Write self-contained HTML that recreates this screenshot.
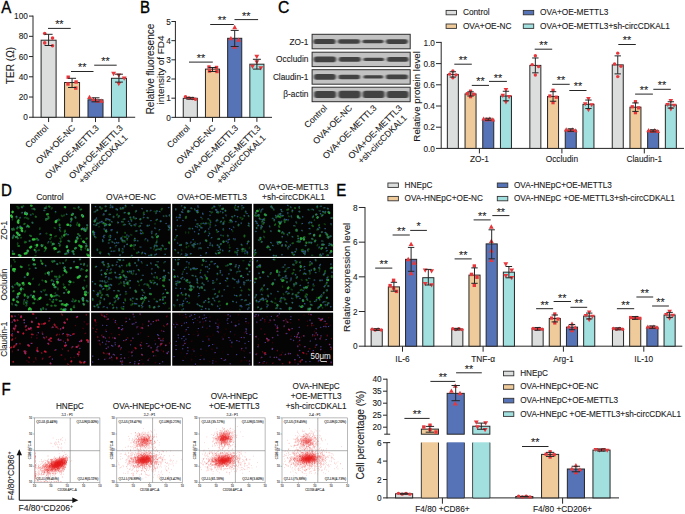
<!DOCTYPE html>
<html><head><meta charset="utf-8"><style>html,body{margin:0;padding:0;background:#fff;overflow:hidden}svg{display:block}</style></head>
<body><svg width="685" height="514" viewBox="0 0 685 514" font-family='"Liberation Sans", sans-serif'>
<style>text{stroke:#1a1a1a;stroke-width:0.1px;paint-order:stroke}</style>
<rect width="685" height="514" fill="#fff"/>
<text x="0" y="0" font-size="16.2" text-anchor="start" fill="#000" transform="translate(1.2 12.9) scale(0.93 1)" style="stroke:#000;stroke-width:0.35px">A</text>
<line x1="33" y1="15.6" x2="33" y2="117.75" stroke="#262626" stroke-width="1"/>
<line x1="29" y1="117.25" x2="33" y2="117.25" stroke="#262626" stroke-width="1"/>
<text x="0" y="0" font-size="8.9" text-anchor="end" fill="#1a1a1a" transform="translate(27.9 120.4) scale(0.93 1)">0</text>
<line x1="29" y1="97.02" x2="33" y2="97.02" stroke="#262626" stroke-width="1"/>
<text x="0" y="0" font-size="8.9" text-anchor="end" fill="#1a1a1a" transform="translate(27.9 100.17) scale(0.93 1)">20</text>
<line x1="29" y1="76.79" x2="33" y2="76.79" stroke="#262626" stroke-width="1"/>
<text x="0" y="0" font-size="8.9" text-anchor="end" fill="#1a1a1a" transform="translate(27.9 79.94) scale(0.93 1)">40</text>
<line x1="29" y1="56.56" x2="33" y2="56.56" stroke="#262626" stroke-width="1"/>
<text x="0" y="0" font-size="8.9" text-anchor="end" fill="#1a1a1a" transform="translate(27.9 59.71) scale(0.93 1)">60</text>
<line x1="29" y1="36.33" x2="33" y2="36.33" stroke="#262626" stroke-width="1"/>
<text x="0" y="0" font-size="8.9" text-anchor="end" fill="#1a1a1a" transform="translate(27.9 39.48) scale(0.93 1)">80</text>
<line x1="29" y1="16.1" x2="33" y2="16.1" stroke="#262626" stroke-width="1"/>
<text x="0" y="0" font-size="8.9" text-anchor="end" fill="#1a1a1a" transform="translate(27.9 19.25) scale(0.93 1)">100</text>
<line x1="33" y1="117.25" x2="135.2" y2="117.25" stroke="#262626" stroke-width="1"/>
<rect x="41.1" y="40.2" width="15" height="77.05" fill="#dcdddd" stroke="#262626" stroke-width="1"/>
<line x1="48.6" y1="117.25" x2="48.6" y2="122.05" stroke="#262626" stroke-width="1"/>
<rect x="64.55" y="82.5" width="15" height="34.75" fill="#efca9b" stroke="#262626" stroke-width="1"/>
<line x1="72.05" y1="117.25" x2="72.05" y2="122.05" stroke="#262626" stroke-width="1"/>
<rect x="88" y="99.8" width="15" height="17.45" fill="#5673b7" stroke="#262626" stroke-width="1"/>
<line x1="95.5" y1="117.25" x2="95.5" y2="122.05" stroke="#262626" stroke-width="1"/>
<rect x="111.45" y="78.3" width="15" height="38.95" fill="#a2e0e0" stroke="#262626" stroke-width="1"/>
<line x1="118.95" y1="117.25" x2="118.95" y2="122.05" stroke="#262626" stroke-width="1"/>
<circle cx="44.7" cy="33.5" r="1.8" fill="#e8373c"/>
<circle cx="52.5" cy="38.1" r="1.8" fill="#e8373c"/>
<circle cx="44.7" cy="42.9" r="1.8" fill="#e8373c"/>
<circle cx="52.5" cy="45.7" r="1.8" fill="#e8373c"/>
<line x1="48.6" y1="34.3" x2="48.6" y2="45.5" stroke="#262626" stroke-width="1"/>
<line x1="44.6" y1="34.3" x2="52.6" y2="34.3" stroke="#262626" stroke-width="1"/>
<line x1="44.6" y1="45.5" x2="52.6" y2="45.5" stroke="#262626" stroke-width="1"/>
<rect x="66.5" y="75.5" width="3.4" height="3.4" fill="#e8373c"/>
<rect x="74.4" y="80.3" width="3.4" height="3.4" fill="#e8373c"/>
<rect x="66.3" y="82.3" width="3.4" height="3.4" fill="#e8373c"/>
<rect x="74.1" y="86.4" width="3.4" height="3.4" fill="#e8373c"/>
<line x1="72.05" y1="78.3" x2="72.05" y2="87.5" stroke="#262626" stroke-width="1"/>
<line x1="68.05" y1="78.3" x2="76.05" y2="78.3" stroke="#262626" stroke-width="1"/>
<line x1="68.05" y1="87.5" x2="76.05" y2="87.5" stroke="#262626" stroke-width="1"/>
<path d="M89.5 94.75L91.95 99.04L87.05 99.04Z" fill="#e8373c"/>
<path d="M93.5 97.05L95.95 101.34L91.05 101.34Z" fill="#e8373c"/>
<path d="M97.5 98.55L99.95 102.84L95.05 102.84Z" fill="#e8373c"/>
<path d="M101.5 98.55L103.95 102.84L99.05 102.84Z" fill="#e8373c"/>
<line x1="95.5" y1="97.8" x2="95.5" y2="101.8" stroke="#262626" stroke-width="1"/>
<line x1="91.5" y1="97.8" x2="99.5" y2="97.8" stroke="#262626" stroke-width="1"/>
<line x1="91.5" y1="101.8" x2="99.5" y2="101.8" stroke="#262626" stroke-width="1"/>
<path d="M113.6 76.15L116.05 71.86L111.15 71.86Z" fill="#e8373c"/>
<path d="M118.8 77.75L121.25 73.46L116.35 73.46Z" fill="#e8373c"/>
<path d="M124.2 80.75L126.65 76.46L121.75 76.46Z" fill="#e8373c"/>
<path d="M118.8 86.35L121.25 82.06L116.35 82.06Z" fill="#e8373c"/>
<line x1="118.95" y1="74.2" x2="118.95" y2="82.1" stroke="#262626" stroke-width="1"/>
<line x1="114.95" y1="74.2" x2="122.95" y2="74.2" stroke="#262626" stroke-width="1"/>
<line x1="114.95" y1="82.1" x2="122.95" y2="82.1" stroke="#262626" stroke-width="1"/>
<line x1="48" y1="28.4" x2="70.7" y2="28.4" stroke="#262626" stroke-width="1"/>
<text x="59.35" y="28.15" font-size="10.8" text-anchor="middle" fill="#1a1a1a">**</text>
<line x1="71" y1="71.5" x2="93.5" y2="71.5" stroke="#262626" stroke-width="1"/>
<text x="82.25" y="71.35" font-size="10.8" text-anchor="middle" fill="#1a1a1a">**</text>
<line x1="94.2" y1="65.2" x2="116.7" y2="65.2" stroke="#262626" stroke-width="1"/>
<text x="105.45" y="65.45" font-size="10.8" text-anchor="middle" fill="#1a1a1a">**</text>
<text x="0" y="0" font-size="10.1" text-anchor="middle" fill="#1a1a1a" transform="translate(14.2 65.5) rotate(-90)">TER (Ω)</text>
<text x="0" y="0" font-size="8.75" text-anchor="end" fill="#1a1a1a" transform="translate(48.8 128.45) rotate(-45)">Control</text>
<text x="0" y="0" font-size="8.75" text-anchor="end" fill="#1a1a1a" transform="translate(75.65 128.45) rotate(-45)">OVA+OE-NC</text>
<text x="0" y="0" font-size="8.75" text-anchor="end" fill="#1a1a1a" transform="translate(99.5 128.45) rotate(-45)">OVA+OE-METTL3</text>
<text x="0" y="0" font-size="8.75" text-anchor="middle" fill="#1a1a1a" transform="translate(97.88 154.02) rotate(-45)">OVA+OE-METTL3</text>
<text x="0" y="0" font-size="8.75" text-anchor="middle" fill="#1a1a1a" transform="translate(105.23 161.37) rotate(-45)">+sh-circCDKAL1</text>
<text x="0" y="0" font-size="16.2" text-anchor="start" fill="#000" transform="translate(140 13.1) scale(0.93 1)" style="stroke:#000;stroke-width:0.35px">B</text>
<line x1="175.4" y1="21" x2="175.4" y2="117.85" stroke="#262626" stroke-width="1"/>
<line x1="171.4" y1="117.35" x2="175.4" y2="117.35" stroke="#262626" stroke-width="1"/>
<text x="0" y="0" font-size="8.9" text-anchor="end" fill="#1a1a1a" transform="translate(170.9 120.5) scale(0.93 1)">0</text>
<line x1="171.4" y1="98.18" x2="175.4" y2="98.18" stroke="#262626" stroke-width="1"/>
<text x="0" y="0" font-size="8.9" text-anchor="end" fill="#1a1a1a" transform="translate(170.9 101.33) scale(0.93 1)">1</text>
<line x1="171.4" y1="79.01" x2="175.4" y2="79.01" stroke="#262626" stroke-width="1"/>
<text x="0" y="0" font-size="8.9" text-anchor="end" fill="#1a1a1a" transform="translate(170.9 82.16) scale(0.93 1)">2</text>
<line x1="171.4" y1="59.84" x2="175.4" y2="59.84" stroke="#262626" stroke-width="1"/>
<text x="0" y="0" font-size="8.9" text-anchor="end" fill="#1a1a1a" transform="translate(170.9 62.99) scale(0.93 1)">3</text>
<line x1="171.4" y1="40.67" x2="175.4" y2="40.67" stroke="#262626" stroke-width="1"/>
<text x="0" y="0" font-size="8.9" text-anchor="end" fill="#1a1a1a" transform="translate(170.9 43.82) scale(0.93 1)">4</text>
<line x1="171.4" y1="21.5" x2="175.4" y2="21.5" stroke="#262626" stroke-width="1"/>
<text x="0" y="0" font-size="8.9" text-anchor="end" fill="#1a1a1a" transform="translate(170.9 24.65) scale(0.93 1)">5</text>
<line x1="175.4" y1="117.35" x2="272" y2="117.35" stroke="#262626" stroke-width="1"/>
<rect x="183.25" y="98.3" width="14.1" height="19.05" fill="#dcdddd" stroke="#262626" stroke-width="1"/>
<line x1="190.3" y1="117.35" x2="190.3" y2="121.85" stroke="#262626" stroke-width="1"/>
<rect x="205.45" y="69.1" width="14.1" height="48.25" fill="#efca9b" stroke="#262626" stroke-width="1"/>
<line x1="212.5" y1="117.35" x2="212.5" y2="121.85" stroke="#262626" stroke-width="1"/>
<rect x="227.65" y="38.3" width="14.1" height="79.05" fill="#5673b7" stroke="#262626" stroke-width="1"/>
<line x1="234.7" y1="117.35" x2="234.7" y2="121.85" stroke="#262626" stroke-width="1"/>
<rect x="249.85" y="64.2" width="14.1" height="53.15" fill="#a2e0e0" stroke="#262626" stroke-width="1"/>
<line x1="256.9" y1="117.35" x2="256.9" y2="121.85" stroke="#262626" stroke-width="1"/>
<circle cx="185.5" cy="96.8" r="1.8" fill="#e8373c"/>
<circle cx="189" cy="98" r="1.8" fill="#e8373c"/>
<circle cx="192.5" cy="98.5" r="1.8" fill="#e8373c"/>
<circle cx="195.5" cy="99.2" r="1.8" fill="#e8373c"/>
<line x1="190.3" y1="97.4" x2="190.3" y2="99.2" stroke="#262626" stroke-width="1"/>
<line x1="186.3" y1="97.4" x2="194.3" y2="97.4" stroke="#262626" stroke-width="1"/>
<line x1="186.3" y1="99.2" x2="194.3" y2="99.2" stroke="#262626" stroke-width="1"/>
<rect x="207.3" y="65.3" width="3.4" height="3.4" fill="#e8373c"/>
<rect x="214.8" y="65.8" width="3.4" height="3.4" fill="#e8373c"/>
<rect x="207.8" y="69.3" width="3.4" height="3.4" fill="#e8373c"/>
<rect x="215.3" y="69.8" width="3.4" height="3.4" fill="#e8373c"/>
<line x1="212.5" y1="67.5" x2="212.5" y2="71.5" stroke="#262626" stroke-width="1"/>
<line x1="208.5" y1="67.5" x2="216.5" y2="67.5" stroke="#262626" stroke-width="1"/>
<line x1="208.5" y1="71.5" x2="216.5" y2="71.5" stroke="#262626" stroke-width="1"/>
<path d="M234.7 24.85L237.15 29.14L232.25 29.14Z" fill="#e8373c"/>
<path d="M230.9 36.05L233.35 40.34L228.45 40.34Z" fill="#e8373c"/>
<path d="M238.5 37.55L240.95 41.84L236.05 41.84Z" fill="#e8373c"/>
<path d="M234.7 44.55L237.15 48.84L232.25 48.84Z" fill="#e8373c"/>
<line x1="234.7" y1="30.4" x2="234.7" y2="46.5" stroke="#262626" stroke-width="1"/>
<line x1="230.7" y1="30.4" x2="238.7" y2="30.4" stroke="#262626" stroke-width="1"/>
<line x1="230.7" y1="46.5" x2="238.7" y2="46.5" stroke="#262626" stroke-width="1"/>
<path d="M256.8 58.95L259.25 54.66L254.35 54.66Z" fill="#e8373c"/>
<path d="M256.8 64.45L259.25 60.16L254.35 60.16Z" fill="#e8373c"/>
<path d="M252.5 68.95L254.95 64.66L250.05 64.66Z" fill="#e8373c"/>
<path d="M260.8 70.45L263.25 66.16L258.35 66.16Z" fill="#e8373c"/>
<line x1="256.9" y1="59.3" x2="256.9" y2="69.1" stroke="#262626" stroke-width="1"/>
<line x1="252.9" y1="59.3" x2="260.9" y2="59.3" stroke="#262626" stroke-width="1"/>
<line x1="252.9" y1="69.1" x2="260.9" y2="69.1" stroke="#262626" stroke-width="1"/>
<line x1="189" y1="62.1" x2="212.8" y2="62.1" stroke="#262626" stroke-width="1"/>
<text x="200.9" y="62.25" font-size="10.8" text-anchor="middle" fill="#1a1a1a">**</text>
<line x1="210.2" y1="24.5" x2="233.8" y2="24.5" stroke="#262626" stroke-width="1"/>
<text x="222" y="24.45" font-size="10.8" text-anchor="middle" fill="#1a1a1a">**</text>
<line x1="234.5" y1="19.6" x2="258.1" y2="19.6" stroke="#262626" stroke-width="1"/>
<text x="246.3" y="20.15" font-size="10.8" text-anchor="middle" fill="#1a1a1a">**</text>
<text x="0" y="0" font-size="10" text-anchor="middle" fill="#1a1a1a" transform="translate(154.1 69.05) rotate(-90)">Relative fluoresence</text>
<text x="0" y="0" font-size="9.95" text-anchor="middle" fill="#1a1a1a" transform="translate(163.9 70) rotate(-90)">intensity of FD4</text>
<text x="0" y="0" font-size="8.75" text-anchor="end" fill="#1a1a1a" transform="translate(190.5 128.55) rotate(-45)">Control</text>
<text x="0" y="0" font-size="8.75" text-anchor="end" fill="#1a1a1a" transform="translate(216.1 128.55) rotate(-45)">OVA+OE-NC</text>
<text x="0" y="0" font-size="8.75" text-anchor="end" fill="#1a1a1a" transform="translate(238.7 128.55) rotate(-45)">OVA+OE-METTL3</text>
<text x="0" y="0" font-size="8.75" text-anchor="middle" fill="#1a1a1a" transform="translate(235.83 154.12) rotate(-45)">OVA+OE-METTL3</text>
<text x="0" y="0" font-size="8.75" text-anchor="middle" fill="#1a1a1a" transform="translate(243.18 161.47) rotate(-45)">+sh-circCDKAL1</text>
<text x="0" y="0" font-size="16.2" text-anchor="start" fill="#000" transform="translate(277.9 13.3) scale(0.97 1)" style="stroke:#000;stroke-width:0.35px">C</text>
<text x="308.4" y="44.55" font-size="8.3" text-anchor="end" fill="#1a1a1a">ZO-1</text>
<text x="308.4" y="62.4" font-size="8.3" text-anchor="end" fill="#1a1a1a">Occludin</text>
<text x="308.4" y="79.95" font-size="8.3" text-anchor="end" fill="#1a1a1a">Claudin-1</text>
<text x="308.4" y="97.45" font-size="8.3" text-anchor="end" fill="#1a1a1a">β-actin</text>
<defs><filter id="bb" x="-20%" y="-50%" width="140%" height="200%"><feGaussianBlur stdDeviation="1.0 0.75"/></filter></defs>
<rect x="312.1" y="34.3" width="98.1" height="14.5" fill="#c2c2c2" stroke="#2e2e2e" stroke-width="1"/>
<g filter="url(#bb)"><rect x="313.4" y="39" width="22.2" height="5.1" rx="2.55" fill="#424242"/><rect x="337.9" y="39.25" width="22.2" height="4.6" rx="2.3" fill="#424242"/><rect x="362.4" y="39.75" width="21.2" height="3.6" rx="1.8" fill="#424242"/><rect x="385.9" y="39.15" width="22" height="4.8" rx="2.4" fill="#424242"/></g>
<rect x="312.1" y="52.2" width="98.1" height="14.4" fill="#c2c2c2" stroke="#2e2e2e" stroke-width="1"/>
<g filter="url(#bb)"><rect x="313.7" y="56.6" width="22.4" height="5.6" rx="2.8" fill="#424242"/><rect x="338.7" y="57.1" width="22.1" height="4.6" rx="2.3" fill="#424242"/><rect x="363.4" y="57.7" width="20.7" height="3.4" rx="1.7" fill="#424242"/><rect x="386.8" y="57.1" width="21.8" height="4.6" rx="2.3" fill="#424242"/></g>
<rect x="312.1" y="69.7" width="98.1" height="14.5" fill="#c2c2c2" stroke="#2e2e2e" stroke-width="1"/>
<g filter="url(#bb)"><rect x="313.9" y="74.05" width="22" height="5.8" rx="2.8" fill="#424242"/><rect x="338.4" y="74.75" width="21.7" height="4.4" rx="2.2" fill="#424242"/><rect x="363.4" y="75.35" width="19.8" height="3.2" rx="1.6" fill="#424242"/><rect x="385.9" y="74.55" width="22.2" height="4.8" rx="2.4" fill="#424242"/></g>
<rect x="312.1" y="87.2" width="98.1" height="14.5" fill="#c2c2c2" stroke="#2e2e2e" stroke-width="1"/>
<g filter="url(#bb)"><rect x="314.1" y="90.95" width="22" height="7" rx="2.8" fill="#424242"/><rect x="338.4" y="90.75" width="22.2" height="7.4" rx="2.8" fill="#424242"/><rect x="362.7" y="90.85" width="21.9" height="7.2" rx="2.8" fill="#424242"/><rect x="386.6" y="90.95" width="22" height="7" rx="2.8" fill="#424242"/></g>
<text x="0" y="0" font-size="8.75" text-anchor="end" fill="#1a1a1a" transform="translate(327.7 108.6) rotate(-45)">Control</text>
<text x="0" y="0" font-size="8.75" text-anchor="end" fill="#1a1a1a" transform="translate(352.7 108.6) rotate(-45)">OVA+OE-NC</text>
<text x="0" y="0" font-size="8.75" text-anchor="end" fill="#1a1a1a" transform="translate(377.1 108.6) rotate(-45)">OVA+OE-METTL3</text>
<text x="0" y="0" font-size="8.75" text-anchor="middle" fill="#1a1a1a" transform="translate(377.13 134.07) rotate(-45)">OVA+OE-METTL3</text>
<text x="0" y="0" font-size="8.75" text-anchor="middle" fill="#1a1a1a" transform="translate(384.48 141.42) rotate(-45)">+sh-circCDKAL1</text>
<line x1="441.2" y1="41.9" x2="441.2" y2="148.9" stroke="#262626" stroke-width="1"/>
<line x1="436" y1="148.4" x2="441.2" y2="148.4" stroke="#262626" stroke-width="1"/>
<text x="0" y="0" font-size="8.9" text-anchor="end" fill="#1a1a1a" transform="translate(434.9 151.55) scale(0.93 1)">0.0</text>
<line x1="436" y1="127.2" x2="441.2" y2="127.2" stroke="#262626" stroke-width="1"/>
<text x="0" y="0" font-size="8.9" text-anchor="end" fill="#1a1a1a" transform="translate(434.9 130.35) scale(0.93 1)">0.2</text>
<line x1="436" y1="106" x2="441.2" y2="106" stroke="#262626" stroke-width="1"/>
<text x="0" y="0" font-size="8.9" text-anchor="end" fill="#1a1a1a" transform="translate(434.9 109.15) scale(0.93 1)">0.4</text>
<line x1="436" y1="84.8" x2="441.2" y2="84.8" stroke="#262626" stroke-width="1"/>
<text x="0" y="0" font-size="8.9" text-anchor="end" fill="#1a1a1a" transform="translate(434.9 87.95) scale(0.93 1)">0.6</text>
<line x1="436" y1="63.6" x2="441.2" y2="63.6" stroke="#262626" stroke-width="1"/>
<text x="0" y="0" font-size="8.9" text-anchor="end" fill="#1a1a1a" transform="translate(434.9 66.75) scale(0.93 1)">0.8</text>
<line x1="436" y1="42.4" x2="441.2" y2="42.4" stroke="#262626" stroke-width="1"/>
<text x="0" y="0" font-size="8.9" text-anchor="end" fill="#1a1a1a" transform="translate(434.9 45.55) scale(0.93 1)">1.0</text>
<line x1="441.2" y1="148.4" x2="684" y2="148.4" stroke="#262626" stroke-width="1"/>
<line x1="479.4" y1="148.4" x2="479.4" y2="153.4" stroke="#262626" stroke-width="1"/>
<rect x="447.35" y="74.41" width="11" height="73.99" fill="#dcdddd" stroke="#262626" stroke-width="1"/>
<rect x="465.05" y="93.92" width="11" height="54.48" fill="#efca9b" stroke="#262626" stroke-width="1"/>
<rect x="482.75" y="119.25" width="11" height="29.15" fill="#5673b7" stroke="#262626" stroke-width="1"/>
<rect x="500.45" y="96.04" width="11" height="52.36" fill="#a2e0e0" stroke="#262626" stroke-width="1"/>
<line x1="561.9" y1="148.4" x2="561.9" y2="153.4" stroke="#262626" stroke-width="1"/>
<rect x="529.85" y="65.4" width="11" height="83" fill="#dcdddd" stroke="#262626" stroke-width="1"/>
<rect x="547.55" y="96.46" width="11" height="51.94" fill="#efca9b" stroke="#262626" stroke-width="1"/>
<rect x="565.25" y="130.06" width="11" height="18.34" fill="#5673b7" stroke="#262626" stroke-width="1"/>
<rect x="582.95" y="104.3" width="11" height="44.1" fill="#a2e0e0" stroke="#262626" stroke-width="1"/>
<line x1="644.3" y1="148.4" x2="644.3" y2="153.4" stroke="#262626" stroke-width="1"/>
<rect x="612.25" y="64.87" width="11" height="83.53" fill="#dcdddd" stroke="#262626" stroke-width="1"/>
<rect x="629.95" y="107.17" width="11" height="41.23" fill="#efca9b" stroke="#262626" stroke-width="1"/>
<rect x="647.65" y="130.8" width="11" height="17.6" fill="#5673b7" stroke="#262626" stroke-width="1"/>
<rect x="665.35" y="104.94" width="11" height="43.46" fill="#a2e0e0" stroke="#262626" stroke-width="1"/>
<circle cx="452.85" cy="70.97" r="1.71" fill="#e8373c"/>
<circle cx="449.65" cy="74.15" r="1.71" fill="#e8373c"/>
<circle cx="456.05" cy="74.84" r="1.71" fill="#e8373c"/>
<circle cx="452.85" cy="77.86" r="1.71" fill="#e8373c"/>
<line x1="452.85" y1="71.76" x2="452.85" y2="77.06" stroke="#262626" stroke-width="1"/>
<line x1="449.65" y1="71.76" x2="456.05" y2="71.76" stroke="#262626" stroke-width="1"/>
<line x1="449.65" y1="77.06" x2="456.05" y2="77.06" stroke="#262626" stroke-width="1"/>
<rect x="468.93" y="89.55" width="3.23" height="3.23" fill="#e8373c"/>
<rect x="465.73" y="92.09" width="3.23" height="3.23" fill="#e8373c"/>
<rect x="472.13" y="92.64" width="3.23" height="3.23" fill="#e8373c"/>
<rect x="468.93" y="95.06" width="3.23" height="3.23" fill="#e8373c"/>
<line x1="470.55" y1="91.8" x2="470.55" y2="96.04" stroke="#262626" stroke-width="1"/>
<line x1="467.35" y1="91.8" x2="473.75" y2="91.8" stroke="#262626" stroke-width="1"/>
<line x1="467.35" y1="96.04" x2="473.75" y2="96.04" stroke="#262626" stroke-width="1"/>
<path d="M483.69 116.52L486.02 120.6L481.36 120.6Z" fill="#e8373c"/>
<path d="M486.73 117.32L489.06 121.4L484.4 121.4Z" fill="#e8373c"/>
<path d="M489.77 116.52L492.1 120.6L487.44 120.6Z" fill="#e8373c"/>
<path d="M492.81 117.32L495.14 121.4L490.48 121.4Z" fill="#e8373c"/>
<line x1="488.25" y1="118.19" x2="488.25" y2="120.31" stroke="#262626" stroke-width="1"/>
<line x1="485.05" y1="118.19" x2="491.45" y2="118.19" stroke="#262626" stroke-width="1"/>
<line x1="485.05" y1="120.31" x2="491.45" y2="120.31" stroke="#262626" stroke-width="1"/>
<path d="M505.95 92.16L508.28 88.09L503.62 88.09Z" fill="#e8373c"/>
<path d="M502.75 97.89L505.08 93.81L500.42 93.81Z" fill="#e8373c"/>
<path d="M509.15 99.13L511.48 95.05L506.82 95.05Z" fill="#e8373c"/>
<path d="M505.95 104.56L508.28 100.49L503.62 100.49Z" fill="#e8373c"/>
<line x1="505.95" y1="91.27" x2="505.95" y2="100.81" stroke="#262626" stroke-width="1"/>
<line x1="502.75" y1="91.27" x2="509.15" y2="91.27" stroke="#262626" stroke-width="1"/>
<line x1="502.75" y1="100.81" x2="509.15" y2="100.81" stroke="#262626" stroke-width="1"/>
<circle cx="535.35" cy="55.76" r="1.71" fill="#e8373c"/>
<circle cx="532.15" cy="64.66" r="1.71" fill="#e8373c"/>
<circle cx="538.55" cy="66.59" r="1.71" fill="#e8373c"/>
<circle cx="535.35" cy="75.05" r="1.71" fill="#e8373c"/>
<line x1="535.35" y1="57.98" x2="535.35" y2="72.82" stroke="#262626" stroke-width="1"/>
<line x1="532.15" y1="57.98" x2="538.55" y2="57.98" stroke="#262626" stroke-width="1"/>
<line x1="532.15" y1="72.82" x2="538.55" y2="72.82" stroke="#262626" stroke-width="1"/>
<rect x="551.43" y="88.64" width="3.23" height="3.23" fill="#e8373c"/>
<rect x="548.23" y="94.37" width="3.23" height="3.23" fill="#e8373c"/>
<rect x="554.63" y="95.61" width="3.23" height="3.23" fill="#e8373c"/>
<rect x="551.43" y="101.05" width="3.23" height="3.23" fill="#e8373c"/>
<line x1="553.05" y1="91.69" x2="553.05" y2="101.23" stroke="#262626" stroke-width="1"/>
<line x1="549.85" y1="91.69" x2="556.25" y2="91.69" stroke="#262626" stroke-width="1"/>
<line x1="549.85" y1="101.23" x2="556.25" y2="101.23" stroke="#262626" stroke-width="1"/>
<path d="M566.19 127.33L568.52 131.41L563.86 131.41Z" fill="#e8373c"/>
<path d="M569.23 128.13L571.56 132.21L566.9 132.21Z" fill="#e8373c"/>
<path d="M572.27 127.33L574.6 131.41L569.94 131.41Z" fill="#e8373c"/>
<path d="M575.31 128.13L577.64 132.21L572.98 132.21Z" fill="#e8373c"/>
<line x1="570.75" y1="128.79" x2="570.75" y2="131.33" stroke="#262626" stroke-width="1"/>
<line x1="567.55" y1="128.79" x2="573.95" y2="128.79" stroke="#262626" stroke-width="1"/>
<line x1="567.55" y1="131.33" x2="573.95" y2="131.33" stroke="#262626" stroke-width="1"/>
<path d="M588.45 101.12L590.78 97.05L586.12 97.05Z" fill="#e8373c"/>
<path d="M585.25 106.21L587.58 102.13L582.92 102.13Z" fill="#e8373c"/>
<path d="M591.65 107.31L593.98 103.24L589.32 103.24Z" fill="#e8373c"/>
<path d="M588.45 112.14L590.78 108.07L586.12 108.07Z" fill="#e8373c"/>
<line x1="588.45" y1="100.06" x2="588.45" y2="108.54" stroke="#262626" stroke-width="1"/>
<line x1="585.25" y1="100.06" x2="591.65" y2="100.06" stroke="#262626" stroke-width="1"/>
<line x1="585.25" y1="108.54" x2="591.65" y2="108.54" stroke="#262626" stroke-width="1"/>
<circle cx="617.75" cy="53.16" r="1.71" fill="#e8373c"/>
<circle cx="614.55" cy="63.97" r="1.71" fill="#e8373c"/>
<circle cx="620.95" cy="66.31" r="1.71" fill="#e8373c"/>
<circle cx="617.75" cy="76.59" r="1.71" fill="#e8373c"/>
<line x1="617.75" y1="55.86" x2="617.75" y2="73.88" stroke="#262626" stroke-width="1"/>
<line x1="614.55" y1="55.86" x2="620.95" y2="55.86" stroke="#262626" stroke-width="1"/>
<line x1="614.55" y1="73.88" x2="620.95" y2="73.88" stroke="#262626" stroke-width="1"/>
<rect x="633.83" y="100.04" width="3.23" height="3.23" fill="#e8373c"/>
<rect x="630.63" y="105.13" width="3.23" height="3.23" fill="#e8373c"/>
<rect x="637.03" y="106.23" width="3.23" height="3.23" fill="#e8373c"/>
<rect x="633.83" y="111.06" width="3.23" height="3.23" fill="#e8373c"/>
<line x1="635.45" y1="102.93" x2="635.45" y2="111.41" stroke="#262626" stroke-width="1"/>
<line x1="632.25" y1="102.93" x2="638.65" y2="102.93" stroke="#262626" stroke-width="1"/>
<line x1="632.25" y1="111.41" x2="638.65" y2="111.41" stroke="#262626" stroke-width="1"/>
<path d="M648.59 128.08L650.92 132.15L646.26 132.15Z" fill="#e8373c"/>
<path d="M651.63 128.88L653.96 132.95L649.3 132.95Z" fill="#e8373c"/>
<path d="M654.67 128.08L657 132.15L652.34 132.15Z" fill="#e8373c"/>
<path d="M657.71 128.88L660.04 132.95L655.38 132.95Z" fill="#e8373c"/>
<line x1="653.15" y1="129.74" x2="653.15" y2="131.86" stroke="#262626" stroke-width="1"/>
<line x1="649.95" y1="129.74" x2="656.35" y2="129.74" stroke="#262626" stroke-width="1"/>
<line x1="649.95" y1="131.86" x2="656.35" y2="131.86" stroke="#262626" stroke-width="1"/>
<path d="M670.85 103.13L673.18 99.06L668.52 99.06Z" fill="#e8373c"/>
<path d="M667.65 106.95L669.98 102.88L665.32 102.88Z" fill="#e8373c"/>
<path d="M674.05 107.78L676.38 103.7L671.72 103.7Z" fill="#e8373c"/>
<path d="M670.85 111.4L673.18 107.33L668.52 107.33Z" fill="#e8373c"/>
<line x1="670.85" y1="101.76" x2="670.85" y2="108.12" stroke="#262626" stroke-width="1"/>
<line x1="667.65" y1="101.76" x2="674.05" y2="101.76" stroke="#262626" stroke-width="1"/>
<line x1="667.65" y1="108.12" x2="674.05" y2="108.12" stroke="#262626" stroke-width="1"/>
<line x1="454.3" y1="64.2" x2="471.8" y2="64.2" stroke="#262626" stroke-width="1"/>
<text x="463.05" y="64.05" font-size="10.8" text-anchor="middle" fill="#1a1a1a">**</text>
<line x1="471.8" y1="85.4" x2="489" y2="85.4" stroke="#262626" stroke-width="1"/>
<text x="480.4" y="84.85" font-size="10.8" text-anchor="middle" fill="#1a1a1a">**</text>
<line x1="489" y1="81.4" x2="506.9" y2="81.4" stroke="#262626" stroke-width="1"/>
<text x="497.95" y="82.25" font-size="10.8" text-anchor="middle" fill="#1a1a1a">**</text>
<line x1="534.7" y1="49.2" x2="552.2" y2="49.2" stroke="#262626" stroke-width="1"/>
<text x="543.45" y="49.05" font-size="10.8" text-anchor="middle" fill="#1a1a1a">**</text>
<line x1="552.2" y1="84.3" x2="569.7" y2="84.3" stroke="#262626" stroke-width="1"/>
<text x="560.95" y="84.05" font-size="10.8" text-anchor="middle" fill="#1a1a1a">**</text>
<line x1="569.3" y1="90.5" x2="586.5" y2="90.5" stroke="#262626" stroke-width="1"/>
<text x="577.9" y="90.35" font-size="10.8" text-anchor="middle" fill="#1a1a1a">**</text>
<line x1="618.3" y1="44.5" x2="635.8" y2="44.5" stroke="#262626" stroke-width="1"/>
<text x="627.05" y="44.25" font-size="10.8" text-anchor="middle" fill="#1a1a1a">**</text>
<line x1="635.1" y1="94.1" x2="652.9" y2="94.1" stroke="#262626" stroke-width="1"/>
<text x="644" y="93.85" font-size="10.8" text-anchor="middle" fill="#1a1a1a">**</text>
<line x1="653.3" y1="89.3" x2="670.8" y2="89.3" stroke="#262626" stroke-width="1"/>
<text x="662.05" y="89.15" font-size="10.8" text-anchor="middle" fill="#1a1a1a">**</text>
<text x="479.4" y="161.8" font-size="8.3" text-anchor="middle" fill="#1a1a1a">ZO-1</text>
<text x="561.9" y="161.8" font-size="8.3" text-anchor="middle" fill="#1a1a1a">Occludin</text>
<text x="644.3" y="161.8" font-size="8.3" text-anchor="middle" fill="#1a1a1a">Claudin-1</text>
<text x="0" y="0" font-size="9.75" text-anchor="middle" fill="#1a1a1a" transform="translate(419.9 96.4) rotate(-90)">Relative protein level</text>
<rect x="446.1" y="10.4" width="10.4" height="4.4" fill="#dcdddd" stroke="#333" stroke-width="0.9"/>
<text x="462.9" y="15" font-size="8.3" text-anchor="start" fill="#1a1a1a">Control</text>
<rect x="446.1" y="24" width="10.4" height="4.4" fill="#efca9b" stroke="#333" stroke-width="0.9"/>
<text x="462.9" y="28.6" font-size="8.3" text-anchor="start" fill="#1a1a1a">OVA+OE-NC</text>
<rect x="523.3" y="10.4" width="10.4" height="4.4" fill="#5673b7" stroke="#333" stroke-width="0.9"/>
<text x="540.1" y="15" font-size="8.3" text-anchor="start" fill="#1a1a1a">OVA+OE-METTL3</text>
<rect x="523.3" y="24" width="10.4" height="4.4" fill="#a2e0e0" stroke="#333" stroke-width="0.9"/>
<text x="540.1" y="28.6" font-size="8.3" text-anchor="start" fill="#1a1a1a">OVA+OE-METTL3+sh-circCDKAL1</text>
<text x="0" y="0" font-size="16.2" text-anchor="start" fill="#000" transform="translate(1.1 196) scale(0.93 1)" style="stroke:#000;stroke-width:0.35px">D</text>
<text x="49.85" y="199.7" font-size="8.5" text-anchor="middle" fill="#1a1a1a">Control</text>
<text x="130.95" y="199.7" font-size="8.5" text-anchor="middle" fill="#1a1a1a">OVA+OE-NC</text>
<text x="212.05" y="199.7" font-size="8.5" text-anchor="middle" fill="#1a1a1a">OVA+OE-METTL3</text>
<text x="293.55" y="189.8" font-size="8.5" text-anchor="middle" fill="#1a1a1a">OVA+OE-METTL3</text>
<text x="293.55" y="199.5" font-size="8.5" text-anchor="middle" fill="#1a1a1a">+sh-circCDKAL1</text>
<text x="0" y="0" font-size="8.2" text-anchor="middle" fill="#1a1a1a" transform="translate(7.4 230.35) rotate(-90)">ZO-1</text>
<text x="0" y="0" font-size="8.2" text-anchor="middle" fill="#1a1a1a" transform="translate(7.4 284.55) rotate(-90)">Occludin</text>
<text x="0" y="0" font-size="8.2" text-anchor="middle" fill="#1a1a1a" transform="translate(7.4 339.15) rotate(-90)">Claudin-1</text>
<defs><filter id="fb" x="-5%" y="-5%" width="110%" height="110%"><feGaussianBlur stdDeviation="0.45"/></filter></defs>
<rect x="10" y="203.8" width="79.7" height="53.1" fill="#040404"/>
<g filter="url(#fb)">
<path d="M46.2 233.4l0.6 0.2M25.5 231.0l-0.7 0.9M87.1 253.9l0.3 0.3M61.7 236.2l0.5 1.1M23.4 205.8l0.2 0.4M52.0 208.0l-0.6 0.8M25.9 217.3l-1.4 0.4M45.3 247.7l-0.8 0.2M51.3 237.5l-0.5 0.4M49.8 238.6l0.4 0.6M33.5 208.6l-1.4 0.3M76.6 224.6l0.5 0.5M85.3 248.0l0.3 0.7M81.6 228.8l0.2 0.7M85.7 243.4l0.8 0.6M20.3 217.5l-0.8 0.6M19.0 208.0l-0.9 0.5M54.4 227.7l1.0 0.6M21.3 237.6l-0.6 0.2M27.7 218.7l0.9 0.1M27.5 225.0l-0.1 1.0M27.7 218.1l-1.1 0.1M70.9 221.7l-0.3 0.2M39.9 228.0l-0.2 1.2M30.5 214.6l0.4 0.1M68.4 252.7l-1.0 1.0M43.8 210.3l1.0 0.3M57.3 219.9l1.1 0.5M24.8 241.5l-0.3 0.5M58.7 219.2l0.9 0.8M12.5 218.6l-0.1 1.2M55.4 211.7l0.2 0.7M39.2 250.2l-1.1 0.1M12.6 251.1l0.0 0.9M48.5 242.0l-0.7 0.9M35.9 255.7l-0.8 0.2M38.4 239.7l-0.9 0.6M43.4 245.1l-1.2 0.6M56.2 235.9l-1.2 0.7M68.0 234.5l-1.1 0.1M17.7 243.0l-0.1 1.2M65.2 230.2l-0.7 0.5M81.2 238.5l0.1 0.4M45.4 250.2l-1.0 1.1M26.5 226.8l0.2 0.4M32.6 213.6l0.6 0.5M59.6 230.0l0.9 1.2M35.6 247.5l0.6 0.1M17.0 206.6l1.0 0.4M66.0 233.9l-0.4 0.3M35.1 245.1l0.8 0.2M46.4 206.3l-0.4 1.4M22.1 207.4l0.4 0.0M59.8 227.6l0.5 0.3M59.9 238.2l0.9 0.8M64.1 215.1l-0.2 0.5M66.4 214.1l0.5 0.3M58.7 243.3l1.0 0.6M59.6 251.1l0.5 0.8M40.3 233.8l-0.7 0.5M61.5 215.4l0.9 1.0M52.7 245.1l-0.7 0.2M36.0 251.1l-0.2 1.5M77.4 222.7l0.0 0.5M73.7 208.2l1.4 0.2M22.1 212.5l-0.6 0.4M51.1 241.7l-0.1 0.9M76.1 240.0l1.0 1.2" stroke="rgb(16,68,21)" stroke-width="1.7" stroke-linecap="round"/>
<path d="M59.9 245.2l-0.3 0.5M18.2 246.0l0.9 0.0M13.5 228.5l0.5 1.2M46.6 219.1l-0.6 0.8M35.6 216.6l0.4 0.2M87.0 225.1l0.3 0.5M25.9 242.1l-0.8 0.4M20.2 226.3l-0.6 1.4M34.1 208.7l0.6 0.7M30.0 235.5l1.1 0.6M85.3 229.5l1.3 0.0M55.6 248.9l-1.2 0.6M79.4 235.6l0.6 0.2M29.6 240.7l-0.2 0.3M16.5 216.6l0.1 0.9M45.7 208.1l-1.0 0.1M24.8 223.7l-0.6 0.3M87.0 238.3l-0.6 0.5M22.0 206.8l-0.4 0.1M65.4 253.8l-0.5 0.3M12.8 237.3l-0.1 0.9M68.2 240.7l1.2 0.6M80.8 249.2l0.4 0.5M77.9 234.0l0.6 0.2M59.5 224.4l0.1 1.2M17.4 237.4l0.5 1.0M13.5 235.5l0.7 0.3M48.4 216.7l0.2 1.5M58.7 251.7l-0.9 0.6M36.5 238.8l0.7 0.0M73.5 251.4l-0.3 0.4M66.2 253.2l-0.2 0.8M46.0 219.0l1.5 0.0M87.1 227.9l-0.4 0.3M78.7 207.1l-0.2 0.6M75.3 217.0l0.4 0.9M73.6 253.6l0.4 0.6M12.0 228.9l0.4 1.0M32.3 222.5l0.4 0.4M65.1 231.4l-0.5 0.5M81.3 209.4l-1.0 0.2M84.2 228.5l-0.4 0.5M60.8 241.4l-0.3 0.2M87.0 254.6l0.4 0.2M17.6 227.4l-0.6 1.0M48.9 206.4l0.7 0.4" stroke="rgb(25,105,32)" stroke-width="1.95" stroke-linecap="round"/>
<path d="M82.6 228.6l-0.9 0.5M50.5 234.8l0.5 0.2M64.8 207.1l0.4 0.2M70.4 225.3l0.1 0.3M16.8 236.9l-0.8 0.2M71.4 218.7l-0.0 1.1M72.8 214.0l-1.0 0.9M86.3 245.7l0.2 0.6M34.7 249.9l0.1 0.3M77.2 237.5l0.4 1.1M14.2 253.8l-1.3 0.1M64.6 234.6l-0.5 0.9M72.5 251.4l0.7 0.0M45.3 247.5l0.5 1.0M31.0 205.6l0.7 0.2M79.2 224.5l-0.0 1.3M75.9 248.0l-0.9 0.5M27.7 226.0l1.1 0.6M47.9 214.1l-0.9 0.3M41.6 245.2l0.4 0.8M79.2 245.4l1.1 0.5M53.7 243.9l-0.9 0.0M73.0 213.8l-0.8 1.0M84.3 230.0l1.2 0.8" stroke="rgb(36,151,47)" stroke-width="2.2" stroke-linecap="round"/>
<path d="M18.5 220.4l-0.2 0.5M88.3 255.5l0.6 0.1M76.1 240.9l-0.3 1.1M11.2 215.6l0.7 1.2M17.9 221.9l0.4 0.8M19.0 255.2l1.4 0.6M18.2 234.5l1.3 0.6M25.3 212.8l-0.1 1.0M81.4 246.5l-0.1 0.6M26.4 253.2l-1.5 0.4M31.1 246.8l-0.9 0.6M54.4 248.2l1.2 0.5M82.1 215.3l0.9 1.1M17.0 232.7l0.7 0.7M68.2 250.6l-0.4 0.3M88.0 249.6l-0.1 0.4M67.5 224.7l0.5 0.0M34.5 239.4l-1.5 0.1M26.9 213.6l-0.3 0.6M56.3 221.0l-0.6 1.0M21.7 230.2l0.4 0.9M12.7 211.9l-0.2 0.2M83.3 241.6l0.7 0.5M21.2 228.0l0.7 0.3M67.0 246.5l-0.1 0.5M27.7 250.6l-0.0 0.6M37.1 244.9l-0.1 0.7" stroke="rgb(46,189,58)" stroke-width="2.45" stroke-linecap="round"/>
<path d="M82.7 228.4h0.3M70.2 225.4h0.3M87.0 224.9h0.3M16.8 236.9h0.3M71.1 218.8h0.3M85.6 243.4h0.3M20.1 217.7h0.3M20.4 226.4h0.3M86.4 245.5h0.3M77.1 237.4h0.3M18.7 255.4h0.3M70.8 221.7h0.3M33.8 209.0h0.3M18.2 234.8h0.3M85.2 229.8h0.3M25.5 212.7h0.3M30.7 214.9h0.3M68.4 252.5h0.3M79.2 235.7h0.3M44.0 210.5h0.3M29.7 241.0h0.3M57.1 219.8h0.3M16.3 216.4h0.3M82.2 215.6h0.3M45.5 208.3h0.3M55.5 211.4h0.3M12.6 251.0h0.3M65.6 253.6h0.3M13.0 237.1h0.3M48.5 241.8h0.3M68.1 250.8h0.3M68.4 240.7h0.3M72.6 251.5h0.3M38.5 239.9h0.3M88.2 249.4h0.3M68.0 234.6h0.3M13.5 235.3h0.3M58.8 251.8h0.3M26.7 213.3h0.3M26.7 226.6h0.3M75.7 247.9h0.3M66.1 253.2h0.3M46.1 218.7h0.3M59.4 229.8h0.3M78.6 207.0h0.3M66.3 233.7h0.3M75.3 217.2h0.3M21.9 207.6h0.3M59.8 227.5h0.3M73.3 253.9h0.3M11.9 229.0h0.3M66.4 214.3h0.3M32.2 222.8h0.3M58.6 243.4h0.3M41.5 245.3h0.3M40.5 233.8h0.3M84.1 228.3h0.3M66.8 246.3h0.3M27.7 250.9h0.3M35.9 250.9h0.3M17.5 227.1h0.3M53.6 243.9h0.3M72.9 213.6h0.3M22.2 212.7h0.3M76.0 239.9h0.3M84.5 229.9h0.3" stroke="#4050c4" stroke-width="1.05" stroke-linecap="round" stroke-opacity="0.85"/>
</g>
<rect x="91.1" y="203.8" width="79.7" height="53.1" fill="#040404"/>
<g filter="url(#fb)">
<path d="M151.9 231.3l-0.7 1.1M110.7 207.1l-0.7 0.6M104.0 235.2l0.9 0.2M112.4 241.8l0.7 0.5M108.1 219.2l0.4 0.8M122.2 248.9l0.9 0.6M95.4 206.2l0.2 0.8M141.0 233.7l0.8 0.2M154.8 254.5l-0.3 1.4M115.3 239.0l-0.1 0.4M163.3 216.0l0.4 0.5M145.6 238.8l-0.8 1.1M166.1 249.0l-1.4 0.1M110.4 237.1l-1.2 0.3M99.2 226.7l-0.3 0.1M104.6 225.4l0.0 1.0M143.7 217.2l-0.5 0.8M99.5 222.3l-0.5 1.3M137.3 240.6l0.8 0.2M94.1 224.8l-0.3 0.0M130.6 234.7l1.2 0.4M128.5 221.5l-0.3 0.0M111.9 206.2l1.2 0.1M143.9 214.4l-0.5 0.7M128.6 236.2l-0.3 1.1M166.1 223.4l-0.2 0.1M121.8 251.1l1.2 0.3M95.2 211.9l-1.3 0.1M131.5 220.6l0.2 0.6M120.2 254.5l0.1 0.2M103.9 214.8l-0.4 0.4M110.4 205.0l-0.2 0.9M110.8 230.0l0.5 0.9M140.6 233.4l0.1 0.5M156.5 254.1l-0.4 0.2M160.8 220.9l0.5 0.3M147.6 240.3l0.1 1.2M145.4 253.9l0.3 0.5M156.0 213.1l-0.3 0.5M140.4 229.9l-0.0 0.6M135.9 223.7l-0.4 0.2M114.4 243.0l0.5 0.4M111.6 221.5l0.6 1.0M129.5 213.2l-0.6 1.0M96.4 217.9l-0.0 0.3M111.8 241.3l-0.4 0.4M117.6 221.9l0.6 0.5M151.0 247.7l-0.7 0.0M124.8 240.8l0.6 1.2M140.5 247.1l-0.7 0.0M154.2 211.3l1.1 0.5M121.4 238.9l-0.5 0.4M165.0 254.2l-0.6 0.4M102.6 239.9l0.6 0.8M123.0 252.3l-0.6 0.6M168.7 207.5l-0.2 0.1M147.4 211.0l0.0 0.7M95.6 219.5l1.3 0.3M148.8 255.4l0.5 0.2M101.6 221.7l-1.3 0.5M94.3 232.5l-0.7 0.1M129.6 223.9l-0.4 0.1M116.2 245.6l-0.9 1.1M122.6 236.3l0.3 0.2M134.5 245.6l-0.7 1.1M103.7 213.9l-0.9 1.1M111.7 229.8l0.1 0.7M101.6 221.4l0.5 0.2M93.8 233.7l-0.3 0.1M103.4 236.7l0.6 0.4M112.4 207.6l0.6 0.1M97.3 250.3l0.3 0.2M106.4 229.5l-0.1 0.9M159.3 229.6l-0.2 1.1M124.3 245.9l-0.1 1.4M150.6 220.7l0.5 0.1M132.1 205.5l0.6 0.1M149.1 225.2l-1.0 0.9M154.4 247.0l-0.0 0.4M100.1 253.2l0.5 0.8M123.4 240.8l0.7 1.0M111.7 251.1l-0.8 0.1M94.1 234.2l-0.4 1.2M155.0 223.5l0.1 0.5M141.6 223.0l-1.4 0.2M113.9 250.9l1.2 0.1M117.2 209.8l0.1 0.3M118.2 242.6l0.4 0.2M108.6 242.7l-0.3 0.4M106.0 210.4l0.5 0.0M165.9 215.4l-0.7 0.5M150.6 210.5l-0.4 0.7M168.6 226.8l0.2 0.1M166.7 216.1l0.2 0.3M144.6 253.0l0.7 0.7M119.9 255.2l0.3 0.8M103.8 237.2l-0.2 0.6M108.7 236.2l0.6 1.2M157.0 240.0l-0.2 0.7M126.8 235.1l-0.1 0.8M104.0 228.8l0.7 1.2M116.5 242.4l1.0 0.9M168.8 225.4l-1.2 0.6M159.4 211.4l0.8 0.4M168.8 229.9l-0.6 0.0M154.7 228.0l1.0 0.6M133.8 248.9l0.7 0.6M107.5 219.2l1.2 0.7M142.1 208.7l0.2 0.3M154.1 248.4l-0.4 0.6M151.9 232.8l-0.2 0.8" stroke="rgb(12,51,16)" stroke-width="1.61" stroke-linecap="round"/>
<path d="M96.5 225.0l-0.8 0.2M125.1 232.6l0.1 0.2M102.8 240.8l0.0 0.6M143.8 212.5l-0.2 1.0M147.4 225.5l0.0 0.4M109.8 219.8l0.0 0.8M119.0 215.9l-0.6 1.3M122.6 208.0l0.5 0.6M121.9 221.6l1.2 0.3M130.7 219.2l0.9 0.8M124.9 212.6l-0.5 0.3M135.1 240.5l-0.8 0.3M120.5 208.2l0.2 0.9M123.6 207.8l-0.8 0.1M119.1 250.2l0.0 0.6M136.0 218.3l-0.8 0.4M136.8 252.8l0.2 0.4M151.9 236.8l1.0 0.8M140.3 225.8l-1.2 0.8M124.4 219.0l-1.0 0.3M156.4 249.6l-0.9 0.7M110.0 239.5l-1.0 0.7M134.3 225.0l1.0 0.6M142.6 232.8l0.3 0.4M118.1 222.6l-0.3 0.1M133.6 217.0l-0.0 0.7M102.0 208.2l-0.8 0.6M97.6 210.2l-1.3 0.4M146.8 210.7l-0.1 0.3M127.2 244.1l-0.2 0.3M159.3 249.1l-1.3 0.1M122.6 241.3l0.3 0.4M156.3 233.8l-0.7 1.0M110.2 214.4l-1.0 0.0M93.4 234.7l1.0 0.4M124.7 237.0l1.3 0.2M157.1 219.4l-0.9 0.8M151.5 254.7l-0.9 0.4M100.6 252.3l-1.0 0.2M113.5 216.5l0.0 0.7M129.6 223.5l0.1 0.3M116.2 209.0l1.1 0.6M169.4 215.3l0.8 0.7M122.9 207.9l-0.8 0.7M134.9 238.3l-0.0 0.6M164.9 248.8l0.3 0.4M156.7 241.8l-0.5 1.0M105.9 206.4l-0.6 0.1M98.1 223.2l-1.3 0.3M108.5 253.6l0.9 1.1M154.9 245.2l-0.5 1.3M151.6 255.0l-0.5 0.4M120.8 238.3l0.6 0.7M134.5 239.5l0.0 0.3M103.3 222.8l-0.8 0.4M125.6 205.5l0.1 1.1M131.1 225.4l0.4 0.3M117.2 232.2l-0.1 0.5M160.4 221.3l0.2 0.3M123.9 240.8l0.7 0.1M106.0 218.9l-0.1 1.4M117.2 214.3l-0.3 0.7M121.5 237.6l0.2 0.5M160.9 248.4l0.1 1.4M140.9 230.6l0.7 0.3M136.2 210.8l-0.6 1.0M127.3 238.7l-0.2 1.0M124.7 224.5l-1.3 0.3M110.1 235.5l0.6 0.6M136.6 231.1l-0.9 0.0M94.8 236.8l1.0 0.7M138.3 252.2l0.4 0.1M110.4 247.6l-0.1 0.6M142.5 252.5l-0.7 0.9M156.4 245.4l0.6 1.0M131.8 255.4l-0.5 1.0M97.3 249.1l0.1 0.8M147.3 217.7l0.8 0.3M135.2 244.9l-1.3 0.2M130.2 217.3l0.3 0.1M162.3 245.4l0.7 0.8M100.1 206.9l0.1 0.4M119.0 248.8l0.2 0.9M156.8 211.0l-0.5 0.5M162.0 208.6l-0.5 1.0" stroke="rgb(19,80,25)" stroke-width="1.85" stroke-linecap="round"/>
<path d="M122.4 240.2l-0.1 0.3M140.5 219.0l-0.3 0.3M169.2 227.5l0.8 0.1M105.4 211.0l0.3 0.0M169.0 242.4l0.3 0.8M104.0 223.5l1.3 0.5M106.3 224.7l-0.8 0.4" stroke="rgb(28,115,35)" stroke-width="2.09" stroke-linecap="round"/>
<path d="M94.8 220.8l-0.2 0.6M129.0 213.5l-0.4 0.0M106.0 231.0l0.3 0.4M131.5 245.4l-0.8 0.4M93.2 231.7l0.2 0.7M109.9 224.7l-0.5 0.2M157.9 236.3l-0.9 0.7" stroke="rgb(35,144,44)" stroke-width="2.33" stroke-linecap="round"/>
<path d="M151.8 231.3h0.3M96.4 225.0h0.3M110.6 207.2h0.3M103.9 235.4h0.3M94.7 221.1h0.3M102.8 240.9h0.3M112.3 241.9h0.3M108.2 219.2h0.3M147.2 225.7h0.3M122.5 248.8h0.3M109.5 219.8h0.3M118.8 216.0h0.3M95.4 206.5h0.3M141.3 233.4h0.3M155.0 254.7h0.3M115.4 239.1h0.3M163.5 216.0h0.3M145.7 238.8h0.3M166.4 248.8h0.3M110.3 237.2h0.3M122.7 208.1h0.3M121.7 221.7h0.3M104.4 225.6h0.3M128.8 213.5h0.3M143.7 217.5h0.3M99.8 222.2h0.3M124.7 212.5h0.3M137.5 240.8h0.3M134.9 240.4h0.3M93.8 224.8h0.3M120.2 208.1h0.3M128.4 221.3h0.3M112.1 206.3h0.3M119.1 250.3h0.3M136.2 218.5h0.3M144.1 214.5h0.3M128.8 236.0h0.3M166.0 223.4h0.3M152.0 237.1h0.3M140.1 225.9h0.3M124.7 218.9h0.3M156.4 249.8h0.3M95.1 211.8h0.3M131.3 220.9h0.3M103.8 214.6h0.3M109.7 239.6h0.3M110.6 205.1h0.3M134.1 224.7h0.3M111.1 230.1h0.3M140.3 233.1h0.3M156.3 254.0h0.3M118.2 222.5h0.3M160.7 220.9h0.3M147.6 240.1h0.3M145.2 253.6h0.3M156.1 212.9h0.3M140.6 229.9h0.3M135.8 224.0h0.3M114.5 243.1h0.3M133.6 217.0h0.3M111.6 221.5h0.3M106.1 231.2h0.3M97.3 210.1h0.3M147.0 210.8h0.3M127.0 244.4h0.3M159.4 249.2h0.3M96.4 217.9h0.3M150.8 248.0h0.3M156.4 233.7h0.3M140.8 246.9h0.3M121.2 238.9h0.3M109.9 214.4h0.3M165.2 254.3h0.3M102.4 239.8h0.3M122.8 252.3h0.3M168.6 207.5h0.3M147.1 210.8h0.3M95.4 219.2h0.3M148.7 255.7h0.3M101.3 221.8h0.3M94.5 232.6h0.3M129.4 223.7h0.3M116.0 245.4h0.3M156.9 219.4h0.3M151.3 254.9h0.3M122.5 240.3h0.3M103.7 213.8h0.3M111.9 229.6h0.3M101.9 221.3h0.3M94.0 233.8h0.3M103.2 236.5h0.3M113.7 216.7h0.3M112.4 207.5h0.3M97.3 250.0h0.3M116.1 209.0h0.3M106.1 229.8h0.3M169.3 215.0h0.3M159.6 229.4h0.3M124.3 246.1h0.3M122.7 207.7h0.3M134.6 238.5h0.3M140.3 219.0h0.3M169.3 227.6h0.3M156.5 242.0h0.3M105.7 206.1h0.3M105.6 211.0h0.3M97.8 223.4h0.3M150.8 220.4h0.3M131.9 205.3h0.3M108.4 253.7h0.3M93.0 231.8h0.3M154.7 245.2h0.3M149.1 225.2h0.3M154.4 246.8h0.3M151.3 255.2h0.3M100.0 253.2h0.3M111.6 251.2h0.3M94.2 234.5h0.3M109.7 224.6h0.3M121.0 238.4h0.3M141.6 223.2h0.3M113.7 251.2h0.3M117.4 209.7h0.3M118.5 242.8h0.3M108.9 243.0h0.3M106.3 210.2h0.3M103.4 222.5h0.3M125.3 205.6h0.3M131.0 225.5h0.3M117.1 232.4h0.3M160.3 221.4h0.3M150.8 210.3h0.3M168.5 226.5h0.3M166.4 216.0h0.3M124.1 240.9h0.3M106.2 218.7h0.3M144.8 253.3h0.3M119.8 255.1h0.3M103.9 237.2h0.3M121.3 237.8h0.3M161.0 248.2h0.3M140.8 230.4h0.3M136.2 210.9h0.3M127.1 238.5h0.3M124.9 224.6h0.3M110.3 235.4h0.3M136.7 230.8h0.3M94.5 236.6h0.3M126.9 234.9h0.3M138.5 252.1h0.3M104.1 228.9h0.3M116.5 242.6h0.3M169.1 225.3h0.3M159.4 211.4h0.3M168.8 229.8h0.3M110.4 247.6h0.3M142.3 252.6h0.3M156.7 245.6h0.3M131.8 255.4h0.3M147.6 217.7h0.3M154.7 227.9h0.3M107.4 218.9h0.3M141.8 208.5h0.3M135.3 245.1h0.3M130.1 217.2h0.3M151.6 233.1h0.3M162.1 245.2h0.3M99.8 207.0h0.3M119.0 248.9h0.3M157.0 210.9h0.3M106.5 224.5h0.3M158.0 236.3h0.3" stroke="#4050c4" stroke-width="1.05" stroke-linecap="round" stroke-opacity="0.85"/>
</g>
<rect x="172.2" y="203.8" width="79.7" height="53.1" fill="#040404"/>
<g filter="url(#fb)">
<path d="M244.8 253.1l0.3 0.8M216.1 221.1l0.7 0.7M232.1 222.1l-1.0 0.4M229.6 228.5l0.2 0.2M182.5 209.8l0.3 0.7M211.8 237.7l-0.8 0.4M220.2 211.5l-0.1 0.9M205.1 223.6l-0.2 1.0M235.2 239.3l-0.2 0.9M182.4 212.2l0.3 0.3M222.7 250.2l0.2 1.2M179.9 217.9l-0.6 0.1M241.2 222.9l-0.2 0.8M210.0 215.2l0.1 0.4M195.9 226.5l-0.3 0.2M194.9 242.0l0.4 0.4M175.7 237.4l0.4 0.3M235.4 221.5l0.8 0.2M179.4 245.2l0.8 0.5M220.0 205.8l-0.3 0.9M208.4 235.4l0.1 0.9M198.1 206.8l0.5 0.6M217.8 211.4l-0.3 0.4M180.6 225.8l-0.6 0.7M218.1 250.5l-0.9 0.1M247.3 243.4l-0.2 1.1M233.5 238.9l0.4 0.5M185.6 231.9l0.2 1.1M205.4 231.1l-0.3 0.3M228.5 239.9l-1.3 0.2M184.6 207.4l0.0 1.4M185.8 253.6l-0.3 0.6M197.3 227.3l0.3 0.1M199.0 247.9l-0.3 1.0M235.5 205.1l-0.4 1.1M241.7 208.5l0.2 1.1M193.3 239.2l-0.3 0.9M188.7 232.0l-0.2 1.0M218.4 205.2l-0.1 0.3M249.7 247.4l-0.5 0.9M202.8 213.1l0.3 1.3M237.2 254.5l0.0 0.4M189.5 211.1l-0.0 0.6M210.0 211.5l1.1 0.6M200.7 217.2l0.9 0.6M233.4 227.2l0.7 0.4M208.7 228.7l-0.3 0.0M202.0 228.1l-0.2 0.1M226.4 241.1l-1.3 0.1M206.3 252.8l0.2 1.0M197.9 223.7l0.1 0.4M219.0 247.5l0.3 0.7M202.9 213.9l-0.3 0.1M181.5 205.8l-0.1 0.8M232.6 216.7l-0.2 1.1M229.4 245.1l-0.2 0.6M197.8 244.0l-0.9 0.1M208.3 223.0l0.6 0.7M209.9 245.2l-0.3 0.1M188.9 245.8l-0.4 0.7M182.8 220.3l0.3 0.3M207.6 247.5l0.6 0.5M226.0 215.3l0.2 0.9M195.5 219.8l0.6 0.7M205.8 252.8l0.1 1.1M178.9 217.4l-0.4 0.3M229.9 222.3l-0.9 0.1M177.3 225.9l0.3 0.5M215.6 225.3l-0.5 0.6M199.4 229.9l-0.3 0.4M202.6 218.7l-0.5 0.2M177.4 220.0l-0.7 0.3M175.7 229.4l0.3 0.9M214.0 206.2l-0.1 0.9M200.0 243.1l-0.2 1.3M229.5 239.2l-0.2 0.3M209.1 232.0l-0.3 0.0M236.7 248.5l1.2 0.2M177.4 243.1l0.2 0.2M221.0 235.3l0.7 0.4M246.7 213.3l-0.2 0.1M231.7 229.8l0.2 0.1M230.2 220.6l0.6 0.1M241.7 205.4l0.0 1.3M190.8 242.2l-0.5 1.1M228.2 242.1l-0.4 1.2M210.5 222.1l-0.3 0.4M181.5 249.9l0.3 0.7M207.8 218.9l1.2 0.4M209.9 227.1l0.0 0.5M237.5 216.6l0.0 1.2M192.3 228.3l0.6 0.7M200.4 255.3l0.5 0.1M197.5 206.0l0.7 0.5M180.4 215.6l-0.3 0.4M176.6 217.0l-0.5 0.8M181.3 254.0l-1.0 1.0M209.9 242.9l0.7 1.2M232.7 230.8l0.1 0.8M194.4 231.6l0.3 0.2M246.8 251.9l-0.2 0.3" stroke="rgb(11,45,14)" stroke-width="1.53" stroke-linecap="round"/>
<path d="M234.5 215.5l0.3 0.0M176.9 235.6l-0.1 0.5M209.8 220.3l0.8 0.8M244.3 215.6l0.1 0.4M221.2 221.2l-0.7 1.2M229.4 250.8l-0.3 0.7M234.8 207.1l-0.1 1.0M212.4 212.1l-1.0 0.6M215.6 253.2l0.8 0.8M240.3 217.6l0.4 0.1M186.4 242.7l-0.0 0.5M186.5 246.9l-0.1 0.6M201.6 223.7l-0.7 0.1M187.0 254.4l-1.1 0.7M227.7 235.3l0.2 1.1M220.4 249.4l0.0 0.7M248.4 225.6l0.9 0.4M223.5 224.0l-1.0 0.2M200.6 247.9l0.5 0.7M223.1 217.7l0.3 0.6M197.8 210.1l-0.2 0.2M235.1 251.7l0.0 0.8M196.8 224.2l1.0 0.5M232.1 216.5l0.5 0.5M205.9 222.9l0.7 0.6M248.6 223.2l0.2 1.0M244.7 249.0l0.3 1.1M235.8 209.6l-0.1 0.4M216.5 209.9l0.0 0.5M185.5 255.3l0.8 1.1M223.3 229.0l0.1 1.1M217.4 245.0l0.8 0.5M237.2 209.7l0.5 0.2M209.4 233.6l0.2 0.1M195.0 244.5l-1.3 0.4M215.7 209.7l0.1 0.2M205.3 231.4l-0.7 0.7M189.1 228.4l1.1 0.2M181.6 212.0l0.5 0.1M187.2 243.3l-0.9 0.7M236.6 252.5l0.6 0.5M243.0 251.1l-0.8 0.5M198.6 233.7l-0.0 0.5M203.3 223.2l0.4 0.1M175.9 209.0l-0.1 0.9M238.1 206.5l0.1 1.0M179.8 214.6l-0.2 1.0M193.6 246.1l0.3 1.2M247.5 252.6l-0.1 1.2M186.6 255.3l-1.2 0.1M212.8 207.6l-0.8 0.7M219.4 246.6l-0.1 0.5M191.0 208.2l0.9 0.3M217.1 219.7l0.7 0.7M174.7 239.2l-0.1 0.9M196.4 210.8l0.1 0.5M174.9 249.6l0.6 0.8M201.2 227.5l-0.6 0.2M216.4 230.0l0.4 0.6M212.3 245.2l0.2 0.9M238.0 250.3l-0.8 0.8M218.2 231.6l-0.9 0.6M243.6 207.5l-0.7 0.1M210.1 224.0l0.2 1.0M241.3 244.4l0.7 1.0M194.7 209.1l0.2 0.8M178.1 252.4l-0.0 0.7M214.2 206.7l0.6 0.0M245.6 211.3l0.1 1.3M199.2 225.8l1.2 0.5M245.4 251.0l-1.1 0.1M223.1 235.7l0.2 0.2M229.9 247.6l-0.3 0.1M192.1 244.9l0.8 1.1M242.8 218.4l-0.6 1.0M224.6 221.4l-0.4 0.2M222.8 212.4l-0.0 0.4M248.4 215.7l0.3 0.7M190.9 253.7l-0.5 0.3" stroke="rgb(17,70,21)" stroke-width="1.75" stroke-linecap="round"/>
<path d="M220.8 244.0l-0.2 0.3M223.4 222.9l0.2 0.2M238.6 224.6l-0.2 0.9M194.1 244.0l-0.4 0.6M219.1 238.8l-1.0 0.2M186.1 216.7l-0.3 1.2M184.6 207.3l0.5 0.3M244.5 235.5l-0.1 0.9M181.2 244.8l-1.0 0.1M216.9 212.3l1.3 0.2M225.4 210.6l0.0 0.5M248.5 241.3l-0.7 0.6" stroke="rgb(24,100,31)" stroke-width="1.98" stroke-linecap="round"/>
<path d="M223.1 208.7l-0.8 0.4M205.9 240.3l0.5 0.6M188.2 211.1l0.1 0.6M223.5 241.5l-0.1 0.4M197.4 212.0l0.3 0.3M230.4 220.4l0.8 0.1M242.8 248.9l-0.5 0.5M219.5 252.7l-0.9 0.3" stroke="rgb(30,126,39)" stroke-width="2.21" stroke-linecap="round"/>
<path d="M234.4 215.7h0.3M177.1 235.4h0.3M244.1 215.7h0.3M223.1 208.7h0.3M244.7 252.9h0.3M220.9 221.4h0.3M229.5 250.8h0.3M215.8 253.4h0.3M216.1 220.8h0.3M186.3 242.8h0.3M232.2 221.8h0.3M205.9 240.5h0.3M229.4 228.6h0.3M182.6 209.8h0.3M211.6 237.6h0.3M186.9 254.4h0.3M220.5 211.3h0.3M227.8 235.3h0.3M220.9 243.8h0.3M220.2 249.3h0.3M248.2 225.4h0.3M223.5 224.1h0.3M204.9 223.7h0.3M223.2 222.9h0.3M200.8 247.9h0.3M235.1 239.0h0.3M238.5 224.8h0.3M223.0 217.8h0.3M197.5 210.4h0.3M182.6 212.3h0.3M222.5 250.3h0.3M180.0 217.6h0.3M231.8 216.6h0.3M241.1 223.1h0.3M209.9 215.2h0.3M195.6 226.2h0.3M235.7 221.6h0.3M188.0 211.0h0.3M179.3 245.3h0.3M220.1 205.6h0.3M208.4 235.4h0.3M197.9 206.9h0.3M205.9 223.2h0.3M248.7 223.4h0.3M217.7 211.5h0.3M235.8 209.4h0.3M216.6 210.1h0.3M180.7 225.6h0.3M185.7 255.4h0.3M218.1 250.4h0.3M247.2 243.6h0.3M223.0 229.0h0.3M233.6 238.7h0.3M205.4 231.1h0.3M228.4 239.7h0.3M217.2 245.1h0.3M237.0 210.0h0.3M184.6 207.6h0.3M185.8 253.8h0.3M197.2 227.0h0.3M209.5 233.7h0.3M195.2 244.3h0.3M199.1 248.0h0.3M235.4 205.2h0.3M215.5 209.7h0.3M193.9 243.7h0.3M219.3 238.9h0.3M205.5 231.1h0.3M189.0 228.7h0.3M193.1 239.4h0.3M181.5 211.7h0.3M202.5 213.2h0.3M237.4 254.7h0.3M187.5 243.3h0.3M236.7 252.7h0.3M189.8 211.0h0.3M209.7 211.5h0.3M200.9 217.3h0.3M223.7 241.3h0.3M233.4 227.0h0.3M208.6 228.9h0.3M201.9 227.8h0.3M226.5 241.3h0.3M198.4 233.6h0.3M184.5 207.5h0.3M203.0 223.2h0.3M175.6 209.1h0.3M206.3 252.5h0.3M238.2 206.4h0.3M197.7 223.7h0.3M197.5 212.1h0.3M219.1 247.4h0.3M202.7 214.0h0.3M181.7 205.8h0.3M179.8 214.4h0.3M197.6 243.8h0.3M230.4 220.3h0.3M209.9 245.1h0.3M193.4 245.9h0.3M247.2 252.8h0.3M186.8 255.2h0.3M182.8 220.4h0.3M207.8 247.5h0.3M225.8 215.1h0.3M243.0 249.1h0.3M195.2 220.0h0.3M205.9 252.9h0.3M219.2 246.3h0.3M178.9 217.3h0.3M191.1 208.0h0.3M177.6 225.7h0.3M215.7 225.2h0.3M216.9 219.9h0.3M174.8 239.4h0.3M199.3 229.8h0.3M177.2 220.0h0.3M196.4 210.6h0.3M175.7 229.4h0.3M175.0 249.4h0.3M201.0 227.7h0.3M213.8 206.1h0.3M181.0 245.1h0.3M216.4 229.8h0.3M200.2 242.9h0.3M212.3 245.3h0.3M237.8 250.4h0.3M229.2 239.3h0.3M218.4 231.5h0.3M236.8 248.6h0.3M177.5 243.0h0.3M220.8 235.1h0.3M243.4 207.7h0.3M247.0 213.4h0.3M216.9 212.2h0.3M231.4 229.6h0.3M230.2 220.6h0.3M241.9 205.6h0.3M190.9 242.1h0.3M241.5 244.3h0.3M194.6 208.9h0.3M228.0 242.2h0.3M178.1 252.6h0.3M214.4 206.8h0.3M210.6 222.3h0.3M245.7 211.3h0.3M208.1 218.7h0.3M225.4 210.5h0.3M199.3 225.5h0.3M210.0 227.0h0.3M219.5 252.4h0.3M245.7 250.8h0.3M237.5 216.6h0.3M192.3 228.6h0.3M200.6 255.4h0.3M197.8 205.7h0.3M180.3 215.8h0.3M176.6 217.2h0.3M192.2 245.1h0.3M181.6 253.9h0.3M248.6 241.2h0.3M210.2 243.0h0.3M194.4 231.8h0.3M222.7 212.2h0.3M248.3 215.8h0.3M190.7 253.4h0.3M247.0 251.7h0.3" stroke="#4050c4" stroke-width="1.05" stroke-linecap="round" stroke-opacity="0.85"/>
</g>
<rect x="253.4" y="203.8" width="79.7" height="53.1" fill="#040404"/>
<g filter="url(#fb)">
<path d="M322.1 244.3l-0.2 0.9M259.3 209.2l0.3 0.7M266.1 214.6l0.5 0.6M290.2 245.0l0.2 0.3M261.7 209.6l0.1 0.3M325.7 211.4l-0.2 0.3M302.2 223.5l-0.6 0.2M308.6 223.0l0.6 0.7M314.3 241.3l0.7 0.9M263.7 236.5l0.8 1.1M261.8 219.3l0.3 0.0M305.1 252.0l-1.0 0.4M270.8 242.4l0.7 0.8M269.5 226.3l0.4 0.8M319.3 227.2l0.6 0.7M317.5 228.9l-0.6 1.1M286.2 241.7l0.7 0.7M261.1 228.0l-0.3 1.3M280.7 215.0l0.1 1.3M273.0 218.4l-0.7 0.2M307.7 250.0l0.4 1.4M319.1 247.3l-0.2 0.9M321.1 205.9l-0.8 0.6M256.7 222.1l-0.1 1.0M287.7 205.3l0.5 0.5M281.7 211.5l1.1 0.0M279.2 213.9l-1.0 0.6M320.2 210.7l-1.2 0.1M288.6 216.2l0.6 0.2M282.1 254.6l-0.4 0.1M329.2 237.2l-1.1 0.5M328.7 245.3l0.5 0.2M256.4 252.5l-0.7 0.8M277.6 244.1l0.9 0.1M320.5 213.9l1.1 0.7M281.6 221.3l-0.0 0.3M314.3 219.9l0.1 0.3M312.6 209.0l-1.3 0.4M322.8 253.6l-0.2 0.2M282.1 245.1l-0.6 0.1M317.7 244.7l-0.5 1.0M309.7 221.9l-0.1 0.4M288.5 246.2l0.8 0.8M309.3 228.5l0.7 0.3M261.6 225.7l-0.7 0.2M324.3 223.9l0.9 0.5M273.4 209.1l0.5 1.1M296.1 222.1l0.5 1.1M327.9 237.2l-0.4 0.2M287.8 213.0l-0.1 0.8M258.4 239.9l1.2 0.5M301.9 230.1l0.5 0.9M293.7 225.8l1.4 0.3M324.7 207.8l-1.1 0.1M272.5 245.3l1.0 0.4M288.0 220.0l0.1 0.8M313.3 209.9l0.3 0.3M297.5 241.2l-0.9 0.5M281.2 242.0l-0.8 0.8M282.0 236.6l0.3 0.9M290.5 206.9l0.6 0.8M296.3 248.9l0.3 1.2M275.6 215.6l0.4 0.6M302.6 216.8l0.3 0.1M262.5 208.8l0.2 0.2M329.9 252.8l0.2 0.7M262.3 223.8l-0.3 0.1M325.2 228.7l-0.4 0.0M256.8 223.3l-0.6 0.3M330.7 224.0l0.7 0.7M300.2 240.3l0.1 0.2M292.0 236.6l1.0 0.4M284.7 218.9l-0.9 1.1M308.3 209.4l0.8 0.8M263.7 230.7l0.4 0.8M270.6 230.9l0.5 0.6M256.0 231.4l-0.5 0.1M291.3 216.1l0.3 1.3M260.6 211.2l0.2 1.2M304.8 253.9l-0.1 0.7M327.0 250.6l-0.7 0.8M287.3 234.1l0.5 1.4M321.9 240.9l1.2 0.4M255.1 252.5l-0.7 0.9M288.0 248.0l0.1 1.1M311.7 255.2l1.0 0.1" stroke="rgb(14,58,18)" stroke-width="1.61" stroke-linecap="round"/>
<path d="M294.3 254.7l-0.7 0.3M282.5 232.1l-0.7 0.8M317.3 206.2l-0.0 1.2M311.5 222.4l0.0 0.4M292.6 252.7l-0.1 1.2M304.1 253.3l0.7 0.4M298.2 238.5l-0.2 0.1M299.9 241.7l-0.6 0.3M278.9 226.0l0.5 1.0M280.4 213.6l-0.1 0.6M302.1 251.4l0.7 0.4M288.4 209.3l-1.4 0.5M255.2 250.0l-0.7 0.8M264.4 218.6l-0.7 1.1M294.8 207.9l0.4 0.2M264.5 231.9l-0.2 0.1M289.4 232.6l-0.1 0.7M283.0 215.7l-1.0 0.3M299.6 218.0l0.3 0.2M274.1 219.7l0.1 0.9M299.2 207.1l0.1 0.9M268.6 247.3l0.7 0.1M322.1 215.7l-0.5 0.3M273.6 255.4l0.4 0.3M309.8 242.3l-1.3 0.2M272.2 207.5l0.2 0.6M296.7 229.7l0.5 1.2M321.3 255.6l-1.3 0.4M330.7 236.1l-1.0 0.5M257.5 215.5l1.3 0.5M311.8 238.6l1.0 0.6M295.3 251.6l0.1 0.3M319.2 225.0l-0.3 0.5M258.2 225.3l-0.4 0.2M254.8 254.1l-0.4 0.7M317.8 229.3l0.6 0.1M259.4 218.3l0.7 1.0M261.9 226.7l-1.0 0.9M299.3 211.4l0.4 0.3M283.7 233.2l0.2 0.6M312.2 225.6l0.9 0.7M331.2 218.0l0.9 0.0M325.3 232.6l0.6 0.3M322.9 211.6l0.5 0.6M310.3 233.7l-1.1 0.2M284.5 220.9l0.3 1.4M327.7 208.5l0.3 0.3M298.7 240.8l-0.5 1.1M271.4 206.1l-0.6 0.7M261.8 241.6l-0.4 0.5M328.3 237.0l-1.1 0.2M322.9 214.8l-0.7 0.5M286.1 219.8l-0.8 0.2M293.1 243.2l-0.8 0.1M320.5 254.5l-0.6 0.1M311.3 242.4l-0.0 0.9M292.4 210.3l-0.2 1.3M279.0 221.8l-0.4 0.2M262.5 221.1l-0.5 0.7M297.9 236.0l0.1 0.4M302.9 249.7l-1.4 0.4M275.4 224.3l-0.6 0.7M304.1 236.9l0.6 0.2M281.1 209.6l0.2 0.3M280.1 216.7l0.3 0.6M303.3 251.2l0.1 0.3M254.7 215.4l1.3 0.6M282.0 245.5l-0.1 0.5M277.3 242.0l0.1 0.7M276.1 255.7l0.0 0.5M277.1 216.5l-1.0 1.0M263.9 222.5l-0.6 1.3M328.0 254.9l-0.8 0.5M325.2 211.9l-0.1 1.1M270.2 249.6l0.1 0.3M255.8 212.5l0.2 1.2M326.1 247.8l-0.2 0.3M329.6 243.6l-0.3 0.2M256.6 227.7l-0.0 0.5M291.9 252.4l0.3 0.4M313.1 216.4l-0.4 1.0M308.8 249.1l-0.8 0.3M255.6 221.2l0.3 0.1M305.4 245.4l0.4 0.1M304.8 251.1l0.5 0.3M263.4 219.5l1.1 0.6M285.6 245.2l0.4 0.8M322.0 231.9l-0.4 0.3" stroke="rgb(22,90,28)" stroke-width="1.85" stroke-linecap="round"/>
<path d="M258.6 215.1l-0.0 0.3M260.3 237.7l0.1 1.4M328.3 237.1l-0.1 0.6M320.1 235.3l-0.3 0.8M296.3 229.8l0.0 1.0M268.0 246.3l-0.8 1.0M323.7 244.6l-1.4 0.1M322.2 248.0l-0.9 0.6M316.4 214.3l-0.4 0.3M331.1 244.6l1.0 0.7M306.3 242.6l0.1 0.3M315.4 240.6l-0.3 0.3M326.5 234.0l0.9 1.0M278.1 216.0l1.0 0.7" stroke="rgb(31,129,40)" stroke-width="2.09" stroke-linecap="round"/>
<path d="M328.5 212.0l0.8 0.9M297.9 216.4l0.3 0.9M280.5 222.7l-0.6 0.9M264.9 214.5l0.8 0.6M278.8 230.8l0.5 0.3M317.7 217.3l-0.3 0.3M331.2 251.2l0.1 0.4M314.2 234.9l-0.1 0.5M303.4 238.2l0.6 1.3M300.9 238.2l0.1 0.8M257.1 210.9l0.6 0.1M279.2 242.2l0.9 0.3" stroke="rgb(39,162,50)" stroke-width="2.33" stroke-linecap="round"/>
<path d="M294.1 254.5h0.3M282.6 232.0h0.3M317.1 206.2h0.3M321.9 244.1h0.3M311.4 222.5h0.3M292.4 252.4h0.3M303.8 253.2h0.3M266.0 214.8h0.3M290.2 245.0h0.3M298.5 238.5h0.3M258.8 214.8h0.3M300.1 241.8h0.3M261.4 209.8h0.3M280.6 213.8h0.3M260.6 237.4h0.3M328.1 237.0h0.3M325.4 211.7h0.3M302.3 223.4h0.3M302.1 251.5h0.3M328.4 211.8h0.3M297.9 216.7h0.3M308.7 222.8h0.3M255.3 249.9h0.3M314.4 241.2h0.3M261.9 219.4h0.3M289.1 232.4h0.3M305.2 252.2h0.3M280.3 222.7h0.3M270.6 242.4h0.3M282.8 215.5h0.3M269.5 226.1h0.3M319.3 227.5h0.3M299.3 218.0h0.3M286.1 241.5h0.3M261.2 227.9h0.3M274.4 219.8h0.3M280.6 215.3h0.3M299.2 206.8h0.3M272.7 218.2h0.3M307.5 249.9h0.3M278.8 230.8h0.3M319.1 247.1h0.3M321.0 206.2h0.3M256.6 222.0h0.3M287.5 205.2h0.3M281.6 211.3h0.3M322.3 215.5h0.3M279.4 214.1h0.3M319.9 210.9h0.3M273.5 255.6h0.3M309.6 242.6h0.3M281.9 254.7h0.3M271.9 207.2h0.3M296.8 229.9h0.3M321.4 255.7h0.3M318.0 217.2h0.3M330.9 236.1h0.3M257.3 215.6h0.3M328.9 245.5h0.3M311.9 238.8h0.3M277.5 243.8h0.3M295.0 251.6h0.3M320.3 213.6h0.3M281.5 221.2h0.3M258.5 225.6h0.3M317.9 229.1h0.3M259.4 218.2h0.3M262.1 226.8h0.3M299.0 211.2h0.3M331.3 218.1h0.3M325.2 232.4h0.3M267.9 246.4h0.3M323.0 211.5h0.3M322.9 253.9h0.3M282.3 244.8h0.3M310.4 233.5h0.3M327.8 208.5h0.3M271.3 206.3h0.3M323.9 244.5h0.3M309.9 222.0h0.3M288.6 246.5h0.3M261.9 241.7h0.3M309.2 228.4h0.3M328.3 236.9h0.3M286.3 219.6h0.3M320.3 254.3h0.3M311.6 242.6h0.3M261.3 225.7h0.3M292.4 210.5h0.3M273.7 209.1h0.3M295.9 221.9h0.3M327.8 237.2h0.3M287.7 212.8h0.3M258.6 239.9h0.3M301.7 230.4h0.3M293.9 225.5h0.3M324.7 207.8h0.3M272.5 245.4h0.3M278.8 221.7h0.3M288.0 219.8h0.3M313.0 209.6h0.3M297.8 241.3h0.3M281.2 242.0h0.3M282.2 236.4h0.3M262.2 220.9h0.3M290.6 206.9h0.3M296.2 248.9h0.3M275.6 215.3h0.3M302.4 216.8h0.3M262.7 209.0h0.3M314.1 235.1h0.3M322.1 247.7h0.3M330.1 252.6h0.3M281.1 209.6h0.3M303.7 238.5h0.3M303.3 251.2h0.3M325.1 228.6h0.3M316.5 214.4h0.3M282.1 245.2h0.3M277.4 242.2h0.3M257.1 223.5h0.3M330.9 223.8h0.3M276.0 255.7h0.3M292.3 236.8h0.3M284.4 219.2h0.3M277.3 216.7h0.3M308.0 209.7h0.3M331.2 244.3h0.3M270.8 231.0h0.3M255.8 231.4h0.3M264.0 222.3h0.3M291.2 215.9h0.3M260.9 211.0h0.3M328.2 255.2h0.3M325.1 211.9h0.3M269.9 249.6h0.3M255.6 212.7h0.3M304.8 254.0h0.3M326.4 248.1h0.3M279.3 241.9h0.3M326.9 250.4h0.3M329.5 243.8h0.3M287.3 234.2h0.3M326.2 234.0h0.3M256.5 228.0h0.3M321.8 241.0h0.3M291.8 252.3h0.3M313.3 216.1h0.3M255.4 252.4h0.3M287.7 247.8h0.3M255.5 221.2h0.3M305.5 245.4h0.3M305.1 251.1h0.3M263.4 219.5h0.3M285.6 244.9h0.3M321.9 231.9h0.3" stroke="#4050c4" stroke-width="1.05" stroke-linecap="round" stroke-opacity="0.85"/>
</g>
<rect x="10" y="258" width="79.7" height="53.1" fill="#040404"/>
<g filter="url(#fb)">
<path d="M56.9 278.9l-0.6 0.3M73.8 282.3l-0.5 0.0M65.6 308.9l0.6 0.7M74.1 261.4l-0.2 0.9M53.5 299.7l0.1 1.2M59.8 262.7l0.6 0.6M45.2 289.7l-0.7 1.2M37.3 299.7l0.5 0.5M53.4 281.2l0.1 0.6M11.2 265.3l-0.1 1.5M17.7 284.9l1.0 0.9M88.4 292.6l-0.8 0.3M30.3 309.0l0.2 0.4M21.3 289.9l-0.2 1.3M45.6 265.4l0.2 0.6M55.5 293.0l-0.4 0.2M86.7 285.6l-0.2 1.2M45.3 273.4l-0.0 0.6M87.4 265.4l-0.2 0.7M81.4 269.0l-0.6 1.1M15.9 284.1l-1.0 0.7M13.5 259.7l0.6 0.2M33.3 278.4l-0.5 0.9M31.2 295.2l-0.8 0.3M43.3 290.1l0.4 0.1M68.6 284.6l0.9 0.1M84.4 280.3l0.2 0.3M68.1 304.7l-0.3 0.1M26.9 300.6l0.6 1.1M63.1 274.8l-0.3 0.5M78.5 267.7l-0.8 0.1M26.7 305.4l-0.7 0.4M74.1 305.6l-0.7 1.3M80.6 263.9l1.0 0.2M24.3 300.1l-0.4 1.4M24.6 276.9l-0.2 0.6M72.2 301.3l0.9 0.4M42.1 280.1l0.6 0.4M29.8 268.7l-0.5 0.1M58.5 295.7l0.9 0.7M57.9 288.2l-0.0 1.4M86.4 292.0l0.6 1.0M23.6 302.7l0.4 1.5M15.2 261.7l-0.5 0.1M63.4 284.1l0.3 0.8M59.4 275.7l0.1 1.0M28.9 265.0l-0.3 0.4M66.3 259.6l-0.6 1.2M23.3 288.7l0.2 0.6M16.8 297.5l0.7 0.7M18.1 283.9l0.5 0.2M72.8 298.9l0.7 0.9M61.2 308.6l-0.7 0.7M49.6 299.3l0.6 0.3M81.5 269.2l1.5 0.3M12.0 303.3l0.2 1.3M57.7 278.7l0.4 0.4M40.9 291.5l0.7 0.3M39.4 284.3l-0.5 0.8M46.0 309.2l0.2 0.4" stroke="rgb(16,68,21)" stroke-width="1.7" stroke-linecap="round"/>
<path d="M82.5 298.1l0.8 0.9M62.6 304.1l1.3 0.8M64.3 292.9l-0.4 0.2M53.1 296.2l1.3 0.0M54.7 305.6l1.1 0.1M85.9 291.5l-0.0 0.8M57.4 283.3l-0.1 0.3M75.8 300.5l-0.9 0.9M56.1 299.6l0.6 0.1M80.2 259.3l-0.5 0.2M15.5 304.8l1.2 0.6M61.1 300.9l-1.5 0.0M35.5 267.9l0.4 0.2M73.9 307.2l0.4 0.0M25.9 302.4l0.8 1.3M52.1 271.2l-0.4 0.3M40.9 260.5l0.3 0.9M62.9 263.0l0.3 0.2M54.1 260.9l0.5 0.4M55.0 276.6l1.5 0.2M34.1 303.2l-0.9 0.1M48.7 274.0l0.2 0.9M24.2 284.5l-0.7 0.4M56.8 295.2l-1.4 0.4M52.1 261.2l0.6 0.8M47.6 304.6l-0.6 0.1M46.6 294.8l-0.9 0.0M66.5 289.5l-0.2 0.3M40.8 309.1l0.4 1.0M86.7 300.6l1.2 0.9M78.8 300.9l0.3 0.9M59.7 276.8l-0.5 0.4M28.4 296.9l-0.7 1.0M51.9 280.1l-0.5 0.4M12.4 286.5l0.5 0.9M43.2 308.0l0.1 0.9M84.2 263.8l-0.3 1.2M57.0 264.0l0.5 0.2M27.2 296.4l0.9 0.4M61.4 309.1l1.1 0.9M52.3 301.6l0.7 0.5M13.6 290.9l-0.5 0.4M51.2 305.7l0.5 0.1" stroke="rgb(25,105,32)" stroke-width="1.95" stroke-linecap="round"/>
<path d="M64.7 267.4l-0.4 0.6M18.0 296.4l-0.5 0.1M66.0 271.6l0.5 0.7M17.2 283.2l0.3 0.6M20.8 266.7l0.9 0.3M86.9 270.2l-0.5 0.5M86.0 292.1l-1.1 0.1M34.5 298.5l0.3 0.7M42.1 263.5l0.3 0.3M24.7 294.7l0.1 0.9M70.9 267.8l-0.3 0.2M33.6 264.4l1.4 0.1M83.2 287.7l0.5 1.1M64.9 287.4l-0.6 0.2M17.1 301.5l1.1 0.7M45.6 281.1l0.5 0.7M54.6 287.2l1.0 0.0M30.9 309.1l0.1 0.5M13.2 270.3l1.2 0.8M62.4 304.2l-0.6 0.2M83.5 303.9l0.4 0.6M70.9 309.1l0.4 0.7M34.3 291.6l-0.3 0.0M82.9 299.8l0.4 0.9M19.7 284.7l-0.2 0.6M86.6 276.3l-0.5 0.6M64.7 304.9l1.3 0.6" stroke="rgb(36,151,47)" stroke-width="2.2" stroke-linecap="round"/>
<path d="M33.1 259.3l0.9 0.7M23.2 283.1l-0.5 0.1M66.8 304.3l-0.9 0.9M51.0 295.1l0.7 1.3M69.6 281.5l0.8 0.4M78.7 277.4l-0.9 0.1M48.7 272.6l-0.7 0.3M21.3 288.5l-0.4 0.8M33.6 296.1l-0.7 0.9M29.8 308.4l-0.8 0.9M29.1 283.2l0.9 0.7M79.9 276.0l-1.0 0.7M85.0 294.4l0.8 0.5M13.3 269.2l1.5 0.1M65.0 270.2l-0.3 0.5M83.0 298.3l-0.2 0.6M27.7 273.5l-0.2 1.2M19.4 293.3l-1.4 0.7M68.9 291.7l-0.5 0.8M13.5 299.5l-0.0 0.5M76.4 267.2l1.4 0.1M65.0 309.7l-1.3 0.1M53.1 284.3l0.9 0.6M57.2 281.8l0.6 0.4M40.5 297.9l-1.1 0.9" stroke="rgb(46,189,58)" stroke-width="2.45" stroke-linecap="round"/>
<path d="M57.1 279.1h0.3M82.4 298.2h0.3M64.5 267.4h0.3M65.5 308.7h0.3M73.8 261.4h0.3M32.9 259.1h0.3M64.1 292.6h0.3M53.4 299.5h0.3M17.8 296.2h0.3M86.1 291.7h0.3M53.5 281.2h0.3M17.7 284.7h0.3M69.6 281.5h0.3M48.8 272.4h0.3M21.2 288.2h0.3M33.9 296.2h0.3M80.0 259.4h0.3M80.0 275.8h0.3M45.5 265.6h0.3M15.6 304.8h0.3M61.3 300.7h0.3M70.9 267.7h0.3M35.5 268.2h0.3M26.1 302.5h0.3M63.1 263.2h0.3M33.6 264.2h0.3M65.1 270.0h0.3M54.1 261.0h0.3M81.3 268.8h0.3M48.7 274.1h0.3M30.9 295.0h0.3M57.0 295.1h0.3M83.3 287.8h0.3M82.9 298.1h0.3M68.1 304.6h0.3M46.7 294.9h0.3M54.4 287.2h0.3M78.4 267.6h0.3M40.7 308.9h0.3M86.7 300.6h0.3M80.7 264.2h0.3M24.1 299.8h0.3M24.9 277.1h0.3M71.9 301.1h0.3M65.0 309.6h0.3M28.3 297.0h0.3M12.1 286.3h0.3M84.3 264.1h0.3M57.3 263.8h0.3M83.3 303.8h0.3M16.6 297.6h0.3M53.1 284.1h0.3M82.8 299.6h0.3M41.2 291.7h0.3M45.9 308.9h0.3" stroke="#4050c4" stroke-width="1.05" stroke-linecap="round" stroke-opacity="0.85"/>
</g>
<rect x="91.1" y="258" width="79.7" height="53.1" fill="#040404"/>
<g filter="url(#fb)">
<path d="M155.2 272.5l-0.2 0.3M107.3 281.1l0.5 0.7M114.2 297.6l1.0 1.0M123.6 302.8l0.4 0.7M147.4 265.1l-0.9 0.1M144.0 292.4l0.6 0.6M158.1 261.7l-1.3 0.0M148.9 301.2l0.2 0.3M142.9 275.3l-0.6 0.1M138.8 306.3l0.7 0.2M130.0 265.5l-0.5 0.5M144.8 283.8l-1.1 0.8M111.0 269.3l-0.7 1.1M150.2 288.1l-0.1 0.3M151.8 269.0l-0.3 0.5M99.5 304.1l-1.1 0.8M116.7 277.4l0.1 1.1M99.9 291.0l0.9 0.1M133.5 273.2l-0.7 1.2M142.5 295.1l0.5 0.1M163.2 293.6l-0.7 0.7M106.9 288.9l0.2 1.4M119.2 274.3l1.3 0.3M92.3 281.7l0.5 0.2M108.9 278.1l-0.2 0.3M138.7 260.5l-0.5 0.4M120.5 294.4l-0.8 0.6M107.2 266.8l0.8 0.9M126.7 293.8l-1.2 0.3M128.1 284.6l0.8 0.2M110.8 278.9l0.8 0.2M120.7 282.1l0.6 0.7M101.5 270.2l-1.1 0.5M118.4 259.3l-0.3 0.2M115.8 276.9l0.0 0.8M164.8 261.8l-0.9 1.0M125.8 277.6l1.3 0.0M169.1 308.2l0.1 0.3M131.6 272.8l-0.3 0.8M100.7 280.8l-1.2 0.2M120.2 277.2l0.1 1.2M100.9 285.9l-0.8 0.3M150.7 263.1l0.6 0.9M119.8 283.6l-1.0 0.5M105.7 282.4l-0.2 0.4M102.0 286.3l-0.6 0.7M138.5 259.3l-0.5 0.6M154.0 299.0l0.6 0.1M141.0 297.9l-0.1 0.4M125.6 291.6l0.4 0.6M130.8 305.0l0.5 0.3M104.6 281.0l0.2 1.3M116.2 264.8l-0.2 0.3M116.5 307.5l0.4 1.2M152.6 280.5l1.1 0.0M110.5 284.4l-0.4 0.4M114.0 290.7l0.6 0.0M151.6 273.4l0.5 0.9M136.6 303.9l0.4 0.1M155.1 282.6l-0.2 0.2M136.8 265.3l-0.2 0.7M121.8 265.1l0.4 0.6M141.5 262.0l0.6 1.1M123.6 260.1l-0.9 0.2M142.5 306.6l-0.7 1.1M125.4 279.6l0.8 0.3M132.5 297.9l1.2 0.1M109.5 273.3l-0.4 0.1M124.7 283.0l0.2 1.0M139.2 285.1l-0.0 0.3M165.5 289.4l0.2 0.6M107.2 269.7l-0.4 1.3M116.7 262.0l0.9 0.2M130.0 287.6l0.1 0.7M132.0 300.8l0.7 0.5M163.4 303.4l1.0 0.4M127.5 271.7l0.8 1.0M141.3 305.4l0.4 0.4M168.2 272.7l0.9 0.6M100.4 300.8l-1.1 0.6M119.1 277.9l-0.1 1.0M107.1 307.5l0.4 0.8M134.4 303.4l1.2 0.5M101.5 274.4l0.2 0.8M108.5 278.9l0.8 0.3M153.8 277.1l1.2 0.8M156.9 301.5l0.7 0.2M123.5 306.7l0.5 0.1M164.0 270.6l-0.0 0.3M134.9 303.4l-0.4 0.9M115.7 300.8l-0.5 0.4M121.5 307.1l-0.3 0.6M160.1 278.4l-0.8 1.2M93.3 290.6l0.9 0.6M136.1 274.2l-0.4 0.3M133.2 270.6l0.9 0.1M148.8 286.3l-0.0 1.0M103.6 306.8l-0.5 0.4" stroke="rgb(13,55,17)" stroke-width="1.61" stroke-linecap="round"/>
<path d="M111.4 272.4l-0.9 0.6M103.1 261.8l0.4 0.4M149.5 306.0l0.2 1.3M130.0 280.7l-0.8 0.3M126.8 265.1l-0.1 0.8M105.7 276.9l-0.2 0.2M113.5 307.5l-0.5 0.7M100.3 302.6l-0.3 1.3M97.9 293.1l0.8 0.3M97.3 305.5l-0.5 0.1M160.0 299.7l-0.2 0.5M163.7 276.6l-0.8 0.7M102.3 281.1l0.4 0.2M100.7 297.3l0.4 0.7M154.8 282.6l-1.1 0.8M142.4 303.4l-0.1 0.4M125.1 299.2l0.2 1.4M136.4 299.0l0.8 0.2M157.8 266.7l0.7 0.8M169.4 279.9l0.2 0.2M102.3 262.4l0.7 0.5M162.8 297.3l0.3 1.2M142.0 289.8l0.8 0.6M98.4 307.3l-0.3 0.1M157.2 284.0l0.0 0.5M97.2 304.5l0.2 0.5M156.8 301.2l-0.4 0.4M139.2 305.7l-0.5 0.0M138.5 269.7l0.6 0.8M162.6 299.8l0.4 0.2M100.2 292.1l0.5 0.9M103.6 288.7l-0.8 0.5M123.9 285.3l0.6 0.7M98.1 294.7l-0.7 0.0M95.1 283.8l0.3 0.1M92.6 298.8l0.2 1.4M165.2 297.0l-1.1 0.2M119.4 266.3l0.5 0.5M137.8 281.3l0.6 0.5M109.8 288.0l-0.2 0.2M118.3 297.7l-0.0 0.5M118.4 298.3l-0.4 1.1M158.9 306.1l-0.5 0.5M150.4 280.8l-0.3 0.1M115.0 272.5l0.3 0.3M132.7 303.7l-0.5 0.7M122.2 272.1l-0.1 0.3M118.0 290.6l1.1 0.4M109.4 288.0l-0.6 1.2M130.5 299.1l0.2 0.9M144.1 298.8l0.3 1.3M107.8 295.5l0.5 0.7M96.1 266.5l-0.6 0.4M163.9 270.2l0.1 0.4M151.6 282.3l-0.9 0.1M104.3 299.0l0.0 0.5M129.4 271.2l0.2 0.7M112.3 265.2l0.6 0.4M147.9 284.6l0.5 0.9M122.1 308.7l1.4 0.3M111.5 285.1l-0.2 0.1M156.9 277.0l0.2 1.1M155.6 265.0l1.3 0.2M114.8 302.2l-0.3 0.0M97.1 294.9l0.7 1.2M122.7 270.5l0.7 0.9M165.4 302.8l-0.2 0.2M108.7 265.9l0.0 0.6M135.2 262.9l-0.3 0.2M165.4 275.8l-0.1 0.2M102.1 294.7l-0.3 0.8M126.2 276.8l-1.4 0.3M141.6 279.8l-0.9 0.6M103.8 264.4l0.4 0.9M108.1 263.6l0.3 1.1M107.4 294.7l-1.0 0.1M94.1 306.2l0.8 0.4M124.0 281.7l-0.1 1.3M131.0 271.3l0.4 0.6M143.4 301.7l-0.6 0.8M108.7 285.2l0.0 1.0M112.5 304.7l0.3 0.2M147.1 284.2l0.2 0.9M110.0 303.2l-0.5 0.6" stroke="rgb(20,85,26)" stroke-width="1.85" stroke-linecap="round"/>
<path d="M135.4 290.7l0.7 1.2M100.5 285.2l-0.5 0.1M154.5 307.2l-0.6 0.3M149.8 293.9l1.2 0.2M129.4 263.6l-0.1 1.4M119.8 259.9l0.1 0.3M164.2 277.5l0.4 1.0M163.1 285.5l0.8 0.7M123.6 275.3l0.8 0.7M163.1 280.4l1.1 0.0" stroke="rgb(29,122,38)" stroke-width="2.09" stroke-linecap="round"/>
<path d="M105.2 273.5l0.6 0.4M167.6 292.9l-0.4 0.0M105.4 285.8l1.4 0.3M142.1 298.3l-0.8 0.5M127.5 282.7l-0.1 0.8M117.0 295.6l-0.5 1.1M145.1 297.4l0.6 0.3M120.5 277.2l-0.0 0.4" stroke="rgb(37,153,47)" stroke-width="2.33" stroke-linecap="round"/>
<path d="M155.2 272.8h0.3M114.1 297.9h0.3M123.4 302.5h0.3M147.3 265.2h0.3M103.2 261.8h0.3M143.8 292.2h0.3M105.2 273.8h0.3M158.0 261.7h0.3M148.6 301.2h0.3M143.0 275.3h0.3M149.4 305.7h0.3M135.6 291.0h0.3M167.6 292.9h0.3M129.9 265.7h0.3M130.2 280.6h0.3M144.9 283.9h0.3M110.8 269.1h0.3M150.0 288.4h0.3M151.9 268.8h0.3M106.0 276.6h0.3M113.4 307.8h0.3M100.6 285.2h0.3M100.2 302.7h0.3M116.6 277.2h0.3M99.7 290.7h0.3M97.8 293.2h0.3M142.6 295.4h0.3M160.2 299.6h0.3M163.5 276.7h0.3M102.2 281.0h0.3M163.4 293.3h0.3M101.0 297.4h0.3M154.6 282.5h0.3M142.3 303.3h0.3M136.5 298.9h0.3M157.5 266.8h0.3M119.4 274.5h0.3M92.3 281.4h0.3M169.2 279.8h0.3M108.7 277.8h0.3M138.4 260.3h0.3M120.2 294.7h0.3M102.1 262.1h0.3M142.1 289.8h0.3M98.6 307.1h0.3M154.3 307.1h0.3M157.0 284.3h0.3M101.5 270.1h0.3M118.3 259.6h0.3M97.3 304.6h0.3M157.0 301.5h0.3M115.5 277.0h0.3M165.1 261.8h0.3M125.6 277.7h0.3M149.5 294.0h0.3M139.2 305.9h0.3M138.3 269.6h0.3M131.3 273.0h0.3M162.7 299.6h0.3M103.4 288.6h0.3M100.7 280.9h0.3M101.1 286.0h0.3M97.9 294.6h0.3M94.9 283.9h0.3M92.6 298.9h0.3M165.3 296.9h0.3M127.5 282.7h0.3M150.7 263.1h0.3M105.9 282.6h0.3M119.4 266.1h0.3M137.7 281.3h0.3M101.7 286.6h0.3M109.6 288.0h0.3M138.4 259.3h0.3M118.5 297.8h0.3M118.6 298.5h0.3M159.1 306.4h0.3M115.1 272.6h0.3M141.3 298.0h0.3M125.8 291.6h0.3M120.1 259.8h0.3M104.5 281.0h0.3M116.4 264.7h0.3M116.6 307.3h0.3M110.6 284.5h0.3M118.3 290.7h0.3M113.8 290.6h0.3M151.5 273.2h0.3M109.1 287.7h0.3M136.3 303.8h0.3M154.9 282.7h0.3M130.6 299.0h0.3M136.6 265.3h0.3M121.6 265.4h0.3M143.8 298.8h0.3M141.2 261.8h0.3M123.5 260.0h0.3M145.3 297.3h0.3M96.4 266.5h0.3M164.0 270.5h0.3M142.6 306.8h0.3M151.3 282.6h0.3M125.7 279.6h0.3M104.3 298.9h0.3M132.7 298.2h0.3M129.4 271.3h0.3M112.4 265.3h0.3M109.5 273.1h0.3M111.2 285.3h0.3M124.8 283.2h0.3M165.3 289.4h0.3M164.5 277.4h0.3M107.1 269.5h0.3M155.6 264.8h0.3M97.0 294.6h0.3M109.0 266.2h0.3M135.0 262.9h0.3M165.3 275.6h0.3M117.0 262.0h0.3M130.2 287.8h0.3M163.2 303.4h0.3M126.1 277.0h0.3M141.4 279.8h0.3M127.3 271.6h0.3M103.9 264.4h0.3M141.5 305.4h0.3M168.4 272.7h0.3M108.0 263.4h0.3M118.8 277.8h0.3M107.6 294.4h0.3M107.0 307.3h0.3M94.3 306.4h0.3M123.7 281.8h0.3M131.1 271.3h0.3M134.3 303.2h0.3M101.4 274.4h0.3M108.8 284.9h0.3M108.7 279.0h0.3M123.5 275.2h0.3M154.1 276.9h0.3M157.2 301.6h0.3M123.2 306.6h0.3M164.0 270.9h0.3M135.2 303.6h0.3M110.2 303.3h0.3M115.5 300.9h0.3M160.3 278.5h0.3M93.4 290.5h0.3M136.1 273.9h0.3M133.5 270.9h0.3M103.9 306.6h0.3" stroke="#4050c4" stroke-width="1.05" stroke-linecap="round" stroke-opacity="0.85"/>
</g>
<rect x="172.2" y="258" width="79.7" height="53.1" fill="#040404"/>
<g filter="url(#fb)">
<path d="M236.6 281.8l0.4 0.1M177.7 276.0l0.4 1.2M239.7 309.2l0.4 0.8M176.6 284.6l0.0 0.8M201.5 309.4l-0.4 0.2M217.6 306.3l0.5 0.2M205.7 276.8l0.2 0.5M214.3 263.7l0.4 0.3M187.1 301.6l-0.2 0.6M222.0 274.7l-0.2 0.4M183.4 300.8l0.2 0.4M183.5 308.7l-0.5 0.3M198.8 293.4l0.2 0.3M214.8 282.2l-0.1 0.5M209.2 268.5l-0.4 0.6M220.4 272.5l-0.3 0.8M224.3 289.8l-0.5 0.1M184.4 279.2l-0.4 0.2M183.2 271.3l-0.2 1.0M182.0 274.2l0.6 0.0M225.6 265.7l0.1 0.4M208.0 280.9l-0.3 0.3M187.0 273.2l0.1 0.4M198.8 295.8l-0.6 0.8M237.9 282.7l-0.7 0.5M179.9 304.7l-0.4 1.2M188.7 263.0l0.3 1.3M212.8 280.9l0.4 0.6M238.5 280.4l-0.3 0.1M216.6 279.1l0.2 1.0M219.6 308.3l-0.1 0.3M174.4 305.7l0.4 1.1M177.7 280.9l0.1 0.6M214.2 300.5l0.8 0.8M182.5 303.5l1.1 0.2M243.9 284.4l0.5 0.6M231.3 270.0l-1.0 0.6M222.1 295.8l-0.3 0.3M225.6 280.8l1.1 0.5M248.8 307.7l-0.1 0.6M247.6 308.9l0.2 0.6M241.9 299.5l-1.0 0.5M238.3 267.9l0.2 1.1M186.8 261.6l-0.5 0.3M200.9 276.9l0.7 0.5M175.6 288.1l1.1 0.2M188.4 267.0l0.3 0.6M240.3 305.6l-0.5 0.2M250.4 260.0l1.2 0.5M244.1 282.8l1.3 0.0M249.6 261.5l-0.1 0.3M209.6 264.5l-0.4 0.4M248.5 304.7l0.6 1.1M182.4 277.1l0.6 0.2M209.8 302.0l-0.8 0.2M180.4 288.3l-0.1 0.3M243.9 260.7l-1.0 0.0M215.3 263.5l-0.3 0.2M235.8 264.8l0.5 0.2M181.5 292.9l-0.2 0.2M186.4 267.4l-1.2 0.3M234.5 279.5l0.3 0.6M200.3 272.4l-0.3 0.8M226.8 278.1l0.6 0.4M173.8 304.7l1.3 0.5M238.4 281.3l1.0 0.7M200.2 277.2l-0.0 0.8M207.2 266.4l0.5 1.1M184.4 269.1l0.1 0.4M205.6 266.6l0.1 0.3M184.7 288.7l0.3 0.4M227.9 286.2l-0.8 0.1M175.9 281.6l-0.2 0.2M240.8 305.4l0.6 1.0M236.9 271.7l-0.5 1.2M190.5 269.1l0.4 1.2M205.2 300.6l0.7 0.4M236.5 301.9l-0.0 0.8M242.2 299.6l-1.3 0.4M185.6 298.3l-0.4 1.3M181.7 309.7l0.4 0.5M243.3 277.6l-0.6 0.0M220.3 305.2l-0.3 0.0M175.1 259.6l0.6 0.8M246.4 280.5l-0.2 0.1M193.9 268.5l0.2 0.2M207.4 271.5l0.7 0.5M205.8 308.6l0.3 0.3M206.0 261.4l-0.2 0.3M214.2 289.3l-1.2 0.1M247.2 304.5l-1.2 0.4M217.1 296.9l-1.2 0.3M234.0 287.6l0.2 0.2M234.4 295.1l0.2 0.1M240.3 287.1l0.3 0.7M229.0 274.0l-0.4 0.5M248.7 294.8l0.7 0.2M250.5 280.5l-0.5 0.8M248.4 264.3l0.7 0.1M241.5 306.6l-0.3 0.3M202.1 277.6l0.5 1.0M181.4 293.4l-0.5 0.3" stroke="rgb(11,48,15)" stroke-width="1.53" stroke-linecap="round"/>
<path d="M202.1 283.3l0.5 0.1M240.6 294.9l-0.8 0.7M204.7 275.1l0.6 0.3M217.7 295.7l0.2 0.8M220.2 270.6l0.1 0.3M194.9 268.6l0.3 0.8M249.5 271.5l-0.2 0.1M215.2 293.9l-0.6 0.4M232.7 278.4l0.9 0.7M212.8 283.0l0.5 0.0M202.2 306.3l0.1 0.6M195.7 276.1l-0.2 0.2M239.1 265.6l-0.0 0.4M193.6 268.1l0.5 0.0M232.8 301.4l0.4 0.1M188.7 295.2l0.5 1.3M188.0 282.2l-0.5 0.0M236.3 295.6l0.5 0.5M211.6 304.2l0.9 0.6M193.6 286.7l0.1 0.9M199.6 288.0l0.1 0.5M241.3 290.4l0.4 0.2M177.4 282.2l0.3 0.7M182.2 294.7l0.7 0.1M192.8 268.3l0.8 0.7M248.3 280.2l-0.7 0.1M192.3 275.5l0.9 0.2M235.5 266.2l-0.2 0.7M219.3 291.2l-0.2 1.2M200.9 287.1l0.5 0.4M190.8 269.1l-0.2 0.2M177.4 299.6l-0.2 0.4M182.0 305.0l0.7 0.9M196.8 268.7l-0.5 0.5M208.7 302.0l-0.3 0.3M176.1 283.5l-0.3 0.8M246.0 300.2l-1.2 0.3M202.3 264.7l-0.0 0.5M248.6 289.3l1.1 0.7M204.3 290.1l0.5 0.2M197.4 280.4l-0.1 0.3M219.6 301.4l-1.0 0.2M204.3 302.1l-0.7 0.3M178.0 264.6l-0.1 0.2M227.9 265.1l-1.0 0.6M190.7 286.9l0.0 1.0M181.1 278.3l0.4 0.4M217.2 273.3l0.3 1.1M189.4 302.9l-0.4 0.1M211.9 261.6l-1.0 0.2M197.2 304.2l1.0 0.5M203.7 284.5l0.2 0.2M209.0 309.1l0.1 0.3M220.1 283.4l-0.4 0.1M249.6 303.3l0.2 0.2M227.4 278.2l0.0 0.8M199.7 305.6l0.8 0.7M201.0 270.2l-0.4 0.1M243.8 282.2l0.3 0.3M197.6 286.5l0.2 0.7M230.3 269.4l0.4 0.8M178.8 259.3l-0.9 0.3M173.7 269.7l0.8 0.3M189.8 282.2l-0.1 0.8M247.5 274.2l0.5 0.5M197.1 282.4l0.5 0.8M239.7 271.3l-0.7 0.0M197.0 278.7l0.1 0.3M213.0 298.4l0.5 0.2" stroke="rgb(18,75,23)" stroke-width="1.75" stroke-linecap="round"/>
<path d="M185.9 294.0l-0.2 0.9M201.7 286.9l0.4 1.1M247.1 268.6l-0.6 0.0M179.8 281.9l-0.7 0.4M208.5 298.6l0.3 0.3M178.1 263.1l0.0 1.0M217.4 266.3l0.4 0.9M178.0 295.4l-0.2 0.2" stroke="rgb(26,108,33)" stroke-width="1.98" stroke-linecap="round"/>
<path d="M203.1 259.9l0.4 0.9M241.3 276.0l-0.3 0.2M227.1 303.6l-0.3 0.5M231.1 264.0l-0.9 0.1M191.6 289.4l-1.1 0.1M174.7 276.4l-0.1 0.6M249.0 264.9l0.4 0.4M190.4 285.9l1.3 0.4M187.2 280.1l-0.8 0.5M189.7 289.6l1.2 0.6M206.8 278.0l-0.1 0.9" stroke="rgb(33,135,42)" stroke-width="2.21" stroke-linecap="round"/>
<path d="M202.3 283.0h0.3M185.9 294.3h0.3M236.7 281.8h0.3M177.4 276.2h0.3M203.1 259.9h0.3M240.8 295.1h0.3M176.4 284.9h0.3M201.6 309.4h0.3M217.4 306.1h0.3M205.7 276.5h0.3M214.1 264.0h0.3M187.2 301.6h0.3M217.8 296.0h0.3M220.4 270.7h0.3M194.7 268.3h0.3M222.2 275.0h0.3M183.4 301.1h0.3M183.4 309.0h0.3M198.5 293.4h0.3M249.6 271.6h0.3M241.5 275.8h0.3M215.4 293.7h0.3M232.7 278.7h0.3M212.7 283.0h0.3M209.4 268.6h0.3M220.3 272.2h0.3M202.1 306.3h0.3M195.6 276.3h0.3M224.2 289.8h0.3M239.2 265.7h0.3M193.7 268.0h0.3M184.6 279.0h0.3M232.8 301.5h0.3M188.8 295.2h0.3M236.4 295.5h0.3M211.6 304.1h0.3M182.2 274.0h0.3M208.1 281.0h0.3M186.7 273.2h0.3M193.5 287.0h0.3M199.5 287.8h0.3M199.0 295.6h0.3M238.1 282.8h0.3M179.8 304.6h0.3M189.0 262.8h0.3M231.2 264.2h0.3M212.9 280.6h0.3M238.4 280.1h0.3M216.9 278.9h0.3M219.5 308.6h0.3M177.8 280.9h0.3M201.7 287.1h0.3M193.0 268.3h0.3M214.4 300.3h0.3M248.5 279.9h0.3M192.1 275.5h0.3M182.7 303.6h0.3M235.7 266.3h0.3M243.9 284.1h0.3M231.3 270.1h0.3M222.1 295.9h0.3M190.6 269.3h0.3M225.3 280.5h0.3M248.8 307.8h0.3M247.7 309.1h0.3M241.7 299.4h0.3M177.2 299.9h0.3M238.4 267.6h0.3M182.1 304.7h0.3M186.8 261.8h0.3M200.9 276.6h0.3M197.1 268.5h0.3M208.7 301.7h0.3M176.2 283.4h0.3M245.8 300.1h0.3M175.7 288.3h0.3M240.1 305.9h0.3M174.8 276.5h0.3M243.8 282.8h0.3M249.8 261.7h0.3M209.5 264.7h0.3M248.5 304.4h0.3M182.1 277.4h0.3M204.6 289.9h0.3M180.4 288.6h0.3M197.2 280.1h0.3M215.3 263.4h0.3M247.0 268.8h0.3M236.0 264.8h0.3M181.4 292.6h0.3M204.2 301.9h0.3M178.0 264.3h0.3M179.7 282.0h0.3M186.2 267.3h0.3M208.3 298.9h0.3M234.7 279.6h0.3M200.3 272.3h0.3M226.7 278.3h0.3M227.9 265.0h0.3M190.6 287.0h0.3M173.7 305.0h0.3M238.2 281.4h0.3M180.9 278.6h0.3M207.0 266.7h0.3M178.1 263.1h0.3M184.4 269.4h0.3M205.5 266.7h0.3M184.8 288.7h0.3M217.4 273.5h0.3M227.7 286.0h0.3M217.6 266.2h0.3M211.8 261.3h0.3M197.3 304.0h0.3M203.8 284.8h0.3M175.9 281.3h0.3M241.0 305.6h0.3M208.7 309.0h0.3M237.1 271.8h0.3M220.1 283.5h0.3M190.8 269.0h0.3M249.9 303.2h0.3M205.4 300.5h0.3M227.5 278.5h0.3M236.3 302.2h0.3M199.4 305.6h0.3M241.9 299.6h0.3M190.5 285.7h0.3M185.8 298.2h0.3M243.2 277.5h0.3M243.9 282.0h0.3M175.3 259.6h0.3M197.6 286.8h0.3M179.0 259.4h0.3M173.6 269.4h0.3M246.2 280.2h0.3M193.8 268.5h0.3M207.4 271.8h0.3M189.8 282.5h0.3M205.5 308.6h0.3M206.0 261.2h0.3M214.3 289.0h0.3M247.6 274.5h0.3M187.0 280.2h0.3M247.0 304.6h0.3M216.9 297.1h0.3M197.2 282.2h0.3M189.9 289.6h0.3M240.0 271.2h0.3M234.6 295.2h0.3M240.3 287.2h0.3M197.1 278.9h0.3M228.8 273.7h0.3M248.5 294.9h0.3M250.6 280.5h0.3M212.8 298.2h0.3M248.4 264.1h0.3M241.8 306.8h0.3M201.8 277.6h0.3M181.2 293.3h0.3" stroke="#4050c4" stroke-width="1.05" stroke-linecap="round" stroke-opacity="0.85"/>
</g>
<rect x="253.4" y="258" width="79.7" height="53.1" fill="#040404"/>
<g filter="url(#fb)">
<path d="M299.6 262.1l0.6 1.1M330.6 306.7l0.1 0.3M255.2 297.0l-0.3 1.0M296.7 283.2l-0.7 0.7M330.3 268.7l0.4 0.1M309.9 261.7l0.0 1.4M285.5 276.9l-0.9 0.4M321.3 295.1l0.9 0.7M327.0 277.8l-0.1 0.2M262.1 298.0l1.1 0.1M314.3 285.6l-1.1 0.3M259.4 265.2l0.3 0.3M277.7 291.3l0.7 0.4M265.9 299.1l-0.7 0.1M330.8 264.1l-0.1 0.4M331.4 276.4l0.7 0.3M275.3 298.3l0.2 0.6M285.0 264.9l-0.3 0.4M285.9 275.4l0.5 0.5M282.6 277.4l-0.4 0.6M295.2 260.7l1.3 0.6M278.8 275.0l-0.1 0.7M259.4 301.4l0.1 0.2M311.1 269.9l-0.1 0.3M300.3 270.3l-0.8 0.7M325.2 304.8l0.6 1.0M268.0 296.1l0.5 0.7M323.1 302.4l-0.2 0.4M319.6 299.5l0.1 0.9M291.1 307.9l-1.1 1.0M283.9 297.9l0.6 0.9M267.6 304.9l0.8 0.2M313.1 284.3l0.1 0.7M308.0 282.6l-0.0 0.6M324.1 301.6l0.9 0.5M280.8 300.9l0.4 1.2M288.7 267.7l-1.3 0.3M316.8 297.6l0.5 0.5M270.8 293.4l0.4 0.5M286.0 269.1l0.4 0.4M280.0 308.6l1.4 0.3M286.1 291.9l-0.3 0.4M310.4 273.6l-0.7 0.4M267.1 306.7l-0.2 1.0M325.2 285.2l-0.3 0.2M308.4 285.7l-0.6 0.5M315.3 272.6l0.8 0.1M304.7 269.1l-0.4 0.5M319.4 271.0l-0.2 0.3M257.5 260.8l-0.7 0.8M331.7 272.1l0.5 0.0M308.7 278.2l1.2 0.3M262.9 289.5l-0.3 1.1M274.5 279.5l0.4 0.1M299.6 305.9l-0.3 0.1M267.7 276.2l0.8 0.5M282.6 286.2l-0.0 0.9M300.6 261.5l-0.5 1.1M295.3 274.3l0.4 0.9M291.7 298.2l1.2 0.5M314.3 279.9l-0.3 0.1M299.9 298.2l0.2 0.3M322.0 280.4l-0.0 0.4M259.0 272.9l-0.2 0.7M304.7 303.9l0.3 0.1M301.3 279.6l0.8 0.5M314.5 301.3l0.6 0.2M283.3 293.8l0.4 0.8M286.6 278.3l-1.3 0.1M294.4 285.1l-0.5 1.3M261.4 294.5l1.0 0.3M286.5 291.4l-0.2 0.2M306.6 296.8l-1.1 0.2M325.9 301.5l-0.5 0.1M291.2 289.3l0.9 0.5M327.6 276.4l0.8 0.5M266.4 304.0l0.2 0.4M279.8 301.3l1.1 0.8M319.7 265.5l0.3 0.2M258.0 301.5l0.2 0.5M291.0 278.2l-0.1 1.1M283.3 267.1l-1.0 0.2M322.4 307.5l0.3 0.5M320.0 264.8l0.1 0.6M320.4 264.3l-0.1 0.8M304.7 266.5l-1.1 0.5M279.4 271.9l-0.5 1.3M300.4 285.3l-0.6 0.2M298.4 296.3l-1.2 0.6M294.6 284.2l-1.0 0.9M274.6 303.1l1.4 0.2M303.2 290.4l-0.2 0.4M291.0 280.1l-0.9 0.9M260.8 289.4l-0.4 1.3" stroke="rgb(13,55,17)" stroke-width="1.61" stroke-linecap="round"/>
<path d="M292.8 293.6l-0.5 0.8M261.6 308.5l-1.2 0.7M319.6 306.8l-0.8 0.5M264.1 285.2l-0.3 0.5M292.2 302.6l0.3 0.2M319.1 267.7l0.5 1.1M297.1 276.9l-0.6 1.1M296.3 295.6l0.4 0.5M268.1 295.4l-0.4 0.2M288.8 293.3l-1.2 0.4M303.8 287.5l0.6 1.1M279.6 275.4l-0.9 0.2M258.0 307.1l-0.3 0.3M260.2 277.5l-0.3 0.0M318.5 307.2l-0.5 1.1M267.7 289.0l-0.4 0.4M287.0 281.8l-0.2 0.5M306.8 299.2l0.8 0.9M326.8 289.9l-0.4 0.3M304.4 273.3l-0.8 0.6M305.4 296.0l0.1 0.7M323.9 292.4l-0.4 0.9M271.3 301.4l1.2 0.6M276.8 308.0l-0.9 0.4M325.3 270.8l-0.3 1.2M316.5 299.8l-0.3 1.0M305.7 273.7l0.1 0.4M262.9 298.7l-1.4 0.3M296.8 262.0l-0.7 0.9M293.0 264.5l1.1 0.3M254.9 282.2l-0.5 0.4M310.0 301.5l0.2 0.3M331.8 275.8l0.0 1.4M298.7 292.5l-0.7 0.4M261.0 299.7l-0.9 0.2M258.3 265.9l0.6 0.4M285.4 271.1l-0.8 0.5M323.5 274.7l0.4 0.3M312.8 289.3l-0.5 0.8M293.7 269.7l0.4 0.3M310.7 304.6l1.2 0.5M293.3 272.9l-1.0 0.8M263.4 299.9l-0.2 0.3M273.5 259.4l1.1 0.3M270.9 273.0l-0.5 1.1M310.2 264.7l-0.6 0.5M326.9 282.5l-0.5 1.3M293.8 284.2l1.0 0.1M296.7 296.6l-0.1 0.9M280.9 298.2l-0.4 0.7M306.2 294.2l1.0 0.5M328.6 303.0l-0.8 0.1M301.7 289.7l-1.2 0.5M308.2 308.5l-0.2 1.3M311.6 263.2l0.3 0.6M327.3 304.5l0.0 0.8M324.4 273.4l0.3 0.2M327.0 290.3l-0.2 0.5M256.2 294.8l-0.1 0.7M281.6 297.7l0.2 0.7M262.1 288.3l-0.3 0.1M324.3 286.7l0.3 0.1M281.0 279.1l0.9 0.4M295.8 282.6l0.4 1.3M306.3 279.8l0.6 0.4M285.4 299.4l-0.8 0.2M315.5 259.7l0.4 0.9M296.7 294.7l-1.2 0.2M256.3 300.4l0.3 1.2M328.6 285.9l-0.7 0.1M309.3 270.6l0.6 1.2M320.0 280.3l0.1 0.3M320.7 295.9l0.6 0.9M286.0 303.2l0.7 0.6M257.1 267.0l0.7 0.2" stroke="rgb(20,85,26)" stroke-width="1.85" stroke-linecap="round"/>
<path d="M267.2 301.1l-0.2 0.3M326.9 297.5l-0.1 0.5M314.4 268.6l0.2 1.1M255.4 278.7l0.8 0.0M289.7 307.7l-0.2 1.4M260.1 265.3l-0.1 1.3" stroke="rgb(29,122,38)" stroke-width="2.09" stroke-linecap="round"/>
<path d="M302.4 306.3l-1.2 0.5M277.4 305.1l-0.0 0.4M320.8 305.1l0.2 0.3M327.3 279.8l0.8 0.2M273.1 283.3l-0.7 0.9M319.3 297.6l-0.4 0.3M263.0 272.3l0.3 0.1M300.7 266.2l-0.0 0.6M310.1 308.6l-0.8 0.8M302.9 300.3l0.3 0.5M277.1 270.7l-0.0 1.3M283.4 280.4l-1.1 0.4M288.5 287.6l-0.6 0.8M305.7 287.4l1.1 0.1M331.3 267.8l0.3 0.0" stroke="rgb(37,153,47)" stroke-width="2.33" stroke-linecap="round"/>
<path d="M299.5 262.2h0.3M292.6 293.9h0.3M302.4 306.5h0.3M330.7 306.6h0.3M261.3 308.7h0.3M319.6 306.6h0.3M255.1 296.9h0.3M277.2 305.0h0.3M264.2 285.1h0.3M296.5 282.9h0.3M330.3 268.5h0.3M292.3 302.6h0.3M310.2 261.4h0.3M318.9 267.8h0.3M285.6 276.8h0.3M321.5 294.8h0.3M327.2 277.6h0.3M262.1 298.3h0.3M297.1 276.9h0.3M296.1 295.8h0.3M259.2 265.1h0.3M277.7 291.4h0.3M288.8 293.2h0.3M265.8 298.9h0.3M303.9 287.6h0.3M330.9 263.9h0.3M284.8 264.7h0.3M285.8 275.7h0.3M282.9 277.6h0.3M295.0 260.8h0.3M258.3 307.2h0.3M327.3 279.5h0.3M278.8 274.8h0.3M260.4 277.4h0.3M318.8 307.3h0.3M273.0 283.2h0.3M267.4 288.7h0.3M286.9 282.0h0.3M307.0 299.0h0.3M259.4 301.2h0.3M327.0 297.4h0.3M311.3 270.1h0.3M300.3 270.3h0.3M304.3 273.3h0.3M325.2 304.7h0.3M323.6 292.4h0.3M268.2 296.2h0.3M271.2 301.2h0.3M276.9 307.9h0.3M322.9 302.2h0.3M319.5 299.3h0.3M316.5 299.7h0.3M291.4 308.1h0.3M283.8 298.0h0.3M314.3 268.6h0.3M267.6 305.0h0.3M305.4 273.7h0.3M313.2 284.0h0.3M308.2 282.8h0.3M323.9 301.5h0.3M263.0 298.6h0.3M280.5 300.8h0.3M288.9 267.5h0.3M292.8 264.8h0.3M262.8 272.4h0.3M254.7 282.4h0.3M298.7 292.7h0.3M271.0 293.7h0.3M280.2 308.6h0.3M285.9 291.9h0.3M266.9 306.4h0.3M325.0 285.4h0.3M300.5 266.5h0.3M315.6 272.5h0.3M310.2 308.7h0.3M260.9 299.6h0.3M258.6 265.6h0.3M303.2 300.1h0.3M304.5 269.3h0.3M289.6 307.9h0.3M285.5 271.3h0.3M323.7 274.5h0.3M257.3 260.6h0.3M312.5 289.3h0.3M310.8 304.3h0.3M331.9 272.2h0.3M308.6 278.3h0.3M263.7 299.8h0.3M273.4 259.5h0.3M271.0 272.8h0.3M274.7 279.7h0.3M299.3 305.9h0.3M267.8 276.3h0.3M326.7 282.2h0.3M293.8 284.1h0.3M295.5 274.6h0.3M296.9 296.4h0.3M291.5 298.3h0.3M314.6 279.9h0.3M299.9 298.4h0.3M321.9 280.1h0.3M259.1 273.2h0.3M304.4 303.6h0.3M314.4 301.4h0.3M328.7 303.0h0.3M308.2 308.7h0.3M286.9 278.1h0.3M294.1 284.9h0.3M261.6 294.2h0.3M286.7 291.4h0.3M311.9 263.1h0.3M327.5 304.6h0.3M324.5 273.3h0.3M306.4 297.0h0.3M260.2 265.5h0.3M327.1 290.1h0.3M256.4 294.8h0.3M279.6 301.3h0.3M319.5 265.7h0.3M258.3 301.7h0.3M291.0 278.1h0.3M283.6 267.1h0.3M320.1 264.4h0.3M281.5 297.4h0.3M304.4 266.5h0.3M324.1 286.5h0.3M279.7 272.1h0.3M306.0 287.5h0.3M300.2 285.3h0.3M298.6 296.2h0.3M281.0 279.3h0.3M315.3 259.9h0.3M256.4 300.6h0.3M328.5 285.9h0.3M302.9 290.3h0.3M309.3 270.7h0.3M319.9 280.3h0.3M320.4 296.2h0.3M286.2 303.5h0.3M290.9 279.8h0.3M256.9 267.0h0.3M261.1 289.6h0.3" stroke="#4050c4" stroke-width="1.05" stroke-linecap="round" stroke-opacity="0.85"/>
</g>
<rect x="10" y="312.6" width="79.7" height="53.1" fill="#040404"/>
<g filter="url(#fb)">
<path d="M79.8 348.5l-0.4 0.1M52.1 359.0l0.1 0.3M24.3 322.8l-0.1 0.7M75.6 325.5l-0.4 0.2M35.9 357.7l-0.6 0.1M70.6 357.6l0.2 0.2M87.8 323.7l0.2 0.0M43.5 337.1l0.0 1.0M12.1 322.0l-1.2 0.4M59.5 334.3l-0.2 0.5M37.2 337.9l-0.5 0.3M36.9 335.0l-0.1 0.3M12.4 351.0l-0.0 0.9M35.9 318.0l0.8 0.0M31.8 330.0l-0.1 0.2M15.9 337.7l-0.6 0.8M84.2 321.7l0.3 0.3M78.7 355.3l-0.5 1.1M14.9 315.9l0.7 0.7M57.5 328.6l0.9 0.1M79.4 341.2l0.6 1.0M34.0 361.6l-0.4 0.4M12.3 333.9l0.4 0.9M42.1 331.9l0.4 0.4M65.1 359.0l0.1 0.7M62.3 348.7l0.3 0.7M65.2 342.6l0.3 1.0M31.6 337.0l-0.1 0.6M86.6 323.8l0.5 1.0M26.9 360.6l0.0 0.2M63.4 341.0l-0.1 0.5M68.7 334.5l-0.1 0.2M38.3 332.8l0.1 0.3M28.3 362.0l0.7 0.2M18.4 314.7l0.2 0.1M50.7 363.3l0.3 0.7M15.4 325.0l-0.2 0.8M85.8 333.2l-1.0 0.5M74.2 357.3l0.0 0.3M49.8 340.5l0.5 0.4M49.3 318.1l0.9 0.8M14.7 330.3l-0.2 0.6M12.3 330.7l0.1 0.6M59.3 340.3l0.8 0.1M82.9 328.3l0.3 0.3M78.3 344.9l0.8 0.5M35.9 358.8l0.1 1.0" stroke="rgb(69,8,18)" stroke-width="1.36" stroke-linecap="round"/>
<path d="M37.6 351.4l0.7 0.1M78.2 345.4l0.2 0.8M86.3 314.6l0.1 0.4M51.5 341.2l-1.2 0.1M41.6 352.8l0.2 0.4M44.5 338.1l0.1 0.5M46.3 336.8l0.1 0.6M61.8 314.0l0.5 1.1M61.0 355.0l0.7 0.1M31.1 343.2l1.0 0.1M72.9 346.6l-0.3 0.3M18.2 349.8l-0.3 0.2M57.2 334.4l-0.7 1.0M14.3 328.8l0.3 0.2M68.0 335.7l-0.7 0.4M72.3 347.0l-0.7 0.7M55.5 350.0l-0.6 0.2M37.5 347.6l-0.3 0.7M64.9 346.0l0.2 0.6M42.8 358.2l-0.4 0.8M50.2 356.6l-1.0 0.5M68.2 350.6l0.0 0.3M42.3 333.7l0.3 0.4M20.0 343.6l0.1 0.3M67.7 364.0l0.7 0.7M52.5 326.6l0.7 0.5M52.4 327.3l-0.5 0.3M37.4 351.4l0.1 0.2M63.1 333.6l-0.6 0.7M60.7 339.9l-0.2 0.2M42.2 324.0l-0.3 0.1M49.5 320.6l-0.6 0.4M60.5 328.9l-0.1 0.7M70.5 335.4l-0.5 0.2" stroke="rgb(108,13,28)" stroke-width="1.56" stroke-linecap="round"/>
<path d="M58.5 339.1l-0.3 0.6M80.0 361.3l0.2 1.2M26.2 325.9l-0.6 0.8M50.3 363.4l0.3 0.1M31.7 334.3l1.1 0.2M80.8 362.6l0.6 0.1M24.1 351.1l1.0 0.1M26.1 329.9l0.5 0.1M12.5 339.2l-0.5 0.8M32.8 313.9l0.8 0.2M11.5 347.4l-1.0 0.2M67.8 339.3l0.2 1.2M88.1 340.7l-0.1 1.2M16.4 343.8l-0.3 0.8M15.7 325.7l-0.2 1.1M13.8 346.3l-0.0 0.9M67.2 319.2l0.1 0.5M54.4 324.3l0.5 1.1M48.6 339.7l0.9 0.1M25.1 351.3l0.8 0.5M79.0 351.8l0.0 0.6M74.0 333.8l-1.1 0.5M67.0 334.4l0.4 0.1M29.0 357.3l0.2 0.4M88.4 341.8l-0.4 0.2M24.2 320.0l-0.4 0.1M56.1 327.0l0.7 0.2M11.4 334.9l0.7 0.9M13.2 361.6l0.1 0.3M48.1 343.4l0.5 0.6M14.7 345.8l-0.3 0.6M77.4 316.6l-0.8 0.6M17.4 320.1l0.3 0.3" stroke="rgb(154,18,40)" stroke-width="1.76" stroke-linecap="round"/>
<path d="M66.0 345.3l-1.1 0.4M21.2 316.2l-0.2 1.0M87.0 340.1l0.5 0.3M25.0 352.8l0.5 0.7M11.8 316.1l0.2 0.5M14.2 320.0l0.7 0.8M44.7 351.4l1.0 0.4M84.6 361.8l-0.6 0.8M30.8 328.1l-0.2 0.4M81.4 340.5l-0.2 0.6M31.8 321.6l0.2 0.4M28.6 328.6l0.9 0.3M45.0 323.3l-1.1 0.5M28.1 345.1l0.9 0.7M77.7 354.1l0.8 0.3M77.0 347.0l-0.6 0.0M63.3 327.6l-0.2 0.3M71.4 361.2l-0.1 0.3M38.7 323.7l0.5 0.8M64.4 322.5l0.6 0.3M37.6 326.9l1.0 0.1M51.0 338.2l-0.7 0.2M17.8 331.8l0.5 0.3M37.2 350.2l0.2 0.8M23.4 333.4l-0.2 0.2M13.7 328.6l0.9 0.1" stroke="rgb(193,23,50)" stroke-width="1.96" stroke-linecap="round"/>
<path d="M58.4 339.2h0.3M66.1 345.2h0.3M26.0 325.7h0.3M79.8 348.3h0.3M20.9 316.2h0.3M52.3 359.1h0.3M24.2 322.6h0.3M25.0 353.0h0.3M24.4 351.2h0.3M14.2 319.9h0.3M43.7 337.2h0.3M16.5 343.6h0.3M84.4 361.5h0.3M30.8 328.0h0.3M12.3 321.9h0.3M15.7 325.7h0.3M36.1 318.0h0.3M31.2 343.5h0.3M81.1 340.7h0.3M48.9 339.7h0.3M31.7 321.7h0.3M14.8 316.1h0.3M79.3 341.5h0.3M28.5 328.9h0.3M18.2 350.0h0.3M12.3 333.7h0.3M72.2 346.8h0.3M27.9 344.9h0.3M65.4 342.6h0.3M88.4 342.0h0.3M55.8 349.7h0.3M77.6 354.3h0.3M24.2 320.1h0.3M76.9 346.8h0.3M63.3 327.9h0.3M42.6 334.0h0.3M68.7 334.5h0.3M38.1 332.6h0.3M50.4 363.0h0.3M64.1 322.2h0.3M52.7 327.3h0.3M37.5 351.5h0.3M17.6 331.9h0.3M63.3 333.4h0.3M48.0 343.5h0.3M49.5 318.3h0.3M13.7 328.3h0.3M60.8 340.0h0.3M59.0 340.4h0.3M77.3 316.6h0.3M60.6 328.8h0.3M70.7 335.4h0.3" stroke="#4050c4" stroke-width="1.05" stroke-linecap="round" stroke-opacity="0.85"/>
</g>
<rect x="91.1" y="312.6" width="79.7" height="53.1" fill="#040404"/>
<g filter="url(#fb)">
<path d="M123.6 340.5l0.4 0.9M113.3 354.2l-0.7 0.7M108.1 346.7l0.0 0.5M155.3 355.5l0.8 0.5M146.8 343.5l-0.7 0.3M115.1 342.6l-0.5 0.3M142.0 359.7l-0.3 0.0M103.1 314.1l-0.9 0.2M141.1 345.0l0.8 0.2M129.1 351.4l-0.4 0.8M122.1 325.6l0.3 0.2M116.8 323.7l0.1 0.7M142.5 323.9l0.4 1.0M109.6 355.2l0.1 0.5M111.9 359.7l0.3 0.4M113.9 318.9l-0.8 0.5M130.5 344.8l0.3 0.1M159.4 363.4l0.2 0.5M98.4 359.3l0.6 0.3M157.0 347.8l0.1 1.0M92.9 356.1l0.0 0.2M168.1 351.9l1.0 0.2M149.7 358.4l-0.8 0.2M162.9 340.6l-0.3 0.4M128.7 357.3l-0.1 0.2M155.8 362.7l-0.7 0.2M120.8 354.6l-0.8 0.1M167.1 352.8l-1.0 0.1M106.6 325.3l0.1 0.3M154.9 340.3l-0.2 0.2M104.7 359.3l0.6 0.2M139.5 360.5l-0.8 0.4M96.7 322.4l-0.9 0.5M102.7 325.4l-0.3 0.1M129.7 319.3l0.2 0.4M153.2 355.8l-0.1 0.6M105.9 353.8l0.3 0.7M155.2 343.8l0.7 0.0M133.8 317.0l-0.3 0.2M163.3 331.2l0.8 0.3M162.6 361.5l-0.3 0.5M158.0 346.5l-0.9 0.3M137.0 326.8l0.7 0.4M102.2 342.1l0.1 0.8M132.9 350.2l0.7 0.4M92.5 362.2l-0.9 0.2M131.7 323.9l0.4 0.2M134.2 363.8l0.8 0.1M96.4 325.1l-0.6 0.3M115.4 344.7l0.3 0.0M148.2 346.1l-0.6 0.4M133.6 323.7l0.1 0.4M106.5 341.1l0.4 0.6M105.1 337.9l-0.5 0.0M137.8 326.4l0.9 0.1M105.9 343.9l0.4 0.1M143.5 363.7l-1.0 0.2M150.6 323.9l0.7 0.2M132.0 324.0l0.3 0.5M141.4 348.4l-0.2 0.2M121.1 347.6l0.1 0.2M140.8 332.6l-0.2 0.4M106.3 331.7l0.2 0.0M134.8 319.3l-0.2 0.5M106.0 357.8l-0.1 0.6M138.2 333.8l0.7 0.2M110.4 358.1l0.0 0.4M161.2 349.9l0.2 0.2M109.6 358.1l-0.7 0.5M115.1 322.5l0.1 0.7M121.8 364.0l0.3 0.4M158.2 335.0l-0.6 0.8M114.8 337.8l1.0 0.3M101.3 335.2l0.5 0.7M132.1 356.0l-0.2 0.4M112.7 346.0l-0.9 0.6M137.0 327.6l-0.4 0.8M111.9 333.6l-0.9 0.3M135.0 361.6l0.2 0.1M159.7 346.2l0.3 0.1M103.4 337.0l0.7 0.1M157.3 334.5l0.1 0.3" stroke="rgb(52,6,13)" stroke-width="1.22" stroke-linecap="round"/>
<path d="M92.9 328.1l0.4 0.2M126.5 318.1l-0.8 0.0M167.1 316.0l-0.6 0.8M97.1 329.3l-0.4 0.0M98.2 337.1l-0.7 0.3M102.0 335.1l-0.2 0.3M115.3 320.8l-0.3 0.7M121.1 358.1l-0.2 0.3M169.5 343.0l0.6 0.2M131.3 340.7l-0.5 0.1M114.4 354.7l-0.4 0.0M120.7 348.7l-0.2 0.8M97.5 336.5l0.3 0.3M122.3 361.1l0.5 0.9M106.0 329.9l-0.3 0.2M111.8 345.2l-0.3 0.1M156.4 349.9l-0.6 0.5M124.3 357.9l0.4 0.1M102.7 315.5l-1.1 0.0M121.5 329.5l0.7 0.5M161.6 330.5l0.3 0.6M148.2 360.1l-0.3 0.2M120.5 361.1l0.6 0.9M140.5 345.8l0.4 0.3M126.3 321.5l-0.8 0.6M107.2 353.2l-0.2 0.1M95.4 331.7l0.9 0.3M112.9 337.4l0.0 0.6M109.3 337.1l0.1 1.0M106.3 348.2l0.5 0.5M143.2 328.2l-0.8 0.3M148.5 336.4l-0.3 0.0M141.3 342.5l0.2 0.1M149.2 345.4l0.5 0.5M163.5 325.6l0.7 0.8M157.6 349.4l-0.1 1.0M135.8 322.4l-0.2 0.3M163.2 338.5l-0.3 1.0M153.3 321.6l-0.4 0.3M157.9 350.7l-1.0 0.1M129.9 362.7l-0.5 0.3M111.5 357.0l0.5 0.8M151.0 347.5l0.0 0.6M101.1 314.0l0.3 0.0M161.7 343.2l0.8 0.4M122.7 328.8l0.3 0.4M118.8 334.6l0.8 0.1M99.1 340.5l-1.0 0.2M104.5 316.1l-0.9 0.2M133.0 338.1l0.4 0.2M158.0 319.9l0.9 0.6M160.6 340.5l0.5 0.5M148.2 325.4l0.1 0.9M126.2 339.6l-0.5 1.0M140.0 314.0l0.3 0.7M106.5 316.9l-0.2 0.1M107.1 314.2l-0.4 0.4M108.7 341.6l0.1 0.5M99.9 343.8l0.2 1.1M167.4 353.6l-0.1 0.2M163.2 351.1l0.4 0.6M133.1 314.3l0.4 0.5M167.0 353.0l0.1 0.7M127.3 337.9l0.5 0.1M122.1 362.4l-0.4 0.5" stroke="rgb(82,10,21)" stroke-width="1.4" stroke-linecap="round"/>
<path d="M108.1 319.0l-0.9 0.4M158.6 338.2l1.0 0.5M148.6 321.2l0.2 0.6M142.1 327.6l-0.9 0.3M103.5 352.6l0.5 0.8M140.2 345.1l0.8 0.4M105.0 316.8l-0.1 0.3M167.3 323.9l-0.6 0.8M141.7 354.4l0.7 0.7M103.0 336.9l0.6 0.4M131.8 352.2l-0.4 0.5" stroke="rgb(117,14,30)" stroke-width="1.58" stroke-linecap="round"/>
<path d="M161.2 343.9l-0.6 0.8M119.2 345.7l-0.6 0.8M135.2 347.9l0.7 0.6M152.9 351.6l0.1 0.3M165.9 345.2l-0.2 0.1M156.3 320.3l0.1 0.3M95.1 319.9l0.1 1.0M116.7 357.7l0.1 0.9M109.1 353.5l0.1 0.8M114.8 338.2l0.3 0.2M118.8 327.8l-0.1 0.4M138.7 363.7l-0.2 0.2" stroke="rgb(147,17,38)" stroke-width="1.76" stroke-linecap="round"/>
<path d="M123.6 340.5h0.3M108.2 318.9h0.3M160.9 343.7h0.3M113.2 354.3h0.3M108.1 346.9h0.3M146.7 343.4h0.3M115.0 342.7h0.3M158.5 338.5h0.3M115.4 320.5h0.3M121.1 358.3h0.3M122.0 325.4h0.3M114.4 354.9h0.3M119.4 346.0h0.3M122.0 361.0h0.3M130.4 344.7h0.3M148.8 321.1h0.3M159.6 363.5h0.3M98.3 359.2h0.3M111.5 345.4h0.3M156.6 350.1h0.3M156.9 347.7h0.3M124.5 357.9h0.3M142.2 327.9h0.3M92.6 356.1h0.3M168.2 351.7h0.3M165.6 345.4h0.3M162.9 340.8h0.3M120.9 354.4h0.3M167.2 352.9h0.3M106.6 325.4h0.3M104.4 359.3h0.3M121.3 329.6h0.3M139.4 360.4h0.3M148.1 360.0h0.3M120.3 361.3h0.3M126.2 321.4h0.3M102.4 325.2h0.3M129.5 319.1h0.3M153.5 355.7h0.3M140.3 344.8h0.3M155.3 343.9h0.3M134.0 316.7h0.3M163.6 331.3h0.3M162.5 361.8h0.3M157.8 346.2h0.3M136.8 326.9h0.3M102.4 342.2h0.3M106.1 348.4h0.3M92.5 361.9h0.3M167.5 323.7h0.3M134.5 363.8h0.3M115.1 344.7h0.3M148.2 346.1h0.3M133.8 323.8h0.3M135.9 322.2h0.3M106.6 341.0h0.3M105.4 337.9h0.3M105.7 344.1h0.3M153.3 321.4h0.3M157.9 351.0h0.3M150.8 323.9h0.3M130.1 362.5h0.3M111.2 357.1h0.3M151.0 347.7h0.3M141.9 354.6h0.3M132.2 324.1h0.3M109.3 353.6h0.3M141.4 348.2h0.3M122.4 328.7h0.3M121.1 347.8h0.3M106.1 331.4h0.3M99.4 340.8h0.3M104.4 316.1h0.3M132.7 338.1h0.3M138.0 334.1h0.3M158.2 320.0h0.3M160.8 340.3h0.3M109.6 357.9h0.3M148.3 325.5h0.3M115.2 322.3h0.3M122.0 364.3h0.3M126.2 339.4h0.3M158.4 335.2h0.3M114.9 338.2h0.3M118.8 327.7h0.3M140.0 313.9h0.3M114.5 338.1h0.3M138.6 363.4h0.3M108.9 341.5h0.3M132.0 355.7h0.3M103.3 336.7h0.3M112.7 346.1h0.3M167.3 353.5h0.3M131.9 352.1h0.3M134.7 361.7h0.3M133.0 314.0h0.3M167.0 352.9h0.3M103.6 336.8h0.3M157.4 334.6h0.3" stroke="#4050c4" stroke-width="1.05" stroke-linecap="round" stroke-opacity="0.85"/>
</g>
<rect x="172.2" y="312.6" width="79.7" height="53.1" fill="#040404"/>
<g filter="url(#fb)">
<path d="M215.4 322.9l-0.1 0.5M193.2 322.9l0.5 0.8M181.6 325.5l0.2 0.2M192.8 319.7l0.0 0.2M231.9 342.9l-0.3 0.5M212.7 334.7l0.4 0.6M185.4 314.0l0.0 0.3M220.5 331.9l0.9 0.1M185.9 329.9l-0.5 0.0M182.2 344.6l0.5 0.3M215.6 361.1l0.4 0.5M208.5 338.9l-0.9 0.5M193.2 334.2l1.0 0.2M218.1 331.6l0.9 0.5M239.9 348.1l0.5 0.1M181.7 323.5l-0.7 0.2M216.6 348.2l-0.1 0.8M192.2 354.2l-0.5 0.2M183.0 345.4l-0.8 0.4M174.2 356.3l0.6 0.7M212.7 361.1l0.3 0.4M187.9 351.0l-0.1 0.7M225.0 333.9l-0.9 0.4M249.8 334.2l-0.5 0.6M183.4 336.6l-0.6 0.6M235.5 322.1l-0.2 0.4M243.8 337.9l0.0 0.6M204.9 321.6l-0.5 0.0M230.2 363.6l0.5 0.8M188.1 333.3l-0.7 0.1M175.8 345.2l-0.2 0.2M183.9 317.3l-0.1 0.2M199.7 322.1l-0.6 0.7M245.1 343.5l0.0 0.8M226.8 320.2l0.1 0.4M212.5 363.0l0.3 0.8M209.8 326.2l-0.3 0.2M184.1 340.9l0.2 0.3M194.8 314.7l0.0 0.3M205.8 320.5l0.5 0.0M198.9 322.9l-0.5 0.3M195.2 318.2l-0.3 0.0M222.9 359.6l0.8 0.7M198.1 328.3l-0.3 0.1M204.4 318.0l0.4 0.6M232.0 342.0l-0.1 0.7M184.4 314.5l-0.8 0.4M214.7 344.1l-0.1 0.6M183.9 336.2l0.7 0.3M250.1 340.8l-0.4 0.2M182.6 348.9l0.8 0.2M229.8 340.6l0.9 0.2M222.7 351.7l0.1 0.4M219.6 323.0l0.5 0.8M240.4 361.4l-0.6 0.7M203.0 341.5l0.1 0.4M202.4 319.0l0.3 0.3M247.1 315.8l-0.1 0.4M217.4 331.5l-0.4 0.1M249.2 364.1l-0.4 0.3M249.8 363.6l0.6 0.5M186.5 322.7l0.8 0.7M239.3 341.6l-0.4 0.8M225.1 335.6l-0.6 0.6M181.5 338.6l0.0 0.4M218.2 326.7l-0.0 0.5M203.8 359.3l0.2 0.8M184.1 323.1l-0.7 0.6M175.5 326.7l-0.6 0.1M178.1 344.6l-0.8 0.6M209.3 345.3l0.3 0.8M198.0 317.5l0.6 0.2M241.3 360.1l0.1 0.5M186.7 342.3l-0.9 0.1M239.7 337.9l-0.4 0.1M246.3 323.6l0.2 0.3M234.7 322.1l0.3 0.7M245.2 360.1l-0.6 0.0M193.9 351.2l-0.5 0.6M176.0 341.3l0.3 0.2M216.5 328.1l-0.2 0.3M238.7 324.1l-0.1 0.3M213.1 358.9l1.1 0.1M227.7 323.2l0.3 0.8M178.6 337.8l-0.6 0.6M211.0 336.1l-1.0 0.2M204.2 314.8l0.1 0.3M196.0 356.4l-0.7 0.1M182.9 315.5l-0.8 0.1M225.9 315.2l-0.2 0.3M181.4 352.4l-0.1 0.4M201.1 363.1l-0.9 0.1M224.4 360.2l0.3 0.1M248.6 341.7l-0.1 0.2M212.7 344.7l-0.3 0.0M195.3 364.0l-0.1 1.0M184.8 356.5l0.2 1.0M186.0 339.0l-0.1 0.3M217.1 326.3l-0.8 0.3M203.7 324.8l-0.3 0.7M208.3 345.7l0.3 0.1M176.5 324.5l0.2 0.3M236.6 354.8l-0.9 0.3M206.6 350.6l-0.3 0.2M206.3 336.2l0.1 0.2M243.4 336.6l-0.5 0.9" stroke="rgb(29,3,7)" stroke-width="1.19" stroke-linecap="round"/>
<path d="M201.2 355.4l-0.6 0.1M218.3 324.0l-0.6 0.3M241.6 348.3l0.5 0.0M217.7 328.1l-0.6 0.1M208.0 336.1l-0.3 0.7M245.8 347.9l0.2 0.2M246.7 333.1l0.1 0.6M202.4 327.1l-0.6 0.4M210.1 321.2l0.0 0.3M200.1 359.4l0.4 0.1M178.3 335.0l-0.1 0.3M206.1 317.7l0.5 0.3M211.8 348.9l0.5 0.5M216.1 361.6l-0.4 0.2M246.2 329.8l0.5 0.0M175.9 322.8l0.6 0.3M244.2 357.3l0.7 0.2M199.0 317.0l0.9 0.0M198.7 334.0l-0.3 0.7M249.3 360.8l-0.4 1.0M197.6 331.4l-0.1 0.3M177.6 324.3l0.4 0.4M228.0 354.2l0.6 0.4M234.6 325.6l-0.3 0.2M218.5 325.1l0.5 0.2M248.5 322.6l-0.0 0.6M231.4 322.0l-0.3 0.1M221.2 358.5l0.9 0.1M238.7 314.8l-0.5 0.1M187.1 353.5l-0.6 0.7M200.9 349.2l0.2 0.4M241.9 360.7l-0.1 0.3M203.3 321.7l-0.2 1.0M245.6 318.8l-0.1 0.1M238.9 320.4l-0.1 0.4M244.2 332.8l0.6 0.3M191.2 314.9l0.6 0.4M217.6 319.4l0.2 0.7M182.8 360.3l-0.3 0.0M209.6 361.4l0.3 0.2M228.8 337.5l0.5 0.8M225.4 359.6l0.6 0.5M218.2 332.2l0.0 0.5M222.9 338.9l-0.5 0.6M228.2 314.8l-0.8 0.5M226.2 328.9l-0.4 0.0M249.8 352.7l-0.4 0.2M188.4 334.3l0.2 0.2M246.2 328.8l0.0 0.4M191.9 341.0l-0.4 0.3M188.1 327.2l0.3 0.2M186.0 330.8l-0.5 0.5M179.7 314.2l-0.2 0.4M173.5 324.6l-0.5 0.4M207.3 328.0l-0.6 0.3M245.8 331.9l-0.6 0.4M235.3 326.2l0.2 0.2M236.8 340.4l0.6 0.7M215.0 352.3l-0.6 0.7M187.8 347.7l0.5 0.5M230.0 315.9l0.1 0.4M234.6 334.7l0.3 0.2M189.6 316.2l0.4 0.4M176.0 349.2l0.0 0.6M209.9 320.9l-0.1 0.6M235.5 325.2l-0.1 0.8M245.5 321.5l0.5 0.8M231.1 346.0l0.7 0.7M197.5 320.4l0.2 0.2M228.0 318.5l0.6 0.3M241.3 337.5l-0.1 0.4M209.3 340.4l-0.7 0.1M230.2 331.4l-0.5 0.5M241.4 349.5l-0.1 0.7M246.8 360.4l-0.0 0.3M193.2 349.3l-0.8 0.4M210.1 317.1l-0.2 0.2M222.0 337.0l0.1 0.2M197.7 335.4l-0.2 0.6M243.8 350.5l0.4 1.0M235.8 325.6l0.4 0.7M191.8 359.3l-0.2 0.7" stroke="rgb(46,5,12)" stroke-width="1.36" stroke-linecap="round"/>
<path d="M186.1 316.8l0.2 0.8" stroke="rgb(66,8,17)" stroke-width="1.54" stroke-linecap="round"/>
<path d="M184.7 343.3l0.1 0.2" stroke="rgb(82,10,21)" stroke-width="1.72" stroke-linecap="round"/>
<path d="M215.7 323.1h0.3M193.4 322.6h0.3M181.6 325.6h0.3M192.6 319.5h0.3M231.7 342.8h0.3M241.6 348.6h0.3M185.6 314.2h0.3M217.8 328.1h0.3M186.1 329.6h0.3M208.8 338.9h0.3M245.8 348.0h0.3M246.6 333.4h0.3M216.8 348.0h0.3M202.5 327.1h0.3M209.8 321.3h0.3M200.0 359.4h0.3M178.0 335.1h0.3M206.0 317.5h0.3M183.1 345.3h0.3M173.9 356.6h0.3M246.1 329.8h0.3M212.7 360.8h0.3M244.4 357.2h0.3M187.8 350.8h0.3M199.3 316.9h0.3M250.0 334.4h0.3M183.3 336.6h0.3M249.5 361.0h0.3M244.0 337.6h0.3M230.0 363.8h0.3M227.8 354.4h0.3M175.9 345.5h0.3M199.9 322.0h0.3M231.4 322.0h0.3M244.9 343.2h0.3M221.2 358.5h0.3M186.9 353.5h0.3M227.1 320.0h0.3M200.8 349.0h0.3M212.6 363.0h0.3M209.6 326.1h0.3M184.1 340.7h0.3M245.8 318.6h0.3M194.5 314.5h0.3M191.1 315.1h0.3M205.5 320.7h0.3M195.0 318.3h0.3M183.0 360.5h0.3M198.3 328.5h0.3M228.7 337.4h0.3M184.8 343.4h0.3M204.3 318.2h0.3M231.8 342.1h0.3M225.4 359.8h0.3M218.3 332.0h0.3M223.1 338.9h0.3M228.0 314.6h0.3M249.9 352.8h0.3M188.7 334.5h0.3M245.9 328.8h0.3M183.9 336.3h0.3M182.5 348.7h0.3M230.0 340.3h0.3M187.9 327.5h0.3M202.8 341.3h0.3M173.6 324.3h0.3M202.5 318.8h0.3M217.2 331.3h0.3M249.3 364.0h0.3M186.3 322.6h0.3M239.0 341.3h0.3M245.9 331.7h0.3M181.7 338.6h0.3M218.2 326.9h0.3M203.9 359.1h0.3M235.4 326.0h0.3M184.3 323.0h0.3M236.7 340.6h0.3M175.2 326.9h0.3M215.0 352.6h0.3M209.2 345.4h0.3M187.6 347.6h0.3M230.2 316.0h0.3M193.9 350.9h0.3M189.8 316.3h0.3M176.0 349.5h0.3M176.1 341.3h0.3M238.8 324.1h0.3M235.4 325.2h0.3M227.7 323.3h0.3M245.8 321.5h0.3M178.3 337.7h0.3M204.1 315.0h0.3M227.8 318.5h0.3M241.2 337.5h0.3M224.1 360.2h0.3M230.4 331.7h0.3M248.4 341.4h0.3M212.5 344.5h0.3M195.3 364.1h0.3M185.8 339.1h0.3M217.1 326.4h0.3M208.4 345.9h0.3M176.8 324.4h0.3M236.5 354.6h0.3M197.9 335.3h0.3M236.0 325.4h0.3" stroke="#4050c4" stroke-width="1.05" stroke-linecap="round" stroke-opacity="0.85"/>
</g>
<rect x="253.4" y="312.6" width="79.7" height="53.1" fill="#040404"/>
<g filter="url(#fb)">
<path d="M272.5 342.5l0.2 0.4M318.7 360.2l-0.6 0.5M301.4 336.8l-0.2 0.4M279.0 359.3l0.5 0.7M316.5 344.9l0.2 0.2M266.7 362.3l-0.3 1.0M304.2 315.1l-0.4 0.0M267.0 316.7l0.2 0.1M298.0 364.0l0.2 0.6M288.7 352.3l-0.3 0.0M265.2 321.6l-0.8 0.5M260.6 320.0l-0.9 0.5M256.0 314.3l0.4 0.8M291.0 353.8l-0.5 0.0M273.4 348.4l-0.8 0.0M327.1 359.7l0.2 0.5M328.6 317.4l0.1 0.6M297.6 355.3l-0.3 0.5M299.1 326.9l0.5 0.2M257.7 316.3l0.5 0.2M310.0 361.6l-0.0 0.2M276.9 326.0l-0.7 0.8M325.7 326.7l0.6 0.4M290.6 322.8l0.3 0.0M256.2 354.4l0.1 0.2M299.1 361.7l0.5 0.0M325.0 325.0l0.3 0.8M315.9 345.0l-0.3 0.5M316.9 333.6l0.0 0.6M279.3 313.8l0.4 0.2M256.6 322.2l0.4 0.9M290.9 339.0l-0.9 0.1M326.4 358.4l0.1 1.0M290.5 316.5l0.3 0.0M278.7 317.3l0.3 0.4M265.5 354.4l-0.9 0.7M314.2 331.0l0.3 0.9M255.8 354.4l0.5 0.8M320.8 335.6l0.1 0.6M328.6 326.4l-0.1 0.3M280.0 354.8l-0.3 0.9M320.3 327.4l-0.2 0.4M264.0 361.7l0.1 0.2M329.9 325.0l0.8 0.1M316.4 345.0l-0.2 0.2M316.1 328.8l0.5 0.7M286.3 322.6l-0.5 0.6M258.6 338.8l-0.2 0.5M309.7 320.3l0.4 0.4M317.7 356.1l-0.4 0.1M291.1 336.0l0.1 0.4M275.4 324.8l-0.2 0.8M308.4 351.4l-0.8 0.1M265.0 342.6l0.0 0.3M262.2 318.4l-0.3 0.9M313.3 350.3l-0.9 0.5M271.2 316.2l0.3 0.0M298.5 341.5l-0.7 0.6M325.8 339.7l-0.2 0.4M324.9 352.1l-0.4 0.3M299.4 337.5l-0.8 0.2M258.5 315.1l0.3 0.9M299.9 338.9l0.3 0.2M320.9 346.7l0.3 0.0M257.6 346.5l1.0 0.3M307.3 320.9l0.1 0.6M272.1 349.6l0.3 0.0M313.4 325.1l0.4 0.5M269.2 322.2l-0.4 0.4M270.3 357.2l-0.2 0.0M305.9 361.6l0.2 0.3M299.7 340.5l-0.4 0.6M277.6 335.0l0.8 0.5M309.9 341.2l-0.0 0.2M290.3 353.5l0.1 0.3M290.4 319.3l-0.7 0.3M299.6 357.4l-0.2 0.3M282.3 352.2l0.2 0.1M295.1 362.1l-0.1 0.8M293.6 340.5l-0.3 0.6M294.5 336.1l0.1 0.3" stroke="rgb(54,6,14)" stroke-width="1.22" stroke-linecap="round"/>
<path d="M305.0 346.6l-0.7 0.3M259.3 362.6l-0.3 0.3M320.9 349.1l-0.4 1.0M256.4 336.1l-0.2 0.9M307.7 325.6l-0.0 0.2M272.3 337.5l0.6 0.1M320.5 319.3l-0.6 0.6M330.7 347.2l0.8 0.4M309.2 348.6l0.9 0.3M281.3 354.5l-0.2 0.5M272.2 348.3l0.4 0.2M315.6 339.0l-0.2 0.1M280.1 359.9l-0.6 0.4M312.0 323.0l-0.4 0.4M262.6 351.7l-0.1 0.2M254.7 316.2l-0.1 0.3M326.0 323.7l1.1 0.1M299.4 350.3l-0.2 0.5M287.5 322.2l0.7 0.0M331.1 338.5l0.5 0.2M324.9 321.1l-0.8 0.3M264.9 353.7l-0.3 0.8M323.8 326.5l-0.1 0.2M297.6 334.4l-0.4 0.8M256.7 353.5l0.0 0.2M256.0 336.6l-0.5 0.1M262.9 363.0l0.2 0.2M286.2 320.9l0.2 0.4M277.3 350.4l0.1 0.5M270.1 320.2l0.7 0.5M297.7 354.4l-0.2 0.1M265.2 334.1l-0.6 0.1M273.9 319.8l0.6 0.4M292.2 328.6l-0.2 0.3M316.6 358.4l0.5 0.5M258.1 344.8l0.4 0.3M316.0 333.1l-0.2 0.1M277.7 315.7l-0.9 0.6M319.8 338.8l0.6 0.5M317.4 334.8l0.1 0.7M330.9 362.1l0.2 1.1M285.4 354.5l-0.4 0.3M313.4 352.1l-0.7 0.2M320.9 337.2l-0.2 0.4M273.1 363.0l-0.4 0.3M298.6 319.8l0.6 0.1M277.4 331.0l-0.7 0.6M276.3 357.2l0.5 0.4M311.8 354.3l-0.1 0.2M315.2 347.1l0.3 0.2M283.9 320.6l-0.9 0.0M308.7 314.0l0.0 0.3M314.8 334.9l0.1 0.9M331.6 348.7l-0.7 0.9M326.4 361.6l0.2 0.7M311.0 314.5l0.2 0.7M297.7 346.1l0.1 0.8M319.1 318.3l-0.8 0.0M274.1 357.5l0.2 0.0M312.5 335.0l0.2 1.1M284.2 325.9l-0.2 0.8M306.9 353.9l-0.7 0.1M264.9 319.4l-0.2 0.7M288.3 353.9l0.5 0.1M327.2 335.1l0.0 1.0M282.3 363.6l0.5 0.1M318.2 361.2l-0.1 0.6M285.8 319.1l-0.0 0.5M299.5 344.5l0.6 0.5M261.1 328.9l-0.0 0.2M311.8 325.0l0.0 0.8M286.6 333.3l-0.9 0.3M261.5 357.2l-0.5 0.7" stroke="rgb(85,10,22)" stroke-width="1.4" stroke-linecap="round"/>
<path d="M300.4 361.1l-0.0 0.8M297.0 336.8l-0.5 0.7M298.6 333.1l-0.2 0.1M301.9 359.9l-0.3 0.1M295.0 359.7l-0.1 0.3M329.5 344.3l0.1 0.4M303.8 335.7l-0.3 0.0" stroke="rgb(121,14,31)" stroke-width="1.58" stroke-linecap="round"/>
<path d="M321.5 319.8l-0.9 0.6M289.7 362.2l-0.0 0.6M303.0 352.6l0.7 0.5M268.6 340.1l-0.6 0.7M288.7 329.3l0.8 0.7M266.8 338.5l0.4 0.5M322.5 318.9l-0.7 0.4M265.4 353.0l-1.0 0.2M277.6 328.0l-0.3 0.2" stroke="rgb(151,18,39)" stroke-width="1.76" stroke-linecap="round"/>
<path d="M304.8 346.6h0.3M259.4 362.4h0.3M318.7 360.3h0.3M320.6 349.4h0.3M272.5 337.7h0.3M320.7 319.2h0.3M330.6 347.1h0.3M278.7 359.1h0.3M272.2 348.4h0.3M316.3 345.0h0.3M315.5 339.0h0.3M279.9 359.8h0.3M311.9 323.3h0.3M297.9 364.0h0.3M255.0 316.1h0.3M260.7 320.1h0.3M255.9 314.4h0.3M299.6 350.4h0.3M287.4 322.0h0.3M325.2 321.2h0.3M323.7 326.5h0.3M297.9 355.6h0.3M297.6 334.3h0.3M299.1 327.2h0.3M255.8 336.6h0.3M309.8 361.5h0.3M277.2 325.9h0.3M325.8 326.6h0.3M269.9 320.0h0.3M255.9 354.2h0.3M316.1 345.1h0.3M321.4 319.6h0.3M279.2 313.7h0.3M274.2 320.0h0.3M296.8 336.8h0.3M292.0 328.4h0.3M316.7 358.5h0.3M256.7 321.9h0.3M298.3 332.8h0.3M290.8 339.3h0.3M326.6 358.3h0.3M290.8 316.7h0.3M265.7 354.3h0.3M316.1 332.8h0.3M302.2 359.7h0.3M277.6 315.8h0.3M320.9 335.8h0.3M328.4 326.4h0.3M268.8 339.8h0.3M319.9 338.8h0.3M317.5 334.7h0.3M320.6 327.3h0.3M331.1 362.1h0.3M285.4 354.3h0.3M264.0 361.5h0.3M288.7 329.5h0.3M316.7 344.8h0.3M266.8 338.6h0.3M315.9 328.6h0.3M277.7 331.3h0.3M309.9 320.1h0.3M318.0 356.4h0.3M275.1 324.8h0.3M276.4 357.3h0.3M283.7 320.7h0.3M308.2 351.2h0.3M265.2 342.5h0.3M262.4 318.2h0.3M322.3 319.1h0.3M294.7 359.5h0.3M313.3 350.5h0.3M271.3 316.4h0.3M310.8 314.4h0.3M297.7 346.1h0.3M326.1 339.5h0.3M299.3 337.3h0.3M258.3 315.0h0.3M319.0 318.6h0.3M274.2 357.3h0.3M312.6 334.8h0.3M320.7 346.8h0.3M257.8 346.7h0.3M284.1 325.9h0.3M277.4 327.7h0.3M272.1 349.5h0.3M270.0 356.9h0.3M329.6 344.5h0.3M305.7 361.8h0.3M288.3 353.7h0.3M299.5 340.2h0.3M277.6 335.1h0.3M310.2 340.9h0.3M318.5 361.0h0.3M290.1 353.6h0.3M290.6 319.4h0.3M299.4 357.3h0.3M303.8 335.9h0.3M293.4 340.3h0.3M286.7 333.6h0.3M261.7 357.2h0.3M294.5 336.4h0.3" stroke="#4050c4" stroke-width="1.05" stroke-linecap="round" stroke-opacity="0.85"/>
</g>
<text x="0" y="0" font-size="8.7" fill="#eee" style="stroke:none" transform="translate(310.6 359.2) scale(0.92 1)">50μm</text>
<line x1="320.6" y1="361.5" x2="326.8" y2="361.5" stroke="#ddd" stroke-width="0.9"/>
<text x="0" y="0" font-size="16.2" text-anchor="start" fill="#000" transform="translate(336.3 196) scale(0.93 1)" style="stroke:#000;stroke-width:0.35px">E</text>
<rect x="387.9" y="183" width="10.5" height="4.4" fill="#dcdddd" stroke="#333" stroke-width="0.9"/>
<text x="404.6" y="187.8" font-size="8.2" text-anchor="start" fill="#1a1a1a">HNEpC</text>
<rect x="387.9" y="196.4" width="10.5" height="4.4" fill="#efca9b" stroke="#333" stroke-width="0.9"/>
<text x="404.6" y="201.2" font-size="8.2" text-anchor="start" fill="#1a1a1a">OVA-HNEpC+OE-NC</text>
<rect x="497.3" y="183" width="10.5" height="4.4" fill="#5673b7" stroke="#333" stroke-width="0.9"/>
<text x="514" y="187.8" font-size="8.2" text-anchor="start" fill="#1a1a1a">OVA-HNEpC+OE-METTL3</text>
<rect x="497.3" y="196.4" width="10.5" height="4.4" fill="#a2e0e0" stroke="#333" stroke-width="0.9"/>
<text x="514" y="201.2" font-size="8.2" text-anchor="start" fill="#1a1a1a">OVA-HNEpC +OE-METTL3+sh-circCDKAL1</text>
<line x1="365" y1="207" x2="365" y2="346.7" stroke="#262626" stroke-width="1"/>
<line x1="358.8" y1="346.2" x2="365" y2="346.2" stroke="#262626" stroke-width="1"/>
<text x="0" y="0" font-size="8.9" text-anchor="end" fill="#1a1a1a" transform="translate(357.6 349.35) scale(0.93 1)">0</text>
<line x1="358.8" y1="311.52" x2="365" y2="311.52" stroke="#262626" stroke-width="1"/>
<text x="0" y="0" font-size="8.9" text-anchor="end" fill="#1a1a1a" transform="translate(357.6 314.67) scale(0.93 1)">2</text>
<line x1="358.8" y1="276.84" x2="365" y2="276.84" stroke="#262626" stroke-width="1"/>
<text x="0" y="0" font-size="8.9" text-anchor="end" fill="#1a1a1a" transform="translate(357.6 279.99) scale(0.93 1)">4</text>
<line x1="358.8" y1="242.16" x2="365" y2="242.16" stroke="#262626" stroke-width="1"/>
<text x="0" y="0" font-size="8.9" text-anchor="end" fill="#1a1a1a" transform="translate(357.6 245.31) scale(0.93 1)">6</text>
<line x1="358.8" y1="207.48" x2="365" y2="207.48" stroke="#262626" stroke-width="1"/>
<text x="0" y="0" font-size="8.9" text-anchor="end" fill="#1a1a1a" transform="translate(357.6 210.63) scale(0.93 1)">8</text>
<line x1="365" y1="346.2" x2="682.3" y2="346.2" stroke="#262626" stroke-width="1"/>
<line x1="402.5" y1="346.2" x2="402.5" y2="351.7" stroke="#262626" stroke-width="1"/>
<rect x="371.15" y="329.55" width="11.1" height="16.65" fill="#dcdddd" stroke="#262626" stroke-width="1"/>
<rect x="388.35" y="286.9" width="11.1" height="59.3" fill="#efca9b" stroke="#262626" stroke-width="1"/>
<rect x="405.55" y="259.33" width="11.1" height="86.87" fill="#5673b7" stroke="#262626" stroke-width="1"/>
<rect x="422.75" y="277.71" width="11.1" height="68.49" fill="#a2e0e0" stroke="#262626" stroke-width="1"/>
<line x1="483.1" y1="346.2" x2="483.1" y2="351.7" stroke="#262626" stroke-width="1"/>
<rect x="451.75" y="329.21" width="11.1" height="16.99" fill="#dcdddd" stroke="#262626" stroke-width="1"/>
<rect x="468.95" y="275.11" width="11.1" height="71.09" fill="#efca9b" stroke="#262626" stroke-width="1"/>
<rect x="486.15" y="243.89" width="11.1" height="102.31" fill="#5673b7" stroke="#262626" stroke-width="1"/>
<rect x="503.35" y="272.16" width="11.1" height="74.04" fill="#a2e0e0" stroke="#262626" stroke-width="1"/>
<line x1="563.4" y1="346.2" x2="563.4" y2="351.7" stroke="#262626" stroke-width="1"/>
<rect x="532.05" y="328.86" width="11.1" height="17.34" fill="#dcdddd" stroke="#262626" stroke-width="1"/>
<rect x="549.25" y="318.46" width="11.1" height="27.74" fill="#efca9b" stroke="#262626" stroke-width="1"/>
<rect x="566.45" y="327.13" width="11.1" height="19.07" fill="#5673b7" stroke="#262626" stroke-width="1"/>
<rect x="583.65" y="316.03" width="11.1" height="30.17" fill="#a2e0e0" stroke="#262626" stroke-width="1"/>
<line x1="643.8" y1="346.2" x2="643.8" y2="351.7" stroke="#262626" stroke-width="1"/>
<rect x="612.45" y="328.86" width="11.1" height="17.34" fill="#dcdddd" stroke="#262626" stroke-width="1"/>
<rect x="629.65" y="317.94" width="11.1" height="28.26" fill="#efca9b" stroke="#262626" stroke-width="1"/>
<rect x="646.85" y="327.13" width="11.1" height="19.07" fill="#5673b7" stroke="#262626" stroke-width="1"/>
<rect x="664.05" y="314.99" width="11.1" height="31.21" fill="#a2e0e0" stroke="#262626" stroke-width="1"/>
<circle cx="372.14" cy="329.15" r="1.71" fill="#e8373c"/>
<circle cx="375.18" cy="329.95" r="1.71" fill="#e8373c"/>
<circle cx="378.22" cy="329.15" r="1.71" fill="#e8373c"/>
<circle cx="381.26" cy="329.95" r="1.71" fill="#e8373c"/>
<line x1="376.7" y1="328.69" x2="376.7" y2="330.42" stroke="#262626" stroke-width="1"/>
<line x1="373.5" y1="328.69" x2="379.9" y2="328.69" stroke="#262626" stroke-width="1"/>
<line x1="373.5" y1="330.42" x2="379.9" y2="330.42" stroke="#262626" stroke-width="1"/>
<rect x="391.9" y="278.6" width="3.4" height="3.4" fill="#e8373c"/>
<rect x="388.4" y="283.9" width="3.4" height="3.4" fill="#e8373c"/>
<rect x="391.9" y="286.3" width="3.4" height="3.4" fill="#e8373c"/>
<rect x="394.8" y="289.7" width="3.4" height="3.4" fill="#e8373c"/>
<line x1="393.9" y1="282.3" x2="393.9" y2="291.2" stroke="#262626" stroke-width="1"/>
<line x1="390.7" y1="282.3" x2="397.1" y2="282.3" stroke="#262626" stroke-width="1"/>
<line x1="390.7" y1="291.2" x2="397.1" y2="291.2" stroke="#262626" stroke-width="1"/>
<path d="M411.1 241.65L413.55 245.94L408.65 245.94Z" fill="#e8373c"/>
<path d="M408.2 256.85L410.65 261.14L405.75 261.14Z" fill="#e8373c"/>
<path d="M414.1 260.35L416.55 264.64L411.65 264.64Z" fill="#e8373c"/>
<path d="M411.1 270.85L413.55 275.14L408.65 275.14Z" fill="#e8373c"/>
<line x1="411.1" y1="247.4" x2="411.1" y2="271.3" stroke="#262626" stroke-width="1"/>
<line x1="407.9" y1="247.4" x2="414.3" y2="247.4" stroke="#262626" stroke-width="1"/>
<line x1="407.9" y1="271.3" x2="414.3" y2="271.3" stroke="#262626" stroke-width="1"/>
<path d="M425.2 272.85L427.65 268.56L422.75 268.56Z" fill="#e8373c"/>
<path d="M431.6 273.45L434.05 269.16L429.15 269.16Z" fill="#e8373c"/>
<path d="M425.2 286.25L427.65 281.96L422.75 281.96Z" fill="#e8373c"/>
<path d="M431.6 287.45L434.05 283.16L429.15 283.16Z" fill="#e8373c"/>
<line x1="428.3" y1="269.4" x2="428.3" y2="285" stroke="#262626" stroke-width="1"/>
<line x1="425.1" y1="269.4" x2="431.5" y2="269.4" stroke="#262626" stroke-width="1"/>
<line x1="425.1" y1="285" x2="431.5" y2="285" stroke="#262626" stroke-width="1"/>
<circle cx="452.74" cy="328.81" r="1.71" fill="#e8373c"/>
<circle cx="455.78" cy="329.61" r="1.71" fill="#e8373c"/>
<circle cx="458.82" cy="328.81" r="1.71" fill="#e8373c"/>
<circle cx="461.86" cy="329.61" r="1.71" fill="#e8373c"/>
<line x1="457.3" y1="328.34" x2="457.3" y2="330.07" stroke="#262626" stroke-width="1"/>
<line x1="454.1" y1="328.34" x2="460.5" y2="328.34" stroke="#262626" stroke-width="1"/>
<line x1="454.1" y1="330.07" x2="460.5" y2="330.07" stroke="#262626" stroke-width="1"/>
<rect x="472.6" y="264.3" width="3.4" height="3.4" fill="#e8373c"/>
<rect x="469.8" y="272.7" width="3.4" height="3.4" fill="#e8373c"/>
<rect x="475.3" y="275.5" width="3.4" height="3.4" fill="#e8373c"/>
<rect x="472.6" y="283.6" width="3.4" height="3.4" fill="#e8373c"/>
<line x1="474.5" y1="267.9" x2="474.5" y2="283.3" stroke="#262626" stroke-width="1"/>
<line x1="471.3" y1="267.9" x2="477.7" y2="267.9" stroke="#262626" stroke-width="1"/>
<line x1="471.3" y1="283.3" x2="477.7" y2="283.3" stroke="#262626" stroke-width="1"/>
<path d="M491.3 224.35L493.75 228.64L488.85 228.64Z" fill="#e8373c"/>
<path d="M491.3 238.65L493.75 242.94L488.85 242.94Z" fill="#e8373c"/>
<path d="M491.3 248.15L493.75 252.44L488.85 252.44Z" fill="#e8373c"/>
<path d="M491.3 257.75L493.75 262.04L488.85 262.04Z" fill="#e8373c"/>
<line x1="491.7" y1="229.8" x2="491.7" y2="258.8" stroke="#262626" stroke-width="1"/>
<line x1="488.5" y1="229.8" x2="494.9" y2="229.8" stroke="#262626" stroke-width="1"/>
<line x1="488.5" y1="258.8" x2="494.9" y2="258.8" stroke="#262626" stroke-width="1"/>
<path d="M505.8 266.65L508.25 262.36L503.35 262.36Z" fill="#e8373c"/>
<path d="M511.7 272.85L514.15 268.56L509.25 268.56Z" fill="#e8373c"/>
<path d="M505.8 278.25L508.25 273.96L503.35 273.96Z" fill="#e8373c"/>
<path d="M511.7 280.25L514.15 275.96L509.25 275.96Z" fill="#e8373c"/>
<line x1="508.9" y1="266.5" x2="508.9" y2="277.8" stroke="#262626" stroke-width="1"/>
<line x1="505.7" y1="266.5" x2="512.1" y2="266.5" stroke="#262626" stroke-width="1"/>
<line x1="505.7" y1="277.8" x2="512.1" y2="277.8" stroke="#262626" stroke-width="1"/>
<circle cx="533.04" cy="328.46" r="1.71" fill="#e8373c"/>
<circle cx="536.08" cy="329.26" r="1.71" fill="#e8373c"/>
<circle cx="539.12" cy="328.46" r="1.71" fill="#e8373c"/>
<circle cx="542.16" cy="329.26" r="1.71" fill="#e8373c"/>
<line x1="537.6" y1="327.47" x2="537.6" y2="330.25" stroke="#262626" stroke-width="1"/>
<line x1="534.4" y1="327.47" x2="540.8" y2="327.47" stroke="#262626" stroke-width="1"/>
<line x1="534.4" y1="330.25" x2="540.8" y2="330.25" stroke="#262626" stroke-width="1"/>
<rect x="553.18" y="312.33" width="3.23" height="3.23" fill="#e8373c"/>
<rect x="549.98" y="316.49" width="3.23" height="3.23" fill="#e8373c"/>
<rect x="556.38" y="317.4" width="3.23" height="3.23" fill="#e8373c"/>
<rect x="553.18" y="321.35" width="3.23" height="3.23" fill="#e8373c"/>
<line x1="554.8" y1="314.99" x2="554.8" y2="321.92" stroke="#262626" stroke-width="1"/>
<line x1="551.6" y1="314.99" x2="558" y2="314.99" stroke="#262626" stroke-width="1"/>
<line x1="551.6" y1="321.92" x2="558" y2="321.92" stroke="#262626" stroke-width="1"/>
<path d="M572 321.42L574.33 325.49L569.67 325.49Z" fill="#e8373c"/>
<path d="M568.8 324.54L571.13 328.61L566.47 328.61Z" fill="#e8373c"/>
<path d="M575.2 325.21L577.53 329.29L572.87 329.29Z" fill="#e8373c"/>
<path d="M572 328.18L574.33 332.25L569.67 332.25Z" fill="#e8373c"/>
<line x1="572" y1="324.52" x2="572" y2="329.73" stroke="#262626" stroke-width="1"/>
<line x1="568.8" y1="324.52" x2="575.2" y2="324.52" stroke="#262626" stroke-width="1"/>
<line x1="568.8" y1="329.73" x2="575.2" y2="329.73" stroke="#262626" stroke-width="1"/>
<path d="M589.2 314.52L591.53 310.45L586.87 310.45Z" fill="#e8373c"/>
<path d="M586 318.06L588.33 313.99L583.67 313.99Z" fill="#e8373c"/>
<path d="M592.4 318.83L594.73 314.75L590.07 314.75Z" fill="#e8373c"/>
<path d="M589.2 322.19L591.53 318.11L586.87 318.11Z" fill="#e8373c"/>
<line x1="589.2" y1="313.08" x2="589.2" y2="318.98" stroke="#262626" stroke-width="1"/>
<line x1="586" y1="313.08" x2="592.4" y2="313.08" stroke="#262626" stroke-width="1"/>
<line x1="586" y1="318.98" x2="592.4" y2="318.98" stroke="#262626" stroke-width="1"/>
<circle cx="613.44" cy="328.46" r="1.71" fill="#e8373c"/>
<circle cx="616.48" cy="329.26" r="1.71" fill="#e8373c"/>
<circle cx="619.52" cy="328.46" r="1.71" fill="#e8373c"/>
<circle cx="622.56" cy="329.26" r="1.71" fill="#e8373c"/>
<line x1="618" y1="327.82" x2="618" y2="329.9" stroke="#262626" stroke-width="1"/>
<line x1="614.8" y1="327.82" x2="621.2" y2="327.82" stroke="#262626" stroke-width="1"/>
<line x1="614.8" y1="329.9" x2="621.2" y2="329.9" stroke="#262626" stroke-width="1"/>
<rect x="629.02" y="315.92" width="3.23" height="3.23" fill="#e8373c"/>
<rect x="632.06" y="316.72" width="3.23" height="3.23" fill="#e8373c"/>
<rect x="635.1" y="315.92" width="3.23" height="3.23" fill="#e8373c"/>
<rect x="638.14" y="316.72" width="3.23" height="3.23" fill="#e8373c"/>
<line x1="635.2" y1="316.55" x2="635.2" y2="319.32" stroke="#262626" stroke-width="1"/>
<line x1="632" y1="316.55" x2="638.4" y2="316.55" stroke="#262626" stroke-width="1"/>
<line x1="632" y1="319.32" x2="638.4" y2="319.32" stroke="#262626" stroke-width="1"/>
<path d="M647.84 324.4L650.17 328.47L645.51 328.47Z" fill="#e8373c"/>
<path d="M650.88 325.2L653.21 329.27L648.55 329.27Z" fill="#e8373c"/>
<path d="M653.92 324.4L656.25 328.47L651.59 328.47Z" fill="#e8373c"/>
<path d="M656.96 325.2L659.29 329.27L654.63 329.27Z" fill="#e8373c"/>
<line x1="652.4" y1="325.91" x2="652.4" y2="328.34" stroke="#262626" stroke-width="1"/>
<line x1="649.2" y1="325.91" x2="655.6" y2="325.91" stroke="#262626" stroke-width="1"/>
<line x1="649.2" y1="328.34" x2="655.6" y2="328.34" stroke="#262626" stroke-width="1"/>
<path d="M669.6 313.93L671.93 309.86L667.27 309.86Z" fill="#e8373c"/>
<path d="M666.4 317.06L668.73 312.98L664.07 312.98Z" fill="#e8373c"/>
<path d="M672.8 317.73L675.13 313.66L670.47 313.66Z" fill="#e8373c"/>
<path d="M669.6 320.7L671.93 316.62L667.27 316.62Z" fill="#e8373c"/>
<line x1="669.6" y1="312.39" x2="669.6" y2="317.59" stroke="#262626" stroke-width="1"/>
<line x1="666.4" y1="312.39" x2="672.8" y2="312.39" stroke="#262626" stroke-width="1"/>
<line x1="666.4" y1="317.59" x2="672.8" y2="317.59" stroke="#262626" stroke-width="1"/>
<line x1="375.2" y1="268.1" x2="392.3" y2="268.1" stroke="#262626" stroke-width="1"/>
<text x="383.75" y="268.05" font-size="10.8" text-anchor="middle" fill="#1a1a1a">**</text>
<line x1="392.6" y1="235" x2="409.8" y2="235" stroke="#262626" stroke-width="1"/>
<text x="401.2" y="234.85" font-size="10.8" text-anchor="middle" fill="#1a1a1a">**</text>
<line x1="410.2" y1="230.4" x2="426.9" y2="230.4" stroke="#262626" stroke-width="1"/>
<text x="418.55" y="230.15" font-size="10.8" text-anchor="middle" fill="#1a1a1a">*</text>
<line x1="454.6" y1="258.9" x2="471.7" y2="258.9" stroke="#262626" stroke-width="1"/>
<text x="463.15" y="259.05" font-size="10.8" text-anchor="middle" fill="#1a1a1a">**</text>
<line x1="473.6" y1="219.9" x2="490.7" y2="219.9" stroke="#262626" stroke-width="1"/>
<text x="482.15" y="220.05" font-size="10.8" text-anchor="middle" fill="#1a1a1a">**</text>
<line x1="492.3" y1="215.6" x2="509.4" y2="215.6" stroke="#262626" stroke-width="1"/>
<text x="500.85" y="215.75" font-size="10.8" text-anchor="middle" fill="#1a1a1a">**</text>
<line x1="536.1" y1="308.7" x2="553.1" y2="308.7" stroke="#262626" stroke-width="1"/>
<text x="544.6" y="309.05" font-size="10.8" text-anchor="middle" fill="#1a1a1a">**</text>
<line x1="553.6" y1="301.5" x2="571" y2="301.5" stroke="#262626" stroke-width="1"/>
<text x="562.3" y="302.05" font-size="10.8" text-anchor="middle" fill="#1a1a1a">**</text>
<line x1="570.4" y1="307.3" x2="587.2" y2="307.3" stroke="#262626" stroke-width="1"/>
<text x="578.8" y="307.05" font-size="10.8" text-anchor="middle" fill="#1a1a1a">**</text>
<line x1="616.9" y1="308.7" x2="634.2" y2="308.7" stroke="#262626" stroke-width="1"/>
<text x="625.55" y="309.05" font-size="10.8" text-anchor="middle" fill="#1a1a1a">**</text>
<line x1="636.4" y1="297" x2="653.2" y2="297" stroke="#262626" stroke-width="1"/>
<text x="644.8" y="297.35" font-size="10.8" text-anchor="middle" fill="#1a1a1a">**</text>
<line x1="652.1" y1="306" x2="668.9" y2="306" stroke="#262626" stroke-width="1"/>
<text x="660.5" y="306.05" font-size="10.8" text-anchor="middle" fill="#1a1a1a">**</text>
<text x="402.5" y="361.5" font-size="8.3" text-anchor="middle" fill="#1a1a1a">IL-6</text>
<text x="483.1" y="361.5" font-size="8.3" text-anchor="middle" fill="#1a1a1a">TNF-α</text>
<text x="563.4" y="361.5" font-size="8.3" text-anchor="middle" fill="#1a1a1a">Arg-1</text>
<text x="643.8" y="361.5" font-size="8.3" text-anchor="middle" fill="#1a1a1a">IL-10</text>
<text x="0" y="0" font-size="9.9" text-anchor="middle" fill="#1a1a1a" transform="translate(349.6 277.3) rotate(-90)">Relative expression level</text>
<text x="0" y="0" font-size="16.2" text-anchor="start" fill="#000" transform="translate(1.4 395) scale(0.93 1)" style="stroke:#000;stroke-width:0.35px">F</text>
<text x="69.8" y="408.9" font-size="8.2" text-anchor="middle" fill="#1a1a1a">HNEpC</text>
<text x="152" y="408.9" font-size="8.2" text-anchor="middle" fill="#1a1a1a">OVA-HNEpC+OE-NC</text>
<text x="234.3" y="398.7" font-size="8.2" text-anchor="middle" fill="#1a1a1a">OVA-HNEpC</text>
<text x="234.3" y="408.7" font-size="8.2" text-anchor="middle" fill="#1a1a1a">+OE-METTL3</text>
<text x="316.2" y="388.8" font-size="8.2" text-anchor="middle" fill="#1a1a1a">OVA-HNEpC</text>
<text x="316.2" y="398.7" font-size="8.2" text-anchor="middle" fill="#1a1a1a">+OE-METTL3</text>
<text x="316.2" y="408.7" font-size="8.2" text-anchor="middle" fill="#1a1a1a">+sh-circCDKAL1</text>
<defs><filter id="fcb" x="-50%" y="-50%" width="200%" height="200%"><feGaussianBlur stdDeviation="1.4"/></filter></defs>
<clipPath id="fc100"><rect x="34.4" y="417.9" width="65.5" height="64.5"/></clipPath>
<g clip-path="url(#fc100)">
<ellipse cx="58.8" cy="463.4" rx="6.6" ry="2.6" transform="rotate(-22 58.8 463.4)" fill="#e61e1e" opacity="0.95" filter="url(#fcb)"/>
<path d="M46.0 460.9h.4M61.2 465.0h.4M65.8 463.3h.4M56.6 463.1h.4M64.5 462.9h.4M61.1 461.9h.4M58.9 461.2h.4M53.2 467.8h.4M58.4 466.5h.4M59.3 461.7h.4M58.2 470.4h.4M62.2 465.9h.4M54.8 464.0h.4M62.3 460.2h.4M62.1 461.9h.4M57.4 462.7h.4M54.9 463.3h.4M63.7 460.3h.4M56.9 466.8h.4M51.9 465.4h.4M66.0 457.6h.4M58.1 466.8h.4M55.3 469.3h.4M59.2 462.5h.4M64.1 462.8h.4M63.5 464.5h.4M66.6 462.1h.4M57.0 465.2h.4M59.3 464.8h.4M58.0 458.9h.4M51.2 468.8h.4M54.6 466.3h.4M61.9 459.2h.4M63.0 462.9h.4M54.1 460.2h.4M66.0 463.4h.4M49.0 467.4h.4M50.3 465.2h.4M50.9 464.8h.4M56.3 467.0h.4M56.0 468.2h.4M57.0 459.9h.4M55.5 466.1h.4M49.2 468.5h.4M53.2 466.4h.4M60.5 463.1h.4M50.6 470.1h.4M52.7 468.5h.4M54.7 463.3h.4M53.9 467.4h.4M53.1 463.6h.4M59.2 463.9h.4M61.3 462.7h.4M54.0 466.5h.4M57.7 463.1h.4M55.8 471.3h.4M53.2 464.8h.4M57.8 461.7h.4M60.4 464.7h.4M59.8 466.8h.4M50.6 470.5h.4M52.1 464.7h.4M62.1 462.9h.4M62.7 462.3h.4M65.1 463.7h.4M51.4 469.1h.4M48.4 468.2h.4M61.1 464.3h.4M56.9 465.2h.4M55.2 466.6h.4M56.6 467.9h.4M63.3 463.7h.4M50.7 465.4h.4M60.9 460.4h.4M51.0 463.0h.4M59.8 455.9h.4M62.9 463.7h.4M49.0 465.5h.4M64.2 463.3h.4M64.9 467.2h.4M61.9 465.5h.4M57.6 459.7h.4M58.6 463.5h.4M55.2 464.8h.4M51.0 464.4h.4M49.7 469.3h.4M60.4 462.5h.4M67.3 455.5h.4M56.9 465.8h.4M66.5 454.2h.4M59.5 466.1h.4M59.0 466.4h.4M58.6 464.1h.4M56.8 462.5h.4M44.9 470.1h.4M48.2 465.5h.4M53.6 469.8h.4M42.4 471.7h.4M57.9 461.7h.4M56.9 463.7h.4M59.1 472.5h.4M59.2 463.5h.4M58.3 462.8h.4M61.3 465.5h.4M53.7 464.0h.4M50.7 465.3h.4M59.8 465.5h.4M55.4 462.9h.4M50.6 463.3h.4M57.2 466.4h.4M52.2 468.5h.4M65.1 454.7h.4M61.6 460.3h.4M47.4 467.6h.4M58.1 464.9h.4M51.0 469.8h.4M50.8 467.2h.4M51.4 463.7h.4M56.4 462.3h.4M51.4 469.2h.4M62.7 459.0h.4M59.0 465.4h.4M62.6 459.6h.4M61.5 459.0h.4M49.7 466.1h.4M52.9 469.0h.4M63.6 455.7h.4M64.1 462.3h.4M51.9 467.1h.4M58.7 466.7h.4M50.2 467.4h.4M59.6 464.7h.4M61.2 458.4h.4M60.0 460.6h.4M50.0 465.4h.4M52.7 459.8h.4M64.0 464.9h.4M55.4 463.0h.4M55.6 462.2h.4M54.4 463.4h.4M63.3 463.5h.4M60.1 464.7h.4M55.2 461.3h.4M57.5 464.0h.4M61.0 462.5h.4M60.3 464.0h.4M58.3 468.3h.4M51.4 464.7h.4M54.9 466.4h.4M64.0 459.8h.4M56.5 462.6h.4M57.9 462.5h.4M55.0 463.9h.4M61.8 459.8h.4M49.2 466.6h.4M50.6 467.3h.4M60.8 467.4h.4M64.1 462.4h.4M48.2 470.6h.4M56.2 459.4h.4M61.1 465.5h.4M49.7 468.9h.4M61.1 466.6h.4M55.5 467.4h.4M58.3 465.4h.4M61.1 462.0h.4M58.8 464.8h.4M55.5 463.0h.4M49.7 463.8h.4M57.4 469.3h.4M56.9 463.4h.4M60.5 462.0h.4M52.0 465.1h.4M64.5 459.0h.4M57.4 464.7h.4M54.8 466.0h.4M55.9 466.9h.4M62.8 462.7h.4M59.0 458.2h.4M59.9 458.9h.4M54.8 461.8h.4M64.2 467.5h.4M57.4 463.8h.4M63.5 459.8h.4M54.7 464.1h.4M61.5 461.5h.4M51.6 461.2h.4M60.8 460.1h.4M55.0 462.1h.4M59.1 463.5h.4M63.6 455.4h.4M48.8 467.6h.4M59.4 461.4h.4M55.9 462.8h.4M60.3 459.8h.4M56.7 465.4h.4M60.2 460.3h.4M50.5 466.8h.4M61.4 464.4h.4M53.8 465.4h.4M60.6 462.1h.4M57.9 464.8h.4M67.1 458.3h.4M55.8 467.8h.4M60.2 461.8h.4M60.1 462.4h.4M56.5 463.9h.4M49.5 464.3h.4M54.2 463.2h.4M57.8 463.8h.4M63.8 461.6h.4M52.4 464.4h.4M51.6 464.3h.4M60.3 472.2h.4M54.9 464.4h.4M51.5 462.2h.4M58.1 461.3h.4M54.7 464.0h.4M63.6 458.4h.4M63.0 460.1h.4M45.7 468.4h.4M55.1 461.0h.4M56.8 462.2h.4M65.2 460.8h.4M55.1 465.5h.4M57.1 464.6h.4M63.5 457.9h.4M65.8 463.2h.4M62.4 462.2h.4M51.7 467.6h.4M57.5 464.1h.4M57.0 466.0h.4M60.8 462.2h.4M60.4 464.6h.4M56.4 459.2h.4M62.4 460.1h.4M54.4 468.7h.4M57.8 460.3h.4M61.1 463.9h.4M50.5 474.2h.4M55.8 464.3h.4M50.9 465.4h.4M62.0 462.2h.4M56.7 464.0h.4M56.7 465.7h.4M55.3 464.6h.4M61.9 459.0h.4M59.0 464.7h.4M60.6 463.1h.4M55.7 464.6h.4M63.5 459.5h.4M65.8 464.3h.4M45.5 465.8h.4M61.8 459.9h.4M55.4 460.7h.4M60.0 459.9h.4M61.6 463.9h.4M69.0 457.4h.4M63.3 463.8h.4M54.5 463.4h.4M54.6 467.1h.4M56.2 461.0h.4M63.1 467.1h.4M57.6 465.8h.4M54.8 468.4h.4M51.9 464.9h.4M63.2 463.4h.4M50.9 464.3h.4M60.0 464.7h.4M51.0 459.4h.4M58.9 462.9h.4M50.7 459.8h.4M48.2 468.5h.4M60.0 464.7h.4M56.0 466.3h.4M58.8 465.3h.4M64.6 462.7h.4M56.7 464.7h.4M60.9 461.8h.4M50.9 462.2h.4M62.1 463.4h.4M60.3 467.0h.4M60.8 463.3h.4M65.5 459.9h.4M56.2 463.2h.4M58.8 462.5h.4M56.8 461.2h.4M64.4 462.4h.4M63.1 460.9h.4M58.7 462.8h.4M51.3 467.1h.4M60.1 464.0h.4M57.4 468.4h.4M53.5 469.7h.4M60.5 464.7h.4M59.2 459.8h.4M57.5 463.4h.4M54.7 462.7h.4M54.5 463.2h.4M52.3 463.4h.4M59.8 460.5h.4M51.8 468.9h.4M48.9 467.6h.4M59.3 463.2h.4M46.0 464.5h.4M63.0 466.2h.4M59.9 458.7h.4M64.7 463.7h.4M55.6 460.1h.4M56.4 462.8h.4M59.2 465.3h.4M59.8 459.4h.4M49.8 473.6h.4M55.7 465.9h.4M50.8 463.3h.4M56.9 460.3h.4M60.2 462.6h.4M55.4 462.1h.4M63.7 462.9h.4M59.0 469.0h.4M56.2 464.4h.4M60.9 464.6h.4M55.5 466.8h.4M57.4 461.3h.4M62.2 457.0h.4M55.6 458.7h.4M57.1 463.0h.4M62.4 460.9h.4M65.4 463.5h.4M56.5 465.2h.4M62.4 464.8h.4M47.1 469.8h.4M61.2 466.3h.4M49.6 462.0h.4M64.9 464.7h.4M47.9 468.5h.4M57.7 461.5h.4M51.1 464.9h.4M58.5 460.7h.4M54.4 462.9h.4M59.7 464.7h.4M52.4 465.8h.4M62.6 464.4h.4M52.0 464.6h.4M49.4 465.4h.4M61.4 465.6h.4M47.7 468.8h.4M58.7 461.7h.4M57.2 463.5h.4M65.6 462.4h.4M55.9 464.5h.4M61.2 458.6h.4M57.5 463.7h.4M58.0 463.9h.4M55.5 461.8h.4M57.9 464.4h.4M57.3 459.2h.4M59.6 463.6h.4M45.5 464.4h.4M61.8 459.4h.4M57.5 465.0h.4M51.7 465.9h.4M56.7 462.6h.4M53.3 464.7h.4M58.4 463.2h.4M57.3 463.6h.4M52.5 466.1h.4M59.8 463.5h.4M54.4 467.5h.4M59.1 458.5h.4M44.8 466.9h.4M59.1 462.6h.4M57.1 469.6h.4M56.4 464.9h.4M56.4 464.3h.4M59.7 461.1h.4M64.0 461.0h.4M52.0 464.1h.4M65.5 462.9h.4M55.8 472.1h.4M51.8 466.4h.4M65.3 458.6h.4M54.5 465.1h.4M61.1 466.3h.4M64.2 461.4h.4M66.3 457.2h.4M58.9 465.6h.4M58.2 467.0h.4M54.2 459.6h.4M58.9 465.2h.4M64.6 462.4h.4M46.5 466.0h.4M57.6 466.0h.4M64.4 466.2h.4M62.8 462.6h.4M49.4 468.8h.4M64.4 461.9h.4M59.0 464.0h.4M51.3 460.8h.4M51.1 462.5h.4M55.5 466.5h.4M56.8 464.5h.4M63.9 460.5h.4M54.5 468.7h.4M51.2 466.3h.4M52.9 465.1h.4M56.1 462.9h.4M47.7 470.4h.4M63.6 456.0h.4M60.3 467.7h.4M62.9 464.2h.4M61.6 462.6h.4M59.4 463.8h.4M57.0 465.5h.4M50.5 465.5h.4M56.7 466.1h.4M57.9 463.9h.4M62.2 464.6h.4M62.7 459.0h.4M52.3 464.0h.4M57.2 461.8h.4M59.5 460.5h.4M59.1 464.6h.4M55.9 461.7h.4M65.9 460.8h.4M57.7 466.0h.4M56.6 466.6h.4M49.5 464.3h.4M62.6 461.0h.4M65.2 458.8h.4M63.6 463.2h.4M57.6 465.7h.4M63.9 465.1h.4M54.6 465.3h.4M65.9 462.6h.4M49.2 470.3h.4M56.5 464.7h.4M49.6 466.6h.4M55.1 462.7h.4M51.2 463.8h.4M58.5 465.9h.4M62.9 464.5h.4M58.2 463.2h.4M59.9 461.3h.4M58.4 467.4h.4M62.3 457.6h.4M64.7 461.6h.4M50.1 465.1h.4M63.2 459.2h.4M64.5 464.7h.4M63.3 459.0h.4M60.8 464.6h.4M51.2 466.6h.4M62.3 459.6h.4M57.9 466.5h.4M61.4 466.2h.4M47.8 473.7h.4M60.6 456.8h.4M63.3 461.7h.4M66.0 461.8h.4M55.9 459.6h.4M66.4 456.6h.4M49.6 464.0h.4M62.6 460.7h.4M52.8 463.7h.4M59.9 464.9h.4M62.8 462.9h.4M60.3 462.6h.4M62.7 462.9h.4M66.0 465.1h.4M56.5 466.7h.4M59.1 463.2h.4M57.8 463.5h.4M60.1 464.4h.4M62.8 463.2h.4M49.3 471.6h.4M57.9 460.5h.4M56.9 466.1h.4M51.5 461.4h.4M54.8 465.5h.4M62.1 461.2h.4M47.8 466.0h.4M59.4 462.4h.4M40.1 469.7h.4M66.3 458.7h.4M61.7 472.9h.4M66.3 461.3h.4M54.8 463.5h.4M60.6 464.6h.4M52.8 465.9h.4M64.5 463.4h.4M47.5 472.1h.4M42.5 465.6h.4M62.7 463.1h.4M58.9 464.2h.4M54.3 461.3h.4M59.3 466.0h.4M56.7 467.6h.4M59.4 461.1h.4M62.0 460.1h.4M64.7 463.2h.4M60.6 468.7h.4M64.4 465.3h.4M62.1 461.6h.4M60.2 461.8h.4M55.4 464.4h.4M43.3 470.4h.4M59.3 468.9h.4M54.8 458.4h.4M49.8 467.8h.4M62.3 460.6h.4M57.7 461.7h.4M51.2 467.2h.4M63.4 462.2h.4M62.9 462.0h.4M64.9 460.8h.4M51.1 464.1h.4M62.9 466.1h.4M52.2 461.6h.4M43.2 472.0h.4M55.8 465.6h.4M57.4 466.3h.4M60.5 463.4h.4M66.7 460.9h.4M55.5 463.4h.4M65.6 466.7h.4M52.9 467.9h.4M63.6 458.5h.4M51.5 466.0h.4M64.9 458.0h.4M57.9 463.8h.4M54.3 464.4h.4M52.1 464.2h.4M64.1 463.8h.4M53.5 466.2h.4M60.2 463.4h.4M55.0 463.6h.4M58.5 461.2h.4M58.4 463.2h.4M56.0 467.7h.4M54.0 468.7h.4M50.5 465.1h.4M61.1 463.0h.4M58.6 461.7h.4M58.6 461.8h.4M49.7 470.2h.4M51.5 464.8h.4M63.3 463.8h.4M55.2 463.1h.4M64.3 465.5h.4M57.5 464.2h.4M52.9 465.9h.4M51.8 462.3h.4M53.6 466.8h.4M53.1 462.0h.4M59.4 463.8h.4M60.2 464.9h.4M65.5 460.9h.4M52.9 466.0h.4M56.0 469.4h.4M55.9 467.7h.4M52.4 461.3h.4M56.7 466.4h.4M51.8 467.1h.4M55.1 460.0h.4M55.1 466.0h.4M52.5 466.5h.4M61.7 462.8h.4M48.7 470.6h.4M59.5 462.0h.4M67.0 460.2h.4M60.0 470.7h.4M56.6 460.7h.4M64.2 459.8h.4M63.6 460.3h.4M52.0 462.4h.4M47.1 471.3h.4M55.2 463.1h.4M59.8 468.1h.4M52.3 470.9h.4M54.6 466.6h.4M64.2 466.8h.4M63.3 468.1h.4M56.1 462.3h.4M60.5 465.9h.4M57.2 466.0h.4M57.3 463.0h.4M50.9 468.2h.4M51.0 466.5h.4M54.9 466.3h.4M54.9 464.5h.4M53.2 468.0h.4M62.9 465.8h.4M59.8 458.5h.4M65.8 462.8h.4M57.4 462.2h.4M54.0 463.8h.4M53.2 465.8h.4M45.6 468.2h.4M59.7 463.4h.4M50.9 465.2h.4M62.7 458.8h.4M62.3 465.0h.4M62.8 465.0h.4M63.5 458.0h.4M56.7 461.2h.4M59.1 466.1h.4M53.7 465.4h.4M53.4 463.2h.4M57.3 468.7h.4M62.5 465.3h.4M58.0 466.7h.4M61.3 465.2h.4M61.5 467.5h.4M57.4 467.1h.4M60.2 465.9h.4M63.4 463.1h.4M47.7 470.3h.4M57.1 465.6h.4M61.3 466.1h.4M64.0 462.8h.4M52.6 463.3h.4M63.8 466.3h.4M48.7 464.4h.4M55.2 464.5h.4M58.2 466.4h.4M58.5 463.9h.4M47.2 471.0h.4M54.0 467.3h.4M59.8 463.7h.4M51.6 462.3h.4M65.1 464.0h.4M51.3 462.3h.4M64.0 463.0h.4M53.1 465.0h.4M53.8 459.5h.4M63.7 460.0h.4M53.1 462.5h.4M61.5 464.5h.4M59.0 463.9h.4M59.6 467.8h.4M60.9 460.7h.4M58.1 464.5h.4M60.2 466.9h.4M52.6 467.7h.4M60.4 463.2h.4M60.8 460.4h.4M59.7 459.9h.4M52.1 467.1h.4M59.0 461.4h.4M54.4 462.7h.4M55.5 468.2h.4M55.2 467.1h.4M59.4 465.1h.4M55.1 468.7h.4M60.3 463.4h.4M47.1 464.9h.4M42.6 470.8h.4M57.6 464.1h.4M49.1 465.0h.4M54.1 462.1h.4M49.4 471.7h.4M48.1 470.2h.4M58.9 461.1h.4M54.8 462.7h.4M58.7 465.1h.4M58.3 463.8h.4M55.3 467.5h.4M66.9 460.3h.4M60.2 462.2h.4M67.2 459.8h.4M61.7 460.6h.4M58.9 465.2h.4M56.2 467.5h.4M54.0 464.4h.4M58.8 462.5h.4M63.3 460.0h.4M51.7 463.9h.4M58.7 464.8h.4M52.4 468.9h.4M57.5 459.7h.4M59.5 457.5h.4M62.3 457.3h.4M61.5 466.6h.4M55.3 466.1h.4M57.2 466.7h.4M58.0 462.3h.4M58.3 466.6h.4M60.8 464.5h.4M59.4 462.3h.4M62.0 456.3h.4M51.8 469.0h.4M59.4 461.7h.4M53.5 466.6h.4M57.2 464.9h.4M51.9 468.8h.4M59.3 465.2h.4M51.3 469.2h.4M54.4 466.8h.4M62.4 463.3h.4M64.0 462.3h.4M53.6 465.0h.4M65.1 461.5h.4M57.4 466.2h.4M55.2 464.3h.4M62.6 465.2h.4M60.8 467.2h.4M66.1 462.7h.4M51.7 467.7h.4M53.6 464.0h.4M55.5 463.8h.4M58.5 462.1h.4M57.1 467.8h.4M57.9 463.5h.4M56.3 463.4h.4M62.6 459.3h.4M55.6 465.6h.4M57.6 468.2h.4M59.8 466.0h.4M59.3 467.3h.4M58.6 460.2h.4M51.9 467.7h.4M57.9 460.9h.4M58.3 466.0h.4M54.6 468.3h.4M48.9 466.3h.4M59.9 464.5h.4M58.4 465.7h.4M58.1 464.0h.4M55.6 462.9h.4M51.4 463.6h.4M59.3 466.8h.4M56.1 465.8h.4M46.1 465.9h.4M58.8 463.1h.4M51.6 468.0h.4M62.6 461.9h.4M63.1 462.1h.4M60.6 463.0h.4M63.1 466.9h.4M56.1 465.1h.4M62.6 462.9h.4M64.2 463.2h.4M65.1 462.1h.4M48.4 462.0h.4M60.6 463.8h.4M44.6 468.5h.4M65.1 464.6h.4M56.0 467.8h.4M61.8 467.2h.4M58.5 471.1h.4M60.3 462.0h.4M62.6 463.3h.4M51.2 463.2h.4M54.3 461.9h.4M57.0 464.9h.4M61.5 458.8h.4M57.7 465.6h.4M57.9 465.1h.4M45.7 472.7h.4M60.9 460.7h.4M60.1 466.7h.4M60.9 457.7h.4M64.1 462.9h.4M66.1 462.5h.4M53.3 465.1h.4M64.0 458.6h.4M59.0 457.4h.4M54.7 463.8h.4M63.9 463.5h.4M51.0 468.8h.4M62.0 461.9h.4M56.3 460.7h.4M55.4 466.8h.4M56.2 464.8h.4M56.7 464.7h.4M57.3 467.3h.4M49.9 465.8h.4M56.9 460.0h.4M53.0 462.6h.4M65.2 467.0h.4M62.5 461.1h.4M49.9 463.7h.4M59.2 465.4h.4M59.3 463.3h.4M53.4 463.7h.4M65.5 459.1h.4M57.6 461.4h.4M59.7 459.5h.4M55.7 463.5h.4M64.7 468.2h.4M54.5 463.3h.4M58.9 459.1h.4M59.5 461.0h.4M62.7 464.9h.4M58.8 464.7h.4M50.8 472.3h.4M52.4 465.2h.4M61.0 461.4h.4M49.3 467.6h.4M62.6 463.2h.4M59.9 462.8h.4M61.3 464.2h.4M61.6 461.9h.4M58.5 464.5h.4M61.2 460.2h.4M52.4 466.9h.4M60.0 464.0h.4M59.2 463.7h.4M53.2 466.7h.4M57.2 463.6h.4M59.2 456.5h.4M50.6 466.1h.4M52.5 467.6h.4M64.1 460.6h.4M50.1 469.4h.4M66.8 460.6h.4M53.9 467.2h.4M58.5 461.7h.4M57.3 461.3h.4M56.8 461.0h.4M62.8 464.6h.4M63.5 458.7h.4M47.2 471.4h.4M57.6 461.8h.4M64.5 458.8h.4M56.4 466.0h.4M60.8 465.7h.4M57.7 462.8h.4M53.7 466.0h.4M57.1 462.3h.4M62.5 459.2h.4M58.5 465.5h.4M54.8 466.4h.4M57.2 468.4h.4M64.0 467.4h.4M55.6 464.0h.4M61.0 460.1h.4M53.7 465.5h.4M57.6 462.6h.4M64.3 460.7h.4M47.9 467.1h.4M55.1 462.1h.4M55.7 463.4h.4M51.3 466.8h.4M51.7 465.2h.4M45.6 460.6h.4M54.0 463.4h.4M48.6 465.5h.4M59.1 465.2h.4M61.5 462.5h.4M58.8 466.7h.4M57.0 466.1h.4M53.0 466.9h.4M56.4 463.3h.4M55.3 465.4h.4M56.8 465.8h.4M53.3 466.7h.4M52.1 469.7h.4M52.8 462.8h.4M47.3 463.0h.4M54.0 467.2h.4M61.8 463.3h.4M65.7 457.1h.4M64.8 460.3h.4M51.7 466.5h.4M48.1 470.6h.4M58.7 463.4h.4M55.4 464.7h.4M59.8 465.4h.4M60.2 458.1h.4M64.1 463.1h.4M52.9 463.5h.4M58.1 463.9h.4M62.5 465.8h.4M62.8 463.1h.4M54.4 470.9h.4M59.3 459.2h.4M56.1 463.3h.4M64.6 459.1h.4M58.6 462.3h.4M46.0 467.3h.4M54.1 463.8h.4M52.5 467.9h.4M64.0 458.4h.4M51.8 464.2h.4M54.5 465.9h.4M55.5 470.5h.4M55.8 465.1h.4M61.3 462.3h.4M56.2 463.0h.4M59.0 459.2h.4M64.9 458.5h.4M59.7 462.8h.4M59.8 464.2h.4M65.4 463.0h.4M59.3 466.1h.4M66.3 462.6h.4M52.8 467.9h.4M61.1 458.1h.4M52.4 466.3h.4M58.4 468.4h.4M61.3 468.4h.4M57.4 466.0h.4M55.0 462.4h.4M46.0 471.1h.4M54.4 467.5h.4M56.1 466.5h.4M52.4 468.9h.4M52.8 466.2h.4M61.3 462.2h.4M67.3 458.0h.4M60.2 465.1h.4M56.0 464.9h.4M61.4 465.7h.4M60.9 458.8h.4M54.6 465.9h.4M65.8 460.6h.4M63.7 461.8h.4M60.0 464.2h.4M65.7 460.5h.4M56.1 461.3h.4M54.9 465.7h.4M62.0 470.2h.4M56.4 461.2h.4M64.3 460.5h.4M55.7 466.2h.4M64.5 462.1h.4M54.0 465.3h.4M67.0 459.0h.4M59.4 465.5h.4M54.4 464.8h.4M70.3 461.4h.4M51.6 466.3h.4M53.4 469.3h.4M55.0 466.9h.4M59.3 461.9h.4M57.7 468.4h.4M56.0 466.1h.4M61.9 461.1h.4M59.1 464.1h.4M57.4 462.4h.4M55.7 469.9h.4M54.3 466.0h.4M59.8 465.0h.4M57.4 463.3h.4M59.8 466.0h.4M58.9 464.2h.4M47.7 464.9h.4M57.9 460.9h.4M56.9 467.7h.4M42.0 465.9h.4M61.1 459.9h.4M59.3 468.1h.4M63.5 463.1h.4M57.8 465.9h.4M54.3 464.6h.4M62.7 467.0h.4M53.7 465.0h.4M57.2 466.9h.4M65.2 458.1h.4M61.2 461.1h.4M54.5 457.8h.4M61.4 465.7h.4M64.4 460.1h.4M63.6 464.9h.4M66.6 462.2h.4M58.6 466.9h.4M60.3 467.7h.4M55.4 470.0h.4M66.6 461.1h.4M57.9 465.9h.4M50.8 461.1h.4M54.9 466.5h.4M64.4 458.7h.4M52.4 466.8h.4M55.6 466.2h.4M59.8 462.8h.4M54.1 469.3h.4M60.1 466.5h.4M56.2 467.3h.4M58.2 465.5h.4M56.8 462.0h.4M55.1 469.5h.4M61.8 467.3h.4M60.4 464.0h.4M60.0 462.5h.4M53.5 461.9h.4M58.1 464.7h.4M53.6 466.2h.4M59.5 464.9h.4M62.9 466.7h.4M44.8 466.2h.4M49.8 465.4h.4M62.7 464.6h.4M58.7 466.3h.4M56.3 466.9h.4M53.6 465.7h.4M59.6 463.2h.4M54.9 465.3h.4M61.5 458.9h.4M52.4 465.7h.4M56.8 463.3h.4M57.6 470.3h.4M60.5 464.9h.4M61.2 466.3h.4M61.5 464.8h.4M49.1 466.1h.4M58.0 463.5h.4M55.2 466.9h.4M58.0 460.1h.4M56.4 459.8h.4M59.0 463.0h.4M52.5 465.0h.4M57.3 464.9h.4M62.0 464.8h.4M58.1 465.8h.4M64.9 462.7h.4M54.3 466.1h.4M65.3 459.6h.4M60.2 470.8h.4M47.9 467.1h.4M55.0 466.8h.4M58.6 464.3h.4M62.3 463.8h.4M52.6 466.6h.4M61.7 460.2h.4M60.0 463.9h.4M52.3 462.9h.4M61.8 468.5h.4M51.9 470.3h.4M46.4 470.1h.4M63.1 464.1h.4M66.1 459.2h.4M55.1 462.6h.4M62.1 457.2h.4M61.1 456.6h.4M62.7 464.4h.4M56.9 470.4h.4M55.1 464.1h.4M57.2 469.8h.4M49.4 465.1h.4M59.9 468.0h.4M61.2 461.7h.4M65.6 460.6h.4M61.3 462.3h.4M59.2 464.6h.4M66.8 459.3h.4M53.7 462.1h.4M56.2 469.3h.4M52.6 466.0h.4M60.4 462.2h.4M58.2 466.8h.4M65.0 459.5h.4M54.6 461.0h.4M62.0 462.9h.4M56.8 465.3h.4M57.1 465.9h.4M63.7 462.4h.4M49.9 463.2h.4M54.5 466.1h.4M46.6 470.1h.4M58.2 462.2h.4M56.6 460.1h.4M60.5 462.0h.4M61.8 462.1h.4M56.2 461.4h.4M54.0 467.2h.4M54.8 465.9h.4M56.5 463.5h.4M59.6 460.6h.4M58.7 463.6h.4M57.5 462.7h.4M65.9 461.1h.4M59.1 468.7h.4M53.4 466.7h.4M51.6 460.8h.4M56.7 465.0h.4M61.2 460.0h.4M62.8 463.7h.4M57.2 467.2h.4M56.9 465.4h.4M62.6 467.1h.4M58.7 468.6h.4M58.0 459.5h.4M62.4 464.4h.4M49.0 462.2h.4M58.4 468.9h.4M60.7 462.1h.4M55.5 465.0h.4M55.4 460.5h.4M55.4 466.5h.4M53.0 468.3h.4M52.8 468.2h.4M57.9 459.7h.4M57.8 463.1h.4M63.6 458.7h.4M54.4 464.2h.4M55.5 462.0h.4M56.3 459.5h.4M58.8 462.9h.4M61.6 460.1h.4M56.8 463.5h.4M54.0 465.9h.4M65.1 461.5h.4M59.2 462.9h.4M58.3 464.9h.4M52.6 466.9h.4M65.1 461.5h.4M47.8 472.7h.4M57.2 462.6h.4M54.7 461.5h.4M61.4 461.0h.4M51.8 461.1h.4M54.9 464.6h.4M64.2 458.8h.4M61.1 463.1h.4M54.7 467.7h.4M58.1 463.5h.4M63.1 461.1h.4M63.7 461.1h.4M60.1 465.0h.4M62.8 463.0h.4M66.2 462.1h.4M60.0 461.5h.4M53.0 462.9h.4M62.6 459.1h.4M60.3 459.0h.4M67.1 460.1h.4M59.4 464.9h.4M58.8 464.8h.4M61.5 460.1h.4M56.8 463.1h.4M45.8 465.4h.4M60.7 459.0h.4M47.0 472.9h.4M56.2 464.7h.4M64.1 461.3h.4M57.7 468.0h.4M52.9 461.6h.4M58.3 463.4h.4M62.9 470.3h.4M56.2 467.4h.4M64.2 459.4h.4M64.6 458.0h.4M57.6 465.2h.4M61.3 465.3h.4M45.9 464.6h.4M62.3 464.5h.4M54.9 468.2h.4M55.5 469.4h.4M60.1 466.0h.4M58.8 469.1h.4M53.7 466.8h.4M62.0 465.2h.4M55.3 464.7h.4M65.7 460.7h.4M55.7 467.9h.4M50.8 463.0h.4M57.6 464.2h.4M65.0 462.8h.4M56.9 468.4h.4M56.9 466.7h.4M44.0 469.4h.4M60.3 463.8h.4M62.3 460.2h.4M60.5 467.1h.4M56.4 463.2h.4M57.2 469.8h.4M57.3 464.6h.4M50.0 466.7h.4M59.2 461.7h.4M51.9 470.1h.4M52.5 464.1h.4M68.7 456.9h.4M54.6 464.7h.4M55.5 464.1h.4M65.0 456.8h.4M52.2 462.9h.4M65.5 463.6h.4M65.8 464.4h.4M57.7 467.0h.4M65.1 467.0h.4M52.5 459.3h.4M63.2 459.9h.4M60.4 461.8h.4M49.0 467.7h.4M58.4 463.6h.4M52.9 461.8h.4M64.9 457.9h.4M56.0 468.0h.4M59.5 468.9h.4M58.4 464.6h.4M54.8 461.7h.4M46.8 470.1h.4M62.5 459.4h.4M60.1 465.5h.4M57.3 468.4h.4M60.9 462.0h.4M61.1 459.4h.4M49.9 461.9h.4M55.4 469.7h.4M63.7 462.3h.4M63.7 461.6h.4M62.4 458.3h.4M46.6 469.6h.4M46.0 469.3h.4M54.8 464.4h.4M59.6 463.8h.4M56.1 467.9h.4M57.6 459.0h.4M48.6 462.2h.4M55.8 462.9h.4M48.6 469.5h.4M64.5 466.5h.4M67.4 457.4h.4M62.4 462.9h.4M59.5 462.4h.4M60.9 460.1h.4M53.0 468.3h.4M61.6 463.5h.4M58.7 468.2h.4M64.3 461.5h.4M57.9 466.7h.4M54.2 464.0h.4M55.3 466.6h.4M52.3 466.3h.4M64.7 464.1h.4M54.1 462.1h.4M55.8 465.1h.4M52.3 462.4h.4M65.7 459.2h.4M54.4 467.4h.4M58.4 465.4h.4M58.6 463.8h.4M55.8 465.4h.4M58.5 467.8h.4M71.7 460.6h.4M56.5 466.5h.4M44.6 467.5h.4M52.9 464.7h.4M62.0 463.5h.4M55.0 466.2h.4M54.3 470.3h.4M65.8 458.3h.4M57.2 463.2h.4M61.3 458.6h.4M56.8 463.0h.4M56.9 460.7h.4M55.1 458.2h.4M65.5 460.5h.4M61.8 461.0h.4M60.8 461.4h.4M59.7 460.1h.4M61.9 470.0h.4M57.9 463.2h.4M59.4 471.2h.4M62.3 462.6h.4M53.3 468.4h.4M57.3 466.4h.4M66.6 462.2h.4M57.0 464.8h.4M57.7 463.0h.4M59.0 457.1h.4M66.5 461.5h.4M53.5 466.3h.4M51.9 464.3h.4M60.3 464.9h.4M54.4 464.5h.4M58.4 463.9h.4M47.2 466.2h.4M53.7 468.2h.4M60.3 464.9h.4M54.2 461.6h.4M56.2 466.4h.4M60.3 459.4h.4M59.5 464.4h.4M44.9 467.1h.4M62.4 461.8h.4M50.8 465.2h.4M66.6 462.2h.4M61.7 464.1h.4M57.6 465.8h.4M62.6 463.3h.4M53.7 468.2h.4M59.2 462.4h.4M58.8 461.1h.4M51.3 470.8h.4M51.5 464.3h.4M63.3 468.6h.4M62.8 460.4h.4M57.0 468.7h.4M56.8 465.7h.4M57.8 468.9h.4M67.2 459.9h.4M49.2 467.8h.4M58.3 463.6h.4M57.9 466.9h.4M63.4 466.9h.4M62.1 461.1h.4M59.6 463.1h.4M60.1 465.4h.4M60.8 461.4h.4M51.0 464.1h.4M56.2 461.1h.4M59.0 464.4h.4M57.0 465.5h.4M57.3 467.0h.4M63.1 459.6h.4M59.5 461.4h.4M60.5 461.5h.4M57.1 466.2h.4M53.4 464.9h.4M64.7 459.8h.4M51.6 471.6h.4M62.3 462.2h.4M61.5 465.4h.4M58.1 464.7h.4M59.4 468.1h.4M55.5 462.1h.4M66.6 458.0h.4M62.4 465.7h.4M52.5 467.0h.4M52.1 468.4h.4M57.5 465.1h.4M55.7 466.0h.4M63.2 465.4h.4M58.0 464.7h.4M63.9 463.9h.4M50.7 459.8h.4M60.2 460.7h.4M66.5 457.0h.4M54.8 466.9h.4M59.6 464.4h.4M53.6 465.1h.4M54.8 462.8h.4M62.5 462.8h.4M65.7 457.1h.4M53.8 468.8h.4M51.4 464.4h.4M60.4 459.2h.4M54.3 464.9h.4M60.1 462.6h.4M62.4 464.4h.4M64.1 463.0h.4M57.2 465.5h.4M46.4 467.4h.4M56.0 463.6h.4M52.6 464.9h.4M56.5 467.0h.4M64.4 460.5h.4M53.0 460.8h.4M57.8 467.8h.4M66.9 458.4h.4M65.7 465.3h.4M64.3 465.0h.4M51.5 465.7h.4M64.4 460.8h.4M62.3 466.7h.4M53.6 470.4h.4M54.9 466.4h.4M54.2 465.5h.4M55.0 466.3h.4M60.9 461.4h.4M55.1 462.0h.4M55.0 464.1h.4M60.9 464.2h.4M59.6 458.0h.4M57.1 468.2h.4M62.5 466.2h.4M60.9 466.0h.4M55.8 466.7h.4M62.4 462.9h.4M59.3 464.4h.4M57.3 464.4h.4M53.3 463.4h.4M58.8 463.5h.4M59.1 459.4h.4M60.9 462.9h.4M58.3 462.2h.4M50.5 463.9h.4M53.2 461.9h.4M56.7 469.0h.4M41.2 473.3h.4M50.1 473.3h.4M61.5 472.5h.4M58.8 463.5h.4M55.4 469.5h.4M41.9 468.4h.4M57.1 466.2h.4M44.0 472.4h.4M61.3 474.7h.4M43.7 466.6h.4M56.5 464.2h.4M52.4 465.3h.4M60.3 465.0h.4M49.7 471.5h.4M55.4 470.0h.4M64.3 462.5h.4M54.3 467.3h.4M35.6 464.6h.4M48.9 466.4h.4M49.3 473.7h.4M45.8 468.6h.4M55.3 476.5h.4M43.6 466.4h.4M63.6 459.3h.4M51.4 462.0h.4M58.2 467.7h.4M55.4 466.0h.4M45.3 463.2h.4M53.4 465.9h.4M40.5 480.2h.4M56.0 469.8h.4M53.7 466.8h.4M64.2 452.3h.4M62.4 465.5h.4M45.1 470.7h.4M45.9 469.5h.4M44.0 472.0h.4M50.7 467.4h.4M55.6 474.2h.4M44.3 473.9h.4M43.8 464.3h.4M48.2 458.9h.4M49.9 467.1h.4M41.2 468.8h.4M52.8 464.6h.4M55.3 464.1h.4M51.1 464.4h.4M47.7 465.4h.4M53.5 470.1h.4M50.6 467.5h.4M61.3 466.6h.4M45.7 464.5h.4M48.6 467.6h.4M63.5 459.7h.4M60.3 467.9h.4M50.5 474.0h.4M39.6 471.7h.4M48.0 473.3h.4M44.4 467.4h.4M56.7 462.2h.4M40.4 470.0h.4M52.4 470.2h.4M57.7 466.2h.4M52.0 466.6h.4M58.1 469.9h.4M50.7 463.4h.4M50.5 475.8h.4M46.9 465.2h.4M52.1 464.0h.4M54.4 467.4h.4M53.2 466.1h.4M61.1 473.6h.4M50.4 468.4h.4M49.7 472.3h.4M45.7 465.0h.4M58.6 460.0h.4M42.1 470.4h.4M64.3 461.4h.4M49.9 466.5h.4M58.0 463.7h.4M45.5 472.9h.4M49.8 465.3h.4M54.0 460.1h.4M45.7 468.9h.4M48.4 470.8h.4M38.3 466.6h.4M49.1 466.4h.4M63.7 456.2h.4M49.7 466.7h.4M47.6 466.6h.4M52.7 471.5h.4M54.3 469.2h.4M47.0 472.6h.4M54.0 471.0h.4M35.9 474.5h.4M63.0 474.2h.4M53.8 475.8h.4M46.3 478.7h.4M50.5 459.7h.4M61.6 464.7h.4M45.8 471.4h.4M53.2 460.8h.4M51.5 465.8h.4M45.9 469.8h.4M52.7 466.6h.4M42.2 466.3h.4M45.8 469.8h.4M53.1 467.1h.4M54.8 465.0h.4M56.0 466.8h.4M54.4 467.7h.4M52.0 470.5h.4M51.1 471.9h.4M47.2 456.0h.4M58.1 469.4h.4M62.4 462.3h.4M49.8 468.6h.4M52.0 469.8h.4M54.7 473.3h.4M54.4 472.0h.4M44.4 472.6h.4M56.6 461.6h.4M58.9 462.4h.4M41.6 468.2h.4M61.9 468.5h.4M55.8 466.7h.4M64.0 457.2h.4M56.7 458.8h.4M51.7 469.0h.4M40.0 466.9h.4M51.5 461.2h.4M59.4 469.5h.4M56.0 466.5h.4M48.4 475.8h.4M43.2 474.2h.4M53.4 467.2h.4M58.8 466.3h.4M63.8 469.6h.4M46.9 463.7h.4M48.0 470.1h.4M60.5 465.5h.4M48.3 459.5h.4M57.6 464.3h.4M53.6 466.5h.4M42.9 477.9h.4M48.5 462.0h.4M63.6 469.0h.4M63.5 467.7h.4M41.2 471.1h.4M50.7 471.5h.4M55.5 467.5h.4M58.7 468.7h.4M59.7 468.1h.4M51.3 470.3h.4M45.3 470.6h.4M60.8 469.1h.4M44.6 466.9h.4M51.0 470.2h.4M46.5 466.0h.4M43.1 471.1h.4M40.9 463.7h.4M58.4 458.2h.4M44.7 460.1h.4M51.3 459.2h.4M61.9 471.6h.4M54.9 468.2h.4M62.8 466.7h.4M48.0 463.2h.4M47.0 466.5h.4M44.7 469.0h.4M38.3 467.5h.4M38.4 473.2h.4M55.5 460.2h.4M61.6 466.7h.4M35.8 478.4h.4M53.1 472.1h.4M41.8 461.8h.4M56.2 457.8h.4M38.4 466.7h.4M58.0 470.8h.4M53.3 458.2h.4M45.6 462.7h.4M48.2 471.4h.4M52.4 459.7h.4M54.9 463.0h.4M51.8 464.9h.4M50.3 479.0h.4M56.5 469.9h.4M43.9 464.9h.4M56.9 466.0h.4M43.5 472.7h.4M59.1 464.0h.4M55.3 463.4h.4M53.1 464.6h.4M57.0 464.2h.4M44.6 470.4h.4M51.8 462.3h.4M57.7 461.7h.4M55.1 466.1h.4M48.3 463.5h.4M52.1 465.1h.4M49.6 466.5h.4M59.3 467.7h.4M52.7 459.6h.4M62.6 458.4h.4M56.7 463.9h.4M48.5 466.6h.4M48.4 477.4h.4M49.8 466.3h.4M55.4 458.4h.4M58.6 460.1h.4M46.1 470.6h.4M58.0 466.3h.4M52.7 461.5h.4M44.4 464.0h.4M38.5 481.7h.4M43.3 468.2h.4M58.9 471.3h.4M52.7 466.6h.4M67.3 458.3h.4M36.4 463.8h.4M55.2 471.8h.4M59.7 469.8h.4M51.8 465.4h.4M44.9 469.9h.4M48.7 462.6h.4M52.3 465.7h.4M48.2 464.0h.4M64.6 464.5h.4M35.1 471.5h.4M48.4 466.2h.4M43.2 466.2h.4M44.7 464.0h.4M43.4 474.4h.4M46.9 461.3h.4M49.2 469.0h.4M47.1 469.3h.4M51.4 469.7h.4M58.7 465.3h.4M53.8 466.8h.4M62.0 464.2h.4M56.0 469.9h.4M51.6 464.1h.4M51.1 469.6h.4M43.5 465.6h.4M43.3 465.4h.4M65.6 458.2h.4M66.2 460.0h.4M43.8 474.9h.4M56.9 468.0h.4M46.9 463.0h.4M43.8 466.5h.4M54.2 463.5h.4M53.0 479.8h.4M55.3 473.5h.4M44.5 470.6h.4M44.2 472.1h.4M59.2 471.2h.4M38.8 468.8h.4M55.1 463.3h.4M42.2 469.9h.4M41.0 473.8h.4M39.2 474.1h.4M52.3 473.1h.4M52.7 465.8h.4M51.1 469.1h.4M47.3 471.0h.4M63.4 471.6h.4M48.4 465.7h.4M51.0 464.0h.4M35.9 476.0h.4M62.0 468.2h.4M46.3 475.0h.4M52.4 470.3h.4M50.3 463.9h.4M58.2 467.1h.4M53.7 467.5h.4M64.9 467.5h.4M45.5 465.6h.4M50.8 465.7h.4M40.0 474.8h.4M46.8 471.4h.4M49.0 472.3h.4M38.0 471.8h.4M56.3 464.5h.4M40.5 467.5h.4M40.7 470.9h.4M39.1 478.2h.4M59.4 463.3h.4M45.0 466.7h.4M41.3 466.8h.4M38.1 466.6h.4M47.0 464.6h.4M48.5 465.8h.4M49.1 469.4h.4M56.7 463.2h.4M54.8 470.2h.4M48.3 472.6h.4M54.4 467.3h.4M49.9 468.4h.4M53.2 467.5h.4M51.6 468.2h.4M58.5 471.5h.4M49.8 466.8h.4M52.5 467.0h.4M55.8 473.4h.4M45.4 470.8h.4M62.7 468.6h.4M52.1 466.4h.4M51.2 460.0h.4M37.2 467.8h.4M54.9 472.4h.4M53.3 473.7h.4M48.6 474.3h.4M51.6 471.3h.4M49.5 464.7h.4M47.6 474.5h.4M52.7 469.6h.4M47.1 464.9h.4M61.5 466.1h.4M56.2 467.3h.4M44.1 471.7h.4M39.3 477.8h.4M51.2 461.0h.4M47.0 476.3h.4M59.4 460.8h.4M46.2 475.4h.4M42.0 474.8h.4M63.6 467.1h.4M59.5 465.1h.4M50.9 465.0h.4M60.9 469.5h.4M46.7 468.7h.4M45.0 476.3h.4M55.9 469.9h.4M50.8 459.9h.4M37.1 479.7h.4M59.1 467.1h.4M51.8 462.8h.4M55.0 463.0h.4M48.9 472.8h.4M48.9 472.8h.4M61.2 470.6h.4M58.3 467.5h.4M64.9 454.4h.4M51.6 465.1h.4M62.0 461.6h.4M47.3 471.2h.4M64.5 467.7h.4M55.1 466.2h.4M48.8 467.3h.4M48.3 471.0h.4M58.6 460.6h.4M39.7 470.1h.4M41.1 470.4h.4M47.9 469.7h.4M50.9 463.9h.4M44.9 465.9h.4M44.8 465.4h.4M61.7 465.5h.4M58.4 468.2h.4M45.7 466.0h.4M50.8 459.6h.4M59.6 471.4h.4M46.5 465.3h.4M40.6 464.6h.4M43.7 474.5h.4M42.6 468.4h.4M47.6 464.5h.4M54.7 468.9h.4M46.1 474.8h.4M35.6 472.8h.4M47.2 461.2h.4M48.4 470.1h.4M58.2 466.7h.4M57.1 464.1h.4M51.5 464.7h.4M52.9 471.7h.4M49.6 466.5h.4M45.0 467.0h.4M63.4 466.4h.4M43.4 467.4h.4M36.8 471.3h.4M58.1 469.0h.4M58.1 458.5h.4M62.8 460.1h.4M55.7 461.2h.4M46.8 463.4h.4M36.5 468.3h.4M40.9 468.7h.4M65.3 463.7h.4M52.8 462.9h.4M46.9 469.9h.4M50.4 469.6h.4M46.3 475.4h.4M46.1 464.5h.4M51.0 463.5h.4M53.7 461.4h.4M38.4 473.3h.4M46.3 469.9h.4M57.0 465.6h.4M57.5 468.5h.4M60.8 468.8h.4M53.9 470.1h.4M52.4 465.5h.4M49.4 470.0h.4M56.4 464.9h.4M53.4 466.3h.4M59.5 457.7h.4M47.0 466.7h.4M35.0 467.3h.4M57.7 461.6h.4M53.1 466.2h.4M54.9 467.8h.4M54.6 468.0h.4M50.2 468.2h.4M42.4 466.4h.4M54.9 465.0h.4M46.8 469.3h.4M57.7 464.7h.4M54.6 465.6h.4M36.2 467.1h.4M64.3 469.2h.4M45.3 469.8h.4M54.9 462.5h.4M38.4 475.4h.4M46.3 466.1h.4M52.2 475.3h.4M64.1 469.9h.4M59.2 466.1h.4M55.6 470.4h.4M49.3 480.1h.4M56.9 464.1h.4M41.9 472.3h.4M62.2 463.7h.4M50.1 468.9h.4M57.4 467.4h.4M62.4 462.7h.4M53.6 465.1h.4M59.3 461.0h.4M48.0 468.6h.4M50.1 459.8h.4M46.2 467.3h.4M57.4 469.8h.4M62.0 466.1h.4M57.8 467.8h.4M55.8 466.7h.4M55.0 469.8h.4M47.4 469.2h.4M38.6 468.7h.4M45.2 462.7h.4M55.3 467.3h.4M53.3 473.1h.4M58.0 460.8h.4M42.1 467.9h.4M54.8 465.4h.4M39.0 465.6h.4M51.6 463.4h.4M49.6 474.4h.4M39.1 474.3h.4M62.9 457.7h.4M57.9 466.4h.4M44.7 467.4h.4M48.6 461.5h.4M59.0 473.1h.4M57.0 457.9h.4M52.8 462.3h.4M59.1 462.5h.4M43.0 467.5h.4M44.4 471.3h.4M59.2 465.4h.4M63.3 465.6h.4M51.2 469.5h.4M45.0 466.2h.4M46.4 472.5h.4M49.1 467.3h.4M44.5 466.5h.4M46.5 467.5h.4M52.6 460.8h.4M46.7 467.4h.4M63.0 471.5h.4M44.8 463.4h.4M58.8 466.9h.4M65.4 460.1h.4M63.4 470.4h.4M35.7 474.9h.4M49.7 470.3h.4M44.1 473.0h.4M50.4 464.6h.4M47.6 469.0h.4M58.0 463.4h.4M46.5 466.1h.4M61.6 458.9h.4M54.8 466.8h.4M41.5 471.9h.4M51.6 464.1h.4M61.5 464.3h.4M42.6 471.9h.4M62.1 465.2h.4M63.3 468.9h.4M60.5 471.8h.4M58.2 470.2h.4M42.3 463.1h.4M58.9 459.1h.4M65.5 464.0h.4M60.8 471.6h.4M54.4 467.4h.4M56.9 462.2h.4M53.8 458.3h.4M51.3 465.8h.4M54.8 468.2h.4M50.2 466.0h.4M57.0 471.7h.4M46.4 468.3h.4M55.9 460.5h.4M58.5 470.6h.4M50.7 470.1h.4M57.2 459.9h.4M48.0 462.7h.4M36.2 473.5h.4M53.9 471.6h.4M43.4 464.4h.4M48.5 470.5h.4M46.7 465.2h.4M52.5 467.2h.4M56.9 465.4h.4M48.7 466.3h.4M52.3 459.8h.4M51.4 465.7h.4M57.7 468.8h.4M56.4 471.1h.4M48.4 472.1h.4M37.7 472.6h.4M43.1 464.7h.4M53.4 460.9h.4M53.2 463.2h.4M47.0 467.4h.4M48.9 466.7h.4M46.4 473.1h.4M55.1 479.4h.4M53.1 465.1h.4M44.2 465.6h.4M62.0 468.9h.4M54.1 466.1h.4M58.9 453.6h.4M51.9 468.8h.4M45.7 464.4h.4M55.5 464.2h.4M47.1 472.2h.4M50.4 466.5h.4M47.4 471.5h.4M39.6 467.7h.4M47.3 470.1h.4M55.5 470.2h.4M50.5 467.7h.4M42.5 467.6h.4M43.2 471.9h.4M50.4 465.9h.4M47.5 462.2h.4M47.4 472.0h.4M51.8 468.2h.4M50.3 473.2h.4M50.3 465.8h.4M55.2 469.7h.4M48.5 466.9h.4M60.1 462.6h.4M50.4 470.1h.4M48.2 461.0h.4M51.8 470.1h.4M48.7 469.7h.4M48.2 472.5h.4M43.2 468.6h.4M58.5 470.7h.4M51.7 469.3h.4M59.5 462.0h.4M50.4 462.1h.4M47.4 473.4h.4M51.9 473.5h.4M56.5 462.4h.4M50.4 467.0h.4M46.5 464.1h.4M57.4 461.4h.4M63.4 458.2h.4M41.8 470.7h.4M48.3 473.5h.4M62.7 470.0h.4M41.5 475.1h.4M59.7 466.1h.4M52.1 460.5h.4M48.1 468.1h.4M42.3 461.8h.4M53.7 473.8h.4M53.5 474.0h.4M62.3 477.1h.4M47.5 460.2h.4M47.2 470.6h.4M53.4 466.8h.4M43.0 479.9h.4M51.1 466.9h.4M52.5 461.9h.4M38.3 465.3h.4M61.9 476.9h.4M58.3 468.0h.4M62.5 464.7h.4M52.0 467.2h.4M57.4 468.7h.4M39.0 468.5h.4M60.8 471.7h.4M55.9 463.8h.4M53.1 471.5h.4M42.5 468.0h.4M59.1 469.2h.4M38.6 464.9h.4M59.6 457.4h.4M56.6 471.3h.4M38.2 468.1h.4M54.2 466.8h.4M43.9 471.1h.4M45.7 469.5h.4M43.1 469.6h.4M41.0 473.2h.4M64.9 465.2h.4M40.4 469.3h.4M59.6 460.7h.4M53.6 469.0h.4M52.5 471.9h.4M50.6 471.1h.4M43.4 473.5h.4M53.2 461.3h.4M53.4 468.4h.4M42.6 465.4h.4M55.7 462.2h.4M50.3 469.6h.4M56.0 466.8h.4M61.7 466.4h.4M54.2 465.2h.4M51.3 468.1h.4M62.0 468.8h.4M55.6 464.7h.4M54.6 470.9h.4M64.7 463.4h.4M56.6 463.1h.4M42.7 472.5h.4M64.5 464.5h.4M66.0 464.6h.4M60.9 461.9h.4M54.2 471.0h.4M62.5 461.1h.4M47.8 467.8h.4M55.1 463.5h.4M47.3 466.0h.4M54.4 464.8h.4M51.7 464.3h.4M45.0 466.8h.4M43.6 470.5h.4M39.6 478.4h.4M48.5 470.3h.4M61.9 462.2h.4M40.8 468.1h.4M43.4 461.1h.4M54.7 469.1h.4M52.5 467.5h.4M58.0 469.1h.4M35.4 467.5h.4M64.0 469.2h.4M49.1 467.7h.4M47.0 461.5h.4M60.7 462.3h.4M53.7 469.3h.4M37.1 474.3h.4M61.7 470.5h.4M41.1 461.1h.4M57.4 460.8h.4M60.4 466.9h.4M60.4 460.7h.4M49.7 470.6h.4M47.2 469.8h.4M55.1 471.5h.4M62.8 458.4h.4M57.6 472.7h.4M55.4 469.9h.4M54.3 474.9h.4M38.2 470.7h.4M61.7 460.0h.4M44.4 467.3h.4M51.6 467.3h.4M36.1 465.5h.4M59.9 466.6h.4M44.4 471.7h.4M52.6 463.1h.4M58.3 470.3h.4M38.2 474.5h.4M64.0 460.1h.4M55.0 458.4h.4M48.5 475.0h.4M48.3 476.4h.4M59.9 465.3h.4M49.3 463.1h.4M57.8 468.4h.4M59.9 470.7h.4M45.0 468.6h.4M42.3 467.5h.4M54.4 467.8h.4M55.6 474.0h.4M47.7 475.1h.4M58.9 464.0h.4M54.0 464.5h.4M50.2 476.2h.4M52.6 467.0h.4M48.6 467.6h.4M47.9 472.4h.4M52.0 469.4h.4M46.5 466.8h.4M51.1 462.6h.4M59.2 461.8h.4M64.2 459.0h.4M44.3 466.7h.4M60.5 459.0h.4M39.6 467.5h.4M43.2 466.1h.4M51.5 470.6h.4M47.2 469.7h.4M49.9 463.4h.4M40.8 466.8h.4M53.7 468.1h.4M53.9 470.1h.4M47.1 468.2h.4M45.5 466.4h.4M52.6 471.6h.4M52.4 473.3h.4M60.5 465.8h.4M57.9 462.9h.4M47.2 460.3h.4M49.0 464.9h.4M44.8 469.8h.4M49.6 473.4h.4M46.2 477.6h.4M61.1 470.8h.4M47.3 467.4h.4M49.0 465.6h.4M44.1 469.2h.4M47.7 469.3h.4M46.0 464.6h.4M52.2 466.6h.4M48.7 466.6h.4M49.1 469.7h.4M41.1 474.2h.4M43.7 461.8h.4M45.0 466.1h.4M47.5 466.3h.4M44.1 472.3h.4M60.7 463.9h.4M49.3 465.5h.4M58.3 463.2h.4M60.4 474.4h.4M48.3 463.4h.4M53.4 467.8h.4M48.1 456.0h.4M53.6 462.2h.4M54.5 465.8h.4M55.8 471.1h.4M49.4 465.2h.4M44.0 468.8h.4M52.1 473.6h.4M56.7 463.8h.4M56.2 464.8h.4M39.7 461.7h.4M56.2 461.7h.4M52.0 470.2h.4M65.6 461.8h.4M50.5 461.2h.4M62.2 463.3h.4M44.2 469.8h.4M54.6 456.6h.4M35.0 473.4h.4M63.4 468.6h.4M52.9 469.3h.4M37.5 469.1h.4M58.6 466.5h.4M55.8 473.4h.4M54.3 462.3h.4M46.4 468.3h.4M64.4 464.7h.4M48.6 463.3h.4M51.2 459.7h.4M54.2 462.3h.4M46.1 467.4h.4M44.4 472.8h.4M47.5 469.0h.4M52.0 465.2h.4M54.9 465.4h.4M61.4 462.1h.4M54.8 460.0h.4M56.4 470.2h.4M50.5 470.1h.4M46.1 471.1h.4M64.5 462.1h.4M52.7 462.1h.4M40.0 468.3h.4M48.0 469.3h.4M57.5 466.5h.4M47.6 473.7h.4M53.9 469.4h.4M59.4 468.2h.4M59.1 462.9h.4M50.0 470.6h.4M50.9 467.5h.4M62.6 469.4h.4M54.4 467.0h.4M62.2 467.6h.4M61.1 471.3h.4M58.2 465.8h.4M57.3 470.4h.4M39.3 473.0h.4M50.6 463.5h.4M41.1 459.5h.4M65.0 467.4h.4M47.4 464.9h.4M64.1 468.9h.4M39.8 467.5h.4M49.3 462.1h.4M41.8 474.5h.4M52.6 469.7h.4M49.1 466.4h.4M37.8 475.8h.4M62.7 465.2h.4M58.1 466.7h.4M55.6 445.1h.4M62.0 437.6h.4M64.7 442.8h.4M61.2 448.9h.4M61.9 440.5h.4M57.9 442.1h.4M50.4 443.2h.4M52.8 446.7h.4M61.0 438.9h.4M61.3 444.2h.4M58.0 446.9h.4M60.2 439.3h.4M56.0 439.6h.4M61.7 447.2h.4M58.8 442.6h.4M58.5 439.6h.4M51.1 443.4h.4M54.3 444.0h.4M55.5 442.1h.4M55.7 444.2h.4M57.2 446.9h.4M62.3 451.1h.4M56.5 443.8h.4M59.6 444.7h.4M57.5 444.6h.4M60.1 440.0h.4M55.9 442.3h.4M65.4 440.0h.4M58.4 441.4h.4M58.0 447.5h.4M52.9 438.0h.4M61.5 443.7h.4M60.6 448.0h.4M54.4 443.1h.4M58.4 449.1h.4M34.9 477.2h.4M35.4 455.9h.4M35.2 461.3h.4M35.3 465.9h.4M35.5 474.3h.4M35.2 466.6h.4M35.2 456.1h.4M34.9 462.3h.4M35.1 461.7h.4M35.2 461.0h.4M35.3 457.0h.4M35.4 464.4h.4M35.1 465.4h.4M34.9 475.2h.4M35.1 475.9h.4M35.4 467.7h.4M35.0 465.8h.4M35.2 475.3h.4M35.5 478.6h.4M34.9 472.2h.4M35.3 476.0h.4M35.5 480.2h.4M35.0 453.2h.4M35.2 478.3h.4M35.4 460.3h.4M35.0 466.3h.4M35.2 475.9h.4M35.4 473.5h.4M35.3 456.4h.4M35.2 471.8h.4M35.0 454.1h.4M35.2 462.7h.4M35.1 476.4h.4M35.2 464.8h.4M35.1 470.0h.4M35.4 473.8h.4M35.4 476.6h.4M35.1 474.8h.4M35.2 452.2h.4M35.1 464.6h.4M35.2 465.9h.4M35.1 453.7h.4M35.3 468.2h.4M35.1 470.2h.4M35.2 476.9h.4M35.3 480.3h.4M35.1 455.8h.4M35.4 458.9h.4M35.0 471.8h.4M35.3 456.0h.4M35.2 458.7h.4M35.2 469.2h.4M35.3 457.1h.4M35.2 475.5h.4M35.1 477.7h.4M34.9 453.0h.4M35.0 468.0h.4M35.3 475.9h.4M35.2 481.3h.4M35.3 460.2h.4M35.5 457.1h.4M35.3 478.3h.4M34.9 479.3h.4M35.1 457.9h.4M35.3 465.2h.4M35.0 473.6h.4M35.5 477.4h.4M35.5 457.0h.4M35.4 471.9h.4M35.2 476.2h.4M37.1 481.8h.4M44.4 481.9h.4M60.2 481.6h.4M40.5 481.7h.4M36.7 481.8h.4M51.7 481.7h.4M56.9 481.9h.4M48.8 481.6h.4M45.9 481.8h.4M53.7 481.8h.4M60.9 481.7h.4M49.8 481.7h.4M54.3 481.7h.4M44.1 481.7h.4M39.6 481.8h.4M56.2 481.6h.4M46.8 481.8h.4M41.4 481.9h.4M51.6 481.8h.4M45.5 481.6h.4M58.1 481.9h.4M40.8 481.8h.4M41.8 481.6h.4M47.4 481.9h.4M60.8 481.8h.4M47.1 481.7h.4M43.0 481.6h.4M44.3 481.8h.4M51.1 481.8h.4M47.5 481.8h.4M58.6 481.8h.4M37.8 481.6h.4M58.3 481.7h.4M54.1 481.8h.4M44.6 481.7h.4M56.2 481.7h.4M55.7 481.7h.4" stroke="#ec2424" stroke-width=".55" stroke-opacity=".75" fill="none"/>
</g>
<rect x="34.4" y="417.9" width="65.5" height="64.5" fill="none" stroke="#8a8a8a" stroke-width=".6"/>
<line x1="70.2" y1="417.9" x2="70.2" y2="482.4" stroke="#7a7a7a" stroke-width="0.6"/>
<line x1="34.4" y1="450.7" x2="99.9" y2="450.7" stroke="#7a7a7a" stroke-width="0.6"/>
<text x="36.2" y="422.9" font-size="3.3" text-anchor="start" fill="#333">Q2-UL(0.44%)</text>
<text x="98.4" y="422.9" font-size="3.3" text-anchor="end" fill="#333">Q2-UR(0.00%)</text>
<text x="36.2" y="480.2" font-size="3.3" text-anchor="start" fill="#333">Q2-LL(99.45%)</text>
<text x="98.4" y="480.2" font-size="3.3" text-anchor="end" fill="#333">Q2-LR(0.11%)</text>
<text x="67.15" y="416.3" font-size="3.3" text-anchor="middle" fill="#333">2-1 : P1</text>
<line x1="32.9" y1="482.4" x2="34.4" y2="482.4" stroke="#777" stroke-width="0.5"/>
<line x1="34.4" y1="482.4" x2="34.4" y2="483.9" stroke="#777" stroke-width="0.5"/>
<text x="34.4" y="487" font-size="2.8" text-anchor="middle" fill="#555">10</text>
<text x="32.2" y="483.4" font-size="2.8" text-anchor="end" fill="#555">10</text>
<line x1="32.9" y1="466.27" x2="34.4" y2="466.27" stroke="#777" stroke-width="0.5"/>
<line x1="50.77" y1="482.4" x2="50.77" y2="483.9" stroke="#777" stroke-width="0.5"/>
<text x="50.77" y="487" font-size="2.8" text-anchor="middle" fill="#555">10</text>
<text x="32.2" y="467.27" font-size="2.8" text-anchor="end" fill="#555">10</text>
<line x1="32.9" y1="450.15" x2="34.4" y2="450.15" stroke="#777" stroke-width="0.5"/>
<line x1="67.15" y1="482.4" x2="67.15" y2="483.9" stroke="#777" stroke-width="0.5"/>
<text x="67.15" y="487" font-size="2.8" text-anchor="middle" fill="#555">10</text>
<text x="32.2" y="451.15" font-size="2.8" text-anchor="end" fill="#555">10</text>
<line x1="32.9" y1="434.02" x2="34.4" y2="434.02" stroke="#777" stroke-width="0.5"/>
<line x1="83.53" y1="482.4" x2="83.53" y2="483.9" stroke="#777" stroke-width="0.5"/>
<text x="83.53" y="487" font-size="2.8" text-anchor="middle" fill="#555">10</text>
<text x="32.2" y="435.02" font-size="2.8" text-anchor="end" fill="#555">10</text>
<line x1="32.9" y1="417.9" x2="34.4" y2="417.9" stroke="#777" stroke-width="0.5"/>
<line x1="99.9" y1="482.4" x2="99.9" y2="483.9" stroke="#777" stroke-width="0.5"/>
<text x="99.9" y="487" font-size="2.8" text-anchor="middle" fill="#555">10</text>
<text x="32.2" y="418.9" font-size="2.8" text-anchor="end" fill="#555">10</text>
<text x="67.15" y="490.7" font-size="3" text-anchor="middle" fill="#444">CD206 APC-A</text>
<text x="0" y="0" font-size="3" text-anchor="middle" fill="#444" transform="translate(30.5 450.15) rotate(-90)">CD86 FITC-A</text>
<clipPath id="fc101"><rect x="116.8" y="417.9" width="65.5" height="64.5"/></clipPath>
<g clip-path="url(#fc101)">
<ellipse cx="145" cy="440.5" rx="4" ry="2.8" transform="rotate(0 145 440.5)" fill="#e61e1e" opacity="0.45" filter="url(#fcb)"/>
<ellipse cx="144.5" cy="459.5" rx="6.5" ry="3" transform="rotate(-5 144.5 459.5)" fill="#e61e1e" opacity="0.95" filter="url(#fcb)"/>
<path d="M156.6 434.2h.4M145.3 432.4h.4M148.8 444.0h.4M145.9 439.5h.4M146.5 438.5h.4M141.7 440.5h.4M139.1 441.2h.4M146.4 439.2h.4M133.0 442.1h.4M147.5 441.3h.4M146.1 440.0h.4M140.9 443.6h.4M146.2 450.7h.4M140.3 445.6h.4M139.1 443.8h.4M148.5 440.6h.4M144.7 442.4h.4M154.2 442.4h.4M157.2 440.5h.4M147.8 445.1h.4M145.8 445.1h.4M152.0 438.7h.4M134.4 440.7h.4M137.9 444.0h.4M144.0 447.8h.4M144.8 436.4h.4M144.7 442.7h.4M144.4 440.6h.4M147.5 439.7h.4M143.7 440.1h.4M147.9 446.6h.4M145.9 445.0h.4M141.1 442.1h.4M139.3 439.7h.4M139.3 445.5h.4M146.2 442.0h.4M142.6 439.4h.4M153.0 437.7h.4M144.9 441.8h.4M152.6 432.7h.4M138.3 441.3h.4M144.3 439.7h.4M137.3 439.8h.4M144.0 443.8h.4M148.2 437.1h.4M142.9 442.1h.4M143.1 439.5h.4M146.6 438.9h.4M154.2 437.1h.4M142.4 452.8h.4M139.7 442.1h.4M141.1 438.0h.4M143.1 434.5h.4M140.0 435.6h.4M145.7 436.6h.4M148.4 438.2h.4M138.6 441.0h.4M153.8 443.5h.4M137.4 440.1h.4M146.9 441.9h.4M145.5 440.5h.4M154.6 441.5h.4M141.9 443.3h.4M144.7 440.9h.4M146.9 440.0h.4M150.2 447.8h.4M143.4 441.5h.4M152.6 434.7h.4M137.9 439.6h.4M138.5 435.1h.4M144.0 438.3h.4M138.7 435.9h.4M137.1 446.3h.4M152.6 448.5h.4M148.6 441.2h.4M132.0 439.9h.4M148.1 437.2h.4M148.7 434.9h.4M137.2 436.4h.4M149.9 438.8h.4M136.7 446.3h.4M140.7 439.9h.4M141.4 434.1h.4M147.5 448.9h.4M144.2 433.2h.4M145.1 443.2h.4M140.5 449.3h.4M152.2 444.3h.4M147.5 443.5h.4M139.4 433.7h.4M141.2 444.7h.4M150.2 436.9h.4M146.8 440.3h.4M137.9 436.1h.4M140.6 436.4h.4M148.1 436.1h.4M134.7 450.3h.4M138.4 438.2h.4M146.2 434.9h.4M135.6 432.6h.4M153.0 446.7h.4M138.3 444.7h.4M136.0 440.1h.4M135.0 432.5h.4M143.0 436.7h.4M140.8 438.2h.4M141.0 449.8h.4M143.4 437.4h.4M139.8 444.3h.4M143.6 434.0h.4M146.6 439.0h.4M146.0 444.7h.4M137.5 439.5h.4M147.1 434.6h.4M144.9 443.8h.4M148.2 442.6h.4M148.7 441.3h.4M142.3 445.8h.4M147.2 438.4h.4M140.1 443.1h.4M145.7 436.0h.4M135.0 441.4h.4M147.0 440.7h.4M142.1 432.4h.4M134.5 440.1h.4M145.7 443.5h.4M139.7 435.2h.4M153.8 436.3h.4M144.6 441.3h.4M157.4 450.9h.4M147.9 444.2h.4M138.7 439.6h.4M144.0 434.5h.4M144.5 439.4h.4M147.9 440.3h.4M136.3 446.7h.4M141.8 439.1h.4M141.1 444.8h.4M145.5 445.2h.4M144.4 439.9h.4M145.7 443.8h.4M146.7 438.9h.4M142.6 441.3h.4M146.4 434.3h.4M141.6 441.5h.4M142.0 444.8h.4M145.7 443.0h.4M144.3 439.9h.4M139.2 445.9h.4M154.5 436.7h.4M138.4 441.0h.4M134.8 437.0h.4M149.8 442.7h.4M145.9 438.8h.4M145.7 441.6h.4M140.4 442.3h.4M136.3 442.2h.4M142.6 442.4h.4M143.8 444.0h.4M143.5 440.6h.4M144.4 443.1h.4M150.0 440.6h.4M138.3 444.3h.4M133.6 441.8h.4M142.3 445.4h.4M135.4 445.0h.4M128.9 440.1h.4M151.2 439.0h.4M143.9 437.9h.4M139.0 434.5h.4M141.3 440.5h.4M153.4 444.7h.4M149.8 442.7h.4M148.1 440.2h.4M145.5 442.4h.4M138.5 444.6h.4M143.7 445.9h.4M139.2 445.2h.4M155.4 447.6h.4M138.9 446.5h.4M135.6 435.3h.4M135.2 443.0h.4M148.3 444.4h.4M134.8 441.7h.4M145.5 434.3h.4M145.0 440.9h.4M142.0 438.8h.4M154.7 430.0h.4M140.6 441.0h.4M146.8 444.8h.4M137.7 444.9h.4M139.9 444.5h.4M147.5 441.0h.4M138.8 437.5h.4M144.2 445.9h.4M146.9 439.5h.4M143.5 438.5h.4M141.5 442.1h.4M145.0 447.8h.4M133.0 444.9h.4M142.3 442.7h.4M148.3 436.5h.4M153.8 447.1h.4M147.7 444.0h.4M145.4 447.3h.4M145.6 448.1h.4M138.8 437.0h.4M149.1 443.7h.4M148.7 443.3h.4M139.5 434.4h.4M135.8 443.8h.4M145.4 438.8h.4M148.6 432.0h.4M141.8 444.6h.4M144.7 440.0h.4M145.6 440.4h.4M149.1 443.1h.4M146.2 440.9h.4M139.1 443.6h.4M147.0 435.3h.4M142.5 444.4h.4M143.4 439.6h.4M147.3 436.2h.4M133.8 441.2h.4M148.4 443.2h.4M137.0 436.2h.4M141.0 444.2h.4M149.4 438.4h.4M151.0 447.3h.4M139.8 444.6h.4M138.5 443.2h.4M136.3 445.6h.4M138.8 439.7h.4M152.0 441.4h.4M144.3 440.1h.4M138.0 439.7h.4M143.0 442.1h.4M136.6 441.7h.4M144.0 446.4h.4M147.3 441.6h.4M136.5 443.6h.4M147.8 439.5h.4M152.5 444.7h.4M147.0 432.8h.4M139.4 434.2h.4M147.5 435.5h.4M138.5 442.0h.4M136.7 434.1h.4M153.9 434.9h.4M137.5 444.8h.4M139.8 443.8h.4M141.2 435.4h.4M144.5 443.7h.4M151.3 445.9h.4M149.1 448.8h.4M150.6 440.5h.4M147.7 441.5h.4M144.9 440.3h.4M137.6 449.0h.4M144.6 443.0h.4M139.1 438.0h.4M140.4 445.0h.4M141.6 438.8h.4M154.6 441.5h.4M147.8 435.1h.4M148.7 439.6h.4M139.7 451.6h.4M142.7 436.3h.4M142.5 442.1h.4M145.8 445.3h.4M147.6 439.3h.4M143.5 445.4h.4M144.4 442.8h.4M146.5 438.0h.4M145.0 437.5h.4M147.8 441.1h.4M128.2 436.4h.4M137.6 436.8h.4M142.8 441.9h.4M137.5 437.1h.4M137.8 441.0h.4M129.5 438.5h.4M147.8 445.3h.4M142.4 444.9h.4M139.1 443.6h.4M152.4 440.2h.4M140.7 439.3h.4M147.1 435.7h.4M146.2 449.2h.4M147.1 442.9h.4M132.9 442.2h.4M143.0 442.9h.4M141.9 445.2h.4M147.9 445.6h.4M158.9 445.1h.4M151.8 442.6h.4M149.5 436.6h.4M136.0 442.7h.4M145.0 442.8h.4M142.2 440.9h.4M136.3 442.6h.4M143.0 428.5h.4M149.8 446.7h.4M145.1 440.1h.4M149.4 447.0h.4M151.1 443.5h.4M141.9 443.0h.4M154.9 447.3h.4M138.6 439.0h.4M144.3 452.1h.4M143.3 441.4h.4M140.0 434.1h.4M135.3 439.6h.4M149.0 440.5h.4M151.7 432.1h.4M146.0 440.0h.4M143.8 439.1h.4M141.1 438.5h.4M145.5 438.4h.4M145.9 437.3h.4M142.7 442.0h.4M140.6 442.7h.4M130.3 442.8h.4M143.4 441.3h.4M150.9 440.9h.4M144.2 443.2h.4M135.8 443.3h.4M140.6 449.1h.4M136.5 449.2h.4M132.2 438.7h.4M150.5 435.4h.4M143.7 436.8h.4M146.4 443.6h.4M131.8 440.6h.4M147.1 445.2h.4M146.4 436.7h.4M148.9 434.2h.4M136.9 435.1h.4M135.8 435.6h.4M149.7 438.2h.4M148.2 448.5h.4M142.5 444.1h.4M147.5 440.8h.4M152.0 436.6h.4M144.8 439.4h.4M145.7 437.4h.4M148.0 438.6h.4M147.5 441.1h.4M143.2 443.7h.4M143.7 439.5h.4M134.3 445.3h.4M136.7 441.9h.4M156.6 437.1h.4M140.7 443.3h.4M134.4 440.5h.4M150.5 440.1h.4M152.7 439.3h.4M137.5 446.3h.4M143.6 440.7h.4M142.6 442.6h.4M141.2 437.2h.4M139.0 440.9h.4M140.1 446.9h.4M141.9 446.8h.4M146.8 443.2h.4M142.1 439.0h.4M144.1 437.6h.4M143.7 437.6h.4M142.1 439.0h.4M140.4 443.0h.4M138.6 438.9h.4M140.9 437.3h.4M142.6 436.3h.4M135.7 439.4h.4M138.0 433.5h.4M147.5 434.2h.4M138.6 437.9h.4M143.9 439.5h.4M137.3 448.7h.4M150.5 442.9h.4M150.6 440.6h.4M143.7 434.5h.4M143.8 438.8h.4M146.3 443.1h.4M143.7 446.2h.4M138.2 432.5h.4M148.9 445.6h.4M139.7 441.0h.4M146.3 444.2h.4M149.6 437.6h.4M137.3 441.8h.4M141.9 436.4h.4M143.6 441.3h.4M133.5 449.0h.4M141.9 446.6h.4M144.4 444.2h.4M136.3 439.0h.4M148.5 439.1h.4M151.6 437.2h.4M151.3 441.0h.4M154.9 443.0h.4M141.2 436.6h.4M149.2 437.8h.4M145.9 444.4h.4M137.9 446.5h.4M137.8 437.1h.4M141.4 441.1h.4M135.2 447.5h.4M144.2 445.9h.4M143.4 439.5h.4M159.0 442.6h.4M145.3 442.2h.4M149.9 436.0h.4M147.5 447.2h.4M139.7 440.0h.4M138.5 441.4h.4M139.5 435.3h.4M141.4 439.3h.4M149.0 437.1h.4M148.7 432.9h.4M141.8 443.1h.4M141.7 438.4h.4M140.1 445.4h.4M142.3 440.0h.4M145.7 445.2h.4M140.7 441.7h.4M144.1 440.1h.4M140.1 440.8h.4M149.8 436.4h.4M144.3 438.8h.4M141.1 444.8h.4M151.4 442.9h.4M134.4 442.1h.4M142.8 440.8h.4M150.5 434.2h.4M149.5 437.9h.4M147.3 438.2h.4M142.4 435.8h.4M149.6 444.8h.4M147.2 439.5h.4M149.0 439.5h.4M138.8 445.0h.4M148.7 436.3h.4M139.3 444.5h.4M135.3 433.2h.4M143.1 438.7h.4M141.7 433.1h.4M151.0 444.7h.4M142.9 444.1h.4M144.7 438.2h.4M138.3 441.9h.4M136.5 438.8h.4M141.9 443.0h.4M147.1 443.5h.4M156.5 436.2h.4M138.3 443.5h.4M152.3 436.0h.4M141.8 440.0h.4M151.0 440.6h.4M136.4 445.4h.4M144.4 438.2h.4M144.2 440.4h.4M141.5 443.2h.4M142.6 444.3h.4M144.5 446.5h.4M144.1 440.2h.4M135.1 450.3h.4M136.5 439.0h.4M139.5 445.2h.4M130.4 449.9h.4M137.7 449.6h.4M147.2 439.9h.4M144.4 436.6h.4M137.7 435.9h.4M148.0 438.5h.4M142.2 433.8h.4M138.1 438.8h.4M145.4 433.3h.4M150.6 441.1h.4M142.4 445.7h.4M147.2 439.7h.4M146.0 446.5h.4M144.9 439.4h.4M137.5 444.7h.4M135.8 438.5h.4M137.9 443.0h.4M145.7 444.0h.4M143.4 442.5h.4M143.3 445.3h.4M150.3 440.5h.4M151.4 440.0h.4M133.9 443.4h.4M133.3 447.8h.4M141.4 443.0h.4M146.1 442.5h.4M146.6 441.4h.4M142.9 446.0h.4M130.9 433.7h.4M152.8 436.9h.4M140.0 441.9h.4M145.4 441.3h.4M142.6 435.2h.4M142.9 447.5h.4M149.4 440.8h.4M149.6 437.7h.4M137.4 447.8h.4M130.9 447.1h.4M139.1 435.8h.4M143.7 432.1h.4M144.3 437.3h.4M145.9 444.1h.4M149.9 443.3h.4M149.0 441.5h.4M141.8 444.7h.4M136.2 441.5h.4M140.4 446.5h.4M150.2 443.3h.4M139.2 438.1h.4M149.3 439.8h.4M147.0 440.7h.4M155.2 442.5h.4M142.8 437.3h.4M131.5 442.9h.4M154.3 441.5h.4M143.3 439.1h.4M143.5 444.8h.4M151.4 442.8h.4M141.3 439.1h.4M138.0 441.9h.4M141.8 442.2h.4M146.5 440.4h.4M140.7 437.1h.4M152.3 436.3h.4M139.8 448.9h.4M139.2 440.0h.4M136.8 444.4h.4M153.0 437.3h.4M151.0 431.7h.4M143.4 449.4h.4M138.4 438.5h.4M134.4 443.0h.4M150.3 436.3h.4M146.4 438.8h.4M146.7 440.0h.4M141.2 439.5h.4M150.0 441.7h.4M144.8 447.7h.4M137.1 440.7h.4M139.7 446.7h.4M144.4 438.2h.4M136.7 443.9h.4M145.8 438.2h.4M138.6 441.7h.4M141.0 441.2h.4M141.6 446.6h.4M142.3 444.0h.4M146.5 442.4h.4M136.4 441.1h.4M140.6 445.1h.4M136.9 445.9h.4M140.9 442.3h.4M137.9 439.8h.4M144.3 441.9h.4M144.8 435.1h.4M154.2 443.5h.4M139.6 433.7h.4M151.2 444.5h.4M140.0 438.0h.4M139.5 439.1h.4M146.4 438.7h.4M149.2 442.8h.4M148.7 438.0h.4M146.7 444.0h.4M145.0 445.2h.4M153.2 443.3h.4M140.3 437.6h.4M140.0 446.9h.4M139.8 439.4h.4M138.3 450.7h.4M139.7 439.9h.4M150.1 430.8h.4M135.8 446.6h.4M152.3 438.5h.4M134.7 438.1h.4M148.3 436.0h.4M130.6 450.1h.4M152.3 438.7h.4M139.7 440.2h.4M144.6 441.6h.4M143.4 443.0h.4M140.9 436.7h.4M151.6 440.6h.4M148.5 437.1h.4M143.2 441.0h.4M146.0 441.0h.4M150.6 453.0h.4M142.8 446.3h.4M149.9 451.7h.4M148.8 438.9h.4M141.1 445.5h.4M137.7 443.0h.4M146.3 446.8h.4M137.5 433.7h.4M144.8 435.3h.4M140.9 434.5h.4M149.3 443.6h.4M147.6 436.9h.4M154.6 440.4h.4M150.2 441.2h.4M146.1 439.5h.4M141.0 445.2h.4M138.1 441.1h.4M146.9 444.5h.4M149.9 437.2h.4M148.4 442.1h.4M143.3 443.7h.4M139.6 435.3h.4M149.6 440.5h.4M144.6 439.5h.4M133.8 439.5h.4M153.2 449.3h.4M132.7 446.5h.4M140.3 446.1h.4M142.7 448.7h.4M147.1 443.2h.4M140.3 439.3h.4M141.0 447.4h.4M142.7 437.2h.4M148.6 435.2h.4M142.0 442.7h.4M154.8 441.8h.4M144.4 438.0h.4M140.6 439.7h.4M140.8 438.5h.4M140.4 443.4h.4M146.9 440.3h.4M141.7 439.6h.4M142.6 440.8h.4M141.0 445.8h.4M152.8 439.0h.4M133.6 442.2h.4M141.5 440.0h.4M146.6 446.8h.4M145.5 442.9h.4M144.6 445.7h.4M147.6 441.6h.4M143.7 434.7h.4M142.2 439.6h.4M138.3 442.6h.4M146.1 445.6h.4M128.0 464.5h.4M147.5 457.4h.4M150.7 458.8h.4M136.8 462.3h.4M133.5 460.5h.4M163.3 456.1h.4M143.7 466.9h.4M138.7 461.8h.4M144.3 462.0h.4M149.3 455.6h.4M138.4 459.5h.4M152.0 457.6h.4M132.4 459.6h.4M142.2 457.7h.4M143.7 463.1h.4M152.7 458.1h.4M142.8 465.4h.4M142.6 461.2h.4M141.0 459.3h.4M127.4 459.8h.4M139.3 453.0h.4M158.0 461.1h.4M141.6 453.2h.4M148.3 461.0h.4M141.1 460.0h.4M144.8 459.6h.4M141.7 462.4h.4M138.1 462.7h.4M145.8 457.7h.4M138.5 464.2h.4M149.5 458.0h.4M147.7 460.1h.4M138.2 461.6h.4M138.6 463.1h.4M151.4 461.5h.4M150.5 462.1h.4M140.9 461.6h.4M141.7 455.7h.4M141.2 459.5h.4M152.4 462.0h.4M147.9 452.5h.4M146.2 457.9h.4M137.0 456.5h.4M136.8 465.0h.4M149.5 461.5h.4M153.9 457.6h.4M126.0 466.7h.4M132.8 460.6h.4M147.8 464.3h.4M141.6 459.3h.4M137.0 459.9h.4M147.4 457.7h.4M135.0 465.5h.4M149.3 461.6h.4M140.4 460.2h.4M154.0 459.8h.4M142.1 462.1h.4M149.6 460.5h.4M141.2 470.6h.4M137.1 463.1h.4M139.6 463.2h.4M143.5 459.0h.4M133.2 459.9h.4M150.3 458.8h.4M142.6 455.1h.4M128.2 462.2h.4M133.5 459.8h.4M135.6 457.6h.4M136.0 460.9h.4M144.6 461.7h.4M142.1 461.8h.4M146.0 462.6h.4M138.0 454.1h.4M149.3 458.1h.4M138.6 459.3h.4M137.8 459.4h.4M146.4 462.3h.4M136.1 453.8h.4M149.1 459.0h.4M152.9 457.7h.4M150.1 466.7h.4M137.4 457.1h.4M139.8 459.4h.4M147.3 463.6h.4M141.4 454.9h.4M152.7 465.3h.4M152.5 461.5h.4M150.5 459.0h.4M154.1 463.4h.4M137.9 460.7h.4M138.7 455.1h.4M146.8 457.5h.4M154.6 455.5h.4M137.5 462.1h.4M142.0 462.5h.4M146.3 458.5h.4M142.5 459.7h.4M129.3 463.9h.4M139.4 457.6h.4M140.7 464.8h.4M140.9 461.1h.4M136.7 460.1h.4M141.2 455.9h.4M129.4 462.0h.4M137.4 462.0h.4M139.4 458.2h.4M143.1 463.3h.4M148.2 459.7h.4M139.5 462.1h.4M146.8 462.6h.4M140.4 451.1h.4M134.1 457.3h.4M144.3 461.3h.4M145.6 455.1h.4M152.5 459.0h.4M143.4 467.3h.4M145.2 459.7h.4M150.6 460.4h.4M144.4 460.0h.4M133.1 460.9h.4M138.6 455.7h.4M147.8 458.7h.4M143.1 464.7h.4M146.4 460.3h.4M150.8 462.4h.4M145.1 461.6h.4M144.8 465.0h.4M142.4 459.9h.4M145.1 460.2h.4M142.2 456.2h.4M146.6 458.1h.4M142.5 466.8h.4M143.6 461.1h.4M130.1 461.0h.4M142.2 455.7h.4M137.8 461.9h.4M139.0 459.9h.4M141.4 457.0h.4M141.3 457.7h.4M149.6 461.2h.4M145.9 461.5h.4M141.8 456.2h.4M137.5 464.6h.4M129.4 460.5h.4M143.6 462.7h.4M155.1 455.9h.4M134.9 457.3h.4M150.3 461.7h.4M140.5 462.4h.4M138.5 460.3h.4M152.8 456.7h.4M147.7 456.1h.4M139.2 457.4h.4M145.5 454.9h.4M137.7 463.9h.4M150.1 461.8h.4M153.4 458.9h.4M138.5 463.2h.4M152.3 454.8h.4M141.4 459.6h.4M144.7 459.7h.4M149.8 464.2h.4M146.2 463.2h.4M134.5 461.6h.4M141.2 458.6h.4M140.6 461.5h.4M145.2 460.5h.4M147.8 459.3h.4M154.9 451.4h.4M151.7 462.9h.4M141.4 462.6h.4M144.2 467.1h.4M150.6 455.7h.4M141.5 454.5h.4M130.2 461.1h.4M140.5 461.2h.4M140.3 464.2h.4M144.3 461.5h.4M138.3 459.5h.4M136.6 454.9h.4M140.0 461.8h.4M136.0 462.4h.4M152.9 457.2h.4M147.5 456.0h.4M131.5 459.8h.4M142.6 463.2h.4M150.3 455.5h.4M147.8 462.4h.4M144.8 461.6h.4M143.6 466.2h.4M139.0 465.4h.4M134.9 457.5h.4M143.5 456.7h.4M145.2 461.8h.4M147.5 461.4h.4M148.4 458.9h.4M146.9 452.4h.4M132.3 457.9h.4M134.5 465.5h.4M149.4 460.0h.4M148.5 451.2h.4M137.2 453.1h.4M137.8 459.7h.4M144.1 461.9h.4M133.7 461.0h.4M138.3 457.0h.4M146.1 455.7h.4M141.0 459.6h.4M146.7 457.8h.4M134.7 458.6h.4M148.7 460.5h.4M156.5 462.2h.4M138.3 456.0h.4M148.3 465.4h.4M135.2 460.0h.4M137.2 460.9h.4M147.7 458.5h.4M142.5 455.6h.4M139.2 459.7h.4M144.6 465.5h.4M134.4 460.6h.4M142.7 458.0h.4M151.9 459.2h.4M148.4 461.7h.4M148.4 457.8h.4M145.5 463.4h.4M153.5 460.4h.4M133.3 461.5h.4M136.7 458.9h.4M148.9 458.8h.4M155.1 458.8h.4M147.8 461.1h.4M139.0 462.2h.4M142.4 462.0h.4M143.7 460.2h.4M155.8 461.7h.4M154.1 456.5h.4M151.1 457.1h.4M151.3 461.1h.4M131.1 459.5h.4M135.8 462.1h.4M143.5 462.2h.4M142.5 463.3h.4M152.9 457.9h.4M149.3 460.3h.4M146.1 461.5h.4M147.0 462.2h.4M142.7 456.6h.4M143.2 465.3h.4M139.1 453.6h.4M143.9 459.3h.4M135.5 459.1h.4M150.1 457.5h.4M141.4 458.9h.4M143.5 459.9h.4M138.9 462.7h.4M135.2 465.8h.4M141.2 451.9h.4M142.8 462.4h.4M141.3 458.0h.4M153.1 458.2h.4M142.5 464.9h.4M138.7 459.4h.4M147.8 460.8h.4M143.9 462.4h.4M156.3 459.6h.4M144.6 463.3h.4M139.4 461.6h.4M146.8 459.0h.4M147.2 463.9h.4M125.5 462.6h.4M145.9 459.0h.4M135.2 459.2h.4M143.9 456.2h.4M145.8 463.0h.4M147.6 464.1h.4M138.6 465.2h.4M155.0 458.3h.4M137.5 464.3h.4M128.5 457.0h.4M146.7 457.8h.4M137.6 458.8h.4M135.0 456.2h.4M148.6 464.2h.4M137.2 460.6h.4M146.2 464.5h.4M142.2 465.0h.4M137.3 466.9h.4M133.3 465.6h.4M127.9 462.8h.4M153.8 453.1h.4M149.9 458.1h.4M145.3 460.5h.4M145.7 464.0h.4M146.8 457.8h.4M145.0 459.3h.4M150.7 462.8h.4M142.3 455.7h.4M149.0 458.4h.4M133.0 462.3h.4M137.7 463.9h.4M141.9 460.5h.4M150.8 464.0h.4M149.1 455.8h.4M137.4 454.0h.4M140.4 462.1h.4M138.8 462.1h.4M140.5 454.1h.4M143.8 457.4h.4M144.6 457.5h.4M142.9 456.4h.4M155.4 463.2h.4M138.7 453.4h.4M155.4 461.4h.4M137.3 465.1h.4M138.4 459.8h.4M144.6 462.1h.4M161.2 454.6h.4M141.1 462.3h.4M143.9 456.5h.4M123.4 466.7h.4M144.8 462.7h.4M140.6 459.6h.4M147.0 454.8h.4M152.3 462.3h.4M138.5 458.5h.4M133.6 461.7h.4M155.4 458.0h.4M140.9 461.3h.4M144.4 458.2h.4M137.9 453.5h.4M141.8 459.9h.4M137.3 464.5h.4M144.8 461.1h.4M142.0 457.6h.4M150.7 455.9h.4M133.2 459.3h.4M146.6 461.7h.4M138.0 455.2h.4M141.3 465.4h.4M139.2 458.0h.4M156.1 457.6h.4M148.7 465.0h.4M147.6 458.2h.4M150.0 458.1h.4M141.6 455.9h.4M137.8 456.4h.4M142.6 466.2h.4M138.4 462.0h.4M141.6 462.0h.4M146.9 459.4h.4M153.9 448.7h.4M147.0 467.2h.4M150.7 453.5h.4M150.5 458.6h.4M148.0 457.1h.4M147.6 461.7h.4M131.0 458.2h.4M142.6 457.9h.4M139.4 459.8h.4M154.7 461.8h.4M141.8 458.9h.4M154.7 457.2h.4M130.2 455.1h.4M148.0 453.7h.4M148.3 454.6h.4M144.2 458.2h.4M141.9 462.0h.4M147.4 456.4h.4M154.4 462.2h.4M141.3 464.0h.4M142.0 459.2h.4M145.1 463.3h.4M140.3 458.2h.4M149.1 451.7h.4M152.8 463.6h.4M147.9 456.7h.4M145.7 464.6h.4M146.2 456.6h.4M130.3 453.5h.4M137.6 461.0h.4M131.8 454.6h.4M150.8 461.6h.4M134.8 456.2h.4M144.3 458.8h.4M154.7 463.6h.4M148.7 457.0h.4M144.2 462.5h.4M138.9 463.4h.4M138.9 457.8h.4M144.8 460.0h.4M146.2 463.2h.4M142.2 459.7h.4M136.9 463.8h.4M133.0 465.1h.4M141.2 463.3h.4M139.0 463.1h.4M151.6 463.0h.4M152.6 456.6h.4M130.3 461.3h.4M144.0 456.7h.4M159.8 457.3h.4M152.4 457.6h.4M140.9 462.5h.4M149.6 458.2h.4M144.6 462.8h.4M144.1 450.7h.4M155.2 464.3h.4M137.6 458.3h.4M150.0 452.4h.4M138.8 462.2h.4M146.8 462.2h.4M142.7 461.8h.4M144.2 466.2h.4M159.6 457.9h.4M138.5 459.9h.4M154.0 459.2h.4M138.1 456.7h.4M143.1 456.5h.4M151.8 463.1h.4M143.8 461.0h.4M144.9 457.7h.4M142.9 460.3h.4M143.5 463.2h.4M148.9 457.5h.4M147.9 459.1h.4M139.1 463.1h.4M148.5 462.8h.4M145.0 451.5h.4M148.3 455.7h.4M147.8 463.2h.4M147.0 456.1h.4M140.0 460.1h.4M138.9 465.8h.4M148.2 461.2h.4M144.9 460.5h.4M151.3 459.9h.4M149.7 459.2h.4M153.7 459.8h.4M141.8 463.9h.4M141.3 455.5h.4M143.8 459.3h.4M138.1 461.0h.4M148.3 461.0h.4M157.7 459.1h.4M148.4 457.8h.4M152.5 464.1h.4M139.9 463.0h.4M149.4 460.0h.4M145.6 461.0h.4M134.4 467.0h.4M142.6 460.6h.4M138.7 461.7h.4M152.9 455.8h.4M128.6 463.6h.4M139.5 460.2h.4M144.1 455.8h.4M138.2 468.0h.4M151.9 458.5h.4M151.1 461.9h.4M146.0 456.6h.4M140.6 465.8h.4M137.3 462.6h.4M145.4 455.5h.4M146.5 457.2h.4M145.1 454.5h.4M142.4 458.2h.4M146.9 466.9h.4M140.0 452.0h.4M145.4 452.3h.4M145.4 456.6h.4M142.2 458.6h.4M137.3 460.4h.4M139.2 455.9h.4M146.5 461.7h.4M146.7 459.3h.4M149.0 454.5h.4M142.7 461.3h.4M138.5 460.9h.4M135.3 460.2h.4M143.6 454.5h.4M158.5 458.7h.4M138.2 457.0h.4M144.7 455.2h.4M138.3 459.8h.4M151.2 457.8h.4M143.1 462.9h.4M156.0 458.1h.4M145.9 469.5h.4M142.5 468.7h.4M142.0 456.9h.4M130.2 457.2h.4M143.0 462.0h.4M148.6 458.0h.4M140.5 462.1h.4M143.8 454.8h.4M138.3 462.5h.4M143.0 461.8h.4M139.2 459.6h.4M150.0 461.1h.4M136.9 456.9h.4M142.1 458.8h.4M164.0 455.5h.4M145.7 462.3h.4M142.7 455.9h.4M138.7 455.4h.4M141.4 458.0h.4M142.7 465.6h.4M152.2 457.1h.4M151.6 458.0h.4M153.4 455.7h.4M134.5 463.5h.4M141.8 458.0h.4M131.9 457.7h.4M162.6 459.6h.4M146.1 458.3h.4M137.1 457.4h.4M139.8 460.9h.4M150.7 461.0h.4M118.1 464.7h.4M135.8 460.8h.4M138.1 463.2h.4M130.1 458.8h.4M148.5 460.7h.4M136.9 456.2h.4M140.5 454.5h.4M148.7 457.8h.4M145.0 461.2h.4M150.6 459.4h.4M156.5 456.6h.4M144.5 453.5h.4M143.5 457.5h.4M152.5 462.9h.4M127.1 464.0h.4M138.7 460.1h.4M144.0 460.4h.4M131.2 458.7h.4M146.6 461.3h.4M151.1 460.3h.4M139.8 455.1h.4M134.6 457.9h.4M142.4 465.8h.4M142.9 460.7h.4M135.1 464.1h.4M129.9 462.0h.4M135.3 457.2h.4M129.6 463.1h.4M139.4 462.1h.4M146.6 462.9h.4M150.5 462.0h.4M153.7 455.5h.4M139.3 462.1h.4M135.3 465.5h.4M142.7 454.8h.4M128.9 461.4h.4M137.6 460.4h.4M147.5 456.0h.4M134.4 459.0h.4M136.3 461.9h.4M139.5 466.5h.4M140.1 459.7h.4M160.2 458.6h.4M139.2 458.5h.4M143.9 452.8h.4M143.8 459.2h.4M140.5 457.2h.4M140.9 463.3h.4M147.7 453.9h.4M146.5 455.9h.4M141.7 461.8h.4M152.1 458.3h.4M145.4 460.5h.4M140.1 462.1h.4M147.4 457.1h.4M149.0 460.5h.4M137.1 459.6h.4M143.4 457.7h.4M142.5 459.2h.4M160.3 462.4h.4M147.7 454.9h.4M141.6 471.1h.4M146.3 464.3h.4M156.3 456.7h.4M135.4 460.0h.4M148.7 458.2h.4M150.0 459.9h.4M140.8 460.5h.4M150.7 463.5h.4M141.6 465.0h.4M146.1 463.2h.4M148.5 458.8h.4M140.8 460.6h.4M142.4 457.6h.4M149.0 457.3h.4M141.2 464.9h.4M132.8 462.7h.4M134.7 457.5h.4M153.2 462.6h.4M143.7 460.3h.4M149.1 463.8h.4M140.6 458.2h.4M129.2 459.4h.4M139.4 461.5h.4M135.5 461.9h.4M143.4 459.0h.4M149.2 453.4h.4M142.9 462.7h.4M133.0 459.1h.4M140.9 468.8h.4M144.1 455.7h.4M143.7 461.4h.4M139.9 459.6h.4M141.9 462.1h.4M149.7 457.7h.4M145.6 462.9h.4M135.6 461.4h.4M134.5 456.3h.4M146.3 456.7h.4M148.4 456.9h.4M151.5 460.6h.4M145.6 461.0h.4M146.3 461.6h.4M145.0 457.1h.4M141.2 458.7h.4M135.4 459.7h.4M148.6 458.3h.4M140.3 460.8h.4M151.1 463.3h.4M141.0 461.2h.4M136.8 465.5h.4M145.9 460.4h.4M142.1 455.4h.4M136.3 462.8h.4M131.4 459.2h.4M145.7 454.3h.4M139.9 463.4h.4M145.6 459.5h.4M144.5 453.7h.4M146.8 455.3h.4M142.5 461.3h.4M144.7 456.5h.4M138.6 462.5h.4M152.8 461.5h.4M140.5 459.5h.4M151.3 460.7h.4M144.5 459.8h.4M148.4 460.1h.4M154.5 467.1h.4M138.7 458.6h.4M149.9 461.0h.4M140.7 463.3h.4M146.6 464.5h.4M142.1 460.8h.4M145.5 462.5h.4M135.9 462.8h.4M147.5 458.8h.4M138.0 461.2h.4M146.3 460.0h.4M143.9 459.2h.4M142.1 460.2h.4M148.8 451.7h.4M151.9 464.2h.4M153.6 458.6h.4M125.7 460.2h.4M151.3 460.9h.4M144.4 457.9h.4M143.4 462.3h.4M156.1 456.6h.4M154.3 462.8h.4M154.8 462.7h.4M140.8 460.1h.4M149.8 458.7h.4M130.8 458.4h.4M137.6 457.9h.4M141.1 460.6h.4M141.7 453.3h.4M137.5 462.5h.4M154.6 462.5h.4M143.5 460.3h.4M136.7 461.3h.4M135.8 459.6h.4M144.4 453.7h.4M142.0 463.6h.4M146.8 456.7h.4M139.8 456.0h.4M147.7 462.0h.4M151.1 456.9h.4M138.5 458.6h.4M148.6 459.3h.4M145.5 459.4h.4M146.3 460.0h.4M135.9 463.0h.4M151.0 461.2h.4M151.3 456.4h.4M133.1 457.8h.4M148.1 456.3h.4M170.2 451.1h.4M143.3 458.1h.4M151.2 454.9h.4M144.6 460.1h.4M133.3 459.4h.4M151.1 462.8h.4M149.0 458.5h.4M142.8 460.1h.4M141.8 458.8h.4M130.8 455.7h.4M153.7 456.0h.4M157.1 455.3h.4M140.8 459.3h.4M146.0 458.7h.4M130.1 463.9h.4M140.5 457.8h.4M146.5 456.8h.4M139.3 461.1h.4M138.9 455.1h.4M139.6 466.6h.4M144.4 464.9h.4M157.5 461.8h.4M149.5 455.4h.4M140.6 461.6h.4M147.0 459.7h.4M154.5 453.7h.4M141.7 462.2h.4M141.4 457.8h.4M149.3 456.6h.4M143.3 459.1h.4M147.4 462.3h.4M143.8 460.8h.4M142.4 463.4h.4M162.4 451.1h.4M137.6 458.7h.4M140.9 459.5h.4M147.1 457.0h.4M148.8 457.9h.4M142.5 455.9h.4M141.8 464.2h.4M143.7 462.1h.4M141.4 462.2h.4M146.6 456.2h.4M135.1 460.3h.4M141.2 459.7h.4M145.9 455.2h.4M147.3 458.7h.4M142.8 457.2h.4M148.0 456.1h.4M127.7 458.3h.4M143.0 457.9h.4M138.5 462.0h.4M147.6 463.8h.4M146.6 460.6h.4M155.4 468.8h.4M137.4 456.0h.4M131.3 457.8h.4M152.4 460.4h.4M143.9 464.4h.4M140.4 454.4h.4M148.5 461.4h.4M130.7 458.0h.4M139.2 459.3h.4M143.4 457.9h.4M142.7 458.2h.4M143.8 456.3h.4M148.8 467.1h.4M143.7 460.1h.4M138.2 458.5h.4M137.9 450.0h.4M146.2 462.3h.4M152.1 460.1h.4M141.5 454.0h.4M154.9 457.1h.4M140.6 459.5h.4M140.8 462.1h.4M142.8 452.4h.4M158.1 457.7h.4M139.1 460.5h.4M137.1 454.3h.4M150.2 460.4h.4M147.1 459.2h.4M136.3 455.3h.4M146.1 458.4h.4M149.3 457.9h.4M143.5 459.1h.4M146.7 457.5h.4M145.0 461.7h.4M141.3 452.7h.4M138.8 458.6h.4M145.6 461.8h.4M144.2 461.3h.4M138.8 459.9h.4M146.6 457.6h.4M140.0 459.2h.4M144.6 455.4h.4M155.7 461.6h.4M137.1 461.5h.4M141.7 457.4h.4M145.4 460.7h.4M140.3 453.8h.4M147.4 455.6h.4M138.8 463.9h.4M132.8 465.2h.4M135.9 457.9h.4M139.8 458.1h.4M152.0 456.5h.4M146.3 458.2h.4M131.9 460.0h.4M135.4 461.2h.4M144.1 463.1h.4M148.6 458.4h.4M136.9 460.7h.4M145.0 455.5h.4M138.8 454.0h.4M143.8 465.1h.4M142.7 462.3h.4M153.7 456.7h.4M138.4 459.6h.4M140.0 459.3h.4M152.1 465.7h.4M140.9 457.5h.4M149.2 461.3h.4M135.5 459.1h.4M136.4 463.4h.4M146.5 466.4h.4M143.6 461.7h.4M134.1 454.7h.4M142.9 457.5h.4M152.4 460.5h.4M148.3 462.4h.4M148.9 458.2h.4M138.1 457.5h.4M145.0 454.1h.4M147.3 454.2h.4M139.1 466.7h.4M146.2 457.9h.4M135.3 458.4h.4M144.8 457.7h.4M140.8 463.0h.4M155.7 455.4h.4M140.8 464.2h.4M144.0 468.1h.4M137.6 462.1h.4M151.5 451.7h.4M134.0 457.1h.4M139.9 460.6h.4M131.9 464.9h.4M134.7 458.8h.4M147.8 460.6h.4M146.6 462.8h.4M148.4 455.6h.4M148.4 458.4h.4M145.7 459.5h.4M143.6 453.2h.4M126.5 455.4h.4M143.3 461.3h.4M138.8 465.9h.4M147.0 462.5h.4M147.2 457.8h.4M140.7 461.4h.4M138.0 460.4h.4M150.3 461.2h.4M142.9 461.4h.4M138.0 455.8h.4M148.9 453.3h.4M146.5 461.7h.4M152.1 462.2h.4M139.9 458.4h.4M145.8 458.8h.4M146.5 461.2h.4M147.7 460.6h.4M130.2 458.2h.4M135.7 461.8h.4M149.6 458.6h.4M152.4 455.8h.4M142.9 458.8h.4M143.2 460.5h.4M152.4 461.3h.4M143.2 462.7h.4M146.0 456.7h.4M136.4 460.1h.4M136.9 457.8h.4M138.4 463.3h.4M147.7 461.0h.4M146.2 459.8h.4M155.4 454.9h.4M142.6 464.5h.4M138.3 457.8h.4M145.4 457.0h.4M150.4 459.4h.4M129.5 463.3h.4M152.8 460.0h.4M138.4 457.9h.4M140.1 458.0h.4M142.2 460.7h.4M140.5 461.0h.4M139.4 459.9h.4M136.7 457.9h.4M150.6 456.7h.4M144.0 456.4h.4M145.4 463.6h.4M143.3 456.0h.4M136.0 462.3h.4M151.4 457.8h.4M143.3 454.3h.4M142.9 463.5h.4M137.0 457.4h.4M146.2 461.0h.4M146.3 458.9h.4M132.3 462.9h.4M150.6 456.0h.4M148.5 460.3h.4M151.0 463.9h.4M145.2 457.7h.4M136.8 467.1h.4M144.1 461.6h.4M146.6 451.3h.4M144.2 461.6h.4M145.9 457.9h.4M142.8 462.6h.4M142.8 464.0h.4M153.0 460.4h.4M156.7 454.8h.4M139.6 458.2h.4M137.3 464.8h.4M160.2 456.4h.4M144.4 460.5h.4M140.6 459.3h.4M131.5 453.1h.4M159.0 454.5h.4M144.4 462.5h.4M148.2 458.9h.4M150.6 462.8h.4M144.2 453.4h.4M146.4 458.9h.4M151.3 464.4h.4M141.3 464.2h.4M144.1 461.0h.4M159.6 461.3h.4M141.9 467.0h.4M136.9 459.8h.4M143.1 461.9h.4M150.8 455.8h.4M132.7 461.3h.4M147.8 456.5h.4M136.1 461.8h.4M146.2 458.7h.4M139.7 466.7h.4M133.3 457.6h.4M142.5 465.5h.4M137.3 458.4h.4M137.6 459.9h.4M145.6 462.3h.4M146.9 452.7h.4M144.7 465.4h.4M157.0 451.5h.4M142.9 462.5h.4M136.7 460.8h.4M132.1 461.9h.4M142.9 462.5h.4M150.9 459.6h.4M146.1 462.1h.4M136.4 463.0h.4M143.0 463.9h.4M137.0 462.6h.4M143.7 463.9h.4M145.3 457.6h.4M150.6 456.8h.4M140.1 456.9h.4M141.7 456.9h.4M143.1 457.0h.4M141.6 459.0h.4M135.1 452.4h.4M139.3 455.9h.4M128.7 461.2h.4M135.1 462.8h.4M138.2 457.3h.4M143.8 457.3h.4M128.3 460.3h.4M137.3 460.6h.4M136.5 460.9h.4M160.3 458.1h.4M146.8 462.8h.4M146.0 457.2h.4M149.7 459.8h.4M138.7 463.3h.4M150.1 464.6h.4M145.8 466.5h.4M144.4 460.6h.4M147.6 455.7h.4M152.1 468.9h.4M130.2 451.0h.4M143.0 462.4h.4M162.0 459.7h.4M152.2 462.6h.4M145.2 460.0h.4M139.7 461.9h.4M139.2 462.7h.4M155.9 459.5h.4M146.4 460.7h.4M137.3 459.9h.4M148.4 461.6h.4M140.5 463.0h.4M138.4 461.3h.4M139.9 454.7h.4M137.7 457.5h.4M132.8 461.7h.4M147.6 456.7h.4M144.2 467.9h.4M129.7 461.6h.4M122.8 465.5h.4M147.2 461.7h.4M152.8 459.8h.4M159.9 457.1h.4M142.2 459.9h.4M144.7 459.5h.4M135.7 459.9h.4M132.1 466.9h.4M143.8 453.9h.4M138.2 452.1h.4M144.1 455.6h.4M145.3 454.4h.4M134.1 463.1h.4M149.8 454.9h.4M147.4 459.8h.4M154.7 461.3h.4M148.9 461.4h.4M139.0 464.1h.4M139.8 460.1h.4M142.9 460.8h.4M135.8 462.7h.4M147.8 456.1h.4M144.1 458.3h.4M156.2 455.1h.4M139.7 456.8h.4M140.2 460.3h.4M154.7 463.7h.4M149.2 464.1h.4M135.1 457.7h.4M138.2 464.7h.4M146.4 452.7h.4M140.3 460.2h.4M142.5 463.3h.4M140.3 456.1h.4M159.3 462.2h.4M135.1 462.5h.4M134.9 457.9h.4M142.2 456.8h.4M146.6 463.9h.4M140.8 461.3h.4M133.1 465.5h.4M141.8 462.2h.4M137.6 466.1h.4M150.9 456.3h.4M150.2 459.3h.4M138.2 457.5h.4M141.3 462.7h.4M149.9 464.9h.4M150.6 456.9h.4M137.5 459.4h.4M152.9 460.1h.4M149.2 453.8h.4M156.9 459.7h.4M149.5 458.9h.4M132.8 464.0h.4M144.2 462.3h.4M145.0 455.9h.4M146.4 464.8h.4M148.5 462.2h.4M141.9 463.4h.4M145.7 468.5h.4M141.8 461.3h.4M130.6 463.2h.4M141.6 463.2h.4M136.1 460.5h.4M146.6 457.0h.4M157.3 459.3h.4M143.7 458.5h.4M143.0 459.4h.4M142.9 462.5h.4M142.0 460.8h.4M142.5 458.9h.4M143.0 458.9h.4M149.8 463.0h.4M142.8 459.3h.4M141.1 457.5h.4M136.6 456.2h.4M140.5 459.2h.4M145.0 460.2h.4M150.8 462.1h.4M145.0 464.5h.4M145.7 457.5h.4M144.9 463.1h.4M134.3 467.1h.4M141.6 461.4h.4M147.4 456.8h.4M147.0 458.6h.4M145.2 462.3h.4M140.9 454.6h.4M149.3 461.4h.4M140.4 460.3h.4M154.6 456.0h.4M144.1 464.5h.4M135.0 461.6h.4M165.4 462.5h.4M144.2 450.1h.4M146.2 461.9h.4M126.5 461.9h.4M129.3 469.1h.4M121.0 467.0h.4M138.5 470.4h.4M157.7 463.7h.4M136.0 470.2h.4M146.1 453.0h.4M151.6 464.0h.4M132.6 459.3h.4M150.1 452.6h.4M146.1 465.3h.4M151.8 459.4h.4M138.0 461.4h.4M148.0 454.9h.4M151.6 453.5h.4M139.5 476.3h.4M142.8 463.2h.4M152.3 457.0h.4M148.2 451.2h.4M132.7 458.8h.4M139.8 459.7h.4M142.8 453.2h.4M131.9 462.2h.4M132.8 458.6h.4M138.6 466.1h.4M129.0 460.7h.4M149.7 464.0h.4M146.5 464.9h.4M157.3 462.0h.4M152.3 462.0h.4M141.5 473.4h.4M135.7 466.9h.4M132.7 473.2h.4M129.5 455.9h.4M144.4 454.1h.4M138.6 464.4h.4M172.1 462.0h.4M153.2 456.1h.4M143.2 455.0h.4M149.5 466.5h.4M119.5 464.9h.4M150.6 452.4h.4M158.2 471.9h.4M151.2 469.7h.4M141.5 465.2h.4M140.9 457.2h.4M152.3 448.7h.4M144.1 471.4h.4M123.0 473.1h.4M161.1 458.2h.4M149.2 468.1h.4M140.4 465.5h.4M154.1 468.3h.4M146.9 464.4h.4M168.9 463.8h.4M150.2 460.9h.4M120.4 459.2h.4M128.4 452.7h.4M148.7 447.7h.4M137.8 470.9h.4M130.2 468.9h.4M152.9 470.2h.4M147.6 456.7h.4M125.5 454.3h.4M139.9 462.2h.4M148.9 465.7h.4M139.4 450.8h.4M140.2 448.8h.4M162.7 461.5h.4M137.9 458.3h.4M145.6 468.6h.4M131.9 454.4h.4M154.0 474.7h.4M141.3 470.5h.4M129.8 465.5h.4M165.5 462.2h.4M154.9 462.9h.4M139.9 460.9h.4M133.8 463.0h.4M117.3 461.0h.4M148.6 461.2h.4M138.5 459.8h.4M131.6 457.0h.4M135.5 466.3h.4M132.0 461.2h.4M147.6 460.8h.4M138.9 450.1h.4M128.5 456.1h.4M159.1 474.9h.4M141.3 461.5h.4M149.6 455.8h.4M138.2 466.4h.4M128.1 446.1h.4M143.5 454.8h.4M137.7 465.4h.4M168.5 468.9h.4M161.7 459.4h.4M173.4 465.8h.4M143.5 450.6h.4M131.8 452.6h.4M132.9 474.9h.4M130.3 450.4h.4M133.3 473.3h.4M133.8 462.0h.4M150.9 464.4h.4M161.5 454.0h.4M134.8 454.2h.4M145.6 453.7h.4M127.1 464.1h.4M130.7 458.7h.4M159.4 452.3h.4M143.9 460.0h.4M156.4 464.3h.4M124.7 454.6h.4M142.2 461.7h.4M133.3 466.1h.4M125.4 447.4h.4M135.6 462.0h.4M136.3 471.8h.4M145.6 461.9h.4M169.8 460.7h.4M171.5 460.4h.4M143.5 454.5h.4M140.3 461.1h.4M127.8 472.1h.4M146.3 462.6h.4M145.1 465.8h.4M141.1 459.1h.4M148.6 456.9h.4M140.9 465.0h.4M144.0 455.7h.4M119.9 454.0h.4M139.6 458.5h.4M135.6 447.9h.4M162.5 457.7h.4M148.7 459.3h.4M142.5 467.2h.4M145.9 474.8h.4M161.6 461.1h.4M151.2 455.1h.4M151.3 461.4h.4M140.9 463.2h.4M131.4 462.9h.4M169.3 472.6h.4M152.3 467.7h.4M146.2 467.1h.4M152.6 462.4h.4M138.8 467.0h.4M120.7 456.5h.4M146.5 462.5h.4M146.2 470.3h.4M145.4 474.1h.4M155.0 461.4h.4M136.4 467.2h.4M163.2 451.7h.4M153.0 459.4h.4M155.0 468.8h.4M162.4 481.5h.4M149.6 460.7h.4M127.8 471.2h.4M157.4 459.8h.4M136.0 460.4h.4M140.0 465.0h.4M152.0 466.6h.4M143.3 457.8h.4M146.5 464.9h.4M149.2 466.7h.4M129.6 462.0h.4M140.3 447.3h.4M142.1 459.6h.4M160.8 464.6h.4M136.4 457.8h.4M157.8 477.2h.4M152.5 462.3h.4M141.0 465.8h.4M137.6 471.7h.4M138.5 449.5h.4M134.5 467.5h.4M142.5 444.8h.4M152.3 468.3h.4M150.4 463.1h.4M141.3 457.2h.4M144.3 465.0h.4M149.7 475.1h.4M130.5 466.8h.4M145.8 477.3h.4M127.0 468.4h.4M140.3 457.4h.4M126.5 466.6h.4M136.5 473.4h.4M137.3 456.6h.4M139.7 474.7h.4M154.5 459.8h.4M138.5 467.8h.4M153.9 464.8h.4M151.6 457.6h.4M135.7 453.1h.4M144.0 463.0h.4M142.6 458.3h.4M135.9 457.4h.4M142.9 464.7h.4M120.0 467.5h.4M146.7 455.2h.4M156.3 459.0h.4M146.4 463.8h.4M144.6 471.6h.4M127.0 456.8h.4M152.2 455.8h.4M149.7 466.8h.4M156.4 463.9h.4M157.5 459.8h.4M137.1 457.1h.4M141.1 474.5h.4M158.5 462.5h.4M125.3 473.5h.4M146.5 462.5h.4M133.1 463.2h.4M134.1 478.3h.4M151.8 471.0h.4M142.0 460.2h.4M145.0 452.6h.4M156.1 463.5h.4M155.1 456.7h.4M148.3 461.2h.4M148.7 456.7h.4M153.0 467.2h.4M132.6 469.2h.4M127.2 465.8h.4M142.7 478.9h.4M150.6 466.6h.4M156.7 460.8h.4M143.9 459.0h.4M155.2 467.7h.4M147.3 461.3h.4M128.3 455.8h.4M146.7 457.5h.4M155.9 462.4h.4M136.4 460.8h.4M147.8 462.2h.4M138.6 466.8h.4M140.9 457.5h.4M140.0 465.1h.4M144.1 467.8h.4M129.5 469.6h.4M153.4 449.7h.4M154.7 454.9h.4M154.3 464.5h.4M132.9 474.1h.4M150.2 456.7h.4M153.8 469.8h.4M147.8 458.8h.4M134.4 447.4h.4M137.5 461.7h.4M158.6 464.1h.4M141.7 464.8h.4M135.2 462.8h.4M134.5 460.1h.4M136.2 460.1h.4M149.4 469.2h.4M120.9 453.7h.4M127.8 446.7h.4M126.0 459.4h.4M150.4 460.5h.4M131.5 464.3h.4M122.4 458.4h.4M140.5 467.1h.4M146.7 452.6h.4M135.9 466.1h.4M136.6 458.9h.4M156.4 468.2h.4M159.0 457.9h.4M146.5 456.2h.4M137.9 462.7h.4M150.0 456.9h.4M144.3 466.5h.4M142.5 468.9h.4M155.1 458.8h.4M127.8 473.4h.4M144.3 451.1h.4M144.2 456.3h.4M170.8 464.2h.4M137.3 445.3h.4M151.6 453.5h.4M145.1 459.0h.4M141.9 464.1h.4M145.0 468.4h.4M162.5 459.8h.4M145.7 460.1h.4M131.5 465.8h.4M133.5 453.2h.4M157.8 458.9h.4M142.7 465.9h.4M152.2 461.5h.4M132.8 477.0h.4M138.8 455.5h.4M125.5 452.9h.4M158.5 464.6h.4M128.2 453.3h.4M150.0 464.0h.4M134.3 454.8h.4M144.6 462.7h.4M145.3 466.4h.4M138.1 461.1h.4M138.3 464.1h.4M137.9 452.8h.4M153.0 469.0h.4M159.3 476.4h.4M119.7 468.0h.4M141.6 474.0h.4M136.1 461.5h.4M148.3 465.1h.4M148.6 470.5h.4M146.1 455.1h.4M157.2 459.7h.4M135.5 458.3h.4M140.7 465.5h.4M166.0 463.5h.4M132.3 455.8h.4M162.8 460.1h.4M154.5 459.9h.4M132.9 466.8h.4M140.5 467.2h.4M146.3 453.9h.4M143.6 458.7h.4M156.2 454.7h.4M142.4 467.7h.4M132.7 475.2h.4M149.7 455.7h.4M126.1 460.1h.4M143.6 453.4h.4M134.6 471.3h.4M149.8 458.4h.4M137.1 467.2h.4M133.8 466.8h.4M129.4 457.0h.4M145.6 472.8h.4M148.7 465.7h.4M133.2 468.6h.4M132.4 453.0h.4M148.4 462.6h.4M149.7 453.8h.4M130.6 478.6h.4M156.6 462.9h.4M145.8 457.4h.4M141.0 450.6h.4M148.1 475.6h.4M132.2 470.1h.4M152.8 453.6h.4M161.5 463.2h.4M128.3 458.1h.4M131.5 470.4h.4M143.9 463.5h.4M122.6 450.0h.4M139.8 465.8h.4M136.0 470.3h.4M151.4 464.2h.4M166.7 470.6h.4M161.8 451.0h.4M136.3 468.3h.4M127.4 450.3h.4M159.0 466.9h.4M141.1 455.1h.4M135.5 457.8h.4M129.3 460.9h.4M133.1 475.5h.4M144.4 466.9h.4M146.5 470.4h.4M150.0 461.0h.4M148.8 453.5h.4M156.3 455.0h.4M149.5 450.4h.4M137.0 471.3h.4M149.4 459.6h.4M153.0 469.6h.4M125.8 454.3h.4M151.8 463.6h.4M146.3 453.1h.4M137.6 464.2h.4M139.6 463.6h.4M143.2 456.5h.4M147.2 475.3h.4M150.8 465.7h.4M136.1 466.4h.4M156.1 461.5h.4M150.1 462.9h.4M143.4 470.1h.4M145.9 468.9h.4M131.4 461.1h.4M154.3 465.4h.4M156.7 466.1h.4M131.7 458.5h.4M150.5 462.3h.4M157.6 467.2h.4M131.4 461.3h.4M137.8 451.6h.4M148.5 459.8h.4M154.4 467.3h.4M118.5 462.9h.4M141.1 455.1h.4M138.4 465.0h.4M130.1 446.6h.4M150.3 467.6h.4M139.9 454.8h.4M145.8 463.0h.4M152.2 471.1h.4M138.7 461.1h.4M136.4 461.6h.4M134.6 466.7h.4M144.0 464.6h.4M131.6 455.5h.4M151.6 456.1h.4M142.6 462.2h.4M139.6 461.3h.4M131.1 473.5h.4M136.8 467.4h.4M147.1 458.4h.4M150.5 455.7h.4M136.4 462.7h.4M163.6 457.8h.4M144.0 461.6h.4M147.3 460.9h.4M131.8 462.7h.4M134.7 461.6h.4M140.7 464.0h.4M161.7 462.6h.4M139.4 462.5h.4M138.2 451.3h.4M145.4 460.6h.4M153.5 465.1h.4M142.8 456.1h.4M134.5 457.0h.4M143.3 463.5h.4M137.6 441.9h.4M142.5 468.9h.4M149.4 460.2h.4M143.7 450.7h.4M151.6 464.2h.4M148.5 461.3h.4M140.2 455.5h.4M137.9 462.0h.4M155.2 462.4h.4M160.5 466.0h.4M133.1 466.1h.4M157.2 467.0h.4M149.0 465.7h.4M160.9 476.9h.4M166.1 451.7h.4M164.6 459.6h.4M168.1 476.5h.4M168.1 465.1h.4M167.0 462.9h.4M147.8 462.4h.4M152.0 471.3h.4M160.8 472.8h.4M147.6 468.7h.4M175.8 463.1h.4M156.4 464.2h.4M153.5 461.6h.4M155.0 460.7h.4M153.1 465.7h.4M155.5 468.6h.4M153.5 471.9h.4M142.6 470.7h.4M151.6 466.8h.4M160.4 463.4h.4M181.5 459.7h.4M153.7 466.4h.4M146.1 456.0h.4M154.1 468.2h.4M176.7 461.2h.4M169.1 455.9h.4M146.7 474.5h.4M166.2 470.4h.4M164.8 465.9h.4M168.6 468.0h.4M165.3 468.0h.4M165.0 459.7h.4M155.4 470.2h.4M158.0 455.3h.4M145.4 457.2h.4M154.9 471.3h.4M158.3 474.4h.4M170.2 459.3h.4M161.9 460.6h.4M165.8 469.5h.4M166.5 466.4h.4M152.3 457.6h.4M153.0 477.3h.4M142.5 464.8h.4M163.6 479.2h.4M161.0 467.0h.4M157.2 475.8h.4M157.3 461.6h.4M153.6 461.6h.4M160.8 457.1h.4M161.1 471.2h.4M156.9 462.7h.4M158.2 464.6h.4M158.1 464.8h.4M145.5 461.8h.4M173.5 460.6h.4M166.8 471.0h.4M173.7 455.5h.4M147.3 464.2h.4M162.3 474.5h.4M161.9 458.3h.4M152.1 456.6h.4M167.0 463.1h.4M156.6 449.6h.4M151.0 457.7h.4M156.1 461.9h.4M149.0 452.6h.4M157.5 468.3h.4M154.0 466.4h.4M152.6 465.3h.4M160.4 461.8h.4M171.0 469.6h.4M170.5 461.1h.4M163.3 451.6h.4M172.8 463.9h.4M148.8 466.2h.4M159.0 453.0h.4" stroke="#ec2424" stroke-width=".55" stroke-opacity=".75" fill="none"/>
</g>
<rect x="116.8" y="417.9" width="65.5" height="64.5" fill="none" stroke="#8a8a8a" stroke-width=".6"/>
<line x1="152.6" y1="417.9" x2="152.6" y2="482.4" stroke="#7a7a7a" stroke-width="0.6"/>
<line x1="116.8" y1="450.7" x2="182.3" y2="450.7" stroke="#7a7a7a" stroke-width="0.6"/>
<text x="118.6" y="422.9" font-size="3.3" text-anchor="start" fill="#333">Q2-UL(19.47%)</text>
<text x="180.8" y="422.9" font-size="3.3" text-anchor="end" fill="#333">Q2-UR(0.21%)</text>
<text x="118.6" y="480.2" font-size="3.3" text-anchor="start" fill="#333">Q2-LL(76.89%)</text>
<text x="180.8" y="480.2" font-size="3.3" text-anchor="end" fill="#333">Q2-LR(3.42%)</text>
<text x="149.55" y="416.3" font-size="3.3" text-anchor="middle" fill="#333">2-2 : P1</text>
<line x1="115.3" y1="482.4" x2="116.8" y2="482.4" stroke="#777" stroke-width="0.5"/>
<line x1="116.8" y1="482.4" x2="116.8" y2="483.9" stroke="#777" stroke-width="0.5"/>
<text x="116.8" y="487" font-size="2.8" text-anchor="middle" fill="#555">10</text>
<text x="114.6" y="483.4" font-size="2.8" text-anchor="end" fill="#555">10</text>
<line x1="115.3" y1="466.27" x2="116.8" y2="466.27" stroke="#777" stroke-width="0.5"/>
<line x1="133.18" y1="482.4" x2="133.18" y2="483.9" stroke="#777" stroke-width="0.5"/>
<text x="133.18" y="487" font-size="2.8" text-anchor="middle" fill="#555">10</text>
<text x="114.6" y="467.27" font-size="2.8" text-anchor="end" fill="#555">10</text>
<line x1="115.3" y1="450.15" x2="116.8" y2="450.15" stroke="#777" stroke-width="0.5"/>
<line x1="149.55" y1="482.4" x2="149.55" y2="483.9" stroke="#777" stroke-width="0.5"/>
<text x="149.55" y="487" font-size="2.8" text-anchor="middle" fill="#555">10</text>
<text x="114.6" y="451.15" font-size="2.8" text-anchor="end" fill="#555">10</text>
<line x1="115.3" y1="434.02" x2="116.8" y2="434.02" stroke="#777" stroke-width="0.5"/>
<line x1="165.93" y1="482.4" x2="165.93" y2="483.9" stroke="#777" stroke-width="0.5"/>
<text x="165.93" y="487" font-size="2.8" text-anchor="middle" fill="#555">10</text>
<text x="114.6" y="435.02" font-size="2.8" text-anchor="end" fill="#555">10</text>
<line x1="115.3" y1="417.9" x2="116.8" y2="417.9" stroke="#777" stroke-width="0.5"/>
<line x1="182.3" y1="482.4" x2="182.3" y2="483.9" stroke="#777" stroke-width="0.5"/>
<text x="182.3" y="487" font-size="2.8" text-anchor="middle" fill="#555">10</text>
<text x="114.6" y="418.9" font-size="2.8" text-anchor="end" fill="#555">10</text>
<text x="149.55" y="490.7" font-size="3" text-anchor="middle" fill="#444">CD206 APC-A</text>
<text x="0" y="0" font-size="3" text-anchor="middle" fill="#444" transform="translate(112.9 450.15) rotate(-90)">CD86 FITC-A</text>
<clipPath id="fc102"><rect x="199.6" y="417.9" width="65.5" height="64.5"/></clipPath>
<g clip-path="url(#fc102)">
<ellipse cx="224.5" cy="438" rx="4" ry="3.2" transform="rotate(-15 224.5 438)" fill="#e61e1e" opacity="0.75" filter="url(#fcb)"/>
<ellipse cx="224" cy="460.2" rx="6.5" ry="2.8" transform="rotate(-8 224 460.2)" fill="#e61e1e" opacity="0.95" filter="url(#fcb)"/>
<path d="M230.5 430.3h.4M227.7 434.2h.4M230.4 441.7h.4M219.9 440.7h.4M229.6 434.2h.4M228.4 448.5h.4M221.6 439.1h.4M220.0 440.9h.4M222.6 435.5h.4M214.0 444.1h.4M227.6 433.1h.4M224.5 440.6h.4M221.3 437.5h.4M218.2 438.1h.4M221.4 439.3h.4M230.5 442.5h.4M214.2 434.7h.4M224.6 437.7h.4M221.7 438.8h.4M225.2 441.8h.4M229.7 431.5h.4M227.2 438.9h.4M220.7 440.6h.4M220.9 438.9h.4M228.8 439.0h.4M224.3 436.4h.4M214.5 451.0h.4M226.1 438.1h.4M227.8 438.4h.4M224.4 439.1h.4M222.9 439.8h.4M226.0 439.7h.4M229.9 441.0h.4M240.0 431.9h.4M223.3 446.8h.4M220.8 430.4h.4M215.5 442.7h.4M230.9 436.2h.4M225.2 435.1h.4M219.3 434.1h.4M229.2 434.9h.4M216.3 440.0h.4M226.9 433.5h.4M220.5 436.2h.4M229.5 429.0h.4M227.4 437.4h.4M228.8 436.7h.4M223.8 439.7h.4M218.1 437.0h.4M230.3 438.9h.4M229.5 432.9h.4M221.2 443.1h.4M218.2 441.2h.4M227.6 440.9h.4M224.1 439.6h.4M226.3 442.4h.4M219.3 439.8h.4M229.1 436.4h.4M217.2 437.1h.4M231.6 438.1h.4M222.0 435.4h.4M223.4 437.3h.4M223.0 438.1h.4M214.2 443.8h.4M215.9 438.9h.4M219.1 445.1h.4M221.1 438.1h.4M224.2 439.2h.4M220.9 436.1h.4M222.1 438.2h.4M228.8 444.4h.4M227.9 432.8h.4M225.6 442.3h.4M218.1 437.7h.4M221.6 444.0h.4M229.5 439.0h.4M216.3 443.5h.4M217.8 441.1h.4M222.8 433.1h.4M227.0 441.2h.4M221.3 436.7h.4M221.5 433.4h.4M224.8 437.0h.4M218.9 436.6h.4M220.0 442.8h.4M230.4 439.7h.4M227.9 437.7h.4M228.1 442.6h.4M218.9 443.7h.4M222.1 436.6h.4M225.9 440.1h.4M220.6 440.0h.4M226.5 438.5h.4M232.5 432.4h.4M220.9 440.4h.4M222.0 435.4h.4M222.3 432.2h.4M221.2 437.5h.4M224.4 437.0h.4M221.7 437.4h.4M227.0 444.2h.4M225.3 444.4h.4M231.4 441.3h.4M229.1 439.7h.4M223.4 439.7h.4M223.2 434.1h.4M230.2 446.1h.4M228.6 436.6h.4M212.1 445.2h.4M224.2 445.0h.4M220.4 438.9h.4M224.2 436.7h.4M222.3 441.0h.4M217.4 431.9h.4M214.6 437.5h.4M226.4 436.9h.4M229.4 442.3h.4M223.7 442.1h.4M224.4 436.7h.4M221.6 440.9h.4M220.3 435.5h.4M229.3 440.9h.4M223.9 431.8h.4M219.9 439.3h.4M229.2 441.6h.4M231.0 437.4h.4M226.2 438.1h.4M228.7 444.8h.4M225.7 434.3h.4M226.6 434.0h.4M221.3 433.5h.4M228.6 432.2h.4M232.5 431.8h.4M224.2 444.2h.4M221.0 432.8h.4M216.4 440.2h.4M224.7 432.4h.4M223.5 440.1h.4M223.5 433.3h.4M231.0 439.3h.4M223.6 436.9h.4M206.7 436.9h.4M225.5 432.3h.4M221.9 434.1h.4M218.7 447.7h.4M225.7 439.4h.4M231.1 436.4h.4M229.9 438.5h.4M233.8 439.9h.4M235.3 434.9h.4M228.3 439.8h.4M223.2 437.8h.4M229.8 441.7h.4M227.2 433.6h.4M215.5 440.9h.4M230.7 440.0h.4M216.6 435.8h.4M231.2 439.7h.4M228.1 435.9h.4M225.0 439.0h.4M226.6 431.5h.4M217.5 439.3h.4M216.2 438.0h.4M228.5 438.1h.4M225.1 431.2h.4M226.6 443.2h.4M219.3 432.5h.4M222.8 442.7h.4M224.1 435.0h.4M226.4 431.4h.4M216.8 437.7h.4M222.1 435.5h.4M227.0 445.4h.4M216.7 442.7h.4M216.4 442.2h.4M224.7 440.3h.4M220.4 431.1h.4M229.4 440.4h.4M226.7 434.5h.4M227.0 436.9h.4M224.4 432.9h.4M234.3 430.8h.4M225.7 434.2h.4M217.6 435.7h.4M224.5 441.5h.4M231.3 433.6h.4M227.7 434.8h.4M224.8 431.7h.4M232.2 435.1h.4M224.1 431.1h.4M228.8 433.2h.4M221.9 437.3h.4M225.6 435.4h.4M228.9 442.2h.4M219.3 436.6h.4M215.4 438.2h.4M216.3 438.7h.4M219.6 440.8h.4M227.0 432.6h.4M224.3 445.6h.4M225.4 439.8h.4M221.5 441.2h.4M223.8 440.5h.4M225.6 437.4h.4M221.7 443.2h.4M221.9 435.5h.4M221.9 434.0h.4M219.8 434.6h.4M222.4 440.0h.4M225.0 437.1h.4M212.1 446.5h.4M230.4 435.6h.4M233.6 435.5h.4M223.6 440.1h.4M218.4 436.1h.4M221.2 433.1h.4M227.3 438.7h.4M227.1 438.7h.4M218.0 450.2h.4M223.2 433.2h.4M223.8 442.2h.4M229.3 432.3h.4M218.8 437.2h.4M227.0 441.2h.4M219.0 435.9h.4M222.8 447.2h.4M223.5 441.4h.4M229.7 445.9h.4M228.7 436.4h.4M217.4 440.1h.4M219.1 448.0h.4M218.9 437.7h.4M227.5 435.3h.4M220.0 439.5h.4M230.9 436.2h.4M212.6 442.0h.4M223.3 438.1h.4M224.0 439.3h.4M222.3 438.2h.4M223.9 436.7h.4M231.5 439.3h.4M220.6 439.2h.4M224.9 445.7h.4M221.8 438.6h.4M217.9 437.7h.4M230.7 438.6h.4M228.8 436.9h.4M224.7 446.4h.4M225.8 443.5h.4M230.7 437.0h.4M222.0 448.9h.4M223.5 432.7h.4M227.8 438.5h.4M219.6 444.6h.4M222.0 440.6h.4M220.6 434.3h.4M217.5 439.0h.4M223.6 440.9h.4M222.4 431.6h.4M221.5 444.1h.4M230.7 441.4h.4M226.0 437.0h.4M227.2 438.5h.4M225.1 433.6h.4M232.1 439.4h.4M223.3 438.9h.4M223.1 438.1h.4M215.3 439.0h.4M226.4 433.5h.4M223.0 439.0h.4M225.5 442.8h.4M225.4 439.8h.4M222.3 435.6h.4M231.7 442.0h.4M222.0 440.8h.4M218.3 439.4h.4M222.7 439.0h.4M220.7 443.8h.4M221.8 435.7h.4M225.7 438.9h.4M225.4 435.8h.4M228.5 437.8h.4M234.9 432.5h.4M216.9 435.0h.4M220.8 430.5h.4M226.4 433.5h.4M223.3 442.8h.4M226.5 438.2h.4M217.8 444.2h.4M223.8 436.2h.4M235.1 435.1h.4M222.6 439.9h.4M222.0 436.8h.4M228.9 437.8h.4M228.1 434.7h.4M232.9 436.2h.4M233.6 442.7h.4M226.8 439.7h.4M232.8 429.3h.4M215.6 438.6h.4M223.4 435.8h.4M231.1 438.8h.4M226.4 442.6h.4M225.8 437.7h.4M228.6 437.0h.4M226.8 442.3h.4M224.9 436.9h.4M224.8 434.0h.4M221.1 437.8h.4M224.4 445.7h.4M230.1 432.0h.4M217.6 434.8h.4M222.7 433.9h.4M224.3 444.0h.4M227.7 438.8h.4M223.7 436.6h.4M226.7 433.4h.4M222.2 439.0h.4M227.3 442.3h.4M219.9 438.6h.4M219.3 432.3h.4M230.9 450.1h.4M229.5 438.2h.4M234.2 432.2h.4M222.9 439.9h.4M227.1 438.2h.4M222.4 435.5h.4M222.0 437.3h.4M217.3 436.7h.4M219.7 430.4h.4M220.9 438.9h.4M226.1 437.7h.4M223.2 438.4h.4M225.1 437.2h.4M215.0 436.6h.4M222.6 438.9h.4M220.4 438.1h.4M220.9 436.5h.4M227.5 440.1h.4M224.4 433.8h.4M222.5 446.0h.4M213.8 440.0h.4M223.6 437.8h.4M219.7 441.1h.4M221.6 444.6h.4M221.6 434.4h.4M224.5 442.7h.4M218.0 436.4h.4M221.2 441.6h.4M230.8 441.0h.4M221.1 437.6h.4M227.6 436.9h.4M231.3 434.8h.4M221.1 438.3h.4M228.5 436.4h.4M221.4 445.7h.4M224.3 434.0h.4M224.4 437.3h.4M225.2 444.6h.4M221.8 435.7h.4M223.1 435.5h.4M221.5 441.3h.4M219.7 436.1h.4M230.0 428.2h.4M221.7 440.0h.4M231.2 436.3h.4M220.1 433.4h.4M224.8 438.9h.4M228.6 433.6h.4M228.0 437.7h.4M216.8 433.3h.4M221.8 441.5h.4M217.6 436.3h.4M233.5 442.3h.4M224.8 442.3h.4M226.8 439.4h.4M219.7 446.6h.4M230.6 439.2h.4M217.6 434.3h.4M229.9 437.5h.4M221.8 438.6h.4M228.6 438.1h.4M232.8 444.5h.4M223.0 441.5h.4M222.8 440.6h.4M221.5 444.4h.4M230.4 440.8h.4M226.0 432.0h.4M219.9 435.9h.4M215.3 438.1h.4M217.1 445.4h.4M224.3 447.1h.4M217.9 442.3h.4M220.3 436.7h.4M227.6 435.5h.4M233.3 431.9h.4M222.5 446.2h.4M211.7 434.5h.4M221.6 431.7h.4M213.6 437.9h.4M219.7 440.1h.4M224.1 442.6h.4M223.1 436.1h.4M226.9 442.8h.4M228.7 435.2h.4M225.1 435.5h.4M217.7 442.0h.4M225.2 438.9h.4M224.8 442.7h.4M219.0 440.3h.4M232.3 445.1h.4M222.3 440.2h.4M219.8 439.1h.4M220.8 439.8h.4M224.3 445.2h.4M222.8 434.1h.4M218.7 439.0h.4M223.9 433.0h.4M224.3 433.1h.4M222.6 439.7h.4M225.0 439.5h.4M229.7 447.0h.4M225.4 436.1h.4M219.1 438.2h.4M223.2 436.8h.4M226.4 432.1h.4M226.6 430.5h.4M221.4 441.7h.4M218.1 439.4h.4M223.8 434.3h.4M221.7 442.4h.4M224.5 441.1h.4M222.6 438.5h.4M223.3 434.8h.4M223.2 439.5h.4M227.9 443.9h.4M236.3 437.7h.4M216.6 439.2h.4M216.9 440.5h.4M223.2 433.7h.4M222.7 428.1h.4M235.5 444.3h.4M213.4 441.6h.4M225.9 436.4h.4M226.4 439.9h.4M227.7 443.9h.4M216.4 438.3h.4M226.6 438.5h.4M228.1 431.0h.4M218.2 436.8h.4M232.3 435.2h.4M220.4 434.6h.4M223.8 439.8h.4M226.7 441.4h.4M225.3 437.1h.4M216.7 439.0h.4M224.0 431.3h.4M228.3 431.7h.4M230.0 437.0h.4M226.6 444.9h.4M226.9 430.3h.4M223.6 440.0h.4M228.0 439.7h.4M230.2 435.9h.4M234.8 430.9h.4M222.3 427.8h.4M227.1 443.7h.4M217.8 434.5h.4M221.9 443.8h.4M229.5 438.3h.4M230.3 438.1h.4M218.1 438.5h.4M223.4 432.4h.4M222.8 435.9h.4M228.1 446.0h.4M229.0 438.9h.4M223.7 435.3h.4M220.1 444.7h.4M225.4 442.4h.4M227.6 434.5h.4M225.0 436.9h.4M223.3 436.9h.4M222.4 440.2h.4M220.0 438.6h.4M229.3 443.8h.4M222.7 438.2h.4M224.0 439.8h.4M221.2 444.0h.4M232.0 440.8h.4M222.8 434.5h.4M222.2 443.1h.4M229.2 439.8h.4M221.0 440.5h.4M234.4 434.8h.4M232.1 437.8h.4M226.5 444.0h.4M221.7 438.6h.4M221.3 436.4h.4M223.9 436.4h.4M230.6 439.6h.4M221.4 432.9h.4M224.9 433.7h.4M219.8 435.4h.4M230.1 445.4h.4M219.4 435.0h.4M225.4 439.5h.4M221.4 442.4h.4M221.2 434.7h.4M228.5 438.2h.4M228.2 430.5h.4M223.2 433.2h.4M236.8 435.1h.4M226.3 443.3h.4M225.2 441.0h.4M229.7 433.4h.4M223.1 443.2h.4M221.1 443.1h.4M226.6 434.4h.4M222.9 443.0h.4M230.2 432.9h.4M228.8 443.8h.4M226.0 437.5h.4M226.8 436.3h.4M221.0 443.1h.4M217.6 437.8h.4M221.5 445.1h.4M222.2 440.9h.4M213.6 438.2h.4M219.0 436.7h.4M222.0 450.6h.4M217.7 440.5h.4M215.8 432.1h.4M220.8 439.9h.4M228.1 436.1h.4M228.0 438.3h.4M229.5 444.7h.4M237.2 426.5h.4M230.9 445.7h.4M229.9 438.1h.4M231.2 439.7h.4M225.5 442.6h.4M225.4 433.1h.4M222.9 440.4h.4M227.1 438.7h.4M212.0 441.2h.4M223.5 429.6h.4M225.1 438.5h.4M208.4 448.6h.4M227.6 431.3h.4M228.7 436.8h.4M217.1 441.1h.4M213.3 435.4h.4M227.7 434.9h.4M220.7 440.6h.4M216.8 443.0h.4M217.2 438.9h.4M221.4 443.1h.4M230.3 428.5h.4M224.7 441.5h.4M222.3 438.3h.4M227.4 450.0h.4M226.8 438.8h.4M216.9 431.8h.4M231.6 432.2h.4M222.7 438.3h.4M219.5 433.5h.4M222.7 441.1h.4M224.4 441.2h.4M219.8 442.1h.4M231.2 441.6h.4M216.9 438.4h.4M234.1 436.9h.4M232.9 437.0h.4M213.4 435.4h.4M230.7 439.7h.4M232.7 437.4h.4M221.3 437.8h.4M229.6 433.4h.4M223.2 438.3h.4M229.2 433.8h.4M222.8 442.6h.4M223.5 439.5h.4M225.5 439.8h.4M218.0 437.4h.4M225.7 439.6h.4M222.3 437.6h.4M220.1 434.8h.4M223.9 444.6h.4M220.2 436.0h.4M220.9 439.9h.4M218.7 438.5h.4M229.5 444.2h.4M226.6 436.0h.4M226.9 438.6h.4M225.4 439.5h.4M220.8 432.0h.4M217.0 433.5h.4M226.7 432.3h.4M228.0 439.0h.4M220.6 439.5h.4M233.5 442.1h.4M219.4 445.6h.4M229.5 436.0h.4M219.3 442.7h.4M224.2 443.4h.4M214.4 443.5h.4M227.8 445.3h.4M224.9 437.2h.4M218.8 443.2h.4M219.9 432.9h.4M221.4 438.8h.4M230.3 437.1h.4M224.1 428.7h.4M223.3 441.2h.4M228.4 434.9h.4M220.6 440.6h.4M227.9 438.1h.4M225.5 437.6h.4M222.0 440.9h.4M214.1 438.9h.4M227.0 444.4h.4M220.5 438.9h.4M227.4 441.9h.4M226.2 442.1h.4M214.7 445.9h.4M223.6 436.4h.4M224.2 442.3h.4M230.4 432.5h.4M219.7 443.2h.4M215.5 442.8h.4M216.7 442.0h.4M230.3 437.7h.4M219.9 438.8h.4M242.8 436.5h.4M219.2 441.3h.4M221.7 436.8h.4M221.3 443.1h.4M221.3 443.4h.4M227.4 432.5h.4M222.9 440.9h.4M230.3 439.8h.4M234.8 446.4h.4M225.9 438.1h.4M226.6 441.8h.4M228.5 436.0h.4M225.1 437.9h.4M234.7 441.6h.4M222.9 442.8h.4M228.0 442.2h.4M216.4 428.9h.4M225.7 435.7h.4M223.0 433.1h.4M221.9 442.6h.4M221.5 438.0h.4M224.5 428.6h.4M223.8 435.0h.4M236.4 435.8h.4M224.5 444.2h.4M216.2 433.4h.4M223.3 429.1h.4M228.4 437.3h.4M221.5 436.5h.4M224.4 434.1h.4M219.8 436.7h.4M222.0 449.3h.4M229.1 434.1h.4M220.7 439.7h.4M220.2 444.0h.4M218.4 440.1h.4M221.3 435.0h.4M235.6 436.2h.4M225.8 444.0h.4M225.5 440.5h.4M221.4 439.4h.4M222.2 436.9h.4M225.7 437.6h.4M220.4 437.5h.4M229.2 436.3h.4M227.3 439.2h.4M219.3 437.7h.4M222.2 444.2h.4M227.3 444.6h.4M228.6 439.4h.4M224.8 446.1h.4M220.8 437.0h.4M220.5 439.5h.4M221.0 435.8h.4M222.4 430.4h.4M227.4 437.8h.4M217.9 447.2h.4M222.2 442.3h.4M225.4 441.3h.4M224.4 441.0h.4M227.1 436.8h.4M229.9 441.2h.4M223.7 437.1h.4M225.4 443.5h.4M225.7 436.3h.4M214.4 433.1h.4M223.0 438.0h.4M226.5 438.4h.4M225.3 438.9h.4M223.6 437.2h.4M222.3 439.3h.4M228.8 444.1h.4M225.6 444.4h.4M222.5 437.6h.4M226.0 437.9h.4M221.4 442.1h.4M227.9 433.6h.4M228.0 438.1h.4M224.8 441.0h.4M219.8 438.2h.4M221.9 434.7h.4M225.4 438.2h.4M219.7 439.4h.4M220.8 440.1h.4M223.1 439.2h.4M223.5 435.8h.4M226.7 437.2h.4M232.7 438.7h.4M220.1 436.5h.4M231.7 433.1h.4M220.0 433.1h.4M221.4 439.5h.4M225.9 431.1h.4M220.8 439.3h.4M220.4 436.1h.4M227.2 440.0h.4M220.9 446.3h.4M224.4 429.9h.4M225.4 434.4h.4M224.8 441.8h.4M213.4 440.1h.4M232.1 433.5h.4M222.0 439.4h.4M231.3 439.6h.4M219.6 434.1h.4M217.5 434.6h.4M236.6 437.3h.4M219.5 448.3h.4M229.5 434.7h.4M222.1 435.9h.4M222.9 437.5h.4M221.7 435.5h.4M225.8 435.0h.4M220.8 438.0h.4M232.2 438.0h.4M215.2 439.2h.4M221.3 437.0h.4M227.1 438.6h.4M230.6 439.5h.4M227.1 429.7h.4M220.8 440.9h.4M221.6 439.6h.4M223.3 439.1h.4M220.9 438.5h.4M221.8 446.8h.4M233.4 434.0h.4M232.9 440.8h.4M219.0 442.8h.4M227.5 442.3h.4M224.4 434.6h.4M222.0 439.3h.4M220.0 442.5h.4M233.9 438.1h.4M230.3 442.4h.4M229.4 441.7h.4M225.7 443.2h.4M219.6 437.5h.4M228.7 436.7h.4M218.1 442.6h.4M220.3 449.4h.4M223.3 434.7h.4M222.1 439.9h.4M222.5 435.8h.4M223.4 442.9h.4M216.4 443.9h.4M215.8 436.5h.4M222.7 441.9h.4M220.3 436.5h.4M224.0 437.2h.4M223.7 442.7h.4M221.3 437.2h.4M220.5 440.5h.4M224.7 437.3h.4M228.5 434.2h.4M231.9 437.3h.4M220.8 439.0h.4M229.4 432.6h.4M223.9 443.6h.4M226.6 437.6h.4M224.3 439.8h.4M229.0 433.6h.4M223.2 448.4h.4M224.9 430.8h.4M223.3 438.9h.4M212.5 437.6h.4M217.9 439.4h.4M220.1 432.4h.4M225.7 461.1h.4M222.1 461.2h.4M224.9 455.8h.4M209.1 460.1h.4M230.3 460.9h.4M231.4 464.0h.4M214.9 457.3h.4M230.8 460.7h.4M221.4 459.8h.4M224.5 462.9h.4M233.1 456.3h.4M238.2 458.0h.4M227.0 453.0h.4M215.5 463.8h.4M216.8 463.2h.4M221.3 460.9h.4M216.0 465.4h.4M219.2 455.3h.4M208.1 464.8h.4M225.0 458.8h.4M217.3 460.2h.4M219.1 457.7h.4M228.6 460.7h.4M223.4 454.0h.4M232.1 463.1h.4M227.6 459.9h.4M209.1 460.1h.4M233.4 463.6h.4M219.4 464.9h.4M231.0 458.0h.4M223.2 465.9h.4M220.7 462.7h.4M225.9 459.9h.4M220.0 468.7h.4M213.4 461.9h.4M224.3 461.2h.4M218.5 463.1h.4M228.8 454.2h.4M216.2 460.0h.4M213.8 461.4h.4M223.6 459.6h.4M219.8 464.4h.4M226.3 462.9h.4M232.1 457.0h.4M222.0 465.2h.4M224.5 464.0h.4M232.2 456.5h.4M221.9 460.8h.4M239.4 458.7h.4M224.8 462.8h.4M219.3 463.5h.4M230.7 467.8h.4M229.0 458.5h.4M215.0 460.3h.4M212.5 465.5h.4M224.7 461.7h.4M221.5 465.3h.4M220.0 453.1h.4M226.1 463.0h.4M217.1 462.3h.4M226.2 459.7h.4M223.1 457.8h.4M216.4 460.7h.4M236.7 456.2h.4M212.6 460.5h.4M228.4 461.1h.4M223.8 463.2h.4M222.9 466.1h.4M229.3 458.2h.4M229.2 458.4h.4M201.9 462.8h.4M230.6 463.9h.4M214.2 464.4h.4M227.8 458.7h.4M227.7 464.6h.4M219.8 465.2h.4M218.2 465.5h.4M227.1 458.2h.4M225.7 460.7h.4M234.4 455.5h.4M228.8 454.8h.4M222.4 463.9h.4M224.1 463.3h.4M208.8 465.5h.4M224.1 455.4h.4M226.7 463.6h.4M225.0 460.4h.4M216.3 455.5h.4M219.7 460.0h.4M221.6 459.1h.4M210.4 462.3h.4M234.0 456.5h.4M211.0 463.6h.4M221.7 464.6h.4M226.7 455.7h.4M224.1 462.7h.4M225.9 459.8h.4M214.8 465.5h.4M225.6 461.1h.4M217.9 462.2h.4M223.3 460.9h.4M220.3 461.6h.4M220.5 464.5h.4M231.6 455.7h.4M218.0 461.0h.4M226.0 464.3h.4M227.9 457.1h.4M223.7 460.4h.4M217.8 458.9h.4M221.8 456.5h.4M215.2 462.7h.4M220.0 457.3h.4M215.4 461.0h.4M219.2 456.2h.4M226.7 468.8h.4M237.6 460.3h.4M222.2 463.9h.4M234.1 466.3h.4M212.6 464.7h.4M216.0 463.6h.4M222.0 458.2h.4M216.2 462.9h.4M234.9 466.6h.4M223.5 456.2h.4M230.2 461.6h.4M227.1 457.9h.4M225.9 459.7h.4M212.1 453.3h.4M219.7 459.9h.4M222.1 459.5h.4M217.9 463.5h.4M219.3 461.8h.4M212.4 461.0h.4M222.2 452.7h.4M222.0 462.2h.4M212.1 460.2h.4M228.2 457.4h.4M218.9 463.9h.4M219.8 465.5h.4M224.1 462.8h.4M225.6 459.2h.4M223.8 457.8h.4M215.1 459.7h.4M212.8 461.3h.4M224.3 462.1h.4M218.8 460.6h.4M223.0 460.0h.4M215.9 464.8h.4M231.6 459.1h.4M230.0 462.3h.4M230.2 459.9h.4M216.8 456.0h.4M225.6 459.9h.4M222.6 457.6h.4M228.4 461.9h.4M231.9 458.2h.4M233.7 463.0h.4M221.2 460.4h.4M219.1 462.7h.4M218.7 463.7h.4M212.3 458.3h.4M213.7 458.6h.4M226.3 460.3h.4M220.9 463.9h.4M224.7 460.7h.4M225.5 461.6h.4M229.6 459.2h.4M222.4 462.6h.4M212.7 455.0h.4M228.1 458.2h.4M229.4 460.7h.4M225.3 464.7h.4M233.7 460.8h.4M228.1 458.3h.4M214.5 459.3h.4M224.8 461.5h.4M226.6 457.5h.4M216.5 458.1h.4M234.3 461.2h.4M224.9 463.9h.4M219.0 460.9h.4M230.4 453.0h.4M222.6 460.3h.4M209.6 460.7h.4M218.6 454.9h.4M230.0 459.6h.4M243.0 460.1h.4M212.7 460.8h.4M212.1 461.6h.4M221.9 462.3h.4M234.6 457.5h.4M225.9 453.4h.4M229.6 456.5h.4M229.6 460.9h.4M233.6 461.6h.4M221.3 459.8h.4M226.3 453.8h.4M229.1 462.9h.4M226.0 463.9h.4M216.6 457.7h.4M226.0 458.1h.4M225.7 459.7h.4M220.0 458.7h.4M230.1 463.2h.4M219.0 461.1h.4M221.7 463.6h.4M226.5 458.2h.4M222.7 456.5h.4M225.4 461.6h.4M222.3 459.5h.4M225.3 459.0h.4M218.2 464.4h.4M216.0 461.0h.4M215.7 455.4h.4M224.0 461.3h.4M231.2 458.4h.4M236.3 464.7h.4M218.1 462.2h.4M220.8 460.1h.4M215.2 457.6h.4M226.2 465.7h.4M228.7 460.2h.4M215.2 459.0h.4M218.1 466.8h.4M219.9 457.4h.4M233.7 459.8h.4M222.6 457.7h.4M230.5 458.0h.4M227.9 460.9h.4M214.0 464.8h.4M215.1 463.7h.4M215.1 461.7h.4M223.1 463.0h.4M218.0 459.2h.4M228.4 463.8h.4M220.9 463.4h.4M206.3 463.4h.4M229.1 461.3h.4M229.5 455.8h.4M217.0 459.8h.4M225.5 461.0h.4M218.7 460.2h.4M214.9 459.4h.4M232.9 459.4h.4M224.2 462.4h.4M224.2 461.3h.4M226.3 455.9h.4M229.7 463.1h.4M227.8 458.9h.4M222.5 456.4h.4M227.3 461.3h.4M222.5 458.8h.4M225.6 461.9h.4M221.2 468.6h.4M223.4 463.7h.4M224.3 463.2h.4M223.0 460.6h.4M239.4 464.0h.4M226.3 455.5h.4M216.7 466.6h.4M217.9 463.7h.4M226.7 459.8h.4M217.3 458.0h.4M215.8 461.0h.4M223.1 461.1h.4M214.7 460.3h.4M224.2 456.5h.4M222.0 458.0h.4M228.5 460.3h.4M231.4 460.8h.4M227.6 453.4h.4M220.0 459.1h.4M225.3 462.5h.4M227.6 459.4h.4M219.4 457.2h.4M227.4 456.7h.4M221.1 463.8h.4M222.9 460.2h.4M216.4 465.3h.4M212.8 452.8h.4M230.6 461.4h.4M220.7 463.7h.4M226.7 459.2h.4M226.1 461.4h.4M223.4 459.3h.4M231.6 457.4h.4M215.2 463.0h.4M229.9 462.8h.4M225.4 454.6h.4M226.3 461.3h.4M226.4 456.0h.4M229.3 461.2h.4M227.4 460.3h.4M216.3 463.1h.4M233.6 458.5h.4M228.2 464.9h.4M210.1 466.5h.4M226.1 455.1h.4M210.1 464.5h.4M231.6 456.4h.4M218.4 458.5h.4M216.1 464.2h.4M220.8 461.6h.4M225.1 461.6h.4M225.1 460.7h.4M227.5 463.2h.4M230.8 462.3h.4M224.8 461.0h.4M227.2 460.1h.4M226.0 460.1h.4M215.0 466.8h.4M232.5 448.7h.4M217.3 463.1h.4M233.9 460.3h.4M226.1 460.9h.4M224.2 461.3h.4M221.7 459.4h.4M228.7 454.7h.4M223.5 468.6h.4M237.1 458.3h.4M222.7 459.2h.4M224.9 452.3h.4M228.8 459.4h.4M232.2 455.8h.4M238.2 461.7h.4M223.4 462.9h.4M233.9 456.2h.4M222.7 462.7h.4M232.2 459.8h.4M220.0 460.0h.4M226.6 460.7h.4M226.6 464.4h.4M220.1 459.6h.4M223.9 460.2h.4M224.2 463.3h.4M220.6 461.3h.4M229.0 457.1h.4M223.3 453.5h.4M226.9 460.0h.4M226.4 463.7h.4M228.6 464.2h.4M240.9 451.2h.4M214.4 462.6h.4M218.7 459.6h.4M225.8 458.0h.4M226.8 460.0h.4M237.6 459.2h.4M230.3 461.8h.4M234.0 462.6h.4M225.1 458.6h.4M228.8 457.9h.4M216.1 458.5h.4M228.2 460.3h.4M220.8 455.8h.4M221.7 467.2h.4M230.5 454.5h.4M229.5 459.7h.4M219.3 462.9h.4M234.9 457.7h.4M224.5 461.4h.4M231.8 458.0h.4M221.9 457.1h.4M216.0 456.7h.4M229.3 460.5h.4M231.0 453.9h.4M221.2 456.0h.4M234.5 459.1h.4M224.7 464.2h.4M222.2 459.2h.4M221.9 461.1h.4M228.7 466.4h.4M219.1 457.6h.4M225.8 458.1h.4M223.1 455.6h.4M214.6 459.8h.4M219.6 458.2h.4M230.6 458.1h.4M230.5 459.7h.4M216.7 460.7h.4M216.5 459.6h.4M217.9 465.3h.4M221.9 456.3h.4M227.4 459.1h.4M226.1 460.9h.4M227.7 457.8h.4M229.3 463.0h.4M222.4 461.7h.4M220.1 461.1h.4M216.9 457.5h.4M233.3 453.2h.4M221.3 459.9h.4M220.9 460.4h.4M233.4 456.8h.4M230.6 462.5h.4M222.0 461.6h.4M211.0 462.3h.4M225.9 464.3h.4M230.3 460.5h.4M215.9 462.8h.4M218.2 458.0h.4M229.4 463.1h.4M216.7 461.5h.4M222.8 457.8h.4M222.9 462.4h.4M223.7 458.6h.4M226.4 452.5h.4M218.0 459.8h.4M224.7 462.7h.4M229.3 461.9h.4M222.5 460.9h.4M234.3 463.4h.4M217.3 458.9h.4M218.5 459.1h.4M229.5 452.0h.4M223.9 460.4h.4M219.6 459.7h.4M232.9 462.1h.4M238.1 458.1h.4M218.7 464.9h.4M222.6 455.6h.4M217.7 463.5h.4M224.0 464.5h.4M233.1 455.7h.4M214.0 458.4h.4M218.0 462.0h.4M227.3 456.8h.4M226.8 463.0h.4M227.8 461.6h.4M227.9 457.5h.4M230.2 463.3h.4M217.8 461.2h.4M215.9 470.1h.4M228.5 458.6h.4M211.2 459.4h.4M226.6 458.6h.4M218.0 460.8h.4M215.4 464.1h.4M230.5 458.4h.4M229.0 456.5h.4M220.8 462.8h.4M232.3 464.9h.4M215.3 461.3h.4M225.2 459.6h.4M219.4 460.9h.4M230.9 461.3h.4M215.1 464.4h.4M225.1 461.1h.4M219.2 460.6h.4M222.1 459.3h.4M220.8 463.2h.4M222.1 462.6h.4M205.3 456.2h.4M219.1 458.2h.4M218.9 460.1h.4M232.8 456.1h.4M225.3 461.0h.4M227.4 461.2h.4M227.9 459.6h.4M231.5 461.0h.4M221.4 466.0h.4M237.5 458.4h.4M225.2 456.2h.4M223.4 457.1h.4M220.0 457.0h.4M220.6 463.7h.4M238.0 458.6h.4M228.2 465.0h.4M230.1 464.9h.4M232.5 459.2h.4M235.0 462.6h.4M219.5 457.2h.4M227.4 461.4h.4M216.7 460.3h.4M218.0 465.0h.4M232.6 464.1h.4M222.1 459.9h.4M232.8 454.1h.4M217.6 461.2h.4M215.7 460.6h.4M235.3 458.6h.4M224.5 459.1h.4M239.1 456.0h.4M232.1 457.9h.4M212.9 461.9h.4M223.2 457.3h.4M224.4 458.1h.4M232.4 457.3h.4M220.1 463.2h.4M221.3 458.3h.4M220.6 465.9h.4M229.9 460.1h.4M219.3 464.5h.4M226.4 459.0h.4M223.0 458.0h.4M220.8 462.3h.4M224.9 456.6h.4M226.0 461.3h.4M217.9 463.9h.4M230.2 456.1h.4M221.5 464.6h.4M222.5 460.0h.4M222.2 460.2h.4M222.2 460.0h.4M218.7 464.3h.4M233.8 459.5h.4M217.0 467.2h.4M212.5 461.9h.4M222.1 460.4h.4M216.2 460.9h.4M232.7 462.1h.4M229.5 463.0h.4M211.2 459.9h.4M224.1 461.1h.4M216.4 454.6h.4M210.3 464.0h.4M227.2 461.6h.4M246.0 459.1h.4M218.2 459.7h.4M232.9 455.6h.4M219.2 466.2h.4M223.2 460.5h.4M222.3 455.4h.4M208.1 459.8h.4M214.8 462.9h.4M223.9 457.8h.4M231.9 460.4h.4M211.8 458.0h.4M230.3 458.5h.4M227.9 460.9h.4M217.3 461.2h.4M220.8 461.1h.4M229.7 462.8h.4M228.5 460.9h.4M226.5 461.7h.4M231.6 459.4h.4M228.4 458.7h.4M212.4 460.4h.4M225.3 464.3h.4M217.1 456.5h.4M230.9 457.5h.4M211.5 458.1h.4M228.1 460.8h.4M230.7 466.5h.4M221.6 458.0h.4M228.4 458.3h.4M222.1 464.5h.4M218.0 455.2h.4M227.0 462.5h.4M224.0 460.3h.4M225.6 460.9h.4M213.1 458.8h.4M219.6 463.7h.4M228.3 457.4h.4M222.4 463.5h.4M220.6 461.0h.4M230.4 454.5h.4M236.0 456.9h.4M221.7 453.5h.4M215.4 460.1h.4M223.7 461.3h.4M205.5 464.1h.4M220.1 461.8h.4M222.9 460.8h.4M227.3 458.2h.4M225.1 459.2h.4M234.4 461.0h.4M211.0 461.1h.4M229.4 462.5h.4M221.7 462.1h.4M226.3 456.4h.4M223.8 462.6h.4M222.5 459.1h.4M210.8 461.0h.4M220.2 460.5h.4M219.6 464.3h.4M215.0 460.1h.4M211.3 456.7h.4M221.5 459.6h.4M231.6 457.3h.4M212.2 458.0h.4M216.6 465.3h.4M226.1 460.5h.4M230.9 460.9h.4M213.6 458.2h.4M214.6 464.2h.4M218.8 461.8h.4M231.0 459.7h.4M232.9 456.6h.4M222.8 461.5h.4M220.6 462.2h.4M216.5 455.3h.4M234.4 455.3h.4M210.0 463.6h.4M225.5 460.6h.4M228.0 460.9h.4M215.7 455.3h.4M226.2 461.0h.4M234.2 465.5h.4M228.7 459.5h.4M228.6 457.9h.4M228.3 457.7h.4M228.0 454.5h.4M215.5 459.2h.4M218.4 462.2h.4M232.3 461.1h.4M229.8 458.2h.4M229.8 453.8h.4M220.4 462.1h.4M227.6 455.2h.4M221.1 457.4h.4M226.9 457.7h.4M217.9 457.9h.4M216.0 455.2h.4M224.3 456.7h.4M219.2 463.1h.4M222.4 461.9h.4M233.7 460.2h.4M218.3 462.4h.4M221.5 456.7h.4M219.5 463.0h.4M211.5 460.7h.4M225.2 457.4h.4M216.1 462.0h.4M221.6 457.1h.4M233.3 461.5h.4M225.5 459.4h.4M230.2 460.1h.4M232.7 463.9h.4M211.8 459.9h.4M228.6 459.3h.4M213.5 462.9h.4M226.0 459.3h.4M222.6 452.5h.4M219.0 462.1h.4M217.2 458.7h.4M220.4 458.5h.4M224.4 463.0h.4M216.7 461.4h.4M224.2 460.6h.4M218.4 457.0h.4M222.3 460.5h.4M225.7 458.4h.4M239.1 460.1h.4M226.8 461.4h.4M218.9 462.5h.4M231.5 455.6h.4M224.4 465.9h.4M226.4 460.8h.4M219.6 461.1h.4M229.1 456.1h.4M231.6 465.7h.4M225.0 460.5h.4M218.1 458.5h.4M213.1 457.8h.4M222.1 453.1h.4M217.5 463.1h.4M225.3 458.0h.4M228.1 455.0h.4M225.9 466.2h.4M213.7 461.7h.4M229.0 464.1h.4M222.4 461.5h.4M225.2 456.1h.4M212.5 459.0h.4M217.0 463.2h.4M221.0 457.7h.4M217.2 464.0h.4M215.3 462.1h.4M228.7 456.9h.4M232.1 459.9h.4M229.1 458.8h.4M220.6 458.1h.4M215.4 460.8h.4M224.6 463.2h.4M221.7 461.1h.4M215.4 458.6h.4M234.2 455.3h.4M230.0 462.2h.4M221.6 466.2h.4M215.8 464.3h.4M232.4 455.5h.4M227.1 465.0h.4M232.1 462.1h.4M220.8 461.6h.4M222.5 459.9h.4M221.6 455.9h.4M226.8 455.3h.4M232.4 466.6h.4M238.6 461.0h.4M217.8 459.3h.4M213.3 465.2h.4M220.8 455.6h.4M226.1 460.8h.4M214.3 462.1h.4M224.3 462.9h.4M233.5 452.9h.4M225.3 462.2h.4M223.8 459.3h.4M222.8 455.8h.4M226.1 460.5h.4M217.2 463.0h.4M216.1 461.0h.4M218.8 458.3h.4M213.6 464.2h.4M216.1 459.8h.4M233.1 457.4h.4M229.5 461.0h.4M223.8 458.3h.4M219.7 463.2h.4M204.2 461.7h.4M223.0 457.2h.4M231.3 457.0h.4M206.8 459.0h.4M221.7 461.1h.4M227.9 457.6h.4M222.0 463.3h.4M216.3 463.9h.4M226.5 466.0h.4M224.5 462.4h.4M228.4 458.6h.4M221.4 459.2h.4M225.7 460.1h.4M227.3 464.0h.4M216.9 464.6h.4M223.3 460.7h.4M226.3 466.4h.4M216.0 463.3h.4M224.9 460.6h.4M224.7 458.1h.4M224.6 456.7h.4M219.5 459.9h.4M221.7 459.0h.4M224.6 462.5h.4M223.1 462.9h.4M224.1 463.7h.4M209.2 459.5h.4M217.1 453.2h.4M217.3 461.5h.4M214.0 468.7h.4M221.4 461.1h.4M217.4 458.0h.4M216.3 463.9h.4M224.5 461.7h.4M227.5 456.4h.4M233.1 456.6h.4M217.7 457.2h.4M228.5 458.4h.4M226.0 456.9h.4M229.0 460.7h.4M227.7 457.1h.4M218.3 462.2h.4M228.1 460.2h.4M221.9 460.4h.4M222.0 458.7h.4M211.2 465.9h.4M222.6 464.6h.4M222.7 466.1h.4M223.2 454.7h.4M234.1 460.6h.4M233.8 459.2h.4M219.3 465.6h.4M221.6 459.7h.4M219.7 461.2h.4M219.6 453.9h.4M215.5 460.1h.4M218.0 465.5h.4M221.2 462.9h.4M223.5 462.3h.4M215.8 461.3h.4M220.1 464.8h.4M220.1 459.6h.4M217.8 461.5h.4M234.8 462.2h.4M216.5 463.0h.4M225.5 457.0h.4M227.5 457.6h.4M224.4 456.4h.4M213.4 461.4h.4M216.0 462.5h.4M218.3 462.8h.4M215.9 460.2h.4M223.6 461.5h.4M225.2 453.4h.4M220.5 463.1h.4M224.1 458.9h.4M222.1 464.6h.4M240.4 462.3h.4M212.8 460.3h.4M232.5 460.5h.4M219.9 454.8h.4M213.9 460.5h.4M228.0 461.4h.4M206.7 464.1h.4M228.4 462.8h.4M214.1 461.1h.4M220.4 459.2h.4M226.3 458.8h.4M222.8 463.3h.4M226.0 459.1h.4M223.8 458.4h.4M236.9 455.7h.4M228.4 460.7h.4M218.7 458.5h.4M229.6 463.1h.4M230.4 458.6h.4M214.9 458.7h.4M207.7 466.6h.4M213.7 461.5h.4M229.5 462.8h.4M218.7 455.7h.4M236.3 459.1h.4M233.9 462.0h.4M225.7 456.4h.4M222.4 464.8h.4M218.0 460.4h.4M233.0 461.2h.4M207.9 461.4h.4M237.1 459.5h.4M227.1 454.1h.4M216.0 464.2h.4M221.6 463.9h.4M225.7 459.1h.4M227.6 457.4h.4M219.7 460.5h.4M218.3 457.7h.4M222.4 458.8h.4M219.7 457.1h.4M219.9 465.2h.4M224.1 459.0h.4M223.4 459.9h.4M219.5 466.0h.4M219.4 457.0h.4M230.0 461.1h.4M212.6 461.6h.4M237.0 461.4h.4M210.8 461.4h.4M222.7 462.1h.4M222.3 458.8h.4M212.2 457.2h.4M222.4 460.0h.4M230.3 458.2h.4M228.3 459.3h.4M220.4 459.2h.4M223.3 462.9h.4M222.1 459.4h.4M225.3 456.1h.4M229.5 459.6h.4M230.3 460.4h.4M228.9 457.8h.4M217.7 460.2h.4M227.5 462.2h.4M222.6 462.1h.4M212.8 461.8h.4M225.5 463.3h.4M232.4 456.4h.4M225.4 455.3h.4M223.6 464.0h.4M214.8 456.7h.4M210.3 459.2h.4M222.2 460.9h.4M216.7 458.5h.4M230.9 457.4h.4M219.7 461.2h.4M221.9 459.1h.4M225.3 455.6h.4M219.0 457.6h.4M200.6 462.9h.4M223.8 457.0h.4M208.7 461.9h.4M211.3 465.6h.4M227.3 460.6h.4M230.1 459.8h.4M224.2 456.4h.4M216.0 460.6h.4M225.7 464.3h.4M208.6 468.0h.4M217.4 466.1h.4M227.5 460.6h.4M230.0 462.4h.4M228.0 453.9h.4M218.2 457.2h.4M217.8 461.3h.4M217.4 464.0h.4M233.1 456.7h.4M228.2 462.5h.4M218.0 456.9h.4M222.8 459.5h.4M220.6 460.5h.4M232.5 457.5h.4M230.9 455.3h.4M220.8 461.2h.4M219.0 460.9h.4M215.5 462.1h.4M223.0 461.6h.4M235.4 457.7h.4M230.0 458.8h.4M223.6 466.0h.4M225.7 460.8h.4M218.8 456.6h.4M226.1 458.8h.4M223.6 466.6h.4M216.4 454.5h.4M216.1 464.1h.4M225.1 465.5h.4M233.8 460.6h.4M223.4 463.3h.4M210.9 461.5h.4M239.8 467.9h.4M228.2 461.2h.4M227.8 460.6h.4M222.6 462.5h.4M205.2 462.8h.4M228.9 457.5h.4M233.9 461.0h.4M220.6 464.5h.4M223.8 456.4h.4M221.8 458.5h.4M228.6 459.6h.4M229.8 457.6h.4M224.5 462.6h.4M219.8 467.4h.4M221.6 458.1h.4M223.2 460.7h.4M219.3 467.1h.4M237.7 457.9h.4M223.7 459.6h.4M224.2 464.7h.4M227.1 457.0h.4M224.0 463.6h.4M218.0 461.0h.4M230.8 455.2h.4M218.2 465.8h.4M223.4 456.5h.4M224.3 461.3h.4M212.4 455.2h.4M221.9 455.3h.4M223.7 458.1h.4M223.5 457.0h.4M232.0 457.4h.4M218.7 457.5h.4M234.6 466.0h.4M235.9 459.3h.4M216.4 463.5h.4M216.8 456.5h.4M212.0 465.0h.4M222.9 465.4h.4M239.3 458.8h.4M215.8 457.7h.4M220.6 463.4h.4M221.8 458.3h.4M222.3 462.4h.4M237.3 462.8h.4M220.5 465.6h.4M221.3 463.3h.4M217.2 466.0h.4M226.0 460.9h.4M214.4 458.7h.4M215.1 459.1h.4M223.1 461.3h.4M225.5 459.4h.4M229.9 458.3h.4M215.2 459.5h.4M225.0 464.0h.4M220.9 464.7h.4M214.7 462.1h.4M227.5 461.1h.4M215.6 464.1h.4M229.6 454.7h.4M239.0 462.6h.4M223.2 462.2h.4M223.6 462.1h.4M230.5 458.8h.4M215.5 460.9h.4M220.3 462.4h.4M223.2 459.6h.4M214.1 461.6h.4M218.6 460.5h.4M221.9 464.0h.4M231.9 461.8h.4M221.7 462.3h.4M222.9 460.4h.4M215.4 464.1h.4M222.8 463.5h.4M228.3 455.0h.4M229.1 459.3h.4M219.1 463.4h.4M225.5 462.3h.4M227.4 458.9h.4M207.5 456.8h.4M221.6 460.8h.4M221.1 458.2h.4M227.1 465.3h.4M230.6 457.5h.4M221.1 458.3h.4M233.4 462.7h.4M217.5 467.9h.4M219.3 456.1h.4M225.2 454.1h.4M226.2 462.4h.4M211.9 461.8h.4M220.6 460.2h.4M211.0 469.2h.4M218.8 465.3h.4M222.3 463.4h.4M226.9 461.8h.4M229.5 467.0h.4M207.1 466.8h.4M230.9 453.6h.4M220.4 461.6h.4M218.1 460.8h.4M217.6 459.6h.4M223.3 465.4h.4M232.4 465.6h.4M221.1 460.5h.4M229.7 456.6h.4M214.5 457.7h.4M224.9 459.8h.4M218.6 465.9h.4M211.3 468.1h.4M225.8 455.0h.4M226.6 461.9h.4M215.3 463.6h.4M224.2 459.7h.4M217.6 466.2h.4M220.0 460.2h.4M223.8 462.0h.4M225.0 462.0h.4M228.5 462.8h.4M216.2 461.4h.4M222.9 458.1h.4M223.0 463.0h.4M231.7 458.6h.4M223.1 457.7h.4M224.4 460.0h.4M231.2 461.7h.4M223.7 459.8h.4M223.2 460.1h.4M227.4 455.8h.4M213.8 456.4h.4M218.8 458.0h.4M225.6 460.0h.4M223.0 455.6h.4M218.3 459.9h.4M216.4 460.9h.4M232.4 463.3h.4M227.8 458.5h.4M221.6 460.6h.4M207.3 455.8h.4M222.7 463.3h.4M214.2 459.6h.4M212.0 458.9h.4M229.3 455.9h.4M228.6 452.3h.4M225.4 462.2h.4M226.5 453.9h.4M224.9 456.5h.4M219.0 461.0h.4M213.8 460.5h.4M223.8 462.6h.4M220.8 456.6h.4M224.8 459.7h.4M219.3 460.8h.4M223.1 460.8h.4M214.6 460.0h.4M224.7 455.1h.4M216.5 469.7h.4M229.1 458.9h.4M227.4 461.1h.4M215.9 459.4h.4M216.5 458.9h.4M226.3 462.5h.4M229.1 465.7h.4M215.6 456.0h.4M220.5 458.1h.4M221.6 459.3h.4M225.2 461.3h.4M221.9 456.7h.4M219.5 463.5h.4M214.8 462.2h.4M223.0 459.7h.4M208.9 464.6h.4M223.4 465.0h.4M218.8 458.8h.4M233.3 457.5h.4M227.9 458.7h.4M221.7 464.6h.4M221.5 459.7h.4M224.2 454.1h.4M225.6 455.5h.4M208.9 466.2h.4M219.5 460.9h.4M220.8 459.8h.4M225.3 459.9h.4M216.5 460.3h.4M227.1 454.3h.4M228.8 463.0h.4M231.1 458.3h.4M231.1 456.2h.4M222.3 462.5h.4M228.0 459.3h.4M215.5 467.1h.4M243.2 468.7h.4M219.5 455.0h.4M228.0 457.9h.4M209.8 468.5h.4M219.2 465.7h.4M228.8 468.3h.4M222.2 463.3h.4M217.7 471.3h.4M214.4 467.0h.4M213.8 461.9h.4M212.8 474.0h.4M216.0 453.0h.4M215.8 460.2h.4M203.4 465.0h.4M203.6 459.1h.4M210.1 458.0h.4M230.7 458.4h.4M206.2 463.3h.4M223.8 464.2h.4M224.8 462.9h.4M215.7 453.5h.4M211.2 462.8h.4M222.7 459.5h.4M216.6 459.8h.4M221.9 461.8h.4M213.1 461.4h.4M223.5 470.2h.4M237.0 466.6h.4M207.1 467.4h.4M226.2 464.3h.4M227.4 466.3h.4M225.0 460.5h.4M230.3 462.3h.4M217.9 459.4h.4M212.1 459.3h.4M241.0 453.3h.4M212.2 453.6h.4M229.8 459.0h.4M228.6 461.2h.4M218.7 466.2h.4M225.2 464.0h.4M223.6 462.8h.4M217.8 455.1h.4M211.6 470.7h.4M208.9 453.1h.4M222.0 461.9h.4M248.3 464.1h.4M233.5 463.6h.4M229.4 457.4h.4M220.9 463.0h.4M232.3 452.4h.4M224.7 455.0h.4M216.3 463.7h.4M218.2 457.7h.4M228.5 462.7h.4M228.3 457.4h.4M226.5 464.0h.4M215.5 459.5h.4M229.9 458.7h.4M230.1 466.2h.4M212.7 465.2h.4M225.8 463.0h.4M210.1 463.7h.4M218.7 453.6h.4M227.1 455.0h.4M220.8 449.9h.4M218.7 455.6h.4M233.4 458.5h.4M226.7 463.3h.4M207.7 462.5h.4M220.5 463.6h.4M219.2 462.3h.4M214.7 454.3h.4M212.7 460.8h.4M214.5 452.8h.4M219.0 458.4h.4M207.6 468.8h.4M218.3 451.5h.4M208.7 458.6h.4M230.8 460.7h.4M232.5 467.5h.4M213.8 459.3h.4M228.0 460.4h.4M227.6 462.5h.4M216.9 467.8h.4M202.9 458.8h.4M225.3 465.3h.4M219.7 468.1h.4M238.4 460.7h.4M226.4 461.0h.4M209.1 461.1h.4M219.0 463.2h.4M217.1 460.7h.4M228.2 455.6h.4M210.0 464.0h.4M200.5 467.3h.4M237.2 452.1h.4M219.6 462.6h.4M208.9 457.8h.4M215.1 465.2h.4M226.7 466.4h.4M238.3 462.8h.4M228.1 465.4h.4M231.3 454.8h.4M236.1 470.7h.4M233.3 455.4h.4M219.0 460.4h.4M216.1 458.7h.4M206.4 455.3h.4M207.1 468.0h.4M226.4 453.2h.4M220.6 455.3h.4M209.0 453.5h.4M221.4 463.7h.4M223.6 461.6h.4M222.3 466.3h.4M215.9 478.7h.4M246.1 459.8h.4M229.8 463.7h.4M236.3 457.4h.4M201.9 460.8h.4M227.1 468.7h.4M204.7 458.2h.4M208.8 461.0h.4M228.7 459.1h.4M225.6 461.5h.4M220.5 452.4h.4M225.9 463.8h.4M222.8 463.0h.4M222.0 457.9h.4M217.9 456.3h.4M231.0 458.9h.4M226.9 468.4h.4M225.7 450.3h.4M218.9 455.3h.4M213.5 455.9h.4M233.0 468.7h.4M239.2 459.7h.4M221.0 464.7h.4M217.6 465.5h.4M218.6 458.3h.4M212.1 459.5h.4M249.7 459.4h.4M216.6 464.6h.4M225.0 468.9h.4M221.1 458.6h.4M220.5 453.2h.4M227.6 460.5h.4M226.6 472.2h.4M220.7 452.3h.4M221.4 464.5h.4M227.5 465.1h.4M214.9 465.1h.4M232.1 460.7h.4M240.6 453.0h.4M222.9 462.1h.4M211.8 453.5h.4M212.3 464.3h.4M214.4 459.4h.4M217.1 451.5h.4M221.2 461.7h.4M220.3 462.5h.4M212.4 450.5h.4M217.8 469.1h.4M223.4 447.3h.4M222.6 460.5h.4M219.5 447.2h.4M222.5 454.5h.4M233.9 456.9h.4M210.4 469.3h.4M215.3 464.3h.4M215.9 453.4h.4M224.7 458.5h.4M249.3 471.5h.4M217.9 461.6h.4M216.3 461.8h.4M236.1 469.0h.4M236.1 461.2h.4M203.2 464.1h.4M202.7 461.2h.4M206.8 463.6h.4M218.4 464.6h.4M208.4 461.0h.4M204.9 466.9h.4M221.3 460.3h.4M236.0 455.7h.4M229.0 458.3h.4M227.5 462.0h.4M212.2 462.3h.4M230.3 462.2h.4M207.8 469.7h.4M233.1 463.4h.4M234.4 471.5h.4M225.0 455.2h.4M218.8 466.7h.4M238.7 456.3h.4M227.6 457.8h.4M229.2 461.0h.4M205.2 453.7h.4M204.7 455.6h.4M215.0 467.4h.4M229.1 460.9h.4M216.8 457.2h.4M218.3 454.1h.4M209.1 454.1h.4M238.5 465.4h.4M238.3 451.9h.4M211.7 459.5h.4M221.1 458.3h.4M219.6 466.7h.4M214.6 467.4h.4M226.0 466.4h.4M206.8 467.2h.4M223.9 460.7h.4M231.9 458.4h.4M230.7 457.7h.4M231.6 471.1h.4M220.4 454.6h.4M217.1 463.6h.4M218.1 462.8h.4M218.7 469.1h.4M220.1 453.5h.4M214.0 457.0h.4M219.4 449.9h.4M214.7 458.1h.4M249.4 464.0h.4M225.3 457.6h.4M221.2 469.1h.4M213.9 457.9h.4M220.0 457.7h.4M221.3 454.8h.4M230.7 469.0h.4M218.2 460.2h.4M221.9 457.4h.4M208.2 456.3h.4M227.6 465.9h.4M220.3 459.6h.4M206.3 458.5h.4M219.1 465.1h.4M223.7 460.8h.4M219.5 456.0h.4M253.1 456.2h.4M210.8 451.4h.4M217.3 455.1h.4M222.0 466.0h.4M223.6 466.5h.4M246.7 460.4h.4M222.1 459.7h.4M229.0 472.8h.4M227.8 464.8h.4M229.7 472.5h.4M233.4 465.4h.4M219.6 472.8h.4M236.2 459.6h.4M223.4 465.6h.4M221.0 469.8h.4M211.2 460.4h.4M226.7 457.7h.4M239.5 452.6h.4M219.7 463.3h.4M212.0 457.9h.4M202.5 464.6h.4M229.2 464.9h.4M234.2 453.5h.4M204.0 462.2h.4M218.7 467.3h.4M201.5 463.4h.4M231.2 464.2h.4M215.9 452.4h.4M239.3 457.9h.4M239.6 455.8h.4M223.5 459.8h.4M209.1 453.1h.4M242.4 461.6h.4M221.6 462.7h.4M219.4 460.5h.4M221.5 466.7h.4M211.2 469.5h.4M214.1 461.5h.4M229.7 461.8h.4M231.9 465.3h.4M233.7 452.9h.4M211.8 464.7h.4M213.9 457.9h.4M207.7 470.7h.4M237.2 469.1h.4M230.3 452.9h.4M232.0 449.5h.4M221.8 453.2h.4M206.0 470.8h.4M208.4 459.2h.4M217.7 459.2h.4M209.4 451.2h.4M222.2 462.8h.4M215.3 465.2h.4M221.7 464.1h.4M223.9 451.3h.4M213.2 462.1h.4M228.7 451.2h.4M204.4 442.7h.4M205.4 452.6h.4M219.5 456.5h.4M229.2 467.4h.4M220.6 457.2h.4M218.9 460.1h.4M231.3 458.8h.4M225.1 468.3h.4M217.2 464.0h.4M226.3 465.9h.4M230.0 454.7h.4M203.1 458.7h.4M232.4 467.1h.4M223.0 461.6h.4M215.7 460.6h.4M214.5 464.4h.4M208.5 460.8h.4M229.4 474.1h.4M217.3 465.6h.4M222.9 457.2h.4M227.2 462.6h.4M222.5 453.2h.4M222.0 458.2h.4M221.8 461.6h.4M211.7 452.5h.4M235.0 462.2h.4M237.9 461.4h.4M219.6 464.3h.4M232.6 459.3h.4M227.2 465.2h.4M221.5 456.7h.4M213.3 464.9h.4M223.7 461.3h.4M234.7 456.1h.4M219.1 458.5h.4M215.0 453.5h.4M207.5 462.8h.4M218.4 458.0h.4M233.8 452.6h.4M247.7 467.4h.4M221.5 462.8h.4M234.3 452.9h.4M224.1 469.4h.4M206.7 459.0h.4M211.0 464.2h.4M228.1 464.4h.4M215.4 457.7h.4M221.3 452.8h.4M223.7 456.2h.4M202.2 454.1h.4M219.0 456.5h.4M217.0 455.6h.4M231.4 463.4h.4M221.2 456.1h.4M210.8 459.1h.4M224.0 457.6h.4M209.9 452.7h.4M218.2 457.1h.4M224.6 452.1h.4M208.6 461.7h.4M217.1 459.3h.4M234.4 463.4h.4M228.9 458.3h.4M211.8 452.1h.4M215.5 463.0h.4M239.9 457.8h.4M215.9 459.7h.4M227.4 455.9h.4M208.7 464.2h.4M208.7 470.1h.4M206.1 463.6h.4M225.0 463.1h.4M236.6 456.4h.4M215.0 461.3h.4M228.6 446.9h.4M235.8 459.0h.4M228.0 448.1h.4M203.7 450.9h.4M220.4 469.6h.4M241.7 465.0h.4M236.8 466.7h.4M214.2 466.0h.4M227.0 455.8h.4M232.5 460.2h.4M226.8 472.2h.4M224.3 455.4h.4M223.9 452.8h.4M228.4 457.1h.4M215.6 459.6h.4M224.1 468.3h.4M219.5 456.9h.4M214.8 453.9h.4M220.2 464.2h.4M203.6 459.3h.4M226.8 465.6h.4M235.5 447.0h.4M225.8 464.6h.4M221.1 467.4h.4M227.5 453.0h.4M238.7 454.2h.4M231.5 467.8h.4M220.7 459.4h.4M220.3 466.3h.4M215.6 445.7h.4M204.5 454.2h.4M227.6 463.7h.4M213.3 459.7h.4M201.4 469.6h.4M213.2 454.8h.4M217.1 460.1h.4M226.6 460.9h.4M229.0 468.6h.4M222.8 466.6h.4M212.3 460.9h.4M212.9 471.5h.4M218.5 458.2h.4M212.3 469.4h.4M231.1 456.7h.4M220.0 453.5h.4M215.4 453.8h.4M217.8 463.2h.4M240.2 464.7h.4M222.4 448.5h.4M217.3 462.9h.4M231.9 461.5h.4M234.1 457.4h.4M214.9 455.5h.4M227.6 464.4h.4M236.7 456.8h.4M228.1 456.4h.4M220.3 466.0h.4M232.0 455.3h.4M232.3 462.6h.4M203.9 450.0h.4M221.9 459.6h.4M207.1 454.2h.4M238.4 462.4h.4M215.3 468.0h.4M244.3 461.2h.4M231.1 467.0h.4M236.0 471.7h.4M239.3 454.7h.4M243.0 461.1h.4M244.9 452.7h.4M234.1 455.4h.4M244.0 465.2h.4M235.6 466.1h.4M227.4 461.5h.4M249.4 467.9h.4M232.7 458.2h.4M236.4 453.5h.4M235.0 455.2h.4M237.3 457.5h.4M248.2 467.5h.4M244.1 466.4h.4M222.1 462.8h.4M244.8 463.7h.4M233.4 465.7h.4M241.2 463.0h.4M242.2 456.0h.4M241.0 467.3h.4M240.0 458.9h.4M234.6 458.2h.4M245.0 463.4h.4M235.6 466.8h.4M233.4 469.2h.4M240.5 465.2h.4M238.3 464.9h.4M247.0 465.7h.4M249.8 459.7h.4M239.6 452.1h.4M236.1 465.4h.4M244.4 463.9h.4M233.2 458.6h.4M230.2 461.1h.4M241.6 469.4h.4M240.2 464.0h.4M231.8 469.5h.4M246.2 459.7h.4M231.7 461.3h.4M228.1 458.4h.4M231.3 467.4h.4M240.9 454.4h.4M233.2 464.8h.4M235.3 463.7h.4M230.5 466.4h.4M244.0 456.8h.4M220.7 467.2h.4M257.0 462.5h.4M227.1 455.3h.4M242.1 459.5h.4M230.9 459.2h.4M241.9 467.5h.4M245.9 465.7h.4M244.7 462.9h.4M251.6 465.5h.4M235.1 458.6h.4M246.9 469.0h.4M238.4 462.9h.4M230.7 462.5h.4M251.8 468.0h.4M228.1 462.8h.4M238.5 467.0h.4M242.5 473.2h.4M246.1 458.6h.4M245.0 457.0h.4M222.4 462.8h.4M239.9 470.3h.4M242.6 469.8h.4M232.7 453.4h.4M233.9 468.4h.4M256.6 466.8h.4M244.8 469.3h.4M230.3 460.9h.4M245.5 459.6h.4M248.8 462.9h.4M236.4 465.4h.4M244.4 469.4h.4" stroke="#ec2424" stroke-width=".55" stroke-opacity=".75" fill="none"/>
</g>
<rect x="199.6" y="417.9" width="65.5" height="64.5" fill="none" stroke="#8a8a8a" stroke-width=".6"/>
<line x1="235.4" y1="417.9" x2="235.4" y2="482.4" stroke="#7a7a7a" stroke-width="0.6"/>
<line x1="199.6" y1="450.7" x2="265.1" y2="450.7" stroke="#7a7a7a" stroke-width="0.6"/>
<text x="201.4" y="422.9" font-size="3.3" text-anchor="start" fill="#333">Q2-UL(35.12%)</text>
<text x="263.6" y="422.9" font-size="3.3" text-anchor="end" fill="#333">Q2-UR(0.15%)</text>
<text x="201.4" y="480.2" font-size="3.3" text-anchor="start" fill="#333">Q2-LL(61.18%)</text>
<text x="263.6" y="480.2" font-size="3.3" text-anchor="end" fill="#333">Q2-LR(3.60%)</text>
<text x="232.35" y="416.3" font-size="3.3" text-anchor="middle" fill="#333">2-3 : P1</text>
<line x1="198.1" y1="482.4" x2="199.6" y2="482.4" stroke="#777" stroke-width="0.5"/>
<line x1="199.6" y1="482.4" x2="199.6" y2="483.9" stroke="#777" stroke-width="0.5"/>
<text x="199.6" y="487" font-size="2.8" text-anchor="middle" fill="#555">10</text>
<text x="197.4" y="483.4" font-size="2.8" text-anchor="end" fill="#555">10</text>
<line x1="198.1" y1="466.27" x2="199.6" y2="466.27" stroke="#777" stroke-width="0.5"/>
<line x1="215.97" y1="482.4" x2="215.97" y2="483.9" stroke="#777" stroke-width="0.5"/>
<text x="215.97" y="487" font-size="2.8" text-anchor="middle" fill="#555">10</text>
<text x="197.4" y="467.27" font-size="2.8" text-anchor="end" fill="#555">10</text>
<line x1="198.1" y1="450.15" x2="199.6" y2="450.15" stroke="#777" stroke-width="0.5"/>
<line x1="232.35" y1="482.4" x2="232.35" y2="483.9" stroke="#777" stroke-width="0.5"/>
<text x="232.35" y="487" font-size="2.8" text-anchor="middle" fill="#555">10</text>
<text x="197.4" y="451.15" font-size="2.8" text-anchor="end" fill="#555">10</text>
<line x1="198.1" y1="434.02" x2="199.6" y2="434.02" stroke="#777" stroke-width="0.5"/>
<line x1="248.72" y1="482.4" x2="248.72" y2="483.9" stroke="#777" stroke-width="0.5"/>
<text x="248.72" y="487" font-size="2.8" text-anchor="middle" fill="#555">10</text>
<text x="197.4" y="435.02" font-size="2.8" text-anchor="end" fill="#555">10</text>
<line x1="198.1" y1="417.9" x2="199.6" y2="417.9" stroke="#777" stroke-width="0.5"/>
<line x1="265.1" y1="482.4" x2="265.1" y2="483.9" stroke="#777" stroke-width="0.5"/>
<text x="265.1" y="487" font-size="2.8" text-anchor="middle" fill="#555">10</text>
<text x="197.4" y="418.9" font-size="2.8" text-anchor="end" fill="#555">10</text>
<text x="232.35" y="490.7" font-size="3" text-anchor="middle" fill="#444">CD206 APC-A</text>
<text x="0" y="0" font-size="3" text-anchor="middle" fill="#444" transform="translate(195.7 450.15) rotate(-90)">CD86 FITC-A</text>
<clipPath id="fc103"><rect x="282" y="417.9" width="65.5" height="64.5"/></clipPath>
<g clip-path="url(#fc103)">
<ellipse cx="307" cy="441" rx="4.2" ry="3.2" transform="rotate(0 307 441)" fill="#e61e1e" opacity="0.35" filter="url(#fcb)"/>
<ellipse cx="308" cy="458.5" rx="6.8" ry="3" transform="rotate(-5 308 458.5)" fill="#e61e1e" opacity="0.95" filter="url(#fcb)"/>
<path d="M298.1 436.8h.4M304.4 438.6h.4M307.7 434.9h.4M304.3 442.1h.4M298.5 433.3h.4M319.6 435.3h.4M309.9 445.9h.4M310.2 447.5h.4M300.8 443.1h.4M302.6 441.0h.4M310.4 443.5h.4M305.8 441.7h.4M311.7 437.0h.4M316.3 442.0h.4M299.1 441.1h.4M299.3 448.2h.4M312.1 436.4h.4M307.6 448.7h.4M310.5 440.4h.4M316.3 450.8h.4M313.2 435.2h.4M295.6 440.3h.4M310.7 444.0h.4M315.1 437.4h.4M306.4 447.5h.4M301.3 440.0h.4M301.5 445.6h.4M308.0 442.4h.4M301.9 436.3h.4M306.2 444.9h.4M300.1 446.3h.4M307.7 437.7h.4M301.2 444.1h.4M295.5 442.8h.4M311.9 444.2h.4M301.3 437.7h.4M303.0 436.8h.4M306.2 438.2h.4M304.1 436.6h.4M306.6 436.0h.4M309.6 435.9h.4M317.7 446.3h.4M313.7 445.7h.4M309.4 447.4h.4M302.6 447.4h.4M307.6 443.9h.4M306.8 434.3h.4M316.5 439.0h.4M305.4 448.4h.4M294.5 445.6h.4M303.4 444.6h.4M304.1 445.6h.4M294.7 450.7h.4M303.9 440.5h.4M304.9 442.2h.4M308.0 440.7h.4M303.6 440.5h.4M309.5 442.0h.4M300.0 439.8h.4M306.3 434.1h.4M309.9 440.1h.4M304.9 443.0h.4M301.0 442.3h.4M302.7 444.0h.4M313.6 446.3h.4M315.2 437.8h.4M308.9 436.8h.4M316.9 441.8h.4M306.8 442.8h.4M311.4 439.9h.4M305.4 438.4h.4M312.4 439.2h.4M308.3 434.7h.4M303.3 436.7h.4M305.9 441.2h.4M316.8 435.9h.4M310.2 439.1h.4M297.9 440.7h.4M303.5 444.4h.4M306.2 448.1h.4M304.5 448.0h.4M309.7 443.0h.4M300.5 438.9h.4M306.6 443.0h.4M307.4 443.3h.4M311.0 431.0h.4M297.4 432.5h.4M306.0 442.0h.4M295.2 435.6h.4M311.0 443.9h.4M309.4 445.0h.4M307.1 442.8h.4M310.0 441.8h.4M296.0 441.1h.4M309.0 441.5h.4M302.2 438.1h.4M316.1 439.6h.4M308.8 445.7h.4M317.8 443.8h.4M317.8 445.3h.4M303.2 439.1h.4M302.4 439.6h.4M302.0 437.3h.4M309.5 441.4h.4M314.6 432.1h.4M303.6 448.0h.4M304.4 435.9h.4M295.3 439.0h.4M315.3 443.8h.4M309.1 444.6h.4M325.2 439.9h.4M303.4 443.2h.4M305.7 441.6h.4M303.1 445.0h.4M308.6 442.5h.4M306.2 442.2h.4M311.2 433.3h.4M306.4 442.6h.4M305.9 449.4h.4M301.6 446.1h.4M303.7 434.4h.4M302.7 446.9h.4M306.5 452.6h.4M303.2 440.9h.4M310.0 435.2h.4M313.9 441.3h.4M301.6 442.3h.4M310.5 443.2h.4M308.7 439.2h.4M300.8 443.8h.4M299.6 441.8h.4M318.0 441.7h.4M313.9 437.1h.4M295.8 441.7h.4M302.0 440.1h.4M309.2 439.3h.4M305.3 437.1h.4M300.4 448.1h.4M309.1 439.7h.4M305.3 448.7h.4M317.6 438.0h.4M314.9 429.8h.4M297.2 437.5h.4M305.6 440.5h.4M302.9 442.0h.4M294.3 444.8h.4M301.9 441.4h.4M307.6 439.4h.4M298.0 439.8h.4M308.3 435.2h.4M305.9 437.7h.4M306.9 446.4h.4M317.1 444.6h.4M301.6 448.1h.4M302.0 442.8h.4M311.4 450.5h.4M303.9 435.0h.4M310.2 444.7h.4M301.8 444.2h.4M309.5 445.6h.4M316.9 443.3h.4M300.8 444.0h.4M302.3 444.7h.4M311.1 439.9h.4M306.9 434.8h.4M301.6 441.6h.4M303.0 445.3h.4M303.2 440.2h.4M308.5 441.3h.4M306.8 441.3h.4M299.2 454.6h.4M301.8 441.1h.4M299.9 443.5h.4M302.8 439.6h.4M299.2 435.2h.4M313.6 441.8h.4M312.2 444.6h.4M320.4 435.9h.4M310.9 440.3h.4M314.6 437.3h.4M296.1 445.3h.4M306.6 442.9h.4M298.6 445.1h.4M322.6 440.8h.4M313.5 443.1h.4M314.2 448.2h.4M297.6 440.5h.4M295.6 439.5h.4M305.2 440.1h.4M306.5 441.1h.4M288.6 449.6h.4M303.7 441.6h.4M302.1 449.2h.4M296.6 438.5h.4M310.9 439.6h.4M302.2 430.2h.4M299.7 441.2h.4M308.9 449.7h.4M305.1 435.3h.4M305.4 442.6h.4M304.7 443.2h.4M310.3 444.1h.4M296.3 449.0h.4M314.8 446.7h.4M304.8 436.3h.4M303.3 442.8h.4M311.0 443.6h.4M303.2 441.1h.4M311.4 440.6h.4M305.9 440.2h.4M313.7 444.0h.4M297.2 441.7h.4M299.3 447.5h.4M304.1 439.2h.4M302.9 439.0h.4M309.8 445.2h.4M308.2 443.0h.4M311.4 440.6h.4M304.5 440.4h.4M299.0 440.1h.4M307.9 439.5h.4M315.6 440.1h.4M301.4 440.4h.4M314.0 447.2h.4M308.7 442.4h.4M304.9 440.2h.4M317.8 439.0h.4M309.6 428.7h.4M304.2 431.2h.4M318.6 441.1h.4M293.6 439.1h.4M304.0 445.3h.4M307.1 439.0h.4M302.8 438.4h.4M297.3 445.2h.4M308.2 444.3h.4M301.0 441.2h.4M315.4 449.4h.4M297.9 442.7h.4M306.1 446.5h.4M302.1 446.3h.4M314.0 444.9h.4M308.7 444.8h.4M310.6 440.5h.4M299.9 445.8h.4M307.7 440.2h.4M300.0 443.7h.4M303.5 440.5h.4M314.9 441.6h.4M291.5 446.5h.4M314.1 438.3h.4M315.5 445.0h.4M296.2 442.8h.4M308.7 441.6h.4M302.4 431.6h.4M297.1 431.1h.4M309.4 442.7h.4M312.2 436.3h.4M307.9 440.9h.4M302.9 440.1h.4M312.1 447.8h.4M312.4 439.0h.4M304.0 438.9h.4M306.4 445.1h.4M307.6 441.8h.4M312.3 446.1h.4M298.6 450.6h.4M298.3 440.4h.4M299.2 450.8h.4M307.7 443.4h.4M297.1 436.1h.4M310.5 440.7h.4M312.4 451.6h.4M303.1 442.0h.4M308.2 444.8h.4M310.0 437.3h.4M305.3 437.6h.4M308.8 440.9h.4M293.5 445.7h.4M310.8 442.7h.4M287.2 440.3h.4M302.7 436.4h.4M311.6 437.7h.4M296.7 438.2h.4M306.3 446.4h.4M295.6 441.6h.4M309.8 441.3h.4M306.4 440.7h.4M312.0 436.9h.4M309.0 440.5h.4M306.5 439.2h.4M307.7 442.2h.4M294.9 445.5h.4M317.0 440.2h.4M303.7 444.7h.4M309.6 438.7h.4M297.9 439.7h.4M306.2 446.5h.4M301.6 439.0h.4M308.9 433.4h.4M300.8 443.3h.4M306.8 440.4h.4M302.1 440.3h.4M301.3 438.9h.4M304.7 436.0h.4M304.8 447.5h.4M310.0 438.3h.4M311.7 443.7h.4M307.9 444.8h.4M298.5 441.6h.4M307.4 442.5h.4M307.0 437.0h.4M309.0 447.4h.4M312.0 442.9h.4M309.3 441.4h.4M305.2 443.9h.4M315.4 438.4h.4M301.9 452.5h.4M301.5 441.8h.4M312.9 432.9h.4M300.3 436.2h.4M297.6 444.8h.4M312.1 449.4h.4M308.7 433.7h.4M302.8 444.9h.4M308.0 440.5h.4M307.7 443.6h.4M311.3 449.1h.4M303.6 431.5h.4M308.6 439.6h.4M310.5 449.9h.4M305.2 438.2h.4M312.7 444.1h.4M303.4 442.4h.4M304.9 441.9h.4M312.5 431.8h.4M308.2 446.4h.4M305.7 434.2h.4M304.6 443.1h.4M307.0 442.1h.4M311.8 441.2h.4M300.5 439.3h.4M304.9 433.2h.4M307.2 449.1h.4M302.2 440.9h.4M304.6 441.0h.4M309.7 450.8h.4M311.2 438.2h.4M298.7 444.3h.4M299.9 441.9h.4M298.6 442.7h.4M304.0 438.5h.4M297.3 444.9h.4M306.6 443.5h.4M304.5 445.2h.4M302.9 436.3h.4M321.6 439.2h.4M315.3 442.9h.4M310.1 444.1h.4M309.8 447.7h.4M309.0 447.8h.4M313.2 435.7h.4M310.4 435.0h.4M303.7 446.1h.4M311.9 439.7h.4M294.3 445.4h.4M310.6 442.1h.4M316.0 444.7h.4M316.3 445.1h.4M310.6 439.5h.4M300.6 450.2h.4M304.7 449.2h.4M310.7 433.1h.4M312.5 442.7h.4M306.3 438.2h.4M315.1 446.3h.4M313.3 440.6h.4M307.2 435.0h.4M308.0 446.4h.4M309.1 436.6h.4M297.4 441.2h.4M312.5 443.4h.4M306.6 438.5h.4M311.3 442.8h.4M317.7 435.7h.4M303.5 437.2h.4M307.6 435.1h.4M308.3 440.8h.4M317.4 437.7h.4M296.2 439.8h.4M310.2 437.8h.4M313.2 443.2h.4M305.8 442.3h.4M305.8 442.7h.4M307.6 446.5h.4M306.7 443.5h.4M305.6 433.7h.4M310.5 453.4h.4M305.6 441.9h.4M304.0 440.2h.4M303.6 434.9h.4M313.3 433.8h.4M297.0 438.8h.4M307.1 436.4h.4M310.6 442.5h.4M307.0 451.5h.4M305.1 440.7h.4M321.4 440.1h.4M310.3 444.1h.4M315.0 443.7h.4M305.6 438.6h.4M314.1 441.4h.4M310.1 439.8h.4M315.5 437.8h.4M301.2 442.1h.4M316.5 430.9h.4M309.9 445.5h.4M305.9 443.5h.4M299.9 450.6h.4M312.0 444.5h.4M316.7 442.8h.4M306.8 436.4h.4M317.5 445.1h.4M302.7 445.2h.4M304.9 444.5h.4M306.4 438.3h.4M312.8 442.9h.4M312.9 441.3h.4M305.5 437.6h.4M314.1 446.6h.4M300.1 439.2h.4M300.1 438.7h.4M314.4 440.7h.4M312.3 443.6h.4M314.8 437.7h.4M305.1 443.7h.4M296.7 447.5h.4M317.2 442.0h.4M311.2 442.4h.4M300.4 448.0h.4M305.1 441.6h.4M300.0 440.1h.4M305.4 448.7h.4M316.4 443.3h.4M319.6 437.3h.4M306.6 436.4h.4M309.2 444.8h.4M304.6 440.9h.4M313.6 444.9h.4M297.8 441.0h.4M294.2 439.3h.4M301.2 444.3h.4M313.3 434.3h.4M302.8 442.6h.4M321.2 438.2h.4M319.7 430.9h.4M306.7 441.9h.4M303.4 450.2h.4M298.5 444.0h.4M309.6 440.4h.4M306.2 434.1h.4M313.8 449.3h.4M310.7 431.1h.4M310.8 445.3h.4M313.3 447.3h.4M309.2 449.9h.4M310.2 440.8h.4M296.9 437.3h.4M312.2 444.3h.4M313.3 439.2h.4M308.3 442.3h.4M301.3 449.7h.4M309.2 433.1h.4M310.8 442.9h.4M313.2 446.0h.4M303.4 443.9h.4M314.0 435.7h.4M300.9 440.4h.4M306.8 440.3h.4M306.7 446.2h.4M294.2 442.3h.4M310.0 448.7h.4M297.7 439.1h.4M317.8 441.4h.4M308.6 436.2h.4M300.5 443.9h.4M309.7 445.1h.4M301.0 436.5h.4M310.7 448.4h.4M305.7 438.2h.4M309.5 437.4h.4M313.3 437.9h.4M317.6 441.2h.4M304.6 442.3h.4M306.8 440.4h.4M300.3 444.9h.4M308.3 446.9h.4M312.3 442.2h.4M314.2 438.9h.4M295.6 445.4h.4M314.9 435.3h.4M299.5 446.6h.4M306.2 441.2h.4M306.7 440.7h.4M297.3 450.7h.4M295.2 442.3h.4M305.1 439.3h.4M308.4 439.7h.4M307.9 441.9h.4M297.9 439.1h.4M304.3 445.9h.4M310.5 441.3h.4M307.7 441.3h.4M304.1 446.2h.4M314.6 437.0h.4M306.0 434.1h.4M301.1 446.7h.4M303.4 436.4h.4M303.6 445.2h.4M310.9 444.2h.4M311.5 445.1h.4M316.3 438.8h.4M313.0 439.1h.4M297.5 439.0h.4M308.2 441.9h.4M307.0 441.6h.4M305.8 447.8h.4M303.6 443.0h.4M303.0 439.4h.4M297.8 444.0h.4M302.9 436.9h.4M308.5 446.2h.4M311.2 438.7h.4M303.8 435.8h.4M301.5 440.8h.4M301.3 438.7h.4M302.1 445.3h.4M308.4 442.9h.4M307.9 438.7h.4M309.0 447.8h.4M320.8 438.7h.4M296.8 445.5h.4M306.1 439.7h.4M304.6 449.5h.4M315.1 439.7h.4M308.7 438.7h.4M305.6 439.8h.4M308.4 442.7h.4M312.7 434.0h.4M306.8 444.4h.4M324.0 455.5h.4M302.4 452.7h.4M315.5 454.4h.4M307.4 458.2h.4M313.9 454.8h.4M312.9 459.1h.4M306.8 461.9h.4M310.4 456.5h.4M302.4 461.8h.4M311.0 458.2h.4M314.3 460.2h.4M303.1 460.3h.4M306.3 462.3h.4M303.0 458.5h.4M307.0 458.5h.4M299.6 459.3h.4M319.9 456.2h.4M329.3 455.2h.4M300.4 461.7h.4M293.5 459.8h.4M308.4 460.1h.4M295.4 461.3h.4M320.8 457.9h.4M309.5 454.9h.4M312.8 455.1h.4M304.8 460.2h.4M312.9 460.4h.4M311.9 460.5h.4M309.1 465.2h.4M299.5 460.6h.4M322.6 459.6h.4M312.4 456.9h.4M313.7 459.4h.4M316.5 457.7h.4M311.9 456.2h.4M314.5 457.1h.4M297.9 460.1h.4M307.5 454.5h.4M313.9 457.0h.4M291.8 468.8h.4M302.2 462.5h.4M305.1 451.4h.4M322.1 456.2h.4M296.9 456.9h.4M297.2 461.3h.4M314.8 456.3h.4M305.4 460.4h.4M316.0 464.5h.4M320.9 458.8h.4M309.1 456.0h.4M305.7 454.4h.4M308.2 458.1h.4M299.1 454.3h.4M308.3 461.6h.4M313.7 453.5h.4M312.3 464.5h.4M311.4 457.3h.4M316.1 456.2h.4M300.4 456.3h.4M316.6 453.4h.4M306.4 454.8h.4M310.7 460.4h.4M302.3 452.5h.4M308.9 462.1h.4M308.3 460.6h.4M314.8 457.3h.4M308.7 460.1h.4M302.8 461.1h.4M311.1 458.0h.4M307.0 456.8h.4M307.7 455.2h.4M306.9 458.8h.4M305.7 455.9h.4M306.7 460.4h.4M307.3 454.5h.4M305.8 459.4h.4M309.6 457.0h.4M310.0 459.3h.4M311.6 461.9h.4M304.0 457.4h.4M305.3 453.0h.4M321.4 452.6h.4M315.2 459.0h.4M312.0 456.1h.4M303.9 459.2h.4M298.0 461.0h.4M303.5 461.7h.4M299.9 464.0h.4M304.6 456.1h.4M300.3 464.4h.4M307.6 457.7h.4M315.1 456.4h.4M312.7 461.5h.4M308.7 465.7h.4M312.9 458.9h.4M303.2 455.4h.4M311.1 458.9h.4M314.6 459.2h.4M293.8 452.8h.4M312.0 457.5h.4M306.3 463.1h.4M320.3 463.8h.4M314.2 457.8h.4M299.2 461.9h.4M322.6 458.1h.4M307.3 460.2h.4M306.6 457.8h.4M302.5 456.5h.4M309.3 458.3h.4M302.9 456.7h.4M317.2 456.3h.4M298.5 462.2h.4M297.8 464.2h.4M297.2 459.2h.4M304.9 463.0h.4M312.4 462.7h.4M312.3 461.7h.4M293.2 463.6h.4M315.4 462.9h.4M318.6 453.8h.4M314.4 459.9h.4M305.9 458.1h.4M302.1 458.1h.4M314.9 452.3h.4M299.9 454.1h.4M317.3 461.8h.4M294.5 456.0h.4M308.0 458.5h.4M283.4 464.0h.4M301.3 456.9h.4M313.1 460.1h.4M317.7 457.8h.4M295.4 467.8h.4M305.1 453.6h.4M305.9 462.8h.4M311.8 464.0h.4M314.6 454.6h.4M301.7 459.2h.4M305.9 459.0h.4M317.7 457.6h.4M295.1 466.1h.4M309.5 453.5h.4M305.0 460.3h.4M308.2 456.4h.4M290.1 458.1h.4M300.9 462.8h.4M311.4 460.7h.4M298.5 464.3h.4M297.5 458.5h.4M312.0 459.9h.4M310.6 464.6h.4M310.4 453.1h.4M310.0 459.7h.4M316.7 459.3h.4M301.3 455.3h.4M300.9 458.2h.4M313.7 455.2h.4M319.1 460.2h.4M322.4 460.5h.4M311.8 457.7h.4M308.5 462.6h.4M302.7 456.6h.4M325.5 460.6h.4M310.9 457.9h.4M304.6 458.7h.4M307.1 457.8h.4M308.7 463.3h.4M306.2 457.9h.4M303.1 457.1h.4M302.7 457.3h.4M299.2 456.5h.4M294.9 459.4h.4M301.8 457.9h.4M311.9 456.6h.4M295.7 458.4h.4M310.4 456.4h.4M305.9 456.9h.4M316.7 457.1h.4M320.3 462.6h.4M315.2 458.6h.4M307.1 457.1h.4M299.9 458.1h.4M317.1 453.0h.4M309.5 458.5h.4M323.6 459.6h.4M299.5 458.6h.4M307.0 452.1h.4M316.0 457.8h.4M302.6 459.3h.4M306.3 460.1h.4M304.3 456.2h.4M301.1 459.2h.4M305.7 459.2h.4M311.6 461.3h.4M309.8 460.1h.4M314.6 461.6h.4M319.8 458.6h.4M305.6 455.8h.4M306.7 461.7h.4M308.5 453.4h.4M313.9 460.5h.4M299.1 456.4h.4M308.3 460.8h.4M306.1 462.4h.4M309.9 459.6h.4M304.7 454.1h.4M314.5 460.1h.4M309.1 458.7h.4M296.5 458.2h.4M306.1 452.5h.4M315.2 457.3h.4M308.4 458.4h.4M314.0 462.4h.4M295.2 455.0h.4M313.2 459.2h.4M308.7 458.2h.4M314.2 455.9h.4M306.3 458.1h.4M312.0 459.1h.4M303.4 466.7h.4M297.6 457.0h.4M303.3 459.0h.4M317.2 461.3h.4M314.8 455.8h.4M305.9 460.5h.4M294.1 457.9h.4M301.2 456.5h.4M305.6 458.6h.4M296.5 453.2h.4M318.5 462.6h.4M306.8 459.0h.4M311.7 449.9h.4M310.1 459.2h.4M301.5 458.9h.4M304.6 461.1h.4M317.2 459.4h.4M308.2 459.0h.4M304.7 465.5h.4M298.6 453.4h.4M310.2 460.0h.4M306.0 457.6h.4M310.5 455.9h.4M317.3 454.1h.4M309.8 458.1h.4M307.8 455.0h.4M301.8 466.6h.4M317.7 458.3h.4M299.1 461.9h.4M307.7 459.9h.4M312.3 460.2h.4M314.3 456.2h.4M316.6 459.2h.4M318.2 455.0h.4M304.9 460.9h.4M302.8 455.7h.4M307.4 458.5h.4M304.3 464.3h.4M302.7 463.0h.4M324.0 451.9h.4M300.3 462.2h.4M314.4 459.1h.4M301.0 460.6h.4M306.0 462.8h.4M317.6 457.7h.4M300.0 457.7h.4M303.5 458.1h.4M306.4 455.0h.4M307.6 450.1h.4M307.6 455.8h.4M305.9 458.7h.4M312.9 457.7h.4M317.1 456.3h.4M314.9 456.6h.4M329.8 453.1h.4M314.6 459.6h.4M303.3 465.8h.4M293.9 458.2h.4M305.5 459.3h.4M296.3 456.2h.4M298.3 460.7h.4M319.7 456.1h.4M313.6 462.6h.4M317.7 463.0h.4M309.9 461.1h.4M307.2 457.8h.4M295.0 458.2h.4M304.8 460.5h.4M311.7 455.8h.4M300.0 460.6h.4M306.6 458.6h.4M305.2 459.2h.4M311.9 452.3h.4M312.6 450.4h.4M320.1 456.9h.4M295.2 457.9h.4M308.6 456.4h.4M306.7 464.7h.4M313.6 454.7h.4M304.0 454.9h.4M311.4 453.6h.4M291.4 464.6h.4M299.6 456.5h.4M307.4 463.7h.4M303.9 459.0h.4M330.8 455.9h.4M317.1 457.0h.4M309.7 467.4h.4M322.5 454.5h.4M310.7 453.0h.4M321.9 457.4h.4M312.2 456.1h.4M306.7 461.8h.4M296.2 455.9h.4M308.4 455.7h.4M314.5 458.0h.4M303.0 457.9h.4M302.6 454.4h.4M308.7 451.1h.4M308.5 457.4h.4M303.6 454.0h.4M314.0 462.2h.4M321.7 460.8h.4M318.3 453.4h.4M313.7 454.2h.4M316.4 460.7h.4M314.5 463.4h.4M314.4 455.7h.4M311.2 456.8h.4M305.7 460.6h.4M295.0 459.6h.4M306.2 461.4h.4M303.9 461.9h.4M306.3 454.3h.4M310.9 457.8h.4M300.7 457.0h.4M317.8 457.5h.4M314.9 459.3h.4M309.3 457.8h.4M322.2 455.4h.4M307.2 455.0h.4M294.2 460.5h.4M309.7 455.8h.4M314.0 453.0h.4M323.1 455.9h.4M310.5 462.6h.4M311.9 461.5h.4M306.6 460.9h.4M306.7 463.5h.4M303.1 463.6h.4M323.1 457.6h.4M308.3 460.1h.4M311.0 454.9h.4M308.8 462.6h.4M303.4 464.3h.4M308.1 463.0h.4M306.9 455.8h.4M292.5 456.8h.4M314.6 464.0h.4M302.0 459.0h.4M296.6 462.8h.4M306.4 463.9h.4M322.5 453.0h.4M312.2 453.1h.4M321.0 467.0h.4M309.8 457.5h.4M314.5 458.5h.4M310.5 457.6h.4M306.4 460.5h.4M313.5 455.3h.4M314.3 460.2h.4M302.1 459.3h.4M302.3 456.9h.4M293.6 459.8h.4M297.3 458.2h.4M309.9 462.4h.4M314.2 456.6h.4M303.7 458.5h.4M304.0 456.7h.4M305.8 463.3h.4M313.4 461.4h.4M315.0 457.1h.4M299.0 462.4h.4M302.8 461.3h.4M308.3 461.7h.4M289.4 460.1h.4M303.2 459.4h.4M309.9 456.6h.4M315.1 462.6h.4M310.8 457.6h.4M306.3 457.9h.4M297.1 456.8h.4M301.1 460.5h.4M316.8 457.4h.4M306.4 451.8h.4M296.1 461.3h.4M314.6 462.3h.4M310.4 458.4h.4M319.7 455.7h.4M314.3 458.4h.4M312.6 459.6h.4M317.5 453.4h.4M302.9 460.6h.4M290.1 460.0h.4M293.0 457.1h.4M296.0 457.5h.4M298.4 455.3h.4M294.5 457.8h.4M291.5 459.1h.4M307.1 461.8h.4M311.1 457.8h.4M313.1 456.8h.4M311.8 456.3h.4M301.7 457.9h.4M295.6 465.2h.4M308.2 467.9h.4M296.0 459.4h.4M303.3 453.4h.4M310.4 454.4h.4M312.4 460.1h.4M306.9 459.7h.4M299.6 457.1h.4M326.5 462.5h.4M307.0 457.5h.4M317.7 455.5h.4M301.6 457.8h.4M304.0 464.0h.4M304.6 462.3h.4M308.0 457.3h.4M325.5 456.6h.4M307.3 452.8h.4M305.8 461.5h.4M314.0 463.5h.4M304.9 460.1h.4M303.0 463.2h.4M307.5 460.9h.4M306.5 460.9h.4M305.0 458.4h.4M299.6 460.0h.4M293.7 457.2h.4M297.8 463.8h.4M310.3 460.1h.4M309.3 461.6h.4M303.7 458.3h.4M301.8 463.0h.4M323.9 462.3h.4M311.0 454.6h.4M297.5 465.4h.4M305.0 458.5h.4M312.4 457.0h.4M304.2 456.7h.4M316.6 458.8h.4M310.1 460.0h.4M311.3 463.4h.4M307.5 453.3h.4M304.7 460.2h.4M313.2 451.5h.4M307.4 459.5h.4M306.1 455.2h.4M306.8 460.6h.4M305.7 459.0h.4M322.6 451.6h.4M308.0 461.1h.4M308.7 457.8h.4M315.3 453.4h.4M300.5 461.2h.4M317.4 456.7h.4M305.5 453.8h.4M299.5 456.7h.4M303.1 452.3h.4M295.4 457.5h.4M311.5 458.1h.4M314.3 459.3h.4M314.5 459.6h.4M308.9 459.0h.4M308.9 464.3h.4M305.8 462.4h.4M309.8 457.1h.4M306.4 469.9h.4M302.4 457.1h.4M310.5 458.4h.4M294.8 459.7h.4M309.2 458.6h.4M299.3 458.9h.4M293.4 464.4h.4M303.9 458.4h.4M299.8 465.2h.4M328.2 452.7h.4M296.8 460.0h.4M304.5 454.8h.4M309.5 458.8h.4M304.0 459.6h.4M314.9 453.5h.4M304.3 459.4h.4M309.8 462.9h.4M300.3 456.3h.4M298.6 460.9h.4M308.7 460.5h.4M313.6 454.9h.4M311.8 460.5h.4M292.6 460.8h.4M302.7 460.2h.4M308.6 461.9h.4M310.4 462.1h.4M305.6 456.5h.4M309.2 452.6h.4M305.3 458.3h.4M295.4 456.3h.4M307.6 453.1h.4M308.0 458.8h.4M321.8 457.4h.4M290.9 460.8h.4M305.8 459.5h.4M312.7 459.4h.4M306.1 458.1h.4M314.8 458.8h.4M312.0 456.7h.4M306.9 456.6h.4M312.5 455.9h.4M300.5 452.1h.4M301.5 456.8h.4M305.8 461.0h.4M306.1 458.8h.4M308.6 453.6h.4M298.8 461.8h.4M316.8 458.3h.4M304.4 460.0h.4M316.0 463.0h.4M310.7 455.2h.4M301.7 453.6h.4M316.2 453.9h.4M297.9 455.8h.4M313.1 460.3h.4M304.9 451.6h.4M307.3 458.4h.4M302.7 453.8h.4M295.8 465.5h.4M310.6 457.7h.4M305.4 454.7h.4M313.8 461.1h.4M301.8 462.5h.4M311.9 458.2h.4M312.0 450.8h.4M306.2 457.2h.4M312.3 460.8h.4M303.4 455.7h.4M295.7 462.7h.4M306.6 458.4h.4M309.6 455.5h.4M310.8 459.1h.4M316.2 455.9h.4M307.8 461.4h.4M318.4 459.1h.4M311.0 457.2h.4M311.7 458.3h.4M301.0 460.2h.4M295.7 460.3h.4M305.4 460.5h.4M297.2 456.6h.4M303.4 458.9h.4M303.3 459.7h.4M302.2 461.6h.4M307.7 458.6h.4M309.5 459.9h.4M309.8 454.2h.4M316.9 455.5h.4M314.9 452.3h.4M316.6 457.4h.4M313.0 457.9h.4M306.1 458.0h.4M313.3 454.0h.4M315.6 456.9h.4M307.3 457.8h.4M305.7 466.3h.4M307.6 453.8h.4M297.4 455.7h.4M300.0 456.3h.4M291.6 459.7h.4M322.5 459.5h.4M303.8 457.5h.4M311.5 466.4h.4M309.6 459.9h.4M305.5 454.9h.4M311.5 455.3h.4M301.2 460.0h.4M312.4 457.1h.4M309.1 455.5h.4M311.8 458.9h.4M302.8 457.7h.4M311.2 459.9h.4M300.8 458.5h.4M316.4 458.9h.4M308.0 462.4h.4M312.4 462.0h.4M315.1 458.1h.4M305.4 455.1h.4M300.7 455.4h.4M302.7 460.8h.4M318.0 460.6h.4M300.3 460.4h.4M314.3 454.9h.4M307.6 454.1h.4M303.0 460.6h.4M289.1 461.2h.4M315.7 458.5h.4M315.0 460.1h.4M307.2 459.6h.4M315.7 454.5h.4M296.9 458.7h.4M305.0 454.9h.4M307.7 456.0h.4M313.6 461.0h.4M308.1 458.2h.4M301.9 455.5h.4M323.1 459.1h.4M315.6 460.6h.4M313.9 456.0h.4M307.1 452.4h.4M289.7 461.2h.4M308.2 459.8h.4M307.3 461.0h.4M303.7 461.5h.4M306.7 462.2h.4M302.2 459.9h.4M302.8 462.0h.4M296.0 458.6h.4M311.4 464.0h.4M308.2 456.7h.4M310.0 465.5h.4M316.2 460.3h.4M316.8 461.5h.4M307.7 455.0h.4M305.2 459.1h.4M309.2 458.8h.4M294.4 460.0h.4M308.9 448.5h.4M312.4 460.5h.4M301.6 461.3h.4M311.5 458.6h.4M311.7 458.2h.4M295.1 458.9h.4M309.4 458.9h.4M314.0 456.8h.4M325.9 452.3h.4M318.7 456.2h.4M302.4 456.0h.4M315.6 455.5h.4M304.3 467.1h.4M305.5 461.8h.4M312.7 454.3h.4M306.9 458.2h.4M304.1 463.1h.4M309.5 458.1h.4M306.2 458.6h.4M298.7 463.2h.4M299.5 459.9h.4M311.5 458.5h.4M300.3 464.8h.4M318.8 461.3h.4M298.3 463.9h.4M290.6 458.2h.4M308.4 463.6h.4M302.6 460.0h.4M308.8 460.2h.4M308.5 462.4h.4M298.4 461.9h.4M307.6 457.0h.4M309.8 463.0h.4M303.9 461.4h.4M323.4 455.9h.4M305.8 460.5h.4M298.7 458.0h.4M303.4 460.9h.4M311.4 460.1h.4M309.4 458.9h.4M309.2 460.8h.4M314.3 460.9h.4M308.9 461.3h.4M304.3 457.0h.4M304.4 466.5h.4M319.9 463.6h.4M311.0 457.3h.4M294.4 458.5h.4M302.8 462.4h.4M312.8 458.2h.4M305.8 454.0h.4M297.3 459.1h.4M301.0 455.6h.4M306.5 458.9h.4M302.4 465.5h.4M317.8 463.9h.4M302.4 459.7h.4M313.6 457.1h.4M310.0 455.7h.4M322.3 454.3h.4M304.5 462.5h.4M303.9 458.3h.4M301.8 458.6h.4M311.0 458.5h.4M312.4 462.4h.4M316.5 447.9h.4M312.3 451.7h.4M305.1 458.2h.4M309.7 450.6h.4M304.5 454.0h.4M305.9 462.9h.4M299.6 456.2h.4M309.0 465.9h.4M308.9 457.3h.4M295.2 462.4h.4M303.9 460.6h.4M321.9 458.8h.4M315.6 454.1h.4M302.8 457.5h.4M312.4 455.6h.4M304.5 459.9h.4M325.3 458.6h.4M322.1 453.8h.4M302.4 456.3h.4M306.9 461.8h.4M289.7 461.9h.4M309.3 461.8h.4M309.7 458.7h.4M309.0 461.1h.4M296.3 461.3h.4M311.3 452.8h.4M312.5 458.2h.4M303.0 464.8h.4M315.7 460.7h.4M305.2 460.1h.4M313.7 457.3h.4M318.0 457.7h.4M318.0 459.1h.4M299.8 459.8h.4M305.3 456.9h.4M309.4 456.5h.4M299.3 456.4h.4M291.7 462.8h.4M305.1 452.9h.4M314.7 459.3h.4M304.4 457.4h.4M318.9 456.3h.4M309.2 459.0h.4M302.1 462.7h.4M305.6 457.1h.4M311.8 464.2h.4M296.9 461.4h.4M299.8 462.7h.4M303.5 460.0h.4M298.5 458.4h.4M303.3 458.2h.4M314.4 454.7h.4M312.2 462.8h.4M300.5 461.8h.4M308.4 462.1h.4M316.5 461.2h.4M302.9 454.6h.4M308.3 459.7h.4M314.6 458.0h.4M306.2 454.9h.4M309.1 460.3h.4M303.1 461.1h.4M299.5 466.2h.4M319.4 463.6h.4M314.5 459.8h.4M303.2 448.9h.4M318.1 459.3h.4M305.5 458.9h.4M305.2 455.2h.4M308.5 455.6h.4M303.4 462.3h.4M309.4 455.8h.4M297.4 463.9h.4M302.4 460.1h.4M296.4 456.9h.4M311.4 458.4h.4M302.4 458.8h.4M301.5 460.9h.4M312.0 453.8h.4M298.1 459.6h.4M300.7 454.6h.4M318.2 456.3h.4M299.0 460.5h.4M318.9 463.1h.4M319.9 455.7h.4M318.9 458.0h.4M312.9 460.3h.4M318.0 455.7h.4M313.8 457.1h.4M308.7 458.2h.4M308.1 460.5h.4M301.9 459.8h.4M304.0 462.7h.4M304.0 462.2h.4M311.1 463.7h.4M307.6 460.0h.4M306.5 459.2h.4M307.5 456.3h.4M304.9 461.4h.4M324.3 456.6h.4M299.9 459.7h.4M314.6 463.2h.4M305.3 465.9h.4M299.6 454.5h.4M305.3 458.3h.4M311.5 456.9h.4M312.6 453.3h.4M297.7 452.8h.4M305.9 454.7h.4M303.7 458.3h.4M302.3 454.7h.4M307.3 452.5h.4M313.7 456.4h.4M308.4 461.9h.4M299.2 465.9h.4M306.2 457.2h.4M306.4 457.6h.4M317.0 453.9h.4M314.6 460.0h.4M296.4 456.1h.4M299.3 460.3h.4M307.2 459.7h.4M311.5 456.9h.4M308.8 459.6h.4M311.1 456.5h.4M297.3 455.4h.4M307.3 458.6h.4M314.2 461.0h.4M305.6 470.6h.4M317.6 455.8h.4M313.3 460.3h.4M307.8 459.2h.4M309.5 464.0h.4M312.5 459.5h.4M306.8 464.8h.4M301.5 458.7h.4M309.1 462.2h.4M307.7 454.3h.4M315.2 457.1h.4M313.3 458.2h.4M290.7 458.1h.4M312.5 453.9h.4M303.8 460.7h.4M309.3 462.7h.4M311.1 458.1h.4M294.0 466.3h.4M315.8 459.6h.4M309.5 455.0h.4M301.6 460.4h.4M301.5 465.0h.4M313.5 456.3h.4M305.4 459.6h.4M312.0 455.5h.4M309.2 455.1h.4M310.2 458.1h.4M293.5 462.9h.4M300.4 460.4h.4M308.1 455.1h.4M310.0 457.7h.4M311.8 458.6h.4M309.1 457.9h.4M317.7 458.2h.4M297.8 459.8h.4M310.8 449.3h.4M302.1 454.1h.4M299.0 460.5h.4M307.4 453.1h.4M303.6 455.6h.4M314.6 458.9h.4M305.4 461.4h.4M306.4 463.7h.4M308.7 456.2h.4M310.5 453.8h.4M315.0 451.4h.4M313.3 459.4h.4M302.5 455.9h.4M297.9 465.0h.4M306.0 462.6h.4M312.9 463.4h.4M311.0 459.1h.4M306.5 457.7h.4M307.3 459.0h.4M297.2 452.0h.4M303.6 457.8h.4M313.7 460.0h.4M306.0 459.3h.4M312.3 456.2h.4M312.2 458.9h.4M316.7 461.4h.4M310.1 466.2h.4M300.3 459.4h.4M300.9 457.7h.4M320.0 456.4h.4M309.9 461.4h.4M319.2 448.5h.4M300.3 463.3h.4M306.6 459.4h.4M302.8 463.7h.4M317.5 457.9h.4M311.1 451.4h.4M302.4 456.9h.4M320.6 461.2h.4M299.0 464.0h.4M307.9 451.8h.4M315.0 459.7h.4M309.0 460.8h.4M308.6 460.5h.4M313.0 458.6h.4M300.1 464.1h.4M308.2 457.9h.4M309.5 455.2h.4M310.0 458.4h.4M293.2 459.0h.4M312.8 459.5h.4M307.8 452.5h.4M309.2 464.0h.4M305.1 460.5h.4M294.9 464.7h.4M301.2 458.2h.4M312.0 457.0h.4M294.3 458.3h.4M310.5 457.1h.4M311.3 458.4h.4M298.5 461.7h.4M299.5 455.6h.4M305.7 462.2h.4M310.1 459.1h.4M301.4 461.0h.4M297.0 460.5h.4M307.7 458.9h.4M307.5 462.0h.4M304.7 462.0h.4M314.5 459.0h.4M314.0 456.8h.4M306.3 456.0h.4M307.1 459.5h.4M313.0 460.1h.4M319.3 459.9h.4M303.9 458.5h.4M309.6 463.8h.4M309.6 456.0h.4M299.2 456.9h.4M302.0 459.4h.4M301.0 453.9h.4M313.8 454.9h.4M306.7 460.1h.4M308.1 456.2h.4M313.5 457.3h.4M301.7 455.3h.4M318.2 461.4h.4M305.4 458.1h.4M307.4 461.3h.4M296.1 460.0h.4M306.6 463.4h.4M315.4 457.1h.4M305.2 460.0h.4M290.5 460.0h.4M295.8 455.0h.4M306.0 455.8h.4M309.9 458.3h.4M308.7 461.8h.4M320.3 457.4h.4M299.7 459.1h.4M309.6 457.9h.4M320.5 460.5h.4M307.7 456.9h.4M306.2 459.3h.4M300.5 462.5h.4M310.9 458.5h.4M311.6 452.3h.4M316.7 456.6h.4M298.7 457.8h.4M309.2 454.7h.4M319.7 456.8h.4M304.6 462.2h.4M303.2 461.1h.4M307.0 460.5h.4M311.2 455.0h.4M299.2 455.5h.4M306.2 455.1h.4M317.6 459.8h.4M305.6 456.1h.4M309.4 456.3h.4M320.0 453.1h.4M311.0 456.2h.4M294.3 463.8h.4M325.6 458.7h.4M305.5 466.3h.4M313.3 459.2h.4M306.5 463.1h.4M309.1 462.2h.4M312.3 456.9h.4M297.5 462.0h.4M297.6 460.3h.4M302.0 457.6h.4M317.4 458.0h.4M311.3 460.6h.4M308.2 458.7h.4M301.7 464.6h.4M314.7 461.1h.4M300.9 458.0h.4M311.0 461.8h.4M300.3 456.7h.4M318.9 449.3h.4M299.2 459.9h.4M289.8 460.5h.4M312.2 466.6h.4M316.2 461.7h.4M310.5 452.3h.4M315.9 457.9h.4M307.9 457.4h.4M304.6 461.7h.4M305.2 455.7h.4M311.4 454.7h.4M312.3 461.6h.4M302.8 459.8h.4M300.5 456.1h.4M308.1 460.7h.4M294.8 459.7h.4M310.0 459.4h.4M323.4 455.1h.4M300.3 451.2h.4M313.3 457.3h.4M309.5 461.0h.4M309.0 462.6h.4M307.8 458.2h.4M309.4 454.8h.4M310.0 457.1h.4M307.7 459.8h.4M309.8 460.0h.4M309.4 461.8h.4M313.2 458.6h.4M301.8 460.3h.4M305.7 464.6h.4M308.4 455.1h.4M320.0 458.0h.4M315.8 457.0h.4M304.2 461.1h.4M311.1 456.8h.4M315.7 451.4h.4M322.4 460.7h.4M307.3 459.6h.4M305.2 459.4h.4M309.6 456.1h.4M301.7 458.6h.4M306.6 458.6h.4M302.7 452.6h.4M299.3 454.9h.4M319.1 455.8h.4M302.1 461.5h.4M299.0 459.3h.4M297.5 458.4h.4M302.9 459.2h.4M300.1 456.3h.4M298.5 462.1h.4M306.9 461.5h.4M294.8 458.6h.4M309.5 459.2h.4M302.3 459.4h.4M301.8 459.7h.4M314.7 456.2h.4M307.3 460.5h.4M308.9 460.1h.4M299.3 461.6h.4M319.4 456.7h.4M311.4 458.0h.4M308.1 461.2h.4M315.1 461.5h.4M319.5 460.2h.4M296.3 464.9h.4M300.0 457.2h.4M313.0 456.7h.4M304.2 459.9h.4M298.4 456.2h.4M313.0 456.1h.4M296.1 463.3h.4M302.4 459.7h.4M316.6 459.8h.4M313.3 459.3h.4M305.2 460.1h.4M317.1 461.2h.4M306.5 455.5h.4M294.2 454.0h.4M308.3 456.8h.4M320.9 454.6h.4M319.6 456.5h.4M299.8 457.6h.4M293.5 459.1h.4M309.8 456.3h.4M304.1 450.6h.4M303.4 455.1h.4M306.5 454.0h.4M292.9 453.0h.4M310.8 455.1h.4M306.3 457.6h.4M307.6 456.4h.4M294.1 460.8h.4M312.6 459.8h.4M311.2 458.1h.4M293.7 460.1h.4M313.7 456.7h.4M296.8 460.2h.4M312.3 451.6h.4M285.3 461.0h.4M308.6 458.5h.4M294.3 458.8h.4M315.3 460.9h.4M297.8 450.4h.4M298.4 470.6h.4M302.6 461.6h.4M298.3 464.5h.4M313.9 463.5h.4M306.6 459.2h.4M293.4 462.5h.4M342.3 468.6h.4M284.4 459.0h.4M304.4 454.9h.4M304.1 455.4h.4M293.6 458.6h.4M296.1 453.0h.4M302.1 457.3h.4M299.4 451.1h.4M310.8 461.7h.4M292.7 463.1h.4M306.8 469.6h.4M327.3 456.2h.4M308.0 461.3h.4M307.9 459.4h.4M307.3 465.8h.4M325.4 463.5h.4M316.4 466.6h.4M292.3 458.6h.4M303.8 456.5h.4M329.6 452.4h.4M300.8 464.5h.4M286.1 465.7h.4M311.3 461.2h.4M308.8 456.7h.4M290.8 459.8h.4M316.5 459.4h.4M306.0 456.2h.4M315.1 456.5h.4M304.1 452.3h.4M305.6 457.2h.4M307.6 462.1h.4M293.9 451.3h.4M314.6 458.4h.4M304.8 458.2h.4M302.2 472.0h.4M308.6 458.6h.4M303.8 469.9h.4M314.4 462.9h.4M312.8 450.5h.4M296.1 460.4h.4M317.0 440.5h.4M320.4 467.4h.4M296.3 462.2h.4M296.2 466.4h.4M300.5 459.9h.4M285.3 464.5h.4M304.1 462.9h.4M310.6 468.5h.4M288.9 454.5h.4M325.0 458.0h.4M294.4 454.0h.4M306.1 452.9h.4M307.5 455.1h.4M313.1 461.3h.4M314.6 446.8h.4M300.3 455.2h.4M314.4 461.2h.4M321.6 456.3h.4M341.4 446.6h.4M302.2 472.7h.4M288.3 455.7h.4M325.1 467.7h.4M305.5 459.4h.4M293.1 447.0h.4M312.9 454.9h.4M302.0 457.9h.4M309.9 454.0h.4M321.0 459.9h.4M318.1 456.2h.4M332.7 458.0h.4M326.7 457.5h.4M310.5 466.1h.4M293.8 463.3h.4M310.9 456.3h.4M301.2 459.3h.4M314.0 456.7h.4M312.0 465.3h.4M304.9 468.9h.4M299.8 458.5h.4M305.0 457.0h.4M308.8 468.7h.4M288.1 452.4h.4M307.4 457.3h.4M314.0 470.1h.4M309.6 458.2h.4M305.2 467.3h.4M302.4 468.1h.4M312.2 452.5h.4M307.8 455.3h.4M307.8 464.6h.4M295.7 458.7h.4M313.5 470.4h.4M306.7 469.4h.4M297.4 469.0h.4M290.7 445.9h.4M301.2 452.3h.4M306.1 461.3h.4M314.3 464.9h.4M306.0 453.6h.4M327.6 444.0h.4M291.8 457.8h.4M301.0 461.6h.4M318.0 456.5h.4M300.2 456.3h.4M302.1 466.7h.4M315.5 454.8h.4M313.0 456.1h.4M306.0 460.1h.4M291.8 457.5h.4M301.0 452.5h.4M294.6 458.8h.4M301.7 471.8h.4M301.0 460.4h.4M286.7 464.6h.4M294.0 464.8h.4M303.9 473.6h.4M302.5 476.6h.4M313.8 447.7h.4M319.4 457.4h.4M294.2 461.0h.4M298.1 460.3h.4M294.1 446.1h.4M291.0 456.8h.4M324.2 459.2h.4M297.4 460.4h.4M282.9 456.5h.4M289.2 443.4h.4M303.5 460.9h.4M289.9 450.6h.4M309.0 465.3h.4M294.9 461.6h.4M302.7 445.0h.4M323.5 450.4h.4M331.6 460.0h.4M315.2 459.0h.4M315.3 465.3h.4M290.3 465.9h.4M323.0 449.5h.4M290.0 460.9h.4M309.6 461.8h.4M321.5 450.0h.4M293.3 463.9h.4M312.7 458.6h.4M312.3 463.2h.4M300.9 460.5h.4M302.4 467.4h.4M292.3 453.0h.4M297.0 463.4h.4M295.7 454.0h.4M293.3 459.4h.4M304.3 467.0h.4M291.4 463.9h.4M309.3 469.6h.4M314.1 463.2h.4M288.0 462.7h.4M305.4 462.9h.4M304.1 470.4h.4M295.1 452.9h.4M303.5 453.6h.4M287.3 458.0h.4M321.6 461.7h.4M290.5 454.6h.4M309.5 456.4h.4M301.6 462.9h.4M310.8 464.4h.4M305.3 465.1h.4M297.2 452.0h.4M309.7 442.0h.4M310.2 462.1h.4M296.7 466.4h.4M295.1 463.2h.4M313.5 457.6h.4M288.6 453.3h.4M309.8 471.8h.4M315.2 466.8h.4M315.9 460.3h.4M297.6 450.0h.4M306.1 463.8h.4M293.8 453.6h.4M300.3 440.9h.4M303.9 462.8h.4M317.2 464.9h.4M314.0 461.1h.4M311.0 457.5h.4M307.8 465.2h.4M312.3 461.2h.4M313.9 461.2h.4M288.3 466.1h.4M313.0 459.5h.4M311.4 454.0h.4M313.8 452.3h.4M305.2 453.2h.4M311.6 465.6h.4M324.3 460.2h.4M292.8 471.0h.4M325.8 450.2h.4M310.7 456.6h.4M325.3 461.1h.4M328.2 456.0h.4M307.1 465.0h.4M311.5 473.4h.4M306.9 447.8h.4M284.4 454.6h.4M301.6 467.8h.4M305.3 471.3h.4M310.8 461.8h.4M307.7 453.2h.4M302.9 466.7h.4M311.7 466.9h.4M302.2 469.4h.4M300.8 455.5h.4M311.2 466.9h.4M310.3 459.5h.4M319.9 447.6h.4M290.9 459.2h.4M315.6 459.7h.4M317.0 466.1h.4M297.9 450.2h.4M304.0 465.0h.4M302.8 443.2h.4M298.5 452.9h.4M302.6 462.0h.4M315.1 463.2h.4M312.3 453.4h.4M312.4 455.4h.4M304.5 467.0h.4M321.1 449.7h.4M302.1 457.0h.4M317.1 459.0h.4M308.9 451.3h.4M340.1 463.8h.4M320.7 462.5h.4M315.9 460.0h.4M315.3 461.1h.4M296.5 449.9h.4M285.3 450.8h.4M287.5 451.3h.4M302.2 452.2h.4M308.5 454.9h.4M307.8 446.2h.4M293.6 459.1h.4M297.1 450.4h.4M320.8 452.7h.4M299.5 456.2h.4M295.4 450.2h.4M307.8 460.2h.4M302.1 450.0h.4M303.0 446.5h.4M319.2 457.6h.4M308.6 453.0h.4M309.2 461.1h.4M297.2 460.3h.4M326.6 448.8h.4M310.8 462.9h.4M319.8 443.9h.4M317.0 464.4h.4M328.1 464.4h.4M299.9 460.6h.4M303.1 460.9h.4M334.3 468.7h.4M295.6 470.1h.4M292.5 450.9h.4M309.4 466.7h.4M305.7 459.2h.4M285.2 455.4h.4M304.3 456.5h.4M298.3 449.5h.4M321.7 459.4h.4M317.8 462.8h.4M315.6 459.7h.4M293.1 452.4h.4M309.6 451.9h.4M303.6 452.3h.4M331.8 457.5h.4M319.3 460.9h.4M309.7 460.3h.4M301.9 463.5h.4M301.3 460.2h.4M316.0 449.8h.4M310.4 457.4h.4M306.5 469.9h.4M293.5 453.6h.4M294.2 461.3h.4M321.2 456.8h.4M295.1 464.3h.4M311.2 459.9h.4M298.2 469.6h.4M299.2 459.0h.4M306.0 475.4h.4M294.6 469.1h.4M290.7 458.5h.4M316.9 468.5h.4M312.0 455.3h.4M301.3 464.2h.4M312.6 453.7h.4M315.0 457.4h.4M315.0 460.7h.4M311.9 452.0h.4M305.2 453.3h.4M316.6 459.3h.4M312.7 468.6h.4M300.5 468.4h.4M288.2 449.2h.4M300.0 464.1h.4M309.2 456.1h.4M331.8 457.1h.4M284.8 451.4h.4M303.5 463.3h.4M290.8 456.5h.4M309.2 440.7h.4M317.2 464.0h.4M298.7 455.9h.4M290.6 464.3h.4M302.8 454.7h.4M290.7 462.0h.4M334.2 463.5h.4M302.4 458.4h.4M321.0 456.1h.4M294.4 461.1h.4M303.0 460.9h.4M284.0 467.5h.4M333.2 458.9h.4M303.5 457.5h.4M311.2 465.8h.4M310.2 461.0h.4M318.4 449.9h.4M297.6 449.5h.4M286.4 455.4h.4M304.5 449.4h.4M305.2 465.4h.4M296.8 454.2h.4M294.6 453.9h.4M321.7 470.0h.4M291.3 464.5h.4M308.0 458.6h.4M297.8 462.9h.4M313.3 458.7h.4M294.6 455.6h.4M324.9 457.5h.4M300.3 456.3h.4M302.3 463.3h.4M289.5 461.4h.4M284.2 456.1h.4M300.7 461.7h.4M312.0 455.8h.4M293.5 454.2h.4M296.6 473.2h.4M301.4 460.5h.4M306.6 454.9h.4M296.0 453.7h.4M326.5 457.0h.4M297.0 461.2h.4M319.1 469.6h.4M294.1 452.1h.4M298.0 457.7h.4M300.8 451.8h.4M298.3 480.9h.4M301.0 460.4h.4M292.4 467.4h.4M300.4 453.8h.4M326.4 469.9h.4M291.9 452.9h.4M290.4 472.1h.4M289.2 462.8h.4M321.5 466.6h.4M315.1 462.2h.4M287.9 458.7h.4M306.5 464.5h.4M302.9 459.4h.4M311.8 448.9h.4M304.4 470.5h.4M311.9 458.9h.4M290.3 467.1h.4M303.3 463.4h.4M309.7 453.1h.4M296.7 463.9h.4M319.6 461.7h.4M300.0 470.5h.4M314.7 469.5h.4M304.2 450.2h.4M302.0 463.7h.4M298.4 468.0h.4M298.1 457.3h.4M308.6 458.0h.4M312.6 451.8h.4M288.7 448.8h.4M317.7 473.9h.4M300.0 458.6h.4M324.0 454.8h.4M294.9 450.1h.4M309.7 453.8h.4M300.5 466.7h.4M311.8 451.0h.4M294.1 457.8h.4M314.6 459.0h.4M304.7 449.7h.4M315.5 455.8h.4M298.9 461.6h.4M287.1 457.8h.4M313.2 445.1h.4M331.5 453.7h.4M322.3 452.1h.4M285.6 464.7h.4M286.0 453.5h.4M287.4 466.0h.4M310.4 460.7h.4M333.1 455.1h.4M298.6 468.4h.4M320.7 465.1h.4M317.9 468.0h.4M294.7 465.4h.4M311.1 451.7h.4M299.5 469.8h.4M288.3 466.0h.4M308.8 457.7h.4M288.7 443.4h.4M313.7 454.1h.4M298.7 470.3h.4M317.8 457.3h.4M315.8 457.7h.4M327.3 465.5h.4M294.3 455.2h.4M300.8 456.9h.4M308.1 460.1h.4M298.5 450.6h.4M312.5 462.2h.4M318.3 470.8h.4M306.8 458.0h.4M297.0 464.5h.4M289.4 457.6h.4M334.6 459.5h.4M326.4 452.3h.4M306.9 462.9h.4M319.8 451.7h.4M312.5 462.9h.4M301.6 452.7h.4M293.7 475.8h.4M329.5 466.2h.4M307.8 465.7h.4M321.4 464.5h.4M320.5 467.1h.4M328.4 457.6h.4M313.5 454.4h.4M302.0 456.1h.4M301.4 467.2h.4M317.9 470.0h.4M317.2 450.1h.4M298.8 468.2h.4M305.8 473.5h.4M319.7 463.1h.4M284.0 461.7h.4M309.0 468.8h.4M296.8 460.2h.4M315.7 459.4h.4M305.9 453.1h.4M287.4 457.3h.4M304.8 459.9h.4M316.8 451.1h.4M295.6 472.6h.4M305.8 461.9h.4M319.0 452.3h.4M304.9 469.9h.4M314.7 467.9h.4M313.3 453.4h.4M314.7 454.3h.4M319.8 457.6h.4M314.0 462.0h.4M319.6 466.2h.4M300.8 460.3h.4M308.5 458.2h.4M312.2 464.5h.4M314.2 466.5h.4M307.4 468.1h.4M314.5 461.9h.4M334.5 462.3h.4M316.1 463.1h.4M315.3 470.2h.4M321.4 453.0h.4M316.7 462.1h.4M309.4 465.9h.4M320.7 465.2h.4M327.5 457.0h.4M310.5 460.3h.4M321.9 461.6h.4M325.1 466.2h.4M322.9 459.7h.4M306.1 451.1h.4M331.3 457.2h.4M320.3 454.1h.4M312.9 465.5h.4M309.0 473.1h.4M326.7 459.5h.4M323.2 461.1h.4M330.7 464.6h.4M311.0 471.2h.4M328.3 465.3h.4M313.1 460.8h.4M325.6 473.7h.4M306.0 457.5h.4M319.6 459.1h.4M323.5 458.0h.4M340.1 463.7h.4M312.7 464.1h.4M323.5 455.6h.4M313.2 461.0h.4M337.8 468.9h.4M328.6 466.9h.4M320.7 462.1h.4M328.1 471.3h.4M321.3 463.5h.4M314.8 466.0h.4M320.7 458.0h.4M304.6 464.1h.4M313.9 465.1h.4M323.6 464.0h.4M337.8 461.9h.4M317.2 460.8h.4M321.1 470.7h.4M320.4 453.6h.4M329.7 461.0h.4M318.3 468.5h.4M310.9 463.0h.4M316.9 465.9h.4M306.2 469.7h.4M331.6 458.3h.4M309.9 471.6h.4M320.0 458.6h.4M323.3 465.1h.4M309.9 463.4h.4M314.6 470.5h.4M332.4 453.9h.4M323.6 472.8h.4M336.2 463.0h.4M318.2 466.6h.4M337.1 466.1h.4M324.3 468.1h.4M324.5 469.4h.4M322.0 458.8h.4M315.2 455.6h.4M322.0 464.7h.4M315.6 472.6h.4M317.3 463.7h.4M320.3 464.8h.4M322.0 470.1h.4M323.0 464.0h.4M335.1 464.1h.4M303.1 459.4h.4M314.8 473.7h.4M317.7 457.1h.4M314.2 468.2h.4M331.6 461.6h.4M324.9 460.9h.4M326.7 464.4h.4M321.3 463.4h.4M323.1 461.8h.4M336.4 467.4h.4M324.2 464.2h.4M310.2 454.3h.4M309.0 459.7h.4M309.6 451.1h.4" stroke="#ec2424" stroke-width=".55" stroke-opacity=".75" fill="none"/>
</g>
<rect x="282" y="417.9" width="65.5" height="64.5" fill="none" stroke="#8a8a8a" stroke-width=".6"/>
<line x1="317.8" y1="417.9" x2="317.8" y2="482.4" stroke="#7a7a7a" stroke-width="0.6"/>
<line x1="282" y1="450.7" x2="347.5" y2="450.7" stroke="#7a7a7a" stroke-width="0.6"/>
<text x="283.8" y="422.9" font-size="3.3" text-anchor="start" fill="#333">Q2-UL(19.45%)</text>
<text x="346" y="422.9" font-size="3.3" text-anchor="end" fill="#333">Q2-UR(0.20%)</text>
<text x="283.8" y="480.2" font-size="3.3" text-anchor="start" fill="#333">Q2-LL(75.88%)</text>
<text x="346" y="480.2" font-size="3.3" text-anchor="end" fill="#333">Q2-LR(4.73%)</text>
<text x="314.75" y="416.3" font-size="3.3" text-anchor="middle" fill="#333">2-4 : P1</text>
<line x1="280.5" y1="482.4" x2="282" y2="482.4" stroke="#777" stroke-width="0.5"/>
<line x1="282" y1="482.4" x2="282" y2="483.9" stroke="#777" stroke-width="0.5"/>
<text x="282" y="487" font-size="2.8" text-anchor="middle" fill="#555">10</text>
<text x="279.8" y="483.4" font-size="2.8" text-anchor="end" fill="#555">10</text>
<line x1="280.5" y1="466.27" x2="282" y2="466.27" stroke="#777" stroke-width="0.5"/>
<line x1="298.38" y1="482.4" x2="298.38" y2="483.9" stroke="#777" stroke-width="0.5"/>
<text x="298.38" y="487" font-size="2.8" text-anchor="middle" fill="#555">10</text>
<text x="279.8" y="467.27" font-size="2.8" text-anchor="end" fill="#555">10</text>
<line x1="280.5" y1="450.15" x2="282" y2="450.15" stroke="#777" stroke-width="0.5"/>
<line x1="314.75" y1="482.4" x2="314.75" y2="483.9" stroke="#777" stroke-width="0.5"/>
<text x="314.75" y="487" font-size="2.8" text-anchor="middle" fill="#555">10</text>
<text x="279.8" y="451.15" font-size="2.8" text-anchor="end" fill="#555">10</text>
<line x1="280.5" y1="434.02" x2="282" y2="434.02" stroke="#777" stroke-width="0.5"/>
<line x1="331.12" y1="482.4" x2="331.12" y2="483.9" stroke="#777" stroke-width="0.5"/>
<text x="331.12" y="487" font-size="2.8" text-anchor="middle" fill="#555">10</text>
<text x="279.8" y="435.02" font-size="2.8" text-anchor="end" fill="#555">10</text>
<line x1="280.5" y1="417.9" x2="282" y2="417.9" stroke="#777" stroke-width="0.5"/>
<line x1="347.5" y1="482.4" x2="347.5" y2="483.9" stroke="#777" stroke-width="0.5"/>
<text x="347.5" y="487" font-size="2.8" text-anchor="middle" fill="#555">10</text>
<text x="279.8" y="418.9" font-size="2.8" text-anchor="end" fill="#555">10</text>
<text x="314.75" y="490.7" font-size="3" text-anchor="middle" fill="#444">CD206 APC-A</text>
<text x="0" y="0" font-size="3" text-anchor="middle" fill="#444" transform="translate(278.1 450.15) rotate(-90)">CD86 FITC-A</text>
<line x1="19.3" y1="500.3" x2="19.3" y2="452.5" stroke="#111" stroke-width="1.1"/>
<path d="M19.3 449.2L16.6 455.2L22 455.2Z" fill="#111"/>
<line x1="19.3" y1="500.3" x2="75" y2="500.3" stroke="#111" stroke-width="1.1"/>
<path d="M78.3 500.3L72.3 497.6L72.3 503Z" fill="#111"/>
<text x="0" y="0" font-size="8.4" text-anchor="middle" fill="#1a1a1a" transform="translate(14.0 476.0) rotate(-90)">F4/80<tspan font-size="5" dy="-3.2">+</tspan><tspan dy="3.2">CD86</tspan><tspan font-size="5" dy="-3.2">+</tspan></text>
<text x="18.4" y="511.2" font-size="8.6" fill="#1a1a1a">F4/80<tspan font-size="5" dy="-3.2">+</tspan><tspan dy="3.2">CD206</tspan><tspan font-size="5" dy="-3.2">+</tspan></text>
<line x1="387" y1="378.7" x2="387" y2="434.2" stroke="#262626" stroke-width="1"/>
<line x1="387" y1="442.6" x2="387" y2="498.4" stroke="#262626" stroke-width="1"/>
<line x1="383" y1="427.2" x2="387" y2="427.2" stroke="#262626" stroke-width="1"/>
<text x="0" y="0" font-size="8.9" text-anchor="end" fill="#1a1a1a" transform="translate(381.6 430.35) scale(0.93 1)">20</text>
<line x1="383" y1="415.2" x2="387" y2="415.2" stroke="#262626" stroke-width="1"/>
<text x="0" y="0" font-size="8.9" text-anchor="end" fill="#1a1a1a" transform="translate(381.6 418.35) scale(0.93 1)">25</text>
<line x1="383" y1="403.2" x2="387" y2="403.2" stroke="#262626" stroke-width="1"/>
<text x="0" y="0" font-size="8.9" text-anchor="end" fill="#1a1a1a" transform="translate(381.6 406.35) scale(0.93 1)">30</text>
<line x1="383" y1="391.2" x2="387" y2="391.2" stroke="#262626" stroke-width="1"/>
<text x="0" y="0" font-size="8.9" text-anchor="end" fill="#1a1a1a" transform="translate(381.6 394.35) scale(0.93 1)">35</text>
<line x1="383" y1="379.2" x2="387" y2="379.2" stroke="#262626" stroke-width="1"/>
<text x="0" y="0" font-size="8.9" text-anchor="end" fill="#1a1a1a" transform="translate(381.6 382.35) scale(0.93 1)">40</text>
<line x1="383" y1="497.9" x2="387" y2="497.9" stroke="#262626" stroke-width="1"/>
<text x="0" y="0" font-size="8.9" text-anchor="end" fill="#1a1a1a" transform="translate(381.6 501.05) scale(0.93 1)">0</text>
<line x1="383" y1="479.5" x2="387" y2="479.5" stroke="#262626" stroke-width="1"/>
<text x="0" y="0" font-size="8.9" text-anchor="end" fill="#1a1a1a" transform="translate(381.6 482.65) scale(0.93 1)">2</text>
<line x1="383" y1="461.1" x2="387" y2="461.1" stroke="#262626" stroke-width="1"/>
<text x="0" y="0" font-size="8.9" text-anchor="end" fill="#1a1a1a" transform="translate(381.6 464.25) scale(0.93 1)">4</text>
<line x1="383" y1="442.7" x2="387" y2="442.7" stroke="#262626" stroke-width="1"/>
<text x="0" y="0" font-size="8.9" text-anchor="end" fill="#1a1a1a" transform="translate(381.6 445.85) scale(0.93 1)">6</text>
<line x1="384.2" y1="434.2" x2="390.2" y2="434.2" stroke="#262626" stroke-width="1"/>
<line x1="387" y1="442.6" x2="390.2" y2="442.6" stroke="#262626" stroke-width="1"/>
<line x1="387" y1="497.9" x2="619" y2="497.9" stroke="#262626" stroke-width="1"/>
<line x1="442.4" y1="497.9" x2="442.4" y2="503.7" stroke="#262626" stroke-width="1"/>
<rect x="395.55" y="493.76" width="17.1" height="4.14" fill="#dcdddd" stroke="#262626" stroke-width="1"/>
<rect x="421.35" y="429.12" width="17.1" height="5.08" fill="#efca9b" stroke="#262626" stroke-width="1"/>
<path d="M421.35 442.6V497.9H438.45V442.6" fill="#efca9b" stroke="#262626" stroke-width="1"/>
<rect x="421.85" y="442.6" width="16.1" height="54.8" fill="#efca9b"/>
<rect x="447.15" y="393.36" width="17.1" height="40.84" fill="#5673b7" stroke="#262626" stroke-width="1"/>
<path d="M447.15 442.6V497.9H464.25V442.6" fill="#5673b7" stroke="#262626" stroke-width="1"/>
<rect x="447.65" y="442.6" width="16.1" height="54.8" fill="#5673b7"/>
<rect x="472.75" y="426.24" width="17.1" height="7.96" fill="#a2e0e0" stroke="#262626" stroke-width="1"/>
<path d="M472.75 442.6V497.9H489.85V442.6" fill="#a2e0e0" stroke="#262626" stroke-width="1"/>
<rect x="473.25" y="442.6" width="16.1" height="54.8" fill="#a2e0e0"/>
<line x1="562.6" y1="497.9" x2="562.6" y2="503.7" stroke="#262626" stroke-width="1"/>
<rect x="515.75" y="496.52" width="17.1" height="1.38" fill="#dcdddd" stroke="#262626" stroke-width="1"/>
<rect x="541.55" y="454.38" width="17.1" height="43.52" fill="#efca9b" stroke="#262626" stroke-width="1"/>
<rect x="567.35" y="469.01" width="17.1" height="28.89" fill="#5673b7" stroke="#262626" stroke-width="1"/>
<rect x="592.95" y="450.06" width="17.1" height="47.84" fill="#a2e0e0" stroke="#262626" stroke-width="1"/>
<circle cx="398.4" cy="493.36" r="1.71" fill="#e8373c"/>
<circle cx="402.2" cy="494.16" r="1.71" fill="#e8373c"/>
<circle cx="406" cy="493.36" r="1.71" fill="#e8373c"/>
<circle cx="409.8" cy="494.16" r="1.71" fill="#e8373c"/>
<line x1="404.1" y1="493.3" x2="404.1" y2="494.22" stroke="#262626" stroke-width="1"/>
<line x1="399.9" y1="493.3" x2="408.3" y2="493.3" stroke="#262626" stroke-width="1"/>
<line x1="399.9" y1="494.22" x2="408.3" y2="494.22" stroke="#262626" stroke-width="1"/>
<rect x="422.1" y="425.3" width="3.4" height="3.4" fill="#e8373c"/>
<rect x="428.3" y="423.5" width="3.4" height="3.4" fill="#e8373c"/>
<rect x="428.3" y="427.8" width="3.4" height="3.4" fill="#e8373c"/>
<rect x="434.3" y="430.3" width="3.4" height="3.4" fill="#e8373c"/>
<line x1="429.9" y1="426.4" x2="429.9" y2="432.2" stroke="#262626" stroke-width="1"/>
<line x1="425.7" y1="426.4" x2="434.1" y2="426.4" stroke="#262626" stroke-width="1"/>
<line x1="425.7" y1="432.2" x2="434.1" y2="432.2" stroke="#262626" stroke-width="1"/>
<path d="M455.3 383.45L457.75 387.74L452.85 387.74Z" fill="#e8373c"/>
<path d="M451.4 388.55L453.85 392.84L448.95 392.84Z" fill="#e8373c"/>
<path d="M460 390.85L462.45 395.14L457.55 395.14Z" fill="#e8373c"/>
<path d="M455.3 401.15L457.75 405.44L452.85 405.44Z" fill="#e8373c"/>
<line x1="455.7" y1="385.5" x2="455.7" y2="400.7" stroke="#262626" stroke-width="1"/>
<line x1="451.5" y1="385.5" x2="459.9" y2="385.5" stroke="#262626" stroke-width="1"/>
<line x1="451.5" y1="400.7" x2="459.9" y2="400.7" stroke="#262626" stroke-width="1"/>
<path d="M476.3 424.75L478.75 420.46L473.85 420.46Z" fill="#e8373c"/>
<path d="M485.7 425.55L488.15 421.26L483.25 421.26Z" fill="#e8373c"/>
<path d="M477.5 429.45L479.95 425.16L475.05 425.16Z" fill="#e8373c"/>
<path d="M485.1 432.35L487.55 428.06L482.65 428.06Z" fill="#e8373c"/>
<line x1="481.3" y1="423.1" x2="481.3" y2="429.3" stroke="#262626" stroke-width="1"/>
<line x1="477.1" y1="423.1" x2="485.5" y2="423.1" stroke="#262626" stroke-width="1"/>
<line x1="477.1" y1="429.3" x2="485.5" y2="429.3" stroke="#262626" stroke-width="1"/>
<circle cx="518.6" cy="496.12" r="1.71" fill="#e8373c"/>
<circle cx="522.4" cy="496.92" r="1.71" fill="#e8373c"/>
<circle cx="526.2" cy="496.12" r="1.71" fill="#e8373c"/>
<circle cx="530" cy="496.92" r="1.71" fill="#e8373c"/>
<line x1="524.3" y1="496.34" x2="524.3" y2="496.7" stroke="#262626" stroke-width="1"/>
<line x1="520.1" y1="496.34" x2="528.5" y2="496.34" stroke="#262626" stroke-width="1"/>
<line x1="520.1" y1="496.7" x2="528.5" y2="496.7" stroke="#262626" stroke-width="1"/>
<rect x="548.49" y="450.14" width="3.23" height="3.23" fill="#e8373c"/>
<rect x="544.49" y="452.57" width="3.23" height="3.23" fill="#e8373c"/>
<rect x="552.49" y="453.09" width="3.23" height="3.23" fill="#e8373c"/>
<rect x="548.49" y="455.4" width="3.23" height="3.23" fill="#e8373c"/>
<line x1="550.1" y1="452.36" x2="550.1" y2="456.41" stroke="#262626" stroke-width="1"/>
<line x1="545.9" y1="452.36" x2="554.3" y2="452.36" stroke="#262626" stroke-width="1"/>
<line x1="545.9" y1="456.41" x2="554.3" y2="456.41" stroke="#262626" stroke-width="1"/>
<path d="M575.9 463.1L578.23 467.17L573.57 467.17Z" fill="#e8373c"/>
<path d="M571.9 466.41L574.23 470.48L569.57 470.48Z" fill="#e8373c"/>
<path d="M579.9 467.13L582.23 471.2L577.57 471.2Z" fill="#e8373c"/>
<path d="M575.9 470.27L578.23 474.35L573.57 474.35Z" fill="#e8373c"/>
<line x1="575.9" y1="466.25" x2="575.9" y2="471.77" stroke="#262626" stroke-width="1"/>
<line x1="571.7" y1="466.25" x2="580.1" y2="466.25" stroke="#262626" stroke-width="1"/>
<line x1="571.7" y1="471.77" x2="580.1" y2="471.77" stroke="#262626" stroke-width="1"/>
<path d="M595.8 451.99L598.13 447.91L593.47 447.91Z" fill="#e8373c"/>
<path d="M599.6 452.79L601.93 448.71L597.27 448.71Z" fill="#e8373c"/>
<path d="M603.4 451.99L605.73 447.91L601.07 447.91Z" fill="#e8373c"/>
<path d="M607.2 452.79L609.53 448.71L604.87 448.71Z" fill="#e8373c"/>
<line x1="601.5" y1="448.96" x2="601.5" y2="451.16" stroke="#262626" stroke-width="1"/>
<line x1="597.3" y1="448.96" x2="605.7" y2="448.96" stroke="#262626" stroke-width="1"/>
<line x1="597.3" y1="451.16" x2="605.7" y2="451.16" stroke="#262626" stroke-width="1"/>
<line x1="404.4" y1="418.4" x2="429.6" y2="418.4" stroke="#262626" stroke-width="1"/>
<text x="417" y="417.75" font-size="10.8" text-anchor="middle" fill="#1a1a1a">**</text>
<line x1="430.4" y1="381.4" x2="455.3" y2="381.4" stroke="#262626" stroke-width="1"/>
<text x="442.85" y="381.15" font-size="10.8" text-anchor="middle" fill="#1a1a1a">**</text>
<line x1="456.1" y1="372.8" x2="481.8" y2="372.8" stroke="#262626" stroke-width="1"/>
<text x="468.95" y="372.95" font-size="10.8" text-anchor="middle" fill="#1a1a1a">**</text>
<line x1="522" y1="446.5" x2="548.5" y2="446.5" stroke="#262626" stroke-width="1"/>
<text x="535.25" y="446.15" font-size="10.8" text-anchor="middle" fill="#1a1a1a">**</text>
<text x="442.4" y="512.2" font-size="8.3" text-anchor="middle" fill="#1a1a1a">F4/80 +CD86+</text>
<text x="562.4" y="512.2" font-size="8.3" text-anchor="middle" fill="#1a1a1a">F4/80 +CD206+</text>
<text x="0" y="0" font-size="10.05" text-anchor="middle" fill="#1a1a1a" transform="translate(364.4 435.1) rotate(-90)">Cell percentage (%)</text>
<rect x="503.5" y="371.2" width="10.3" height="4.6" fill="#dcdddd" stroke="#333" stroke-width="0.9"/>
<text x="520.2" y="375.9" font-size="8.2" text-anchor="start" fill="#1a1a1a">HNEpC</text>
<rect x="503.5" y="384.7" width="10.3" height="4.6" fill="#efca9b" stroke="#333" stroke-width="0.9"/>
<text x="520.2" y="389.4" font-size="8.2" text-anchor="start" fill="#1a1a1a">OVA-HNEpC+OE-NC</text>
<rect x="503.5" y="398.3" width="10.3" height="4.6" fill="#5673b7" stroke="#333" stroke-width="0.9"/>
<text x="520.2" y="403" font-size="8.2" text-anchor="start" fill="#1a1a1a">OVA-HNEpC+OE-METTL3</text>
<rect x="503.5" y="411.8" width="10.3" height="4.6" fill="#a2e0e0" stroke="#333" stroke-width="0.9"/>
<text x="520.2" y="416.5" font-size="8.2" text-anchor="start" fill="#1a1a1a">OVA-HNEpC +OE-METTL3+sh-circCDKAL1</text>
</svg></body></html>
